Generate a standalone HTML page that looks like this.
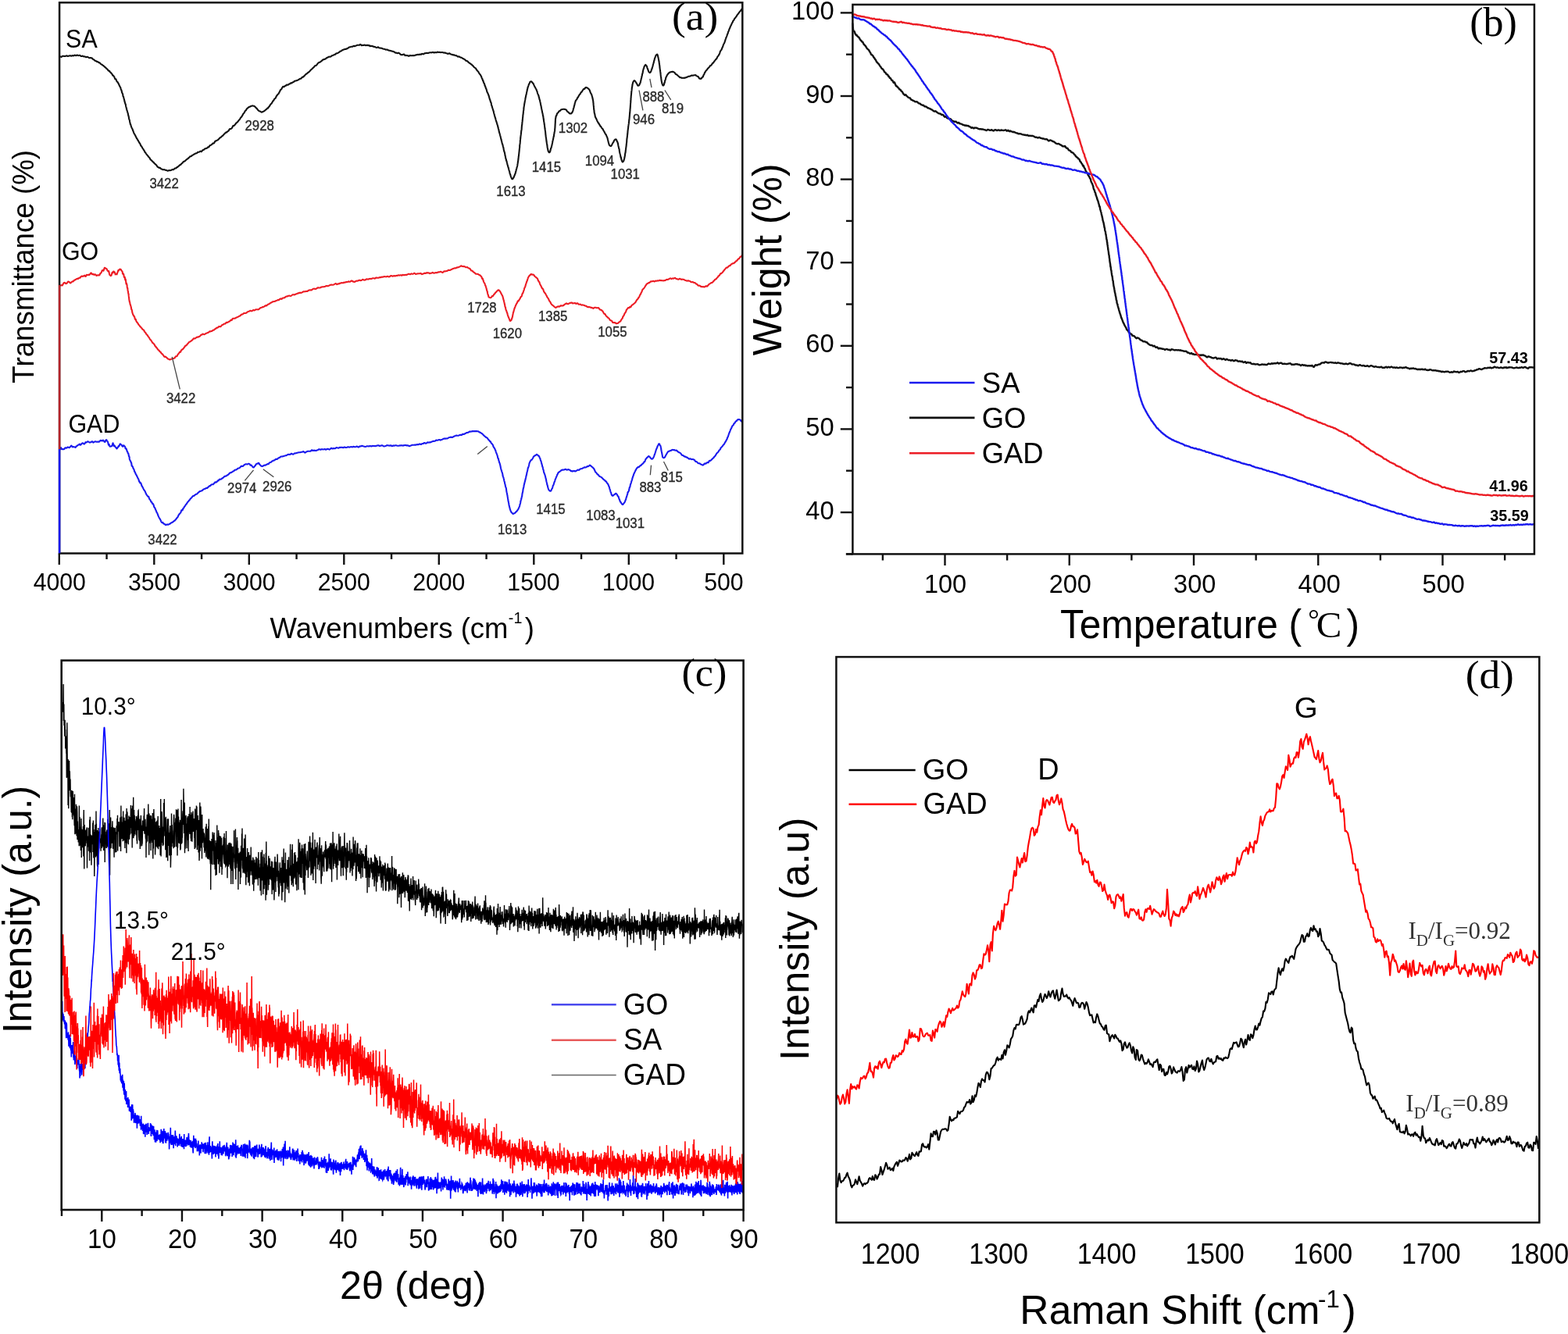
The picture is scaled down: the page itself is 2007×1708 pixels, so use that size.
<!DOCTYPE html>
<html><head><meta charset="utf-8"><title>Figure</title>
<style>html,body{margin:0;padding:0;background:#fff;}svg{display:block;}</style></head>
<body><svg width="2007" height="1708" viewBox="0 0 2007 1708">
<rect x="0" y="0" width="2007" height="1708" fill="#fff"/>
<polyline points="76.7,72.2 77.6,72.6 78.5,72.9 79.4,72.3 80.3,71.7 81.2,71.7 82.1,71.9 83.0,72.0 83.9,71.9 84.8,71.3 85.7,71.5 86.6,72.0 87.5,71.7 88.4,71.6 89.3,71.2 90.2,71.3 91.1,71.7 92.0,71.4 92.9,71.1 93.8,71.4 94.7,71.2 95.6,70.5 96.5,70.9 97.4,71.2 98.3,70.6 99.2,70.6 100.1,71.1 101.0,71.0 101.9,70.8 102.8,71.2 103.7,72.0 104.6,72.0 105.4,71.6 106.3,71.9 107.2,72.5 108.1,72.4 109.0,72.5 109.9,73.1 110.8,73.1 111.6,72.7 112.5,73.1 113.4,73.7 114.2,74.2 115.1,74.1 115.9,73.9 116.7,74.3 117.6,74.4 118.4,75.1 119.2,76.1 120.0,76.3 120.8,76.9 121.6,77.8 122.4,78.0 123.2,78.3 123.9,78.9 124.7,78.9 125.5,79.2 126.2,80.2 127.0,80.1 127.7,80.5 128.5,81.4 129.2,82.1 130.0,82.5 130.7,82.8 131.4,83.6 132.1,83.9 132.8,84.5 133.6,85.3 134.3,85.8 135.0,86.3 135.6,87.0 136.3,87.9 137.0,88.2 137.6,88.8 138.3,89.8 138.9,90.7 139.5,90.6 140.2,91.0 140.8,92.2 141.4,92.7 141.9,93.0 142.5,94.0 143.1,94.6 143.7,95.2 144.2,96.5 144.8,96.7 145.3,97.0 145.8,97.8 146.4,98.7 146.9,100.1 147.4,101.3 147.9,101.2 148.4,101.3 148.9,102.7 149.4,104.0 149.9,104.7 150.4,104.8 150.8,105.6 151.3,106.5 151.7,107.2 152.1,107.8 152.5,108.8 152.9,109.8 153.3,110.5 153.7,111.2 154.0,111.7 154.4,112.5 154.7,114.0 155.0,114.9 155.3,115.1 155.7,116.3 155.9,117.6 156.2,118.7 156.5,119.4 156.8,119.7 157.0,120.1 157.3,121.4 157.5,123.3 157.8,123.6 158.0,123.7 158.3,124.9 158.5,125.8 158.7,126.4 158.9,127.4 159.2,128.4 159.4,129.6 159.6,130.4 159.9,131.3 160.1,132.0 160.3,132.8 160.5,133.2 160.8,133.6 161.0,135.2 161.2,136.3 161.5,137.1 161.7,138.3 162.0,139.3 162.2,140.2 162.4,141.0 162.7,141.7 162.9,142.1 163.1,142.9 163.3,143.8 163.6,144.6 163.8,145.4 164.0,146.5 164.2,147.6 164.4,148.4 164.6,148.8 164.8,149.7 165.0,151.1 165.2,152.3 165.5,153.2 165.7,153.7 165.9,154.2 166.1,155.7 166.4,157.0 166.6,157.8 166.8,159.0 167.1,159.2 167.4,159.7 167.6,160.8 167.9,161.7 168.2,162.6 168.5,163.4 168.8,164.1 169.2,164.5 169.5,165.3 169.8,166.3 170.2,167.2 170.6,168.1 170.9,169.0 171.3,170.2 171.7,170.9 172.1,171.6 172.5,172.3 172.9,173.0 173.3,173.7 173.7,174.5 174.1,175.4 174.6,176.3 175.0,177.2 175.4,177.6 175.9,178.5 176.3,179.4 176.8,179.8 177.2,180.7 177.7,181.5 178.1,182.4 178.6,183.2 179.0,183.7 179.5,184.4 179.9,185.7 180.4,186.7 180.9,186.9 181.3,187.6 181.8,188.3 182.3,189.5 182.8,190.2 183.3,190.7 183.8,191.9 184.2,192.3 184.7,192.9 185.2,194.3 185.7,195.0 186.3,195.6 186.8,196.5 187.3,197.2 187.8,197.8 188.3,198.4 188.9,199.2 189.4,199.7 190.0,200.5 190.5,201.3 191.1,201.6 191.7,202.5 192.3,203.8 192.8,204.6 193.4,204.8 194.0,205.4 194.6,206.1 195.2,206.6 195.8,207.4 196.4,207.6 197.0,208.3 197.6,209.2 198.2,209.7 198.9,210.2 199.5,210.7 200.2,211.4 200.9,212.5 201.5,213.6 202.3,214.0 203.0,214.4 203.7,214.9 204.5,214.7 205.2,215.2 206.0,216.2 206.9,216.4 207.7,216.8 208.5,217.3 209.4,217.3 210.2,217.1 211.1,217.5 212.0,217.9 212.9,218.0 213.8,218.3 214.7,218.8 215.6,218.4 216.5,218.1 217.4,218.3 218.3,218.1 219.1,217.9 220.0,217.4 220.8,217.0 221.7,217.2 222.5,216.9 223.3,215.9 224.1,215.5 224.9,215.5 225.7,215.0 226.5,214.1 227.2,213.9 228.0,213.2 228.7,212.5 229.4,212.2 230.1,211.3 230.8,211.0 231.5,210.7 232.2,209.6 232.9,209.1 233.6,208.7 234.3,207.6 234.9,206.9 235.6,206.8 236.3,206.5 237.0,205.9 237.7,205.2 238.4,204.6 239.0,204.0 239.7,203.6 240.4,203.1 241.2,202.4 241.9,201.9 242.6,201.1 243.3,200.3 244.1,200.3 244.8,200.1 245.6,199.2 246.4,198.7 247.1,198.3 247.9,197.8 248.7,197.4 249.5,197.0 250.3,196.4 251.2,196.2 252.0,196.1 252.8,195.1 253.6,194.8 254.4,194.7 255.3,194.4 256.1,193.9 256.9,193.5 257.7,194.2 258.5,193.4 259.3,192.3 260.1,192.1 260.9,191.7 261.7,190.9 262.5,190.2 263.3,190.2 264.0,189.9 264.8,189.7 265.5,189.0 266.3,188.2 267.0,188.5 267.7,187.7 268.5,186.4 269.2,186.0 269.9,185.7 270.6,185.3 271.3,184.8 272.1,183.9 272.8,183.4 273.5,183.6 274.2,183.2 274.9,181.5 275.6,180.6 276.3,180.5 277.0,180.1 277.7,179.7 278.4,179.4 279.1,179.0 279.8,178.2 280.5,177.5 281.2,176.7 281.9,176.2 282.5,175.9 283.2,175.4 283.9,174.5 284.6,174.0 285.3,173.6 286.0,172.7 286.7,171.9 287.4,171.3 288.1,170.7 288.8,169.7 289.5,169.4 290.1,169.6 290.8,168.7 291.5,168.2 292.2,167.8 292.9,167.0 293.5,165.8 294.2,165.1 294.9,165.1 295.6,164.9 296.2,164.6 296.9,163.9 297.5,162.7 298.2,161.3 298.8,161.0 299.5,160.9 300.1,160.3 300.8,159.7 301.4,158.9 302.0,157.9 302.7,157.3 303.3,156.9 303.9,156.2 304.5,155.7 305.0,154.9 305.6,154.2 306.1,153.5 306.7,152.9 307.2,152.3 307.7,151.3 308.3,150.3 308.8,150.0 309.3,149.4 309.8,148.5 310.3,147.9 310.8,146.8 311.3,145.8 311.8,145.2 312.3,144.7 312.8,144.0 313.3,143.0 313.8,142.0 314.4,141.5 314.9,141.2 315.5,140.0 316.0,139.1 316.6,138.8 317.2,138.2 317.9,137.6 318.6,137.0 319.4,136.9 320.2,136.5 321.0,136.0 321.9,135.8 322.8,135.4 323.7,135.5 324.6,135.8 325.4,135.8 326.1,136.4 326.8,137.1 327.5,137.8 328.1,138.5 328.8,138.9 329.4,139.8 330.0,140.8 330.7,141.4 331.3,141.9 332.0,142.2 332.8,142.5 333.5,142.9 334.4,143.5 335.3,143.7 336.1,143.0 337.0,142.7 337.8,142.4 338.5,141.9 339.3,141.4 340.0,140.6 340.6,140.2 341.3,139.8 341.9,138.8 342.5,138.4 343.1,138.5 343.7,137.3 344.3,136.6 344.9,136.1 345.4,134.9 346.0,134.3 346.5,133.3 347.1,132.9 347.6,132.6 348.1,131.5 348.7,130.6 349.2,129.7 349.7,128.9 350.2,128.7 350.7,127.7 351.3,126.6 351.8,126.3 352.3,125.9 352.8,125.4 353.3,124.3 353.8,123.1 354.3,122.6 354.8,121.9 355.3,121.0 355.8,120.6 356.4,120.3 356.9,119.4 357.4,118.2 357.9,117.6 358.4,116.4 358.8,115.5 359.2,114.9 359.7,114.6 360.2,114.2 360.7,113.1 361.4,112.2 362.0,111.1 362.8,110.8 363.5,111.2 364.3,110.4 365.1,109.8 365.9,109.7 366.7,108.8 367.5,108.5 368.4,108.8 369.2,108.3 370.0,107.6 370.9,107.4 371.7,106.7 372.5,106.2 373.3,106.4 374.1,105.7 375.0,105.3 375.8,105.1 376.6,104.1 377.4,103.8 378.2,103.6 379.1,103.4 379.9,102.9 380.7,102.7 381.5,102.4 382.3,101.9 383.1,101.5 383.9,100.9 384.7,100.8 385.4,100.5 386.2,99.6 386.9,98.8 387.6,98.6 388.3,98.5 389.0,97.6 389.7,96.9 390.4,96.2 391.1,95.3 391.8,94.8 392.5,94.5 393.1,94.1 393.8,93.3 394.4,92.7 395.1,92.5 395.8,91.7 396.4,91.2 397.1,90.4 397.7,89.6 398.4,89.1 399.0,88.5 399.7,88.0 400.4,87.1 401.0,86.6 401.7,86.1 402.4,85.2 403.0,84.4 403.7,84.0 404.4,84.0 405.0,83.5 405.7,82.8 406.4,81.7 407.1,80.8 407.8,80.4 408.5,79.8 409.3,79.7 410.0,79.4 410.7,78.6 411.5,78.2 412.2,77.5 413.0,76.7 413.8,76.3 414.5,76.1 415.3,76.0 416.1,75.5 416.9,75.3 417.7,74.5 418.5,73.7 419.4,73.7 420.2,73.1 421.0,72.6 421.8,72.7 422.6,72.7 423.5,72.3 424.3,71.8 425.1,71.1 425.9,71.0 426.7,70.6 427.6,70.0 428.4,70.0 429.2,69.5 430.0,68.7 430.8,68.3 431.6,68.2 432.4,67.9 433.2,67.4 434.0,67.0 434.8,66.2 435.6,65.5 436.4,65.5 437.2,65.1 438.0,64.3 438.8,63.9 439.6,63.6 440.4,63.4 441.3,63.0 442.1,62.7 442.9,62.9 443.7,62.5 444.5,62.0 445.4,61.8 446.2,60.9 447.0,60.5 447.9,60.2 448.7,60.1 449.6,59.8 450.5,59.7 451.3,59.8 452.2,58.9 453.1,58.7 454.0,59.3 454.8,58.7 455.7,58.5 456.6,58.1 457.5,57.8 458.4,57.7 459.3,57.7 460.2,57.6 461.1,56.9 462.0,57.3 462.9,58.3 463.8,58.0 464.7,57.7 465.6,57.9 466.5,57.6 467.4,57.8 468.3,58.2 469.2,57.9 470.1,57.8 471.0,58.2 471.9,57.9 472.8,58.3 473.6,59.2 474.5,58.8 475.4,58.9 476.3,59.3 477.2,59.1 478.0,59.7 478.9,60.0 479.8,59.9 480.6,60.4 481.5,60.9 482.4,61.0 483.3,60.6 484.1,60.3 485.0,61.1 485.9,61.5 486.7,61.5 487.6,61.6 488.5,61.8 489.4,62.0 490.2,62.6 491.1,62.8 492.0,62.7 492.9,63.1 493.7,63.6 494.6,63.5 495.5,63.5 496.3,64.0 497.2,64.3 498.1,64.7 499.0,64.7 499.8,64.9 500.7,65.2 501.6,65.5 502.4,65.8 503.3,65.9 504.1,66.2 505.0,66.7 505.8,67.5 506.7,67.6 507.5,67.5 508.4,68.2 509.2,68.0 510.1,67.6 510.9,68.1 511.8,68.7 512.6,69.8 513.5,70.1 514.3,70.1 515.2,70.2 516.1,69.7 517.0,69.4 517.8,70.4 518.7,71.1 519.6,70.7 520.5,71.1 521.4,71.1 522.3,71.2 523.2,71.9 524.1,71.5 525.0,70.9 525.9,71.3 526.8,71.2 527.7,71.1 528.6,71.1 529.5,70.9 530.4,71.1 531.3,70.7 532.1,70.4 533.0,70.4 533.9,70.0 534.8,69.7 535.7,69.9 536.6,69.9 537.5,69.6 538.3,69.6 539.2,69.6 540.1,68.8 541.0,69.0 541.9,69.4 542.7,68.9 543.6,68.2 544.5,68.1 545.4,67.9 546.3,67.7 547.2,68.0 548.1,68.0 548.9,67.6 549.8,67.4 550.7,67.3 551.6,67.3 552.5,67.4 553.4,67.0 554.3,66.8 555.2,67.4 556.1,67.4 557.0,66.9 557.9,67.2 558.8,67.3 559.7,66.6 560.6,66.8 561.5,66.9 562.4,66.7 563.3,67.0 564.2,67.1 565.1,67.0 566.0,67.0 566.9,67.1 567.8,67.5 568.7,67.6 569.6,67.4 570.5,68.1 571.3,68.3 572.2,68.3 573.1,68.9 574.0,68.7 574.9,68.3 575.8,68.6 576.6,69.3 577.5,69.6 578.4,69.7 579.2,70.0 580.1,70.5 581.0,70.3 581.8,70.6 582.7,71.1 583.5,71.0 584.4,71.2 585.2,72.0 586.1,72.6 586.9,72.2 587.7,72.4 588.5,73.1 589.4,73.4 590.2,73.7 591.0,73.8 591.8,74.5 592.6,75.1 593.4,75.3 594.1,75.8 594.9,76.2 595.7,76.9 596.4,77.7 597.2,77.9 597.9,78.1 598.7,78.6 599.4,79.6 600.1,80.2 600.8,80.6 601.5,81.1 602.2,81.5 602.9,82.2 603.6,82.5 604.3,83.3 605.0,84.2 605.6,84.3 606.3,85.4 606.9,86.2 607.6,86.6 608.2,87.0 608.8,87.4 609.4,88.2 610.0,89.5 610.5,89.9 611.1,90.7 611.6,91.3 612.2,91.6 612.7,92.7 613.2,93.6 613.7,94.4 614.1,95.0 614.6,95.4 615.0,96.0 615.4,96.7 615.9,97.7 616.3,98.5 616.6,99.6 617.0,100.6 617.4,100.9 617.8,102.4 618.1,103.4 618.5,103.5 618.8,104.8 619.1,106.1 619.5,106.4 619.8,106.7 620.1,107.6 620.4,109.0 620.8,110.0 621.1,110.4 621.4,111.3 621.7,112.6 622.0,113.1 622.3,113.6 622.6,114.5 623.0,115.9 623.3,117.4 623.6,118.0 623.9,118.4 624.2,119.2 624.5,119.6 624.8,120.4 625.1,121.4 625.4,121.9 625.7,122.9 626.0,123.9 626.3,125.1 626.6,126.2 626.8,126.9 627.1,127.4 627.4,128.4 627.7,129.4 627.9,130.4 628.2,131.1 628.5,131.1 628.7,132.1 629.0,134.0 629.2,135.0 629.5,135.4 629.8,136.3 630.0,137.4 630.3,138.1 630.5,138.8 630.8,139.6 631.0,140.6 631.3,141.3 631.5,141.9 631.8,142.9 632.0,144.2 632.3,145.2 632.5,145.9 632.8,146.8 633.0,148.1 633.3,148.9 633.5,149.4 633.8,150.7 634.0,151.3 634.3,151.8 634.5,152.9 634.8,154.1 635.0,154.8 635.3,155.4 635.5,156.2 635.8,156.7 636.0,157.8 636.3,158.9 636.5,159.1 636.7,160.0 637.0,160.9 637.2,161.6 637.4,162.8 637.7,163.7 637.9,164.8 638.1,165.5 638.4,166.2 638.6,167.5 638.8,168.7 639.1,169.6 639.3,170.2 639.5,170.9 639.8,171.7 640.0,172.8 640.2,173.6 640.5,174.3 640.7,175.3 640.9,176.1 641.1,176.9 641.4,178.2 641.6,179.0 641.8,179.5 642.0,180.5 642.3,181.5 642.5,182.4 642.7,183.2 642.9,184.2 643.2,184.7 643.4,185.3 643.6,186.3 643.8,187.2 644.0,188.1 644.3,188.7 644.5,189.8 644.7,191.2 644.9,192.2 645.1,192.8 645.3,193.9 645.5,194.5 645.7,194.6 645.9,195.6 646.2,196.9 646.4,198.1 646.6,199.5 646.8,199.8 647.0,200.8 647.2,202.3 647.4,202.8 647.6,203.4 647.8,204.6 648.0,205.4 648.2,205.7 648.5,206.6 648.7,207.3 648.9,208.2 649.2,209.3 649.4,210.2 649.6,211.1 649.9,211.7 650.1,212.8 650.4,213.7 650.6,214.4 650.8,215.2 651.1,215.9 651.3,217.0 651.5,217.8 651.8,218.7 652.0,219.1 652.2,219.9 652.4,221.2 652.7,222.4 652.9,223.0 653.2,223.3 653.4,224.2 653.7,225.5 654.0,226.4 654.4,227.1 654.8,228.2 655.4,229.3 656.2,229.3 656.8,228.3 657.3,227.4 657.7,226.8 658.1,225.6 658.4,225.0 658.7,224.5 659.0,223.4 659.3,222.8 659.6,222.2 659.8,221.2 660.1,220.4 660.3,219.6 660.6,218.2 660.8,217.1 661.0,216.7 661.3,215.7 661.5,214.6 661.7,214.0 661.9,213.4 662.1,212.7 662.3,211.7 662.4,210.5 662.6,209.7 662.7,208.9 662.9,207.8 663.0,207.1 663.1,206.3 663.3,205.0 663.4,204.3 663.5,203.5 663.6,202.5 663.7,201.3 663.8,200.3 664.0,199.5 664.1,198.4 664.2,197.3 664.2,197.1 664.3,196.6 664.4,195.3 664.5,194.6 664.6,193.7 664.7,192.6 664.8,191.5 664.9,190.5 665.0,189.8 665.1,189.0 665.2,188.2 665.2,186.9 665.3,185.6 665.4,184.8 665.5,184.4 665.6,183.8 665.7,182.9 665.8,181.5 665.9,179.9 665.9,179.3 666.0,178.9 666.1,178.0 666.2,177.3 666.3,176.5 666.4,175.2 666.5,174.2 666.6,173.6 666.7,172.9 666.8,172.0 666.9,171.5 667.0,170.6 667.1,169.2 667.2,168.2 667.3,167.2 667.5,166.6 667.6,165.9 667.7,164.9 667.7,164.0 667.8,163.1 667.9,161.7 668.0,160.1 668.1,160.1 668.2,160.1 668.3,158.7 668.4,157.3 668.5,156.1 668.6,155.9 668.7,154.6 668.8,153.4 668.9,153.3 668.9,152.5 669.0,151.6 669.1,150.6 669.2,150.1 669.3,149.0 669.4,147.3 669.5,146.7 669.6,146.4 669.7,145.4 669.8,144.4 669.9,143.4 670.0,142.1 670.1,141.6 670.2,141.3 670.3,140.4 670.4,139.1 670.5,137.6 670.7,136.6 670.8,135.9 670.9,135.4 671.0,134.6 671.2,133.3 671.3,132.3 671.5,131.8 671.6,130.9 671.8,130.0 671.9,129.0 672.1,128.3 672.3,127.4 672.4,126.5 672.6,125.4 672.8,124.6 673.0,123.8 673.2,122.4 673.4,121.7 673.6,121.2 673.7,120.4 673.9,119.5 674.1,118.4 674.3,117.6 674.5,116.8 674.7,115.8 674.9,114.5 675.1,114.1 675.3,113.3 675.5,111.9 675.8,111.5 676.0,110.8 676.3,110.0 676.5,109.2 676.8,108.5 677.2,107.5 677.5,107.1 678.0,106.0 678.5,104.7 679.2,104.4 680.1,104.2 680.8,104.9 681.5,106.0 682.0,106.5 682.5,106.8 683.0,107.8 683.4,108.9 683.9,109.9 684.3,110.8 684.7,111.3 685.1,111.8 685.4,112.6 685.8,113.5 686.2,113.9 686.6,114.8 686.9,115.9 687.3,116.7 687.6,117.4 687.9,118.7 688.2,119.8 688.5,120.5 688.8,121.0 689.1,121.5 689.3,122.4 689.6,123.5 689.8,124.4 690.1,125.2 690.3,126.3 690.5,127.3 690.8,127.8 691.0,128.5 691.2,129.4 691.4,130.4 691.6,131.2 691.8,132.0 692.0,133.3 692.1,134.2 692.3,134.7 692.5,135.5 692.7,136.6 692.9,137.7 693.1,138.7 693.2,139.5 693.4,139.9 693.6,141.1 693.8,142.3 694.0,143.0 694.1,143.9 694.3,144.5 694.5,145.2 694.7,146.4 694.9,147.5 695.0,148.4 695.2,148.4 695.3,149.2 695.5,150.8 695.7,152.0 695.8,153.0 696.0,154.2 696.1,155.2 696.2,155.8 696.4,156.6 696.5,156.9 696.6,157.8 696.7,159.1 696.9,159.7 697.0,160.6 697.1,161.7 697.2,162.4 697.3,163.2 697.4,164.1 697.5,165.1 697.7,165.9 697.8,166.9 697.9,167.5 698.0,168.2 698.1,169.1 698.2,170.0 698.3,171.3 698.4,172.3 698.5,173.1 698.6,174.0 698.7,175.2 698.9,175.9 699.0,176.6 699.1,177.4 699.2,178.0 699.3,179.3 699.4,180.1 699.5,181.0 699.7,182.2 699.8,182.8 699.9,183.5 700.1,184.6 700.2,185.1 700.3,186.0 700.5,187.2 700.6,188.4 700.8,189.2 701.0,190.2 701.2,191.2 701.4,192.1 701.6,193.2 701.9,193.7 702.3,194.6 702.9,195.3 703.6,195.0 704.0,194.4 704.4,193.2 704.7,191.7 705.0,190.4 705.2,189.7 705.5,189.5 705.7,188.8 705.9,187.8 706.2,186.8 706.4,185.8 706.6,184.9 706.8,184.2 707.0,183.0 707.2,182.2 707.3,181.4 707.5,180.3 707.7,179.6 707.9,178.7 708.1,177.7 708.3,176.7 708.4,176.0 708.6,175.1 708.8,174.8 709.0,174.1 709.1,172.5 709.3,171.6 709.5,170.6 709.6,169.4 709.8,168.6 709.9,168.3 710.1,167.2 710.2,166.2 710.2,165.4 710.3,164.5 710.4,163.9 710.4,163.1 710.5,162.2 710.5,161.1 710.6,160.3 710.6,159.4 710.7,158.4 710.7,157.8 710.8,156.7 710.8,155.4 710.9,154.7 710.9,153.9 711.0,152.6 711.1,151.7 711.3,151.2 711.4,150.5 711.6,149.0 711.8,148.3 712.1,148.4 712.4,147.8 712.8,146.4 713.2,145.2 713.7,144.7 714.3,144.2 714.9,143.5 715.6,142.4 716.2,142.0 717.0,141.8 717.7,140.8 718.5,140.2 719.3,140.1 720.1,139.9 721.0,139.7 721.9,139.8 722.8,139.9 723.6,140.1 724.3,140.2 725.0,140.9 725.7,142.1 726.4,143.0 727.0,143.4 727.6,143.6 728.3,144.5 729.0,145.3 729.8,145.5 730.7,145.5 731.5,145.0 732.1,144.3 732.6,143.6 733.0,142.6 733.3,141.9 733.6,141.0 733.8,139.7 734.1,138.7 734.3,138.4 734.5,137.7 734.7,136.6 734.9,135.9 735.1,135.2 735.4,134.4 735.6,133.2 735.8,132.2 736.1,131.4 736.4,130.4 736.7,129.3 737.1,128.7 737.5,128.0 737.9,127.7 738.4,127.1 738.9,125.8 739.3,125.0 739.8,124.7 740.3,123.8 740.8,122.6 741.3,121.9 741.8,121.1 742.3,120.5 742.8,120.1 743.3,119.0 743.8,118.1 744.4,118.0 744.9,117.2 745.5,116.1 746.1,115.3 746.7,114.2 747.3,113.7 748.0,113.9 748.7,113.2 749.4,112.1 750.3,111.9 751.1,112.2 752.0,112.6 752.7,113.3 753.3,113.7 753.9,114.3 754.3,114.8 754.8,115.7 755.2,116.9 755.5,117.7 755.9,118.8 756.2,119.3 756.6,119.9 756.9,120.6 757.2,121.0 757.5,122.0 757.8,123.4 758.1,124.0 758.3,125.0 758.5,126.1 758.7,126.9 758.9,127.6 759.0,128.1 759.2,129.3 759.3,130.7 759.4,131.4 759.5,132.1 759.6,132.9 759.6,133.9 759.7,134.7 759.8,135.2 759.9,136.4 760.0,137.4 760.1,138.1 760.1,139.2 760.2,140.2 760.4,140.8 760.5,141.9 760.6,143.3 760.7,144.1 760.9,145.1 761.1,145.7 761.2,145.6 761.4,146.7 761.7,148.5 761.9,149.6 762.2,150.1 762.5,150.6 762.9,151.6 763.2,152.1 763.6,152.7 764.0,153.8 764.5,155.0 764.9,155.8 765.4,156.6 765.8,157.5 766.3,157.6 766.8,158.8 767.3,159.7 767.8,160.1 768.3,161.4 768.8,161.9 769.3,162.0 769.8,163.1 770.3,164.1 770.8,164.4 771.3,164.9 771.9,165.8 772.4,167.0 772.9,167.8 773.4,168.4 773.8,169.6 774.3,170.5 774.8,171.2 775.2,172.0 775.6,172.2 776.0,173.0 776.4,174.2 776.7,174.8 777.0,175.3 777.2,175.9 777.5,176.7 777.8,177.9 778.0,178.8 778.2,179.5 778.4,180.5 778.7,181.7 778.9,182.6 779.2,183.3 779.4,184.5 779.7,185.3 780.1,186.0 780.6,186.5 781.3,187.0 782.1,187.0 782.7,186.3 783.2,185.4 783.7,184.4 784.1,183.6 784.5,182.9 784.9,182.4 785.3,181.9 785.8,180.6 786.2,179.8 786.7,179.2 787.4,178.5 788.2,178.4 788.8,178.6 789.3,179.6 789.7,180.9 790.0,181.2 790.3,181.6 790.6,182.6 790.8,183.6 791.1,184.5 791.3,185.8 791.5,187.0 791.7,187.7 791.9,188.6 792.1,189.8 792.3,190.3 792.5,190.5 792.7,191.7 792.8,193.1 793.0,194.3 793.2,195.3 793.4,195.9 793.6,196.8 793.8,197.3 793.9,197.9 794.1,198.9 794.3,200.1 794.5,201.2 794.7,201.0 795.0,202.1 795.2,203.4 795.4,204.1 795.7,205.1 796.0,205.8 796.4,206.9 797.0,207.5 797.6,206.7 798.1,206.2 798.4,205.7 798.7,204.5 799.0,203.7 799.2,202.7 799.3,202.1 799.5,201.4 799.7,200.2 799.9,199.3 800.0,198.2 800.1,196.9 800.3,196.3 800.4,195.7 800.6,195.1 800.7,194.2 800.8,192.8 800.9,191.9 801.0,191.4 801.1,190.6 801.2,189.6 801.4,188.3 801.5,187.6 801.6,186.8 801.7,185.8 801.8,184.7 801.9,183.8 802.0,183.1 802.1,182.3 802.2,181.9 802.2,181.0 802.3,179.5 802.4,178.2 802.5,177.3 802.6,176.8 802.7,176.2 802.8,175.2 802.9,174.3 803.0,173.4 803.1,172.6 803.2,172.0 803.3,170.9 803.4,169.7 803.5,168.4 803.6,167.2 803.7,166.6 803.8,165.7 803.9,165.0 804.0,164.6 804.1,163.5 804.2,162.3 804.3,161.4 804.4,160.7 804.5,159.8 804.7,158.9 804.8,158.2 804.9,157.3 805.0,156.5 805.1,155.5 805.2,154.5 805.3,154.0 805.4,153.1 805.5,152.0 805.6,151.1 805.7,149.9 805.8,148.9 805.9,147.9 805.9,147.1 806.0,146.3 806.1,145.3 806.2,144.8 806.3,144.0 806.3,143.0 806.4,142.2 806.5,141.3 806.5,140.2 806.6,139.1 806.7,138.9 806.7,138.2 806.8,136.9 806.9,135.9 806.9,135.0 807.0,133.8 807.1,132.5 807.1,132.0 807.2,131.4 807.3,130.4 807.3,129.2 807.4,128.4 807.5,127.5 807.5,126.4 807.6,125.2 807.7,124.6 807.7,123.6 807.8,122.5 807.9,121.8 808.0,120.9 808.1,120.2 808.1,119.5 808.2,118.5 808.3,117.5 808.4,116.4 808.5,115.9 808.6,115.2 808.7,114.1 808.8,113.2 808.9,112.5 809.0,111.5 809.2,110.9 809.3,109.9 809.5,108.8 809.6,108.1 809.8,107.1 810.1,105.9 810.3,105.2 810.6,104.6 811.2,103.8 811.8,103.1 812.5,103.5 813.1,104.0 813.6,104.8 814.0,105.4 814.5,106.1 814.9,107.0 815.4,107.7 815.9,108.9 816.4,109.6 817.2,109.7 817.9,109.3 818.4,108.6 818.8,107.6 819.1,106.8 819.4,106.3 819.7,105.7 819.9,104.6 820.2,103.3 820.4,102.5 820.6,101.6 820.8,100.7 821.0,99.9 821.2,99.3 821.4,98.3 821.6,97.3 821.8,96.9 822.0,95.4 822.2,94.3 822.4,94.1 822.6,93.5 822.8,92.0 823.0,90.8 823.2,90.0 823.4,89.0 823.6,88.2 823.9,88.0 824.1,87.3 824.4,86.0 824.7,85.0 825.1,84.4 825.5,83.9 826.2,82.9 826.9,83.6 827.4,84.3 827.8,84.7 828.2,85.9 828.5,87.1 828.8,87.8 829.1,88.3 829.4,89.5 829.8,90.4 830.1,91.2 830.5,92.1 831.0,92.7 831.7,93.1 832.4,92.8 832.9,91.9 833.3,91.3 833.7,90.0 834.0,88.7 834.3,88.5 834.6,88.0 834.8,86.7 835.1,85.8 835.3,85.3 835.6,84.2 835.8,83.3 836.0,82.5 836.3,81.5 836.5,80.6 836.8,80.0 837.0,78.9 837.2,77.7 837.5,77.2 837.7,76.2 838.0,74.8 838.2,74.4 838.5,73.8 838.8,72.8 839.1,72.0 839.4,71.0 839.8,70.8 840.4,70.1 841.1,69.5 841.6,70.1 841.9,71.0 842.2,72.5 842.4,73.4 842.7,74.1 842.8,74.9 843.0,76.0 843.1,77.0 843.3,77.3 843.4,78.3 843.6,79.4 843.7,80.2 843.8,81.2 843.9,82.1 844.1,82.9 844.2,83.6 844.3,84.1 844.4,85.4 844.5,86.6 844.6,87.4 844.7,88.2 844.8,88.6 844.9,89.3 845.1,90.9 845.2,91.9 845.3,92.4 845.4,93.2 845.5,94.0 845.6,95.2 845.7,96.1 845.8,97.1 845.9,97.9 846.1,98.7 846.2,99.7 846.3,100.8 846.4,101.6 846.6,102.8 846.7,103.8 846.9,104.3 847.0,105.1 847.2,106.1 847.4,106.9 847.6,107.2 847.9,108.1 848.4,109.3 849.0,109.6 849.5,109.1 849.9,108.5 850.2,107.0 850.4,106.1 850.7,106.0 850.9,105.0 851.1,103.4 851.4,102.8 851.6,102.5 851.8,101.8 852.1,100.6 852.3,99.5 852.6,98.8 852.9,98.2 853.3,97.7 853.7,96.6 854.2,95.7 854.8,95.0 855.4,94.2 856.1,93.5 856.8,92.7 857.6,92.6 858.4,92.2 859.3,92.0 860.2,91.9 861.1,91.8 862.0,92.1 862.8,92.5 863.5,93.0 864.2,93.9 864.8,95.1 865.5,95.3 866.1,95.3 866.8,96.1 867.4,96.5 868.1,97.2 868.8,97.8 869.5,98.3 870.3,99.2 871.1,99.2 871.9,99.3 872.8,100.0 873.7,99.8 874.6,99.8 875.5,99.9 876.4,99.6 877.2,99.6 878.1,99.2 879.0,98.8 879.8,98.7 880.7,98.1 881.5,97.8 882.4,97.7 883.2,97.6 884.1,97.1 885.0,96.6 885.8,96.6 886.7,96.8 887.6,96.5 888.5,96.3 889.4,96.2 890.3,96.1 891.1,96.8 891.9,97.3 892.6,97.7 893.2,97.8 893.9,98.3 894.5,99.6 895.2,100.6 895.9,100.6 896.8,100.9 897.7,100.6 898.3,99.6 898.9,98.8 899.4,98.5 899.8,98.4 900.2,97.1 900.6,95.9 901.0,95.5 901.4,95.1 901.8,93.6 902.3,92.4 902.7,92.3 903.2,91.2 903.7,90.4 904.3,90.0 904.8,89.4 905.4,88.5 906.0,87.8 906.6,87.1 907.2,86.5 907.8,86.0 908.4,85.1 909.0,84.1 909.6,83.9 910.2,83.7 910.8,82.9 911.5,81.9 912.1,80.9 912.7,80.8 913.2,80.3 913.8,79.1 914.4,78.3 915.0,77.8 915.5,77.0 916.1,76.1 916.6,75.7 917.2,75.3 917.7,74.2 918.2,73.0 918.7,72.2 919.2,71.8 919.6,71.3 920.0,70.4 920.5,69.7 920.9,69.0 921.3,67.8 921.7,66.4 922.1,65.5 922.5,64.9 922.9,64.4 923.3,63.9 923.6,63.4 924.0,62.5 924.3,61.2 924.7,60.8 925.0,60.3 925.4,58.9 925.7,58.0 926.0,56.9 926.4,56.3 926.7,55.8 927.0,55.2 927.4,54.5 927.7,53.5 928.0,52.7 928.3,51.6 928.6,50.4 929.0,49.6 929.3,48.6 929.6,47.7 929.9,47.1 930.2,46.4 930.5,45.6 930.9,44.2 931.2,43.4 931.5,43.3 931.8,42.0 932.1,40.7 932.4,40.3 932.8,39.3 933.1,38.4 933.4,37.8 933.7,36.8 934.1,36.0 934.4,35.6 934.7,34.4 935.1,33.5 935.4,33.1 935.8,32.3 936.2,31.3 936.5,30.7 936.9,29.7 937.3,29.0 937.8,28.3 938.2,27.1 938.6,26.4 939.1,26.0 939.6,25.3 940.0,24.2 940.5,23.4 941.0,23.1 941.6,22.3 942.1,21.5 942.6,21.0 943.1,20.0 943.7,19.1 944.2,18.4 944.8,17.8 945.3,17.1 945.9,16.1 946.5,15.4 947.0,14.8 947.6,14.2 948.2,13.6 948.8,12.6 949.3,11.6 949.9,11.3" fill="none" stroke="#111" stroke-width="2.1" stroke-linejoin="round" stroke-linecap="round"/>
<polyline points="76.3,364.9 77.2,365.3 78.0,365.5 78.9,365.1 79.8,365.4 80.6,363.9 81.5,362.2 82.3,361.9 83.2,362.0 84.1,363.2 84.9,363.0 85.8,362.5 86.7,361.0 87.5,360.5 88.4,360.9 89.3,361.7 90.1,362.5 91.0,361.8 91.8,360.9 92.7,360.4 93.5,360.5 94.4,359.6 95.2,358.6 96.1,358.4 96.9,358.0 97.7,357.3 98.5,357.1 99.3,356.6 100.2,356.9 101.0,356.0 101.8,355.6 102.6,355.8 103.4,354.5 104.2,353.7 105.0,353.5 105.8,353.9 106.6,353.7 107.4,353.1 108.3,352.7 109.1,353.9 109.9,353.8 110.8,351.9 111.6,352.0 112.5,352.1 113.4,351.6 114.3,352.0 115.2,351.2 116.1,349.6 117.0,349.6 117.9,351.1 118.8,351.1 119.7,351.1 120.6,351.9 121.5,351.3 122.4,351.5 123.3,352.9 124.2,352.7 125.1,352.3 126.0,352.2 126.8,352.6 127.7,351.7 128.4,349.9 129.2,349.6 129.9,348.5 130.6,346.5 131.2,345.9 131.8,346.5 132.5,346.7 133.1,344.9 133.8,342.8 134.6,343.1 135.4,343.8 136.3,344.0 137.0,345.1 137.6,346.6 138.1,347.1 138.5,347.5 138.9,347.4 139.2,347.1 139.6,348.8 140.0,350.8 140.4,351.9 141.0,352.5 141.7,353.1 142.5,352.8 143.1,350.5 143.6,348.8 144.0,349.5 144.5,349.5 145.1,347.6 145.8,347.5 146.5,348.7 146.9,348.6 147.3,349.9 147.6,351.4 148.2,351.0 149.0,351.0 149.6,351.3 150.2,349.4 150.6,348.4 151.1,346.8 151.6,345.8 152.0,346.5 152.5,345.7 153.1,344.7 153.8,344.6 154.7,345.0 155.3,346.3 155.8,347.0 156.3,347.0 156.7,348.2 157.0,350.5 157.4,350.7 157.7,350.6 158.1,350.6 158.4,352.0 158.7,354.2 159.1,355.1 159.4,355.5 159.7,354.8 160.0,356.3 160.2,358.3 160.5,358.0 160.7,357.5 161.0,359.2 161.2,360.9 161.4,363.0 161.6,363.6 161.9,362.6 162.1,363.8 162.3,364.0 162.5,364.5 162.7,367.2 162.9,368.5 163.1,368.2 163.2,368.4 163.4,370.0 163.6,371.9 163.7,372.6 163.9,372.9 164.0,373.8 164.1,375.1 164.3,375.5 164.4,376.5 164.5,376.7 164.6,376.6 164.7,378.4 164.9,379.9 165.0,380.4 165.1,381.5 165.3,383.5 165.4,384.4 165.6,384.9 165.7,386.0 165.9,386.9 166.1,386.9 166.3,387.5 166.5,389.5 166.7,389.9 167.0,390.2 167.2,391.4 167.4,391.9 167.6,392.5 167.8,393.8 168.1,395.3 168.3,396.2 168.6,396.3 168.8,397.0 169.1,398.6 169.3,399.9 169.6,400.9 169.9,401.7 170.2,402.7 170.5,403.5 170.8,403.6 171.2,404.2 171.5,405.1 171.9,405.1 172.2,405.7 172.6,407.9 173.0,408.9 173.5,408.4 173.9,409.4 174.4,411.2 174.9,412.0 175.3,412.5 175.9,413.2 176.4,413.8 176.9,414.9 177.5,415.8 178.0,416.2 178.6,416.9 179.1,417.9 179.7,418.4 180.3,418.9 180.9,419.7 181.4,420.1 182.0,421.0 182.6,421.8 183.2,422.1 183.7,422.4 184.3,423.0 184.9,424.5 185.4,425.2 186.0,425.6 186.5,426.5 187.1,427.3 187.6,428.2 188.1,428.6 188.7,429.1 189.2,430.1 189.7,430.9 190.3,431.6 190.8,432.2 191.3,433.1 191.9,434.3 192.4,435.0 192.9,435.2 193.4,435.9 194.0,436.8 194.5,437.5 195.1,438.7 195.6,439.2 196.1,439.5 196.7,440.1 197.2,440.7 197.8,441.5 198.3,442.7 198.9,443.6 199.5,443.8 200.0,444.9 200.6,445.4 201.2,445.8 201.7,447.1 202.3,447.7 202.8,448.1 203.4,448.6 204.0,449.3 204.5,450.2 205.1,450.4 205.7,450.8 206.3,452.1 206.9,452.7 207.5,452.9 208.1,453.7 208.8,454.5 209.4,455.4 210.1,456.5 210.8,456.9 211.6,456.6 212.3,457.0 213.1,457.7 213.9,458.4 214.7,459.4 215.5,459.6 216.4,460.0 217.3,460.5 218.1,460.3 219.0,459.8 219.9,459.5 220.8,459.1 221.6,459.0 222.4,458.9 223.1,458.5 223.9,458.0 224.6,456.7 225.3,456.2 225.9,456.3 226.6,455.9 227.2,454.8 227.8,453.5 228.4,453.1 229.0,452.3 229.6,451.3 230.1,450.6 230.7,450.9 231.3,450.3 231.9,448.7 232.4,448.1 233.0,447.6 233.6,447.4 234.2,446.9 234.8,446.1 235.4,445.3 236.0,444.5 236.7,443.6 237.3,442.6 237.9,442.6 238.6,442.2 239.2,441.3 239.8,440.7 240.5,439.8 241.1,439.2 241.8,438.3 242.4,437.7 243.1,437.5 243.8,437.2 244.5,436.6 245.2,436.2 245.9,435.6 246.7,434.8 247.4,433.8 248.2,433.2 249.0,433.6 249.8,433.3 250.6,432.7 251.4,432.2 252.2,431.5 253.0,431.6 253.8,431.5 254.6,431.0 255.5,430.7 256.3,429.9 257.1,428.9 257.9,428.6 258.8,428.4 259.6,427.5 260.4,427.9 261.3,428.3 262.1,427.8 262.9,427.3 263.8,426.8 264.6,426.5 265.4,426.2 266.3,425.8 267.1,425.6 267.9,424.6 268.8,424.3 269.6,424.4 270.4,424.0 271.2,424.0 272.0,423.2 272.8,422.7 273.6,422.7 274.4,421.9 275.2,421.2 276.0,420.9 276.8,420.1 277.6,419.5 278.4,419.7 279.2,419.2 279.9,418.3 280.7,417.9 281.5,418.2 282.3,418.2 283.1,417.4 283.9,416.4 284.6,416.0 285.4,415.7 286.2,415.1 287.0,414.6 287.8,414.5 288.6,414.4 289.3,413.2 290.1,412.7 290.9,412.9 291.7,412.6 292.5,412.1 293.3,411.5 294.1,411.5 294.9,410.2 295.7,409.8 296.5,410.1 297.3,408.9 298.1,407.7 298.9,407.8 299.7,407.8 300.5,407.6 301.2,407.5 302.0,406.8 302.8,406.5 303.6,406.2 304.4,405.7 305.2,405.5 306.0,404.9 306.8,404.5 307.6,404.2 308.4,403.3 309.2,402.6 310.1,402.5 310.9,402.1 311.7,401.4 312.5,400.9 313.3,401.1 314.1,400.9 315.0,400.8 315.8,400.3 316.6,399.4 317.5,399.1 318.3,398.8 319.2,398.5 320.0,397.9 320.9,397.8 321.7,398.3 322.6,398.2 323.5,397.5 324.3,396.9 325.2,397.4 326.1,397.2 326.9,396.6 327.8,396.3 328.7,396.3 329.5,396.3 330.4,396.4 331.3,396.0 332.1,395.2 333.0,394.5 333.8,394.0 334.7,393.8 335.5,393.5 336.3,393.0 337.1,393.0 337.9,392.6 338.7,392.0 339.5,391.5 340.3,391.1 341.1,391.4 341.9,390.7 342.7,389.9 343.5,389.6 344.3,389.2 345.0,388.9 345.8,388.2 346.6,387.7 347.5,387.3 348.3,386.8 349.1,386.2 349.9,386.3 350.7,386.1 351.6,385.7 352.4,385.7 353.2,384.9 354.1,384.7 354.9,384.4 355.8,384.0 356.6,384.3 357.5,383.6 358.3,382.7 359.2,382.4 360.0,382.9 360.9,382.7 361.7,381.5 362.6,381.5 363.4,381.5 364.3,381.0 365.1,380.5 366.0,379.7 366.8,379.5 367.7,379.5 368.5,379.0 369.4,378.7 370.3,378.6 371.1,378.8 372.0,379.0 372.8,378.6 373.7,378.0 374.5,377.3 375.4,377.3 376.3,377.4 377.1,377.4 378.0,377.0 378.9,376.4 379.7,376.3 380.6,375.8 381.4,375.3 382.3,375.4 383.2,375.1 384.0,374.6 384.9,374.9 385.8,374.7 386.6,374.4 387.5,373.8 388.4,373.4 389.2,373.4 390.1,373.3 391.0,373.2 391.8,372.9 392.7,373.0 393.6,372.9 394.4,372.1 395.3,371.6 396.2,371.4 397.0,371.2 397.9,371.4 398.8,371.4 399.6,370.7 400.5,370.2 401.4,369.7 402.3,369.6 403.1,370.0 404.0,370.0 404.9,369.5 405.7,369.1 406.6,368.4 407.5,368.3 408.4,368.5 409.2,368.5 410.1,368.3 411.0,367.6 411.9,367.5 412.7,367.2 413.6,367.3 414.5,367.3 415.4,366.9 416.2,366.7 417.1,366.3 418.0,366.1 418.9,366.1 419.7,366.2 420.6,366.0 421.5,365.4 422.4,365.1 423.3,364.8 424.1,364.6 425.0,364.8 425.9,364.7 426.8,364.5 427.7,364.2 428.6,363.7 429.4,363.1 430.3,363.3 431.2,364.1 432.1,363.7 433.0,363.3 433.9,363.4 434.7,362.8 435.6,362.6 436.5,362.4 437.4,362.0 438.3,362.3 439.2,362.3 440.1,361.6 441.0,361.7 441.8,361.6 442.7,361.1 443.6,361.1 444.5,361.0 445.4,360.7 446.3,360.3 447.2,360.8 448.1,360.8 449.0,360.0 449.9,359.5 450.7,359.6 451.6,360.4 452.5,360.6 453.4,360.9 454.3,360.8 455.2,360.1 456.1,359.6 457.0,359.7 457.9,359.6 458.8,359.2 459.7,358.8 460.6,358.7 461.5,359.3 462.3,359.1 463.2,358.6 464.1,357.9 465.0,358.0 465.9,358.6 466.8,358.5 467.7,358.4 468.6,357.7 469.5,357.2 470.4,357.4 471.3,357.6 472.2,357.1 473.0,357.0 473.9,356.9 474.8,357.0 475.7,356.9 476.6,356.3 477.5,356.3 478.4,356.3 479.3,356.6 480.2,356.5 481.1,355.6 482.0,355.6 482.9,355.8 483.7,355.7 484.6,355.7 485.5,355.3 486.4,355.1 487.3,355.2 488.2,354.8 489.1,354.6 490.0,354.8 490.9,354.4 491.8,354.0 492.7,354.2 493.6,354.3 494.5,354.4 495.4,354.0 496.2,353.8 497.1,354.2 498.0,354.4 498.9,354.1 499.8,353.3 500.7,353.0 501.6,353.2 502.5,353.8 503.4,353.4 504.3,353.1 505.2,353.4 506.1,353.4 507.0,353.0 507.9,352.9 508.8,352.9 509.7,352.4 510.6,352.4 511.5,352.6 512.4,352.2 513.2,352.2 514.1,352.8 515.0,352.2 515.9,351.8 516.8,352.3 517.7,352.1 518.6,351.9 519.5,351.7 520.4,351.9 521.3,351.6 522.2,351.1 523.1,350.8 524.0,350.8 524.9,351.3 525.8,350.8 526.7,350.4 527.6,350.8 528.5,350.8 529.4,350.3 530.3,349.7 531.2,350.1 532.1,351.1 533.0,350.8 533.9,350.4 534.8,350.5 535.7,350.3 536.6,350.2 537.5,350.2 538.3,349.9 539.2,350.4 540.1,351.2 541.0,350.7 541.9,350.4 542.8,350.1 543.7,349.5 544.6,350.0 545.5,349.7 546.4,349.1 547.3,349.4 548.2,349.2 549.1,349.5 550.0,350.2 550.9,349.8 551.8,349.7 552.7,349.4 553.6,348.9 554.5,349.3 555.4,349.7 556.3,349.5 557.2,349.2 558.1,349.0 559.0,349.3 559.9,349.0 560.8,348.3 561.7,348.5 562.6,348.2 563.5,347.9 564.4,347.9 565.3,348.4 566.2,349.0 567.1,348.7 567.9,347.6 568.8,347.2 569.7,347.4 570.6,347.3 571.4,347.0 572.3,346.9 573.2,346.3 574.0,345.7 574.9,345.9 575.7,346.0 576.6,345.7 577.4,345.2 578.3,344.8 579.1,344.3 579.9,344.0 580.8,343.8 581.6,343.3 582.5,343.3 583.3,343.5 584.2,342.8 585.0,342.4 585.9,342.5 586.7,342.1 587.6,341.7 588.5,341.5 589.4,340.9 590.2,340.3 591.1,340.7 592.0,341.0 592.9,341.3 593.8,341.1 594.7,341.2 595.6,341.8 596.4,342.3 597.3,342.2 598.1,342.0 598.9,342.7 599.6,343.3 600.4,343.5 601.1,343.8 601.8,344.3 602.5,345.6 603.2,346.5 603.9,346.5 604.6,346.9 605.3,347.5 606.0,348.4 606.8,348.8 607.5,349.1 608.3,350.1 609.1,350.8 609.9,350.7 610.7,350.7 611.6,351.0 612.4,351.3 613.2,351.8 613.9,352.3 614.7,352.6 615.3,353.3 615.9,353.9 616.5,354.7 616.9,356.4 617.4,356.9 617.8,356.7 618.2,357.9 618.6,359.1 618.9,360.2 619.3,361.1 619.6,361.7 619.9,362.2 620.2,362.5 620.6,363.4 620.9,364.9 621.2,365.5 621.5,365.8 621.8,366.7 622.1,367.8 622.4,368.7 622.7,369.7 623.0,371.2 623.2,372.1 623.4,372.3 623.6,372.9 623.8,374.1 624.0,374.8 624.2,375.9 624.5,377.1 624.7,377.3 625.0,378.2 625.3,379.4 625.6,380.4 626.1,380.8 626.9,381.0 627.8,381.2 628.6,380.9 629.3,380.1 629.9,379.0 630.6,379.2 631.2,378.9 631.9,377.4 632.5,376.7 633.2,376.3 633.7,375.3 634.3,374.5 634.8,374.2 635.4,373.7 636.0,372.8 636.6,372.3 637.4,371.4 638.3,371.2 639.0,372.2 639.7,372.6 640.2,373.2 640.7,374.3 641.2,375.2 641.6,376.1 642.1,377.0 642.5,377.6 642.8,378.3 643.2,379.0 643.5,379.6 643.7,380.9 644.0,381.7 644.2,382.6 644.5,383.9 644.7,384.3 644.9,385.1 645.1,385.9 645.3,386.8 645.5,387.6 645.7,388.5 645.9,389.6 646.1,390.2 646.3,391.5 646.5,392.9 646.7,392.9 647.0,393.6 647.2,394.7 647.4,396.0 647.7,397.0 648.0,397.4 648.3,398.2 648.6,399.2 648.8,399.9 649.1,400.4 649.4,401.3 649.6,402.3 649.9,403.4 650.2,404.4 650.5,405.0 650.7,405.7 651.1,406.4 651.4,407.4 651.7,408.0 652.1,408.7 652.5,410.3 653.1,410.9 653.9,410.4 654.5,409.8 654.8,408.9 655.1,407.9 655.4,407.4 655.6,406.6 655.8,406.0 656.0,405.4 656.2,404.1 656.4,402.9 656.6,402.0 656.8,400.7 657.0,399.9 657.2,399.8 657.4,399.0 657.7,397.8 657.9,397.0 658.1,396.4 658.4,395.3 658.7,394.4 659.0,393.9 659.3,393.1 659.7,391.9 660.1,391.0 660.5,390.3 661.0,389.1 661.4,388.3 661.9,387.9 662.3,386.6 662.8,385.4 663.3,385.6 663.8,385.3 664.2,384.5 664.7,383.6 665.2,382.9 665.7,382.3 666.1,381.0 666.6,380.2 667.0,379.9 667.5,379.7 667.9,378.6 668.3,377.1 668.7,375.9 669.0,375.4 669.4,375.1 669.7,374.1 670.0,372.9 670.3,372.3 670.6,371.6 670.9,370.6 671.2,369.3 671.5,368.2 671.8,368.2 672.1,367.4 672.3,366.7 672.6,366.0 672.9,364.4 673.2,363.6 673.5,362.9 673.8,361.8 674.1,360.9 674.4,360.1 674.7,359.6 675.0,358.7 675.3,357.6 675.7,356.5 676.0,355.3 676.4,354.8 676.8,354.1 677.3,353.3 677.8,352.9 678.4,352.4 679.1,351.5 680.0,351.0 680.9,351.5 681.7,351.6 682.6,351.5 683.3,352.0 684.0,353.2 684.7,354.0 685.4,354.5 686.1,355.1 686.7,355.7 687.3,356.1 687.8,356.4 688.3,357.6 688.7,358.8 689.2,359.7 689.6,360.3 690.0,360.9 690.5,361.3 690.8,362.6 691.2,363.8 691.6,364.6 692.0,365.4 692.4,365.8 692.8,366.8 693.2,367.8 693.6,368.4 693.9,369.4 694.3,369.4 694.7,369.5 695.2,370.4 695.6,371.6 696.0,373.1 696.5,373.8 696.9,374.5 697.4,375.1 697.9,375.5 698.3,376.3 698.8,377.3 699.2,378.0 699.7,378.7 700.1,379.9 700.6,380.6 701.0,381.1 701.5,381.8 701.9,382.5 702.3,383.2 702.8,384.5 703.3,385.6 703.7,385.8 704.2,386.4 704.7,387.6 705.3,388.6 705.8,389.3 706.4,390.1 707.0,390.6 707.6,391.0 708.3,391.5 709.0,392.3 709.8,393.0 710.6,393.6 711.5,393.9 712.4,393.4 713.3,392.7 714.2,392.4 715.1,392.4 715.9,392.7 716.8,392.2 717.6,391.3 718.5,391.2 719.3,391.6 720.1,391.4 720.9,391.3 721.7,390.7 722.6,389.8 723.4,389.4 724.2,388.8 725.1,388.4 725.9,388.8 726.8,389.2 727.7,389.0 728.5,388.4 729.4,388.0 730.3,387.9 731.2,387.5 732.1,387.6 733.0,388.4 733.9,388.3 734.8,388.2 735.7,387.9 736.6,388.3 737.5,389.0 738.4,388.3 739.3,388.2 740.1,389.1 741.0,389.8 741.9,389.7 742.8,389.5 743.7,390.3 744.5,390.6 745.4,390.4 746.3,390.5 747.1,390.8 748.0,391.0 748.8,391.5 749.7,391.8 750.5,391.9 751.4,392.7 752.3,393.1 753.1,393.1 754.0,393.1 754.9,393.3 755.8,393.6 756.6,393.9 757.5,393.9 758.4,394.2 759.3,394.9 760.2,394.3 761.1,393.7 762.0,393.7 762.9,393.8 763.8,394.3 764.7,394.2 765.6,394.0 766.4,394.4 767.2,395.6 768.0,396.5 768.7,396.6 769.3,396.7 770.0,397.2 770.6,397.8 771.2,398.2 771.7,398.9 772.3,400.1 772.8,401.1 773.4,401.7 774.0,402.0 774.6,402.3 775.2,403.5 775.8,404.4 776.5,405.1 777.1,405.6 777.7,406.2 778.4,407.1 779.0,407.3 779.6,407.8 780.3,409.0 780.9,410.0 781.6,410.1 782.3,410.5 782.9,410.7 783.6,411.7 784.3,413.0 785.1,413.0 785.9,413.2 786.7,412.9 787.6,413.3 788.5,414.2 789.4,414.1 790.2,414.0 791.1,413.8 791.9,413.0 792.7,412.2 793.4,411.8 794.0,411.6 794.5,410.9 795.0,409.8 795.5,409.1 795.9,408.2 796.4,407.8 796.8,407.4 797.2,405.8 797.6,405.0 798.0,404.7 798.4,404.0 798.8,403.4 799.2,402.1 799.6,401.2 800.1,400.8 800.5,399.8 801.0,399.5 801.4,398.2 801.9,396.7 802.5,396.1 803.1,395.4 803.7,394.3 804.3,394.1 805.0,394.3 805.6,393.6 806.3,392.8 807.0,393.3 807.7,392.7 808.4,391.1 809.2,390.5 809.9,390.1 810.6,389.5 811.2,389.0 811.9,388.5 812.5,387.9 813.2,387.3 813.8,386.4 814.3,385.4 814.9,384.3 815.4,383.8 815.9,383.3 816.4,382.6 816.9,382.0 817.3,381.0 817.7,380.8 818.2,380.2 818.6,379.1 819.0,378.0 819.4,377.2 819.9,376.9 820.3,376.0 820.7,374.7 821.1,374.1 821.6,373.3 822.0,371.8 822.4,370.8 822.9,370.4 823.3,370.0 823.8,369.4 824.3,368.9 824.8,368.3 825.3,367.5 825.9,366.4 826.4,365.7 827.0,364.8 827.6,363.9 828.3,363.3 829.0,363.0 829.7,362.5 830.5,362.0 831.3,362.0 832.2,361.1 833.0,360.3 833.9,360.4 834.7,360.3 835.6,360.0 836.5,359.7 837.4,360.5 838.3,360.2 839.2,359.5 840.1,359.8 840.9,359.7 841.8,359.2 842.7,359.5 843.6,359.3 844.5,358.7 845.4,359.1 846.3,359.1 847.2,359.3 848.1,359.3 849.0,359.4 849.9,359.3 850.8,359.1 851.7,359.0 852.5,358.3 853.4,357.9 854.3,358.0 855.2,357.8 856.0,357.3 856.9,357.0 857.8,356.4 858.7,356.5 859.6,357.1 860.5,356.5 861.4,356.4 862.3,356.6 863.2,356.0 864.1,355.9 865.0,356.6 865.9,357.1 866.8,357.2 867.7,357.7 868.6,357.8 869.4,357.1 870.3,356.8 871.2,357.5 872.1,357.9 873.0,357.6 873.9,357.7 874.7,357.8 875.6,358.1 876.5,358.6 877.4,359.1 878.2,359.3 879.1,359.6 880.0,359.6 880.9,359.3 881.7,359.7 882.6,359.7 883.5,360.1 884.3,361.0 885.2,361.2 886.1,361.1 886.9,361.1 887.7,361.7 888.6,361.9 889.4,362.0 890.2,362.6 891.0,363.4 891.8,363.7 892.6,364.3 893.4,365.5 894.2,365.8 895.0,365.6 895.8,365.7 896.6,366.5 897.4,367.0 898.3,367.1 899.2,367.2 900.1,367.1 901.0,367.4 901.9,367.4 902.7,366.9 903.6,366.2 904.4,366.3 905.2,366.7 906.0,365.7 906.8,364.8 907.5,364.1 908.2,363.4 908.9,363.1 909.6,362.7 910.3,362.1 911.0,361.9 911.7,361.7 912.4,361.1 913.1,360.1 913.8,359.6 914.5,358.8 915.1,358.0 915.8,357.6 916.4,357.3 917.1,356.8 917.7,355.8 918.3,355.3 919.0,354.6 919.6,353.2 920.2,353.1 920.8,352.8 921.4,351.6 922.0,350.7 922.6,350.0 923.2,350.1 923.9,349.5 924.5,349.0 925.1,348.4 925.7,347.4 926.3,346.8 927.0,345.8 927.6,345.0 928.2,344.4 928.9,343.6 929.6,342.8 930.2,342.6 930.9,342.6 931.6,342.0 932.3,341.2 933.1,340.4 933.8,340.1 934.6,340.1 935.3,339.0 936.1,338.3 936.8,338.0 937.6,337.2 938.3,337.2 939.1,337.3 939.8,336.5 940.6,336.0 941.3,335.3 942.0,334.4 942.7,334.3 943.4,333.6 944.0,332.7 944.7,331.9 945.3,331.4 946.0,331.3 946.6,330.3 947.2,329.1 947.9,328.7 948.5,328.6 949.1,327.9 949.8,326.7" fill="none" stroke="#ec1c24" stroke-width="2.1" stroke-linejoin="round" stroke-linecap="round"/>
<polyline points="76.3,576.1 77.2,573.9 78.1,573.2 78.9,575.0 79.8,575.1 80.7,575.1 81.6,575.2 82.5,574.8 83.4,573.2 84.2,573.3 85.1,573.8 86.0,573.0 86.9,572.4 87.8,572.9 88.7,573.3 89.5,572.4 90.4,571.5 91.3,570.5 92.2,571.6 93.1,572.4 93.9,572.0 94.8,572.2 95.7,572.4 96.6,572.9 97.4,571.6 98.3,571.3 99.2,570.3 100.0,569.9 100.9,569.3 101.8,568.5 102.6,569.8 103.5,569.5 104.3,568.3 105.2,567.4 106.1,567.2 106.9,568.2 107.8,568.7 108.7,567.6 109.6,566.1 110.4,566.5 111.3,566.1 112.2,565.2 113.1,565.5 114.0,566.1 114.9,566.6 115.7,566.3 116.6,566.2 117.5,565.3 118.4,565.4 119.3,566.6 120.2,566.1 121.1,565.5 122.0,565.3 122.9,565.5 123.8,565.8 124.7,565.7 125.6,565.4 126.5,565.8 127.4,565.3 128.3,564.0 129.2,563.8 130.1,564.4 131.0,564.4 131.9,563.6 132.8,564.5 133.6,565.8 134.5,565.9 135.4,563.7 136.2,563.1 137.0,564.6 137.6,565.0 138.2,566.2 138.7,568.8 139.1,569.7 139.6,568.8 140.0,570.3 140.5,571.5 141.1,571.8 141.9,571.6 142.7,571.1 143.3,571.1 143.9,569.2 144.5,567.3 145.3,569.1 145.9,571.3 146.4,571.0 146.8,570.7 147.2,571.7 147.7,572.3 148.4,572.8 149.2,574.4 149.9,574.2 150.5,573.2 151.1,572.3 151.7,571.1 152.3,571.5 153.0,569.8 153.8,568.3 154.7,569.0 155.5,569.6 156.4,571.1 157.2,571.8 157.9,570.4 158.6,570.3 159.2,571.3 159.9,571.6 160.5,574.1 161.0,574.7 161.5,574.4 161.9,575.3 162.3,576.5 162.7,577.9 163.1,578.3 163.4,578.9 163.7,580.3 164.0,580.7 164.3,580.6 164.5,581.4 164.8,583.3 165.1,584.6 165.3,584.3 165.6,585.1 165.8,587.7 166.1,588.7 166.3,588.7 166.6,589.8 166.9,590.3 167.2,590.6 167.5,591.3 167.7,592.3 168.1,592.4 168.4,594.5 168.7,596.6 169.1,596.4 169.4,596.8 169.8,597.3 170.2,598.5 170.5,599.6 170.9,600.2 171.2,600.6 171.6,601.4 172.0,603.3 172.4,603.9 172.7,604.4 173.1,605.3 173.5,606.2 173.9,607.3 174.3,607.8 174.6,608.2 175.0,609.0 175.4,610.0 175.8,610.6 176.2,611.5 176.6,612.6 177.0,613.0 177.4,613.7 177.8,615.5 178.2,616.5 178.6,616.6 179.0,617.8 179.4,618.5 179.8,618.0 180.2,618.5 180.7,619.5 181.1,620.9 181.5,622.3 181.9,622.5 182.3,623.3 182.8,624.3 183.2,624.9 183.7,626.1 184.1,626.9 184.6,627.6 185.0,628.3 185.5,628.8 185.9,629.6 186.4,630.9 186.9,631.8 187.3,633.0 187.8,633.8 188.3,634.1 188.8,635.0 189.2,635.6 189.7,635.7 190.2,635.8 190.7,637.2 191.1,638.7 191.6,639.3 192.1,639.9 192.6,640.5 193.0,641.8 193.5,642.6 194.0,642.6 194.4,643.2 194.9,644.6 195.3,645.2 195.8,645.0 196.2,645.5 196.6,646.6 197.0,648.2 197.4,649.3 197.8,649.8 198.2,650.2 198.6,651.2 199.0,652.3 199.4,653.0 199.7,653.8 200.1,654.6 200.5,655.9 200.8,656.3 201.2,656.7 201.6,657.9 202.0,658.8 202.3,659.9 202.7,660.6 203.1,661.6 203.5,662.4 203.9,663.3 204.3,663.7 204.8,664.5 205.2,665.5 205.7,666.2 206.1,667.4 206.6,668.3 207.2,669.1 207.8,669.0 208.4,668.9 209.1,670.3 209.9,670.7 210.7,670.8 211.5,671.8 212.4,672.2 213.3,671.6 214.2,671.4 215.1,671.7 216.0,671.4 216.8,670.9 217.7,670.6 218.5,669.9 219.2,669.4 220.0,669.0 220.7,668.6 221.4,668.4 222.1,667.5 222.8,667.0 223.5,666.7 224.2,665.9 224.8,665.4 225.4,664.6 226.0,663.7 226.6,663.1 227.1,662.4 227.6,662.0 228.1,660.6 228.6,659.5 229.1,658.9 229.6,658.0 230.0,657.8 230.5,657.2 231.0,656.6 231.5,655.9 231.9,654.2 232.4,653.1 232.9,653.4 233.5,653.4 234.0,652.3 234.5,650.8 235.1,650.6 235.6,649.7 236.1,648.5 236.6,648.3 237.1,647.5 237.6,646.5 238.2,645.6 238.7,645.4 239.2,644.7 239.8,643.3 240.3,642.7 240.8,642.4 241.4,641.6 242.0,640.7 242.5,640.2 243.1,639.7 243.7,638.6 244.3,638.0 244.9,637.6 245.5,636.9 246.2,635.9 246.9,635.1 247.5,635.0 248.2,634.9 248.9,634.3 249.7,633.6 250.4,633.1 251.1,632.8 251.9,632.6 252.6,632.0 253.4,630.9 254.2,630.5 254.9,629.7 255.7,629.1 256.5,629.0 257.3,628.6 258.1,628.4 258.9,628.0 259.7,627.1 260.4,626.5 261.2,626.3 262.0,625.9 262.8,625.8 263.6,625.1 264.4,624.7 265.2,624.9 265.9,624.2 266.7,623.6 267.5,622.8 268.3,622.0 269.0,622.1 269.8,621.4 270.5,620.5 271.3,620.3 272.1,620.2 272.8,620.2 273.6,619.3 274.4,618.6 275.1,617.6 275.9,617.3 276.7,617.6 277.4,617.2 278.2,616.1 278.9,615.3 279.7,615.4 280.5,614.1 281.2,613.6 282.0,613.7 282.8,613.6 283.5,613.2 284.3,612.4 285.0,612.0 285.8,611.6 286.6,610.8 287.3,610.1 288.1,609.8 288.8,609.6 289.5,609.5 290.3,608.9 291.0,608.3 291.8,608.0 292.5,607.4 293.3,606.6 294.0,605.6 294.8,605.2 295.5,605.2 296.3,604.8 297.0,604.3 297.8,603.8 298.6,603.4 299.4,603.0 300.1,602.1 300.9,601.8 301.7,601.5 302.5,601.4 303.3,600.9 304.1,600.0 304.9,599.6 305.7,599.4 306.4,599.2 307.2,598.7 308.0,597.7 308.8,596.8 309.6,596.7 310.4,596.9 311.2,596.8 312.0,595.8 312.9,595.0 313.7,594.7 314.5,594.2 315.4,594.2 316.3,594.5 317.1,594.2 318.0,593.7 318.9,593.7 319.8,594.5 320.5,595.7 321.2,595.6 321.8,595.5 322.4,596.5 323.1,597.5 323.8,598.2 324.7,598.4 325.4,597.7 326.1,596.7 326.7,596.2 327.2,595.2 327.8,594.5 328.3,593.8 329.0,593.7 329.7,593.7 330.6,592.8 331.4,593.0 332.0,594.3 332.6,595.0 333.2,595.4 333.9,596.3 334.7,596.8 335.5,597.1 336.4,596.7 337.3,596.3 338.2,595.7 339.0,595.5 339.9,595.7 340.7,595.2 341.5,594.7 342.3,594.1 343.1,594.2 343.9,594.0 344.6,592.7 345.4,592.2 346.2,592.0 346.9,591.8 347.7,590.8 348.5,590.3 349.2,590.2 350.0,589.6 350.8,589.5 351.5,589.3 352.3,588.4 353.1,587.8 353.9,587.9 354.7,587.9 355.5,587.2 356.3,586.5 357.1,586.1 357.9,585.9 358.7,585.2 359.6,584.5 360.4,584.5 361.3,584.5 362.1,584.4 363.0,583.9 363.9,583.7 364.7,583.5 365.6,583.3 366.5,583.2 367.4,582.6 368.2,582.0 369.1,581.9 370.0,581.9 370.9,582.0 371.7,581.7 372.6,580.9 373.5,580.9 374.4,581.6 375.3,581.8 376.2,581.0 377.1,580.4 377.9,580.5 378.8,580.2 379.7,579.9 380.6,579.8 381.5,579.5 382.4,579.3 383.3,579.2 384.1,579.3 385.0,579.0 385.9,578.8 386.8,578.7 387.7,578.3 388.6,578.1 389.5,579.2 390.4,579.7 391.3,578.9 392.1,578.6 393.0,578.1 393.9,577.8 394.8,577.8 395.7,577.7 396.6,577.7 397.5,577.8 398.4,576.8 399.3,576.2 400.2,577.0 401.1,576.9 401.9,576.6 402.8,576.9 403.7,576.9 404.6,576.9 405.5,576.7 406.4,576.2 407.3,575.9 408.2,575.2 409.1,575.3 410.0,575.7 410.9,575.6 411.8,575.1 412.7,575.3 413.6,575.5 414.5,575.3 415.4,575.0 416.2,575.3 417.1,575.7 418.0,575.3 418.9,574.8 419.8,574.7 420.7,575.1 421.6,575.6 422.5,575.1 423.4,574.2 424.3,573.7 425.2,574.4 426.1,574.5 427.0,573.9 427.9,574.2 428.8,574.2 429.7,573.8 430.6,573.0 431.5,573.2 432.4,573.6 433.3,573.8 434.2,573.2 435.1,572.7 436.0,573.0 436.9,572.7 437.8,572.7 438.7,573.1 439.6,573.1 440.4,572.5 441.3,572.5 442.2,573.0 443.1,573.0 444.0,572.9 444.9,572.3 445.8,572.2 446.7,572.7 447.6,572.4 448.5,572.2 449.4,572.1 450.3,572.3 451.2,572.4 452.1,571.8 453.0,571.9 453.9,572.1 454.8,572.2 455.7,571.9 456.6,571.5 457.5,571.8 458.4,572.4 459.3,572.4 460.2,571.5 461.1,571.4 462.0,571.5 462.9,570.9 463.8,570.9 464.7,571.2 465.6,571.4 466.5,571.8 467.4,572.0 468.3,571.8 469.2,571.4 470.1,571.2 471.0,571.2 471.9,571.5 472.8,571.3 473.7,570.8 474.6,571.3 475.5,571.5 476.4,571.0 477.3,570.9 478.2,571.0 479.1,571.0 480.0,571.1 480.9,571.1 481.8,570.8 482.7,570.6 483.6,570.2 484.5,570.2 485.4,570.9 486.3,571.0 487.2,570.6 488.1,570.4 489.0,570.3 489.9,570.5 490.8,571.2 491.7,571.5 492.6,571.3 493.5,571.0 494.4,570.7 495.3,570.1 496.2,570.2 497.1,570.4 498.0,570.5 498.9,570.7 499.8,570.3 500.7,570.4 501.6,571.2 502.5,570.9 503.4,570.4 504.3,570.8 505.2,570.5 506.1,570.2 507.0,570.2 507.9,570.5 508.8,570.7 509.7,570.8 510.6,570.7 511.5,570.4 512.4,570.4 513.3,570.5 514.2,570.1 515.1,570.5 516.0,570.6 516.9,570.0 517.8,570.2 518.7,570.0 519.6,570.0 520.5,570.5 521.4,570.4 522.3,570.3 523.2,570.9 524.1,571.2 525.0,570.8 525.9,570.5 526.8,570.1 527.7,569.8 528.6,569.8 529.5,569.7 530.4,569.7 531.2,569.4 532.1,569.6 533.0,569.4 533.9,569.0 534.8,569.4 535.7,569.1 536.6,568.6 537.5,568.4 538.4,568.9 539.2,568.9 540.1,568.2 541.0,568.0 541.9,567.9 542.8,567.1 543.7,567.0 544.5,567.6 545.4,567.6 546.3,567.2 547.2,566.3 548.1,566.5 549.0,566.6 549.8,566.3 550.7,566.4 551.6,566.1 552.5,565.6 553.4,565.2 554.2,564.9 555.1,564.9 556.0,564.7 556.9,564.6 557.7,564.0 558.6,563.5 559.5,563.8 560.4,563.6 561.3,563.3 562.1,563.0 563.0,563.1 563.9,563.6 564.8,563.0 565.7,562.7 566.5,562.4 567.4,561.9 568.3,561.6 569.2,561.4 570.0,561.7 570.9,561.4 571.8,561.5 572.7,561.4 573.5,560.9 574.4,560.3 575.3,560.1 576.1,559.9 577.0,559.6 577.9,559.9 578.8,560.0 579.6,559.5 580.5,559.2 581.4,558.5 582.2,558.2 583.1,557.9 584.0,557.5 584.9,557.8 585.7,557.8 586.6,557.7 587.5,557.4 588.4,557.0 589.2,556.8 590.1,556.9 591.0,557.0 591.9,556.1 592.7,555.6 593.6,556.0 594.5,555.7 595.3,555.1 596.2,554.8 597.0,554.1 597.9,554.0 598.7,553.9 599.6,553.6 600.4,553.0 601.3,552.5 602.2,552.6 603.0,552.5 603.9,552.4 604.8,552.1 605.7,552.0 606.6,552.3 607.5,552.1 608.4,552.0 609.2,552.1 610.1,552.0 611.0,552.2 611.9,552.2 612.7,552.6 613.5,553.4 614.3,553.5 615.1,553.9 615.9,554.6 616.6,554.9 617.3,555.5 618.1,556.2 618.8,557.1 619.5,557.6 620.1,558.3 620.8,558.9 621.5,559.2 622.1,560.0 622.8,560.3 623.5,560.5 624.1,561.3 624.8,562.4 625.4,563.2 626.0,563.6 626.6,564.5 627.2,565.2 627.8,565.3 628.3,566.4 628.9,567.5 629.4,567.8 629.9,568.4 630.4,569.1 630.9,569.7 631.3,571.3 631.8,572.4 632.2,572.8 632.6,573.5 633.0,573.9 633.4,574.7 633.7,575.8 634.1,576.3 634.4,577.1 634.7,578.3 635.0,579.2 635.3,580.0 635.6,580.7 635.9,581.2 636.2,582.1 636.4,582.8 636.7,583.5 637.0,585.1 637.3,586.5 637.6,587.2 637.8,587.0 638.1,588.1 638.4,589.7 638.6,590.2 638.9,591.1 639.1,592.2 639.4,592.6 639.6,593.0 639.9,594.4 640.1,595.0 640.3,595.8 640.6,597.3 640.8,598.2 641.0,599.5 641.3,600.4 641.5,601.3 641.7,602.0 642.0,602.6 642.2,603.5 642.4,604.3 642.6,604.7 642.9,605.5 643.1,606.2 643.3,607.0 643.5,608.8 643.7,609.9 644.0,610.2 644.2,610.8 644.4,611.3 644.6,612.2 644.9,613.3 645.1,614.3 645.3,615.4 645.5,616.2 645.7,616.6 646.0,617.9 646.2,619.3 646.4,619.8 646.6,620.5 646.8,621.5 647.0,622.8 647.3,623.7 647.5,624.0 647.6,624.4 647.8,625.0 648.0,626.2 648.2,627.8 648.3,629.0 648.5,629.7 648.6,630.5 648.8,631.1 649.0,631.9 649.1,633.0 649.3,633.6 649.4,634.1 649.6,635.4 649.7,636.2 649.9,636.9 650.0,638.2 650.2,639.1 650.3,640.0 650.5,640.9 650.6,641.9 650.8,642.4 651.0,643.2 651.1,643.9 651.3,645.0 651.5,646.5 651.7,647.4 651.9,648.1 652.1,649.2 652.3,649.7 652.5,650.4 652.7,651.6 653.0,652.2 653.3,653.2 653.5,653.9 653.9,654.5 654.3,655.7 654.7,656.2 655.4,656.7 656.1,657.6 657.0,658.0 657.9,657.4 658.7,657.0 659.4,656.6 660.1,655.8 660.8,655.1 661.4,654.7 661.9,653.9 662.5,653.1 663.0,652.6 663.4,651.9 663.8,650.8 664.2,650.0 664.5,649.4 664.8,648.7 665.1,647.8 665.4,646.4 665.6,645.6 665.9,644.8 666.1,643.9 666.3,642.8 666.5,641.4 666.7,640.5 666.9,640.0 667.1,639.6 667.3,638.8 667.5,637.6 667.7,636.7 667.8,636.1 668.0,635.9 668.2,635.3 668.3,633.8 668.5,632.3 668.7,631.3 668.9,630.7 669.0,630.0 669.2,629.7 669.3,628.7 669.5,626.8 669.7,625.9 669.9,625.1 670.0,624.4 670.2,624.2 670.4,623.2 670.6,621.7 670.8,620.7 670.9,620.5 671.2,619.4 671.4,618.1 671.6,617.5 671.8,616.9 672.0,616.0 672.2,615.1 672.5,614.2 672.7,613.1 672.9,612.2 673.1,611.5 673.3,610.4 673.5,609.5 673.7,608.9 673.9,608.1 674.1,607.3 674.3,606.0 674.5,604.8 674.7,604.2 674.9,603.6 675.1,602.7 675.3,601.7 675.5,600.5 675.7,599.8 675.9,599.2 676.2,598.5 676.4,597.9 676.7,597.1 676.9,596.3 677.2,594.9 677.5,593.3 677.8,592.5 678.1,591.9 678.5,590.9 678.8,590.5 679.3,589.7 679.7,589.0 680.2,588.9 680.7,588.6 681.3,587.8 681.8,587.0 682.4,585.9 683.0,584.5 683.6,584.3 684.3,583.6 685.0,583.1 685.8,582.9 686.7,581.8 687.5,582.2 688.4,582.8 689.1,583.5 689.6,584.1 690.1,584.0 690.5,585.3 690.9,586.3 691.2,586.7 691.5,587.5 691.8,588.8 692.1,589.8 692.4,590.2 692.7,590.8 692.9,592.0 693.2,593.2 693.4,594.2 693.6,594.7 693.9,595.5 694.1,596.8 694.3,597.5 694.6,598.1 694.8,598.7 695.0,599.9 695.3,601.4 695.5,601.4 695.7,602.3 696.0,604.0 696.2,604.9 696.5,605.4 696.8,606.3 697.0,606.9 697.3,607.5 697.6,608.5 697.8,609.4 698.1,610.1 698.3,611.3 698.5,612.4 698.7,612.7 698.9,613.5 699.1,614.8 699.3,615.7 699.5,616.8 699.7,617.6 699.9,618.0 700.1,619.1 700.3,620.5 700.5,621.0 700.7,621.1 700.9,622.1 701.1,623.3 701.4,624.1 701.6,625.0 701.9,625.9 702.3,626.9 702.7,627.6 703.2,627.9 704.0,628.7 704.8,628.7 705.3,628.2 705.8,627.1 706.2,626.1 706.6,625.6 707.0,625.1 707.3,623.9 707.6,622.4 707.9,621.9 708.2,621.3 708.5,620.7 708.8,619.9 709.1,618.8 709.4,617.7 709.7,616.9 710.0,616.5 710.3,615.5 710.6,614.1 710.9,613.5 711.2,612.9 711.6,611.8 711.9,610.9 712.3,610.3 712.6,609.5 713.0,608.3 713.4,607.7 713.8,607.0 714.3,605.6 714.8,605.1 715.4,604.6 716.0,604.0 716.7,603.6 717.5,603.0 718.2,602.4 719.0,601.7 719.8,601.6 720.7,601.6 721.5,601.5 722.4,601.4 723.3,600.8 724.2,600.8 725.1,601.5 726.0,601.6 726.8,601.2 727.7,601.1 728.5,601.6 729.3,601.8 730.1,602.4 730.9,603.1 731.8,603.0 732.6,603.5 733.5,603.4 734.4,602.9 735.3,603.0 736.2,603.5 737.0,603.1 737.9,602.7 738.7,602.2 739.5,601.6 740.4,601.8 741.2,601.9 742.0,601.0 742.9,600.3 743.7,600.2 744.6,600.0 745.4,599.7 746.2,599.3 747.1,598.9 747.9,598.4 748.7,598.3 749.6,598.5 750.4,598.1 751.2,597.5 752.1,597.0 753.0,597.1 753.8,596.6 754.7,595.6 755.6,595.9 756.5,596.7 757.3,597.4 758.1,598.0 758.7,598.6 759.3,599.2 759.7,599.6 760.2,600.1 760.6,601.1 761.1,602.0 761.5,602.7 761.9,603.9 762.4,604.4 762.9,604.9 763.5,605.6 764.1,606.5 764.7,607.4 765.4,607.6 766.1,608.3 766.8,609.4 767.5,610.0 768.2,610.2 768.9,610.6 769.6,610.9 770.3,611.5 771.0,612.3 771.7,612.8 772.3,613.7 773.0,614.3 773.7,614.6 774.4,615.3 775.0,616.1 775.6,616.2 776.2,616.8 776.8,618.3 777.3,618.7 777.8,619.2 778.3,620.2 778.6,620.6 779.0,621.7 779.3,622.7 779.6,623.0 779.9,623.7 780.2,625.3 780.4,626.1 780.7,626.6 781.0,627.5 781.2,628.5 781.5,629.6 781.8,630.4 782.1,630.7 782.4,631.9 782.7,633.3 783.2,634.1 783.8,634.7 784.6,634.7 785.5,633.8 786.2,633.2 786.8,633.0 787.6,632.2 788.4,631.8 789.2,632.6 789.8,633.2 790.3,634.2 790.8,635.4 791.2,635.4 791.5,635.8 791.9,636.7 792.2,638.0 792.6,639.1 792.9,639.6 793.2,640.4 793.6,641.6 793.9,642.5 794.3,642.7 794.7,643.1 795.1,644.1 795.7,644.7 796.3,645.7 797.2,646.0 797.9,645.1 798.5,644.4 798.9,643.8 799.3,643.4 799.7,642.7 800.1,642.0 800.4,640.8 800.7,640.0 801.0,640.0 801.3,638.6 801.6,637.1 801.9,636.5 802.1,636.0 802.4,635.0 802.7,633.6 803.0,633.3 803.2,632.5 803.5,630.5 803.8,629.9 804.1,630.0 804.4,629.4 804.7,628.8 805.0,628.3 805.3,626.8 805.6,625.0 805.9,623.9 806.2,623.7 806.5,623.1 806.7,621.4 807.0,620.2 807.2,619.7 807.5,619.3 807.7,618.5 808.0,617.5 808.2,616.4 808.5,615.8 808.7,615.1 809.0,614.3 809.2,613.4 809.5,612.3 809.7,611.6 810.0,610.7 810.3,609.8 810.6,609.2 810.9,608.1 811.2,607.2 811.5,606.5 811.8,605.8 812.2,605.0 812.6,604.1 813.0,603.4 813.4,602.4 813.9,601.6 814.4,600.8 814.9,599.6 815.5,599.2 816.2,598.5 816.9,597.8 817.6,598.1 818.3,597.7 819.0,596.6 819.7,596.1 820.5,595.9 821.2,594.9 821.9,594.3 822.6,593.8 823.2,593.1 823.8,592.6 824.3,591.6 824.8,590.9 825.3,591.1 825.7,590.0 826.2,588.5 826.6,587.7 827.1,587.4 827.6,586.7 828.1,585.7 828.7,585.7 829.3,584.8 830.2,584.1 831.0,584.4 831.6,585.0 832.2,585.8 832.8,586.4 833.4,587.1 834.2,587.8 835.0,587.6 835.6,587.1 836.1,586.1 836.5,585.6 836.9,584.6 837.3,583.5 837.6,582.6 837.9,582.0 838.2,581.1 838.5,580.1 838.8,579.3 839.1,578.2 839.4,577.3 839.7,576.2 840.0,575.4 840.2,574.8 840.5,574.4 840.8,573.6 841.2,572.7 841.5,571.6 841.8,570.9 842.2,570.5 842.7,569.5 843.2,568.2 844.0,568.2 844.6,569.6 844.9,570.2 845.2,570.5 845.5,571.1 845.7,571.9 845.9,572.8 846.1,573.6 846.2,575.0 846.4,576.4 846.6,577.1 846.7,577.7 846.9,578.7 847.1,579.6 847.2,580.3 847.4,581.3 847.6,582.2 847.8,583.2 848.0,584.9 848.3,585.5 848.6,585.6 849.1,586.1 849.9,586.2 850.6,585.8 851.1,585.3 851.5,584.5 851.9,583.3 852.4,582.6 852.8,582.0 853.2,581.2 853.7,580.5 854.2,579.6 854.7,578.9 855.4,577.9 856.2,577.7 856.9,577.6 857.8,577.0 858.6,577.0 859.5,576.5 860.3,575.9 861.2,576.0 862.1,576.1 863.0,576.0 863.9,576.5 864.8,576.7 865.6,576.5 866.4,576.9 867.1,577.9 867.9,578.4 868.6,579.0 869.3,579.4 870.0,579.5 870.7,580.0 871.4,580.5 872.2,581.9 872.9,582.8 873.6,582.9 874.4,583.1 875.1,583.9 875.9,584.5 876.7,584.4 877.5,585.1 878.4,585.4 879.2,585.4 880.0,586.2 880.9,586.7 881.7,587.4 882.6,587.6 883.4,587.3 884.3,587.7 885.1,588.2 885.9,588.0 886.8,588.0 887.6,588.4 888.4,588.6 889.2,589.3 889.9,590.5 890.7,591.0 891.4,591.1 892.2,591.5 892.9,592.5 893.7,593.1 894.5,593.2 895.3,593.3 896.1,593.7 897.0,594.5 897.8,594.7 898.7,595.1 899.6,595.6 900.5,595.1 901.4,593.9 902.2,593.4 903.1,593.7 903.9,593.3 904.7,592.4 905.5,592.1 906.2,592.4 907.0,591.8 907.7,590.2 908.5,589.8 909.2,589.9 909.9,589.4 910.6,588.8 911.3,588.1 911.9,587.3 912.6,586.8 913.2,586.3 913.8,585.5 914.4,584.7 914.9,584.2 915.5,583.7 916.0,582.6 916.6,581.8 917.1,580.9 917.7,580.0 918.2,579.8 918.7,579.3 919.3,578.6 919.8,577.9 920.3,576.9 920.9,576.1 921.4,575.9 922.0,575.1 922.5,573.6 923.1,572.9 923.7,572.5 924.2,571.7 924.8,571.2 925.4,570.2 925.9,569.6 926.5,569.1 927.0,568.4 927.5,567.5 928.0,566.4 928.4,565.7 928.9,565.5 929.3,564.4 929.7,563.5 930.1,563.1 930.5,562.3 930.8,561.4 931.1,560.3 931.5,559.7 931.8,559.3 932.1,558.3 932.5,557.0 932.8,556.0 933.1,555.2 933.4,554.4 933.8,553.4 934.1,552.9 934.4,552.2 934.8,551.0 935.1,549.8 935.5,549.5 935.9,548.8 936.3,547.8 936.7,547.0 937.1,545.8 937.6,545.1 938.1,544.7 938.6,544.4 939.1,543.3 939.7,542.0 940.2,541.9 940.8,541.2 941.4,539.8 942.0,539.4 942.6,539.3 943.2,538.4 944.0,537.5 944.7,537.1 945.6,537.1 946.5,537.3 947.3,537.4 948.0,538.1 948.6,539.2 949.2,539.6 949.9,540.4" fill="none" stroke="#1a1aee" stroke-width="2.1" stroke-linejoin="round" stroke-linecap="round"/>
<rect x="76.1" y="3.3" width="874.20" height="705.20" fill="none" stroke="#111" stroke-width="2.5"/>
<line x1="76.1" y1="365" x2="76.1" y2="575" stroke="#b3242a" stroke-width="2.5"/>
<line x1="76.1" y1="575" x2="76.1" y2="708.5" stroke="#1a1aee" stroke-width="2.5"/>
<line x1="75.80" y1="708.50" x2="75.80" y2="723.00" stroke="#111" stroke-width="2.4"/>
<text transform="translate(42.65 755.60) scale(0.9557 1)" font-size="31.60" font-family='"Liberation Sans", Arial, Helvetica, sans-serif' fill="#000">4000</text>
<line x1="197.30" y1="708.50" x2="197.30" y2="723.00" stroke="#111" stroke-width="2.4"/>
<text transform="translate(163.92 755.60) scale(0.9557 1)" font-size="31.60" font-family='"Liberation Sans", Arial, Helvetica, sans-serif' fill="#000">3500</text>
<line x1="318.80" y1="708.50" x2="318.80" y2="723.00" stroke="#111" stroke-width="2.4"/>
<text transform="translate(285.42 755.60) scale(0.9557 1)" font-size="31.60" font-family='"Liberation Sans", Arial, Helvetica, sans-serif' fill="#000">3000</text>
<line x1="440.30" y1="708.50" x2="440.30" y2="723.00" stroke="#111" stroke-width="2.4"/>
<text transform="translate(406.74 755.60) scale(0.9557 1)" font-size="31.60" font-family='"Liberation Sans", Arial, Helvetica, sans-serif' fill="#000">2500</text>
<line x1="561.80" y1="708.50" x2="561.80" y2="723.00" stroke="#111" stroke-width="2.4"/>
<text transform="translate(528.24 755.60) scale(0.9557 1)" font-size="31.60" font-family='"Liberation Sans", Arial, Helvetica, sans-serif' fill="#000">2000</text>
<line x1="683.30" y1="708.50" x2="683.30" y2="723.00" stroke="#111" stroke-width="2.4"/>
<text transform="translate(649.35 755.60) scale(0.9557 1)" font-size="31.60" font-family='"Liberation Sans", Arial, Helvetica, sans-serif' fill="#000">1500</text>
<line x1="804.80" y1="708.50" x2="804.80" y2="723.00" stroke="#111" stroke-width="2.4"/>
<text transform="translate(770.85 755.60) scale(0.9557 1)" font-size="31.60" font-family='"Liberation Sans", Arial, Helvetica, sans-serif' fill="#000">1000</text>
<line x1="926.30" y1="708.50" x2="926.30" y2="723.00" stroke="#111" stroke-width="2.4"/>
<text transform="translate(901.29 755.60) scale(0.9557 1)" font-size="31.60" font-family='"Liberation Sans", Arial, Helvetica, sans-serif' fill="#000">500</text>
<line x1="136.55" y1="708.50" x2="136.55" y2="716.00" stroke="#111" stroke-width="2.4"/>
<line x1="258.05" y1="708.50" x2="258.05" y2="716.00" stroke="#111" stroke-width="2.4"/>
<line x1="379.55" y1="708.50" x2="379.55" y2="716.00" stroke="#111" stroke-width="2.4"/>
<line x1="501.05" y1="708.50" x2="501.05" y2="716.00" stroke="#111" stroke-width="2.4"/>
<line x1="622.55" y1="708.50" x2="622.55" y2="716.00" stroke="#111" stroke-width="2.4"/>
<line x1="744.05" y1="708.50" x2="744.05" y2="716.00" stroke="#111" stroke-width="2.4"/>
<line x1="865.55" y1="708.50" x2="865.55" y2="716.00" stroke="#111" stroke-width="2.4"/>
<text transform="translate(345.54 816.50)" font-size="36.50" font-family='"Liberation Sans", Arial, Helvetica, sans-serif' fill="#000">Wavenumbers (cm</text>
<text transform="translate(650.82 797.50)" font-size="19.70" font-family='"Liberation Sans", Arial, Helvetica, sans-serif' fill="#000">-1</text>
<text transform="translate(671.79 816.50)" font-size="36.50" font-family='"Liberation Sans", Arial, Helvetica, sans-serif' fill="#000">)</text>
<text transform="translate(42.90 490.63) rotate(-90) scale(0.9545 1)" font-size="38.50" font-family='"Liberation Sans", Arial, Helvetica, sans-serif'>Transmittance (%)</text>
<text transform="translate(84.12 60.60) scale(0.9412 1)" font-size="32.30" font-family='"Liberation Sans", Arial, Helvetica, sans-serif' fill="#000">SA</text>
<text transform="translate(78.97 333.10) scale(0.9412 1)" font-size="32.30" font-family='"Liberation Sans", Arial, Helvetica, sans-serif' fill="#000">GO</text>
<text transform="translate(87.47 553.60) scale(0.9412 1)" font-size="32.30" font-family='"Liberation Sans", Arial, Helvetica, sans-serif' fill="#000">GAD</text>
<text transform="translate(860.05 37.60) scale(1.0533 1)" font-size="50.70" font-family='"Liberation Serif", "Times New Roman", serif' fill="#000">(a)</text>
<text transform="translate(191.42 241.00) scale(0.9600 1)" font-size="17.50" font-family='"Liberation Sans", Arial, Helvetica, sans-serif' fill="#2a2a2a" stroke="#2a2a2a" stroke-width="0.35">3422</text>
<text transform="translate(313.46 167.00) scale(0.9600 1)" font-size="17.50" font-family='"Liberation Sans", Arial, Helvetica, sans-serif' fill="#2a2a2a" stroke="#2a2a2a" stroke-width="0.35">2928</text>
<text transform="translate(635.34 250.60) scale(0.9600 1)" font-size="17.50" font-family='"Liberation Sans", Arial, Helvetica, sans-serif' fill="#2a2a2a" stroke="#2a2a2a" stroke-width="0.35">1613</text>
<text transform="translate(680.73 220.40) scale(0.9600 1)" font-size="17.50" font-family='"Liberation Sans", Arial, Helvetica, sans-serif' fill="#2a2a2a" stroke="#2a2a2a" stroke-width="0.35">1415</text>
<text transform="translate(714.80 170.40) scale(0.9600 1)" font-size="17.50" font-family='"Liberation Sans", Arial, Helvetica, sans-serif' fill="#2a2a2a" stroke="#2a2a2a" stroke-width="0.35">1302</text>
<text transform="translate(748.82 212.00) scale(0.9600 1)" font-size="17.50" font-family='"Liberation Sans", Arial, Helvetica, sans-serif' fill="#2a2a2a" stroke="#2a2a2a" stroke-width="0.35">1094</text>
<text transform="translate(781.58 228.70) scale(0.9600 1)" font-size="17.50" font-family='"Liberation Sans", Arial, Helvetica, sans-serif' fill="#2a2a2a" stroke="#2a2a2a" stroke-width="0.35">1031</text>
<text transform="translate(809.96 159.20) scale(0.9600 1)" font-size="17.50" font-family='"Liberation Sans", Arial, Helvetica, sans-serif' fill="#2a2a2a" stroke="#2a2a2a" stroke-width="0.35">946</text>
<text transform="translate(822.38 130.00) scale(0.9600 1)" font-size="17.50" font-family='"Liberation Sans", Arial, Helvetica, sans-serif' fill="#2a2a2a" stroke="#2a2a2a" stroke-width="0.35">888</text>
<text transform="translate(847.02 144.60) scale(0.9600 1)" font-size="17.50" font-family='"Liberation Sans", Arial, Helvetica, sans-serif' fill="#2a2a2a" stroke="#2a2a2a" stroke-width="0.35">819</text>
<text transform="translate(212.92 516.30) scale(0.9600 1)" font-size="17.50" font-family='"Liberation Sans", Arial, Helvetica, sans-serif' fill="#2a2a2a" stroke="#2a2a2a" stroke-width="0.35">3422</text>
<text transform="translate(598.24 399.70) scale(0.9600 1)" font-size="17.50" font-family='"Liberation Sans", Arial, Helvetica, sans-serif' fill="#2a2a2a" stroke="#2a2a2a" stroke-width="0.35">1728</text>
<text transform="translate(630.70 433.30) scale(0.9600 1)" font-size="17.50" font-family='"Liberation Sans", Arial, Helvetica, sans-serif' fill="#2a2a2a" stroke="#2a2a2a" stroke-width="0.35">1620</text>
<text transform="translate(689.03 410.90) scale(0.9600 1)" font-size="17.50" font-family='"Liberation Sans", Arial, Helvetica, sans-serif' fill="#2a2a2a" stroke="#2a2a2a" stroke-width="0.35">1385</text>
<text transform="translate(765.23 431.00) scale(0.9600 1)" font-size="17.50" font-family='"Liberation Sans", Arial, Helvetica, sans-serif' fill="#2a2a2a" stroke="#2a2a2a" stroke-width="0.35">1055</text>
<text transform="translate(189.32 697.10) scale(0.9600 1)" font-size="17.50" font-family='"Liberation Sans", Arial, Helvetica, sans-serif' fill="#2a2a2a" stroke="#2a2a2a" stroke-width="0.35">3422</text>
<text transform="translate(291.04 631.00) scale(0.9600 1)" font-size="17.50" font-family='"Liberation Sans", Arial, Helvetica, sans-serif' fill="#2a2a2a" stroke="#2a2a2a" stroke-width="0.35">2974</text>
<text transform="translate(336.06 628.70) scale(0.9600 1)" font-size="17.50" font-family='"Liberation Sans", Arial, Helvetica, sans-serif' fill="#2a2a2a" stroke="#2a2a2a" stroke-width="0.35">2926</text>
<text transform="translate(636.94 683.90) scale(0.9600 1)" font-size="17.50" font-family='"Liberation Sans", Arial, Helvetica, sans-serif' fill="#2a2a2a" stroke="#2a2a2a" stroke-width="0.35">1613</text>
<text transform="translate(686.23 657.50) scale(0.9600 1)" font-size="17.50" font-family='"Liberation Sans", Arial, Helvetica, sans-serif' fill="#2a2a2a" stroke="#2a2a2a" stroke-width="0.35">1415</text>
<text transform="translate(750.34 665.50) scale(0.9600 1)" font-size="17.50" font-family='"Liberation Sans", Arial, Helvetica, sans-serif' fill="#2a2a2a" stroke="#2a2a2a" stroke-width="0.35">1083</text>
<text transform="translate(787.68 675.90) scale(0.9600 1)" font-size="17.50" font-family='"Liberation Sans", Arial, Helvetica, sans-serif' fill="#2a2a2a" stroke="#2a2a2a" stroke-width="0.35">1031</text>
<text transform="translate(818.39 630.00) scale(0.9600 1)" font-size="17.50" font-family='"Liberation Sans", Arial, Helvetica, sans-serif' fill="#2a2a2a" stroke="#2a2a2a" stroke-width="0.35">883</text>
<text transform="translate(845.87 617.40) scale(0.9600 1)" font-size="17.50" font-family='"Liberation Sans", Arial, Helvetica, sans-serif' fill="#2a2a2a" stroke="#2a2a2a" stroke-width="0.35">815</text>
<line x1="818.00" y1="115.50" x2="822.90" y2="141.30" stroke="#444" stroke-width="1.3"/>
<line x1="831.80" y1="100.90" x2="834.00" y2="112.10" stroke="#444" stroke-width="1.3"/>
<line x1="850.90" y1="115.50" x2="858.70" y2="127.80" stroke="#444" stroke-width="1.3"/>
<line x1="220.20" y1="456.90" x2="230.30" y2="498.30" stroke="#444" stroke-width="1.3"/>
<line x1="324.50" y1="601.80" x2="313.30" y2="615.30" stroke="#444" stroke-width="1.3"/>
<line x1="336.80" y1="600.70" x2="350.30" y2="610.80" stroke="#444" stroke-width="1.3"/>
<line x1="833.50" y1="595.60" x2="832.30" y2="608.20" stroke="#444" stroke-width="1.3"/>
<line x1="849.50" y1="591.00" x2="855.30" y2="602.50" stroke="#444" stroke-width="1.3"/>
<line x1="611.20" y1="581.40" x2="623.80" y2="571.60" stroke="#444" stroke-width="1.3"/>
<polyline points="1091.3,30.1 1091.4,31.5 1091.5,31.7 1091.5,32.7 1091.6,34.1 1091.6,34.2 1091.7,34.9 1091.8,35.7 1091.9,36.7 1092.2,38.2 1092.5,39.3 1092.8,40.1 1093.3,40.2 1093.7,40.2 1094.2,42.0 1094.8,43.5 1095.4,44.4 1095.9,45.2 1096.5,44.8 1097.1,45.6 1097.7,46.8 1098.3,47.1 1098.9,47.3 1099.4,48.0 1100.0,48.9 1100.5,49.9 1101.1,50.7 1101.6,51.6 1102.2,52.1 1102.7,52.4 1103.3,53.5 1103.8,53.8 1104.4,54.0 1104.9,55.3 1105.5,56.6 1106.0,56.9 1106.6,57.6 1107.1,58.1 1107.7,58.8 1108.2,59.5 1108.7,60.2 1109.3,61.4 1109.8,62.0 1110.4,62.7 1110.9,63.2 1111.5,63.5 1112.0,64.1 1112.5,64.9 1113.1,66.1 1113.6,66.8 1114.1,67.4 1114.6,68.7 1115.2,69.9 1115.7,69.8 1116.2,70.5 1116.7,71.1 1117.2,71.2 1117.8,72.4 1118.3,73.4 1118.8,73.9 1119.3,74.4 1119.8,75.5 1120.3,76.2 1120.9,76.7 1121.4,77.9 1121.9,79.1 1122.4,79.6 1123.0,80.0 1123.5,80.8 1124.1,81.3 1124.6,81.9 1125.2,82.4 1125.7,83.5 1126.3,84.5 1126.8,85.0 1127.4,85.8 1128.0,86.7 1128.5,87.7 1129.1,88.2 1129.7,88.3 1130.3,89.1 1130.8,89.7 1131.4,90.7 1132.0,92.0 1132.6,92.5 1133.2,92.8 1133.7,93.5 1134.3,94.6 1134.9,95.2 1135.5,95.5 1136.1,95.5 1136.6,96.5 1137.2,97.7 1137.8,97.8 1138.4,98.9 1138.9,99.9 1139.5,99.9 1140.1,100.5 1140.6,101.5 1141.2,102.6 1141.8,102.7 1142.4,103.0 1142.9,104.3 1143.5,105.5 1144.1,105.9 1144.6,105.2 1145.2,105.8 1145.8,107.5 1146.4,108.9 1147.0,110.1 1147.6,110.6 1148.2,110.5 1148.8,111.3 1149.4,112.2 1150.0,112.5 1150.6,113.2 1151.2,114.4 1151.8,114.7 1152.4,114.7 1153.0,115.6 1153.6,116.6 1154.2,117.0 1154.8,117.4 1155.4,118.5 1156.0,119.8 1156.7,120.6 1157.3,121.0 1157.9,121.8 1158.6,121.5 1159.3,121.3 1160.0,122.3 1160.6,122.9 1161.4,123.4 1162.1,124.4 1162.8,124.8 1163.5,125.1 1164.3,125.4 1165.1,125.7 1165.8,127.2 1166.6,127.8 1167.4,127.9 1168.2,128.7 1169.0,128.9 1169.8,129.2 1170.6,129.9 1171.4,130.3 1172.2,130.4 1173.0,130.1 1173.9,130.4 1174.7,131.1 1175.5,131.9 1176.3,132.4 1177.1,132.5 1177.9,132.9 1178.7,133.8 1179.5,134.1 1180.3,134.6 1181.1,134.8 1181.9,134.6 1182.7,135.6 1183.5,136.4 1184.3,136.3 1185.2,136.5 1186.0,136.9 1186.8,137.6 1187.6,138.4 1188.4,138.3 1189.2,138.7 1190.0,139.2 1190.8,139.4 1191.6,140.0 1192.4,140.2 1193.2,140.7 1194.0,141.5 1194.8,141.9 1195.6,142.5 1196.4,142.6 1197.2,142.2 1198.0,142.5 1198.9,143.5 1199.7,144.1 1200.5,144.6 1201.3,145.2 1202.1,145.4 1202.9,145.5 1203.7,145.7 1204.5,146.4 1205.3,147.1 1206.1,146.8 1206.9,147.0 1207.7,147.6 1208.4,148.9 1209.2,149.7 1210.0,149.1 1210.8,149.3 1211.6,150.4 1212.3,151.1 1213.1,151.5 1213.9,151.6 1214.7,152.1 1215.5,152.5 1216.2,152.1 1217.0,152.5 1217.8,153.5 1218.6,154.4 1219.4,155.4 1220.2,155.2 1221.0,155.3 1221.8,156.0 1222.7,155.9 1223.5,155.5 1224.3,156.3 1225.2,157.3 1226.0,157.5 1226.8,156.9 1227.7,157.4 1228.5,158.4 1229.4,158.4 1230.2,158.7 1231.1,158.9 1232.0,159.5 1232.8,160.1 1233.7,160.0 1234.5,160.4 1235.4,160.8 1236.3,160.5 1237.1,160.7 1238.0,161.2 1238.9,161.0 1239.7,161.1 1240.6,162.1 1241.5,162.3 1242.4,162.8 1243.2,163.8 1244.1,163.4 1245.0,163.3 1245.9,164.2 1246.7,164.2 1247.6,163.5 1248.5,163.6 1249.4,163.7 1250.2,163.6 1251.1,164.3 1252.0,164.8 1252.9,165.0 1253.8,165.4 1254.6,165.3 1255.5,165.2 1256.4,165.5 1257.3,165.5 1258.2,165.5 1259.1,165.9 1260.0,166.2 1260.9,166.3 1261.8,166.8 1262.7,167.0 1263.6,166.4 1264.5,165.9 1265.4,166.2 1266.3,166.5 1267.2,166.9 1268.1,166.6 1269.0,166.2 1269.9,166.6 1270.8,167.1 1271.7,167.5 1272.6,166.8 1273.5,166.3 1274.4,166.3 1275.3,166.7 1276.2,167.1 1277.1,166.7 1278.0,166.4 1278.9,166.6 1279.8,167.1 1280.7,166.8 1281.6,166.4 1282.5,166.8 1283.4,166.9 1284.3,167.0 1285.2,166.8 1286.1,166.6 1286.9,166.3 1287.8,166.6 1288.7,167.7 1289.6,167.2 1290.5,166.8 1291.4,167.9 1292.3,168.2 1293.2,167.5 1294.0,168.1 1294.9,168.4 1295.8,168.7 1296.7,169.2 1297.6,168.7 1298.4,169.2 1299.3,169.6 1300.2,170.0 1301.0,170.4 1301.9,170.4 1302.8,170.9 1303.7,171.4 1304.5,171.3 1305.4,171.3 1306.3,171.4 1307.1,171.5 1308.0,172.0 1308.9,172.4 1309.8,172.4 1310.7,172.7 1311.5,172.8 1312.4,172.8 1313.3,173.3 1314.2,173.0 1315.1,172.8 1316.0,173.8 1316.9,173.8 1317.7,173.8 1318.6,173.9 1319.5,173.8 1320.4,174.0 1321.3,173.8 1322.2,174.2 1323.1,174.4 1323.9,175.0 1324.8,175.6 1325.7,175.7 1326.6,175.7 1327.5,176.1 1328.4,176.5 1329.2,176.3 1330.1,175.8 1331.0,176.1 1331.9,176.9 1332.7,176.9 1333.6,177.2 1334.5,177.6 1335.4,177.5 1336.2,177.7 1337.1,178.1 1338.0,178.3 1338.8,178.3 1339.7,178.3 1340.6,178.7 1341.4,179.6 1342.3,180.5 1343.1,180.2 1344.0,179.4 1344.9,179.7 1345.7,180.0 1346.6,180.3 1347.4,181.0 1348.3,181.1 1349.1,181.5 1350.0,182.3 1350.8,182.9 1351.6,183.6 1352.5,183.8 1353.3,184.2 1354.1,184.1 1355.0,183.9 1355.8,184.4 1356.6,184.9 1357.4,185.5 1358.2,185.7 1359.0,186.3 1359.8,187.3 1360.6,187.2 1361.4,187.4 1362.2,187.5 1362.9,187.0 1363.7,187.7 1364.5,189.1 1365.2,189.7 1366.0,189.7 1366.7,190.0 1367.4,191.5 1368.2,192.4 1368.9,192.6 1369.6,192.8 1370.3,193.4 1371.0,194.5 1371.7,195.1 1372.3,195.1 1373.0,195.6 1373.7,196.1 1374.3,196.5 1374.9,197.6 1375.6,198.2 1376.2,198.6 1376.8,199.9 1377.4,200.5 1378.0,201.0 1378.6,201.6 1379.2,201.7 1379.8,202.5 1380.3,203.4 1380.9,203.5 1381.5,203.9 1382.0,205.2 1382.6,206.7 1383.1,207.4 1383.6,207.6 1384.2,208.8 1384.7,209.6 1385.2,210.0 1385.7,211.2 1386.2,212.5 1386.6,212.0 1387.1,212.6 1387.6,214.3 1388.1,215.1 1388.5,215.7 1389.0,216.5 1389.4,217.8 1389.8,218.9 1390.3,219.6 1390.7,220.2 1391.1,220.7 1391.5,221.5 1391.9,221.7 1392.3,222.9 1392.7,224.1 1393.1,224.3 1393.5,225.1 1393.9,226.0 1394.2,226.1 1394.6,226.8 1394.9,227.9 1395.3,228.4 1395.6,229.0 1396.0,229.6 1396.3,231.2 1396.6,232.5 1397.0,233.1 1397.3,234.0 1397.6,234.5 1398.0,235.2 1398.3,236.0 1398.6,237.0 1398.9,237.5 1399.2,238.3 1399.5,240.2 1399.8,241.5 1400.1,242.4 1400.4,243.1 1400.7,243.2 1401.0,244.2 1401.3,245.5 1401.6,246.2 1401.9,246.5 1402.2,247.4 1402.5,249.1 1402.7,250.0 1403.0,250.4 1403.3,251.2 1403.6,252.1 1403.9,252.8 1404.1,254.0 1404.4,254.9 1404.7,255.5 1404.9,256.4 1405.2,256.9 1405.5,257.4 1405.7,258.6 1406.0,259.6 1406.2,260.5 1406.5,261.0 1406.7,262.0 1407.0,263.5 1407.2,264.5 1407.5,264.6 1407.7,264.4 1408.0,266.5 1408.2,267.9 1408.4,268.5 1408.7,269.3 1408.9,270.1 1409.1,271.1 1409.3,271.6 1409.6,272.3 1409.8,273.9 1410.0,274.9 1410.2,275.2 1410.4,276.0 1410.6,277.4 1410.8,278.2 1411.0,278.7 1411.2,279.8 1411.4,281.0 1411.6,282.2 1411.8,282.7 1412.0,283.3 1412.2,284.5 1412.4,284.7 1412.6,285.3 1412.8,286.9 1413.0,287.7 1413.2,288.2 1413.3,289.3 1413.5,290.8 1413.7,291.5 1413.9,291.8 1414.1,292.7 1414.2,294.2 1414.4,295.5 1414.6,295.9 1414.7,296.1 1414.9,296.6 1415.1,297.7 1415.2,298.9 1415.4,299.9 1415.6,300.6 1415.7,301.3 1415.9,302.7 1416.0,303.1 1416.2,304.6 1416.3,306.2 1416.5,306.5 1416.6,306.8 1416.7,307.2 1416.9,308.8 1417.0,310.3 1417.2,310.1 1417.3,311.1 1417.4,313.0 1417.6,313.7 1417.7,314.0 1417.8,314.8 1417.9,315.9 1418.1,316.8 1418.2,318.5 1418.3,319.4 1418.5,320.1 1418.6,320.6 1418.7,320.9 1418.8,321.9 1419.0,323.4 1419.1,324.8 1419.2,325.3 1419.3,325.8 1419.4,326.6 1419.6,326.9 1419.7,327.9 1419.8,329.5 1419.9,330.2 1420.1,330.9 1420.2,331.4 1420.3,332.4 1420.4,334.3 1420.6,335.1 1420.7,335.8 1420.8,336.8 1421.0,337.3 1421.1,338.1 1421.2,338.9 1421.3,340.7 1421.5,341.9 1421.6,341.5 1421.7,341.9 1421.9,343.6 1422.0,345.2 1422.2,345.7 1422.3,346.0 1422.4,346.5 1422.6,347.5 1422.7,348.9 1422.9,350.0 1423.0,351.1 1423.2,352.4 1423.3,352.5 1423.5,353.7 1423.6,354.0 1423.8,354.2 1423.9,355.6 1424.1,357.1 1424.2,358.5 1424.4,359.1 1424.5,359.1 1424.7,359.7 1424.8,360.8 1424.9,362.3 1425.1,363.4 1425.2,364.1 1425.4,365.7 1425.5,366.4 1425.7,366.9 1425.8,367.7 1426.0,368.3 1426.2,369.4 1426.3,370.2 1426.5,371.1 1426.6,371.9 1426.8,373.4 1426.9,374.2 1427.1,374.5 1427.3,375.5 1427.4,375.6 1427.6,376.9 1427.8,378.6 1427.9,378.7 1428.1,379.3 1428.3,380.1 1428.5,381.3 1428.7,383.2 1428.9,384.4 1429.0,384.3 1429.2,384.3 1429.4,385.7 1429.6,387.7 1429.8,388.4 1430.1,389.1 1430.3,389.5 1430.5,390.0 1430.7,391.5 1430.9,392.2 1431.2,392.9 1431.4,394.1 1431.7,394.8 1431.9,395.2 1432.1,396.5 1432.4,397.7 1432.6,398.1 1432.9,399.0 1433.1,400.0 1433.4,400.9 1433.7,401.9 1434.0,402.5 1434.2,403.1 1434.5,404.1 1434.8,405.2 1435.1,406.6 1435.4,407.4 1435.7,407.3 1436.0,408.8 1436.4,409.4 1436.7,410.1 1437.0,411.3 1437.4,412.0 1437.7,413.1 1438.1,413.6 1438.5,414.5 1438.9,415.1 1439.2,416.1 1439.6,416.7 1440.0,417.5 1440.4,418.2 1440.8,418.6 1441.3,419.6 1441.7,420.6 1442.1,421.9 1442.6,422.4 1443.1,422.5 1443.6,423.2 1444.2,424.0 1444.7,425.3 1445.3,425.8 1446.0,426.2 1446.6,426.9 1447.3,427.6 1448.0,427.7 1448.7,428.4 1449.5,429.8 1450.2,429.9 1451.0,430.0 1451.8,430.4 1452.6,431.2 1453.4,432.1 1454.2,433.1 1455.0,433.2 1455.8,432.4 1456.6,432.7 1457.4,433.0 1458.2,433.6 1459.0,434.5 1459.8,435.2 1460.6,435.6 1461.4,435.6 1462.2,436.3 1463.0,437.1 1463.8,437.3 1464.6,437.2 1465.4,437.1 1466.2,437.7 1467.0,438.2 1467.8,438.1 1468.6,439.1 1469.4,440.1 1470.2,440.4 1471.0,441.1 1471.8,441.7 1472.6,442.0 1473.5,442.0 1474.3,442.0 1475.1,442.3 1475.9,443.4 1476.8,443.2 1477.6,442.7 1478.4,443.7 1479.3,444.8 1480.1,444.7 1481.0,444.3 1481.8,445.0 1482.7,446.4 1483.5,446.3 1484.4,445.6 1485.3,446.3 1486.1,446.3 1487.0,446.4 1487.9,446.9 1488.8,446.8 1489.7,446.9 1490.6,447.7 1491.5,447.7 1492.4,447.1 1493.3,446.9 1494.2,447.2 1495.1,447.8 1496.0,447.9 1496.9,447.7 1497.8,448.5 1498.7,448.2 1499.6,447.1 1500.5,447.4 1501.4,447.7 1502.3,447.9 1503.2,448.4 1504.1,448.4 1504.9,448.0 1505.8,448.1 1506.7,448.4 1507.6,448.3 1508.5,448.1 1509.4,448.4 1510.3,448.7 1511.2,448.3 1512.1,448.8 1513.0,449.1 1513.8,449.0 1514.7,449.5 1515.6,449.7 1516.4,449.7 1517.3,449.8 1518.2,449.7 1519.0,450.3 1519.9,451.5 1520.8,451.4 1521.6,451.6 1522.5,452.4 1523.4,452.8 1524.2,452.4 1525.1,452.0 1525.9,453.1 1526.8,453.5 1527.7,453.2 1528.6,453.7 1529.4,454.1 1530.3,453.8 1531.2,453.7 1532.1,454.2 1533.0,454.4 1533.9,454.1 1534.8,454.5 1535.7,455.1 1536.6,454.7 1537.5,454.4 1538.3,455.0 1539.2,454.5 1540.1,454.4 1541.0,455.2 1541.9,455.1 1542.8,455.8 1543.6,456.3 1544.5,457.2 1545.4,457.2 1546.3,456.5 1547.2,456.3 1548.0,456.7 1548.9,457.2 1549.8,457.1 1550.7,457.9 1551.6,458.3 1552.5,458.3 1553.3,458.5 1554.2,458.3 1555.1,457.8 1556.0,457.6 1556.9,458.2 1557.8,459.5 1558.7,459.3 1559.6,458.8 1560.4,459.0 1561.3,459.3 1562.2,458.9 1563.1,459.2 1564.0,460.2 1564.9,459.9 1565.8,459.3 1566.7,459.4 1567.6,460.0 1568.5,460.9 1569.3,460.5 1570.2,459.7 1571.1,460.2 1572.0,460.9 1572.9,461.2 1573.8,461.0 1574.7,461.2 1575.6,461.8 1576.5,461.2 1577.4,460.9 1578.3,461.7 1579.1,462.2 1580.0,462.0 1580.9,461.2 1581.8,461.3 1582.7,461.5 1583.6,461.7 1584.5,462.6 1585.4,462.7 1586.3,462.5 1587.2,462.4 1588.1,462.8 1589.0,463.1 1589.9,462.6 1590.8,463.5 1591.6,464.0 1592.5,463.8 1593.4,463.2 1594.3,463.5 1595.2,464.8 1596.1,464.4 1597.0,463.9 1597.9,463.9 1598.8,464.5 1599.7,464.4 1600.5,464.3 1601.4,465.6 1602.3,465.8 1603.2,466.0 1604.0,466.2 1604.9,465.7 1605.8,466.2 1606.7,466.5 1607.5,466.4 1608.4,466.4 1609.3,466.1 1610.2,466.3 1611.1,467.0 1612.0,467.4 1612.9,467.2 1613.8,467.0 1614.7,466.7 1615.6,466.5 1616.5,466.7 1617.4,466.7 1618.3,466.7 1619.2,466.7 1620.1,467.0 1621.0,467.1 1621.9,466.8 1622.8,466.0 1623.7,465.5 1624.6,465.8 1625.5,466.0 1626.4,466.1 1627.3,465.5 1628.2,465.2 1629.0,465.7 1629.9,465.5 1630.8,465.1 1631.7,465.2 1632.6,465.3 1633.5,465.3 1634.4,464.7 1635.3,464.2 1636.2,465.3 1637.1,465.6 1638.0,464.9 1638.9,464.7 1639.8,464.6 1640.7,465.1 1641.6,466.0 1642.5,465.9 1643.4,465.8 1644.3,465.8 1645.2,465.9 1646.1,466.0 1647.0,466.1 1647.9,466.0 1648.8,465.6 1649.7,465.5 1650.6,465.4 1651.5,465.2 1652.4,465.9 1653.3,466.9 1654.2,466.8 1655.1,466.8 1656.0,466.7 1656.9,466.7 1657.8,466.3 1658.7,466.2 1659.5,466.2 1660.4,466.1 1661.3,466.6 1662.2,466.9 1663.1,466.7 1664.0,467.3 1664.9,468.1 1665.8,467.6 1666.7,467.0 1667.6,467.1 1668.5,467.9 1669.4,467.5 1670.3,467.5 1671.2,468.2 1672.1,467.9 1673.0,468.3 1673.9,468.5 1674.8,468.1 1675.7,468.5 1676.6,468.2 1677.5,468.3 1678.4,468.6 1679.3,467.8 1680.2,468.6 1681.1,469.8 1682.0,469.7 1682.9,468.3 1683.8,467.1 1684.6,467.3 1685.5,467.8 1686.4,467.2 1687.2,466.9 1688.1,466.5 1688.9,466.5 1689.7,466.3 1690.5,465.6 1691.4,464.6 1692.2,464.5 1693.1,464.4 1694.0,464.4 1694.8,464.7 1695.7,463.7 1696.6,463.5 1697.5,463.7 1698.4,464.0 1699.3,464.5 1700.2,464.6 1701.1,464.2 1702.0,464.1 1702.9,463.9 1703.8,463.9 1704.7,464.3 1705.6,464.3 1706.5,464.4 1707.4,464.7 1708.3,464.6 1709.2,464.3 1710.1,464.9 1711.0,465.0 1711.9,464.5 1712.8,464.3 1713.7,464.6 1714.6,464.9 1715.5,465.2 1716.4,465.3 1717.3,465.4 1718.2,465.4 1719.1,465.8 1720.0,466.0 1720.9,465.8 1721.8,466.0 1722.7,465.5 1723.6,465.8 1724.5,466.2 1725.3,466.2 1726.2,465.8 1727.1,465.1 1728.0,465.2 1728.9,465.3 1729.8,465.9 1730.7,466.5 1731.6,466.4 1732.5,466.4 1733.4,466.6 1734.3,467.1 1735.2,467.6 1736.1,467.5 1737.0,467.6 1737.9,468.1 1738.8,468.2 1739.7,467.3 1740.6,467.1 1741.5,467.6 1742.4,468.0 1743.2,468.3 1744.1,468.4 1745.0,467.9 1745.9,468.1 1746.8,468.7 1747.7,468.6 1748.6,468.9 1749.5,468.5 1750.4,468.2 1751.3,468.7 1752.2,469.4 1753.1,469.1 1754.0,468.4 1754.9,468.2 1755.8,468.3 1756.7,468.8 1757.6,469.1 1758.5,469.6 1759.4,469.7 1760.3,469.2 1761.1,469.3 1762.0,469.7 1762.9,469.9 1763.8,470.1 1764.7,470.0 1765.6,470.2 1766.5,470.2 1767.4,469.7 1768.3,469.8 1769.2,470.7 1770.1,470.6 1771.0,470.8 1771.9,470.9 1772.8,470.3 1773.7,470.0 1774.6,469.7 1775.5,470.7 1776.4,470.4 1777.3,469.7 1778.2,470.2 1779.1,470.5 1780.0,470.0 1780.9,469.5 1781.8,470.0 1782.7,470.5 1783.6,470.7 1784.5,470.5 1785.4,470.5 1786.3,471.0 1787.2,470.4 1788.1,470.4 1789.0,471.0 1789.9,471.1 1790.8,470.8 1791.7,470.4 1792.6,470.6 1793.5,470.5 1794.4,470.9 1795.3,471.2 1796.2,470.6 1797.1,470.7 1798.0,470.7 1798.9,470.2 1799.8,470.3 1800.7,470.9 1801.6,471.3 1802.5,471.4 1803.4,471.6 1804.3,472.3 1805.2,471.9 1806.1,471.5 1807.0,472.0 1807.9,471.6 1808.8,471.4 1809.7,471.9 1810.6,472.2 1811.5,472.0 1812.4,472.3 1813.3,472.7 1814.1,472.8 1815.0,473.3 1815.9,472.8 1816.8,472.7 1817.7,473.3 1818.6,472.8 1819.5,472.7 1820.4,473.0 1821.3,472.7 1822.2,473.2 1823.1,473.4 1824.0,472.6 1824.9,473.2 1825.8,473.7 1826.7,473.7 1827.6,474.0 1828.5,473.8 1829.4,473.7 1830.3,473.1 1831.2,473.2 1832.1,473.7 1833.0,474.1 1833.9,474.3 1834.7,474.0 1835.6,474.4 1836.5,474.3 1837.4,474.2 1838.3,474.5 1839.2,474.9 1840.1,474.7 1841.0,474.9 1841.9,475.4 1842.8,475.1 1843.7,475.3 1844.6,475.9 1845.5,476.2 1846.4,475.6 1847.3,475.8 1848.2,476.2 1849.1,476.2 1850.0,476.0 1850.9,475.6 1851.8,475.9 1852.7,475.6 1853.6,475.6 1854.5,476.3 1855.4,476.8 1856.3,476.7 1857.2,476.5 1858.1,476.2 1859.0,476.7 1859.9,476.5 1860.8,475.5 1861.7,475.6 1862.6,476.1 1863.5,476.1 1864.4,476.3 1865.3,476.0 1866.2,476.0 1867.1,477.0 1868.0,476.9 1868.9,476.3 1869.8,475.8 1870.7,476.1 1871.6,475.8 1872.5,475.1 1873.4,475.1 1874.3,475.2 1875.2,476.2 1876.1,476.1 1877.0,475.8 1877.9,475.5 1878.7,474.9 1879.6,475.0 1880.5,475.3 1881.4,475.1 1882.3,474.5 1883.2,474.6 1884.1,475.2 1885.0,475.1 1885.9,475.0 1886.8,474.9 1887.6,474.1 1888.5,474.2 1889.4,473.9 1890.3,473.1 1891.2,473.2 1892.1,472.8 1892.9,472.2 1893.8,472.3 1894.7,472.5 1895.6,472.9 1896.5,473.1 1897.4,472.5 1898.3,472.1 1899.1,471.9 1900.0,471.2 1900.9,471.3 1901.8,471.4 1902.7,471.4 1903.6,471.4 1904.5,470.7 1905.4,470.9 1906.3,471.0 1907.2,470.4 1908.1,470.9 1909.0,471.3 1909.9,471.0 1910.8,470.9 1911.7,470.6 1912.6,469.7 1913.5,469.7 1914.4,470.4 1915.3,470.7 1916.2,470.4 1917.1,470.4 1918.0,470.8 1918.9,471.1 1919.8,470.8 1920.7,470.4 1921.6,470.7 1922.5,470.8 1923.4,471.2 1924.3,471.1 1925.2,470.3 1926.1,470.7 1927.0,470.5 1927.9,470.2 1928.8,471.2 1929.7,470.8 1930.6,470.4 1931.5,470.6 1932.4,470.2 1933.3,470.4 1934.2,470.4 1935.1,470.4 1936.0,470.9 1936.9,471.1 1937.8,471.3 1938.7,471.1 1939.6,470.9 1940.5,470.7 1941.4,470.5 1942.3,470.8 1943.2,471.1 1944.1,471.0 1945.0,470.7 1945.9,470.9 1946.8,470.5 1947.7,470.1 1948.6,470.5 1949.5,471.0 1950.4,470.5 1951.3,469.9 1952.2,469.9 1953.1,470.4 1954.0,471.1 1954.9,471.3 1955.8,471.8 1956.7,470.9 1957.6,470.2 1958.5,470.4 1959.4,470.1 1960.3,470.3 1961.2,470.4 1962.1,470.5 1963.0,470.5" fill="none" stroke="#111" stroke-width="2.4" stroke-linejoin="round" stroke-linecap="round"/>
<polyline points="1091.0,21.3 1091.9,21.3 1092.7,21.6 1093.6,21.9 1094.5,22.6 1095.3,22.7 1096.2,22.8 1097.1,23.6 1097.9,23.6 1098.8,23.4 1099.7,23.8 1100.5,24.4 1101.4,25.0 1102.3,25.2 1103.1,25.3 1104.0,25.4 1104.8,25.3 1105.7,25.4 1106.5,25.7 1107.3,26.3 1108.1,26.9 1108.9,27.2 1109.7,27.7 1110.5,28.4 1111.3,28.6 1112.0,28.9 1112.8,29.9 1113.5,30.6 1114.3,30.5 1115.0,30.9 1115.8,31.9 1116.5,32.5 1117.2,32.9 1117.9,33.8 1118.6,33.7 1119.4,34.2 1120.1,35.2 1120.8,35.3 1121.5,35.8 1122.2,36.6 1122.9,37.4 1123.6,37.9 1124.3,38.3 1125.0,39.0 1125.7,40.0 1126.4,40.6 1127.1,41.1 1127.8,41.7 1128.5,42.5 1129.1,42.8 1129.8,43.2 1130.5,43.8 1131.2,44.3 1131.9,44.9 1132.6,45.1 1133.2,45.5 1133.9,46.5 1134.6,46.8 1135.2,47.0 1135.9,48.3 1136.6,49.0 1137.2,49.2 1137.9,50.1 1138.5,50.7 1139.2,51.1 1139.8,51.7 1140.5,52.4 1141.1,53.1 1141.8,53.8 1142.4,54.8 1143.0,55.5 1143.7,56.1 1144.3,56.9 1144.9,57.4 1145.5,58.0 1146.1,58.4 1146.8,59.1 1147.4,59.8 1148.0,60.2 1148.6,61.0 1149.2,62.0 1149.8,62.6 1150.4,63.0 1151.0,63.2 1151.5,64.2 1152.1,65.4 1152.7,65.4 1153.3,66.2 1153.9,67.2 1154.4,67.9 1155.0,68.7 1155.6,69.5 1156.1,70.2 1156.7,70.8 1157.3,71.5 1157.8,72.3 1158.4,72.8 1158.9,73.5 1159.5,74.5 1160.0,74.9 1160.6,75.5 1161.2,76.3 1161.7,77.0 1162.3,77.9 1162.8,78.5 1163.3,79.2 1163.9,80.2 1164.4,80.9 1165.0,81.7 1165.5,82.3 1166.1,82.9 1166.6,84.1 1167.1,84.7 1167.7,84.9 1168.2,85.7 1168.7,86.5 1169.2,87.1 1169.7,87.7 1170.3,88.3 1170.8,88.9 1171.3,89.7 1171.8,90.5 1172.3,91.3 1172.8,92.4 1173.3,93.1 1173.9,93.5 1174.4,94.4 1174.9,95.4 1175.4,95.8 1175.9,96.6 1176.4,97.4 1176.9,98.0 1177.4,98.8 1177.9,99.8 1178.4,100.5 1178.9,101.0 1179.4,102.0 1179.9,102.9 1180.4,103.9 1181.0,104.2 1181.5,105.0 1182.0,106.0 1182.5,106.7 1183.0,107.6 1183.5,108.0 1184.0,108.6 1184.5,109.3 1185.1,110.1 1185.6,111.2 1186.1,111.9 1186.6,112.2 1187.1,113.4 1187.6,114.1 1188.1,114.4 1188.6,115.3 1189.2,115.8 1189.7,116.7 1190.2,117.9 1190.7,118.4 1191.2,119.0 1191.7,119.7 1192.2,120.1 1192.7,121.0 1193.3,121.8 1193.8,122.3 1194.3,123.3 1194.8,124.4 1195.3,124.9 1195.8,125.7 1196.3,126.9 1196.9,127.5 1197.4,127.9 1197.9,128.6 1198.4,129.3 1198.9,129.9 1199.5,130.8 1200.0,131.8 1200.5,132.3 1201.0,132.8 1201.6,133.6 1202.1,134.2 1202.6,134.9 1203.1,135.5 1203.7,136.6 1204.2,137.5 1204.7,138.1 1205.2,139.2 1205.7,139.8 1206.3,140.3 1206.8,140.9 1207.3,141.4 1207.8,142.5 1208.3,143.3 1208.9,143.7 1209.4,144.2 1209.9,145.2 1210.5,146.1 1211.0,146.9 1211.5,147.8 1212.1,148.3 1212.6,149.0 1213.1,149.9 1213.7,150.6 1214.3,151.0 1214.8,151.8 1215.4,152.6 1216.0,153.2 1216.5,154.0 1217.1,154.8 1217.7,155.6 1218.3,156.2 1218.9,156.6 1219.5,157.2 1220.2,158.0 1220.8,158.6 1221.4,159.1 1222.0,159.7 1222.7,160.3 1223.3,161.0 1224.0,162.2 1224.6,162.8 1225.3,163.0 1225.9,163.7 1226.6,164.2 1227.3,164.8 1228.0,165.8 1228.6,166.3 1229.3,166.9 1230.0,167.6 1230.7,167.7 1231.4,168.1 1232.1,168.7 1232.8,169.2 1233.5,170.1 1234.2,170.9 1234.9,171.4 1235.6,171.7 1236.3,172.2 1237.0,172.9 1237.7,173.7 1238.4,174.4 1239.1,174.6 1239.9,175.2 1240.6,175.6 1241.3,176.0 1242.0,176.6 1242.7,177.3 1243.5,177.8 1244.2,178.1 1244.9,178.8 1245.7,179.3 1246.4,179.5 1247.2,179.9 1247.9,180.5 1248.7,181.1 1249.4,181.8 1250.2,182.5 1250.9,182.8 1251.7,183.1 1252.5,183.6 1253.3,184.2 1254.0,184.4 1254.8,184.7 1255.6,185.7 1256.4,186.2 1257.2,186.0 1258.0,186.7 1258.8,187.4 1259.7,187.5 1260.5,188.0 1261.3,188.1 1262.1,188.2 1263.0,188.5 1263.8,189.2 1264.6,189.8 1265.5,190.3 1266.3,190.7 1267.2,190.6 1268.0,190.7 1268.9,190.7 1269.7,191.1 1270.5,191.8 1271.4,192.0 1272.2,191.7 1273.1,192.3 1274.0,193.2 1274.8,193.2 1275.7,193.4 1276.5,194.0 1277.4,194.4 1278.2,194.2 1279.1,194.3 1279.9,194.8 1280.8,195.2 1281.6,195.6 1282.5,195.6 1283.3,195.9 1284.2,196.5 1285.0,196.5 1285.9,196.4 1286.7,196.9 1287.6,197.4 1288.4,197.7 1289.3,197.7 1290.1,197.8 1291.0,198.4 1291.8,199.0 1292.7,199.2 1293.5,199.4 1294.4,200.2 1295.2,200.4 1296.1,200.3 1297.0,200.5 1297.8,200.9 1298.7,201.4 1299.5,201.6 1300.4,201.8 1301.2,202.1 1302.1,202.5 1303.0,202.6 1303.8,203.0 1304.7,203.0 1305.6,203.2 1306.4,203.7 1307.3,203.9 1308.2,204.5 1309.0,204.6 1309.9,204.5 1310.8,204.7 1311.7,205.2 1312.5,205.7 1313.4,205.7 1314.3,205.7 1315.2,206.2 1316.0,206.3 1316.9,206.0 1317.8,205.9 1318.7,206.3 1319.6,206.6 1320.5,206.8 1321.3,207.1 1322.2,207.3 1323.1,207.5 1324.0,207.6 1324.9,207.8 1325.8,208.1 1326.7,208.2 1327.5,208.7 1328.4,208.9 1329.3,208.9 1330.2,208.7 1331.1,208.5 1332.0,208.2 1332.9,208.8 1333.7,209.7 1334.6,209.8 1335.5,209.6 1336.4,210.1 1337.3,210.3 1338.2,210.2 1339.0,210.2 1339.9,210.1 1340.8,210.8 1341.7,211.2 1342.6,211.0 1343.5,211.0 1344.3,211.5 1345.2,211.4 1346.1,211.5 1347.0,211.7 1347.9,211.9 1348.7,212.3 1349.6,212.5 1350.5,212.6 1351.4,212.6 1352.3,212.8 1353.2,212.9 1354.0,213.0 1354.9,213.2 1355.8,213.3 1356.7,213.8 1357.6,214.0 1358.5,214.3 1359.3,214.6 1360.2,214.8 1361.1,214.6 1362.0,214.8 1362.9,215.4 1363.7,215.7 1364.6,215.8 1365.5,216.1 1366.4,215.8 1367.3,215.8 1368.1,216.4 1369.0,216.5 1369.9,216.3 1370.8,216.6 1371.7,217.0 1372.5,217.5 1373.4,217.9 1374.3,217.7 1375.2,217.5 1376.1,217.6 1376.9,218.0 1377.8,218.2 1378.7,218.8 1379.6,218.9 1380.4,218.7 1381.3,219.2 1382.2,219.5 1383.1,219.5 1383.9,219.6 1384.8,220.0 1385.7,220.3 1386.6,220.4 1387.4,220.5 1388.3,220.8 1389.2,221.4 1390.1,221.4 1390.9,221.3 1391.8,222.0 1392.7,221.9 1393.6,222.0 1394.5,222.8 1395.3,222.7 1396.2,222.9 1397.1,223.4 1397.9,223.5 1398.8,223.6 1399.6,223.7 1400.4,223.9 1401.2,224.5 1402.0,225.1 1402.8,225.8 1403.6,226.2 1404.3,226.2 1405.1,227.0 1405.8,227.9 1406.4,228.4 1407.1,228.8 1407.7,229.3 1408.3,229.9 1408.9,231.0 1409.4,232.0 1409.9,232.5 1410.3,233.2 1410.8,233.9 1411.2,234.5 1411.5,235.2 1411.9,236.2 1412.3,236.8 1412.6,237.4 1412.9,238.3 1413.2,239.3 1413.5,240.5 1413.8,241.2 1414.1,241.8 1414.4,242.6 1414.6,243.6 1414.9,244.5 1415.2,245.3 1415.4,246.1 1415.7,247.6 1415.9,248.6 1416.2,248.9 1416.5,249.7 1416.7,250.9 1417.0,252.0 1417.3,252.7 1417.5,253.1 1417.8,254.1 1418.1,255.4 1418.4,256.3 1418.6,257.0 1418.9,257.8 1419.2,258.7 1419.4,259.5 1419.7,260.4 1420.0,261.2 1420.2,261.8 1420.5,262.7 1420.7,263.5 1421.0,264.4 1421.2,265.5 1421.5,266.7 1421.7,267.3 1421.9,267.7 1422.2,268.9 1422.4,269.9 1422.6,270.6 1422.8,271.6 1423.1,272.6 1423.3,273.3 1423.5,274.2 1423.7,275.3 1423.9,275.6 1424.1,276.3 1424.3,277.5 1424.5,278.5 1424.7,279.4 1424.9,280.1 1425.1,281.0 1425.3,282.0 1425.5,283.0 1425.7,283.8 1425.8,285.0 1426.0,286.0 1426.2,286.3 1426.4,287.1 1426.5,288.3 1426.7,289.0 1426.8,289.8 1427.0,290.7 1427.1,291.2 1427.3,292.3 1427.4,293.7 1427.6,294.6 1427.7,295.4 1427.9,296.1 1428.0,297.0 1428.2,298.1 1428.3,299.1 1428.4,300.1 1428.6,301.0 1428.7,301.6 1428.8,302.3 1429.0,303.1 1429.1,304.1 1429.2,305.3 1429.3,306.3 1429.5,307.2 1429.6,308.1 1429.7,308.8 1429.8,309.5 1430.0,310.5 1430.1,311.3 1430.2,311.9 1430.3,312.7 1430.5,313.5 1430.6,314.5 1430.7,315.6 1430.8,316.6 1430.9,317.3 1431.1,318.1 1431.2,319.2 1431.3,319.8 1431.4,321.0 1431.5,322.4 1431.7,322.9 1431.8,324.0 1431.9,325.3 1432.0,325.4 1432.1,326.0 1432.3,327.2 1432.4,328.2 1432.5,329.0 1432.6,329.8 1432.8,330.9 1432.9,331.4 1433.0,332.3 1433.1,333.9 1433.3,334.8 1433.4,335.6 1433.5,336.8 1433.6,337.5 1433.8,338.2 1433.9,339.1 1434.0,339.9 1434.1,341.1 1434.3,342.1 1434.4,342.7 1434.5,343.7 1434.6,344.7 1434.8,345.2 1434.9,345.7 1435.0,346.8 1435.1,348.0 1435.2,348.7 1435.4,349.2 1435.5,350.5 1435.6,351.7 1435.7,352.4 1435.8,353.1 1436.0,354.0 1436.1,354.7 1436.2,355.5 1436.3,356.7 1436.4,357.7 1436.6,358.7 1436.7,359.4 1436.8,359.8 1436.9,361.1 1437.0,362.1 1437.2,362.8 1437.3,363.9 1437.4,364.6 1437.5,365.2 1437.6,366.4 1437.7,367.1 1437.9,368.0 1438.0,369.1 1438.1,370.0 1438.2,371.2 1438.3,372.0 1438.5,373.0 1438.6,373.8 1438.7,374.4 1438.8,375.4 1438.9,376.6 1439.0,377.4 1439.2,378.2 1439.3,379.0 1439.4,380.1 1439.5,381.2 1439.6,382.0 1439.8,382.5 1439.9,383.2 1440.0,384.1 1440.1,385.3 1440.2,386.5 1440.3,387.2 1440.5,388.0 1440.6,388.8 1440.7,389.8 1440.8,390.7 1440.9,391.3 1441.0,392.5 1441.2,393.6 1441.3,394.4 1441.4,394.9 1441.5,395.6 1441.6,396.9 1441.7,398.1 1441.9,399.1 1442.0,399.8 1442.1,400.4 1442.2,401.2 1442.3,402.4 1442.4,403.2 1442.6,403.9 1442.7,405.4 1442.8,406.0 1442.9,406.4 1443.0,407.2 1443.1,408.1 1443.3,409.3 1443.4,410.4 1443.5,411.1 1443.6,411.9 1443.7,413.2 1443.8,414.1 1444.0,414.7 1444.1,416.0 1444.2,416.8 1444.3,417.2 1444.4,418.6 1444.6,419.5 1444.7,419.8 1444.8,420.6 1444.9,421.4 1445.0,422.3 1445.2,423.7 1445.3,424.4 1445.4,425.5 1445.5,426.9 1445.7,427.6 1445.8,428.2 1445.9,428.9 1446.0,430.1 1446.1,431.1 1446.3,432.1 1446.4,432.5 1446.5,433.0 1446.6,434.1 1446.7,435.0 1446.9,436.2 1447.0,437.5 1447.1,438.4 1447.2,439.0 1447.3,440.0 1447.4,440.7 1447.6,441.9 1447.7,442.6 1447.8,443.3 1447.9,444.7 1448.0,446.1 1448.2,446.5 1448.3,446.7 1448.4,447.4 1448.5,448.4 1448.6,449.5 1448.8,450.5 1448.9,451.6 1449.0,452.4 1449.1,453.1 1449.3,453.8 1449.4,454.5 1449.5,455.7 1449.7,456.3 1449.8,457.2 1449.9,458.7 1450.1,459.5 1450.2,460.3 1450.3,461.2 1450.5,461.8 1450.6,462.7 1450.8,463.7 1450.9,464.6 1451.0,465.6 1451.2,466.5 1451.3,467.2 1451.5,468.0 1451.7,469.4 1451.8,470.5 1452.0,471.0 1452.1,471.6 1452.3,472.7 1452.4,473.8 1452.6,474.2 1452.7,475.0 1452.9,476.5 1453.0,477.1 1453.2,477.7 1453.3,478.8 1453.5,479.6 1453.6,480.6 1453.8,481.3 1453.9,481.8 1454.0,482.8 1454.2,484.2 1454.3,485.1 1454.5,485.8 1454.6,486.6 1454.8,488.1 1454.9,488.8 1455.1,489.3 1455.3,490.1 1455.4,491.1 1455.6,492.2 1455.7,493.3 1455.9,494.2 1456.1,494.9 1456.3,495.8 1456.4,496.8 1456.6,497.6 1456.8,498.4 1457.0,499.5 1457.2,500.2 1457.4,500.9 1457.6,501.7 1457.8,502.5 1458.0,503.8 1458.2,504.7 1458.4,505.4 1458.7,506.7 1458.9,507.6 1459.2,508.1 1459.4,508.7 1459.7,509.1 1459.9,510.0 1460.2,511.1 1460.5,512.3 1460.8,513.4 1461.1,513.9 1461.4,514.7 1461.7,515.7 1462.1,516.7 1462.4,517.9 1462.8,518.5 1463.1,519.0 1463.5,520.1 1463.8,521.1 1464.2,521.8 1464.6,522.6 1465.0,523.2 1465.4,524.0 1465.8,524.7 1466.2,525.5 1466.6,526.5 1467.0,526.9 1467.4,527.7 1467.9,528.8 1468.3,529.4 1468.8,530.2 1469.2,531.2 1469.7,531.8 1470.1,532.2 1470.6,533.3 1471.1,534.3 1471.5,534.6 1472.0,535.4 1472.5,536.1 1473.0,537.0 1473.5,538.1 1474.0,538.8 1474.5,539.2 1475.1,539.7 1475.6,540.8 1476.1,541.5 1476.7,542.1 1477.2,543.1 1477.8,543.7 1478.3,544.3 1478.9,545.1 1479.4,546.0 1480.0,546.7 1480.6,547.8 1481.2,548.3 1481.8,548.5 1482.4,549.0 1483.0,550.0 1483.7,550.7 1484.3,551.2 1484.9,551.7 1485.6,552.2 1486.2,553.1 1486.9,553.8 1487.6,554.2 1488.3,554.9 1489.0,555.6 1489.7,556.1 1490.4,556.6 1491.1,557.1 1491.8,557.6 1492.5,558.3 1493.3,558.9 1494.0,559.2 1494.8,559.6 1495.5,560.2 1496.3,560.8 1497.1,561.0 1497.9,561.7 1498.6,562.0 1499.4,562.4 1500.2,563.2 1501.0,563.2 1501.8,563.4 1502.6,564.2 1503.5,564.5 1504.3,564.8 1505.1,565.0 1505.9,565.4 1506.7,566.0 1507.6,566.0 1508.4,566.3 1509.2,566.7 1510.0,567.1 1510.9,567.5 1511.7,567.8 1512.5,568.0 1513.4,568.3 1514.2,568.8 1515.1,569.2 1515.9,569.8 1516.7,570.5 1517.6,570.4 1518.4,570.4 1519.3,571.0 1520.1,571.1 1521.0,571.3 1521.8,571.7 1522.7,572.0 1523.5,572.4 1524.4,573.0 1525.2,573.1 1526.1,573.2 1527.0,573.5 1527.8,573.8 1528.7,574.3 1529.5,574.3 1530.4,574.0 1531.3,574.4 1532.1,575.0 1533.0,575.2 1533.9,575.5 1534.7,575.3 1535.6,575.4 1536.4,576.0 1537.3,576.1 1538.2,576.4 1539.0,576.8 1539.9,577.2 1540.8,577.4 1541.6,577.3 1542.5,577.7 1543.4,578.6 1544.2,578.8 1545.1,578.8 1545.9,578.9 1546.8,579.1 1547.7,579.8 1548.5,579.7 1549.4,579.9 1550.2,580.2 1551.1,580.5 1551.9,581.3 1552.8,581.3 1553.7,581.4 1554.5,582.0 1555.4,582.1 1556.2,582.3 1557.1,582.8 1558.0,582.9 1558.8,583.3 1559.7,583.3 1560.5,583.3 1561.4,583.7 1562.2,583.9 1563.1,584.5 1564.0,584.5 1564.8,584.7 1565.7,585.3 1566.5,585.5 1567.4,585.7 1568.3,586.2 1569.1,586.6 1570.0,586.9 1570.8,587.0 1571.7,586.7 1572.5,587.4 1573.4,587.7 1574.3,587.9 1575.1,588.4 1576.0,588.6 1576.8,588.8 1577.7,589.2 1578.6,589.7 1579.4,590.0 1580.3,590.2 1581.1,590.0 1582.0,590.3 1582.8,590.9 1583.7,591.2 1584.6,591.2 1585.4,591.3 1586.3,591.7 1587.1,591.9 1588.0,592.4 1588.9,592.8 1589.7,593.2 1590.6,593.4 1591.4,593.5 1592.3,593.8 1593.2,593.7 1594.0,594.1 1594.9,594.5 1595.7,594.5 1596.6,594.9 1597.5,595.2 1598.3,595.3 1599.2,595.2 1600.0,595.4 1600.9,595.9 1601.8,596.2 1602.6,596.8 1603.5,597.1 1604.3,597.2 1605.2,597.6 1606.1,598.0 1606.9,598.4 1607.8,598.6 1608.7,598.6 1609.5,599.0 1610.4,599.2 1611.2,599.3 1612.1,599.6 1613.0,599.8 1613.8,599.9 1614.7,600.0 1615.6,600.4 1616.4,600.9 1617.3,601.3 1618.2,601.4 1619.0,601.6 1619.9,601.9 1620.7,602.1 1621.6,602.8 1622.5,603.0 1623.3,602.7 1624.2,603.1 1625.1,603.7 1625.9,603.9 1626.8,604.1 1627.7,604.3 1628.5,604.2 1629.4,604.6 1630.2,604.9 1631.1,605.2 1632.0,605.5 1632.8,605.7 1633.7,605.8 1634.6,606.2 1635.4,606.6 1636.3,606.8 1637.1,607.3 1638.0,607.6 1638.9,607.7 1639.7,608.1 1640.6,608.3 1641.4,608.0 1642.3,608.3 1643.2,608.6 1644.0,608.9 1644.9,609.4 1645.7,609.7 1646.6,610.0 1647.5,610.4 1648.3,610.7 1649.2,610.9 1650.0,611.1 1650.9,611.2 1651.7,611.6 1652.6,611.9 1653.5,612.0 1654.3,612.2 1655.2,612.8 1656.0,613.2 1656.9,613.2 1657.7,613.5 1658.6,614.0 1659.4,614.1 1660.3,614.5 1661.1,615.2 1662.0,615.2 1662.9,615.5 1663.7,615.8 1664.6,616.0 1665.4,616.1 1666.3,616.2 1667.1,616.6 1668.0,617.0 1668.8,617.2 1669.7,617.2 1670.5,617.4 1671.4,618.1 1672.2,618.5 1673.1,618.9 1673.9,619.5 1674.8,619.5 1675.6,619.6 1676.5,619.6 1677.4,620.0 1678.2,620.8 1679.1,620.8 1679.9,620.8 1680.8,621.1 1681.6,621.6 1682.5,622.2 1683.3,622.2 1684.2,622.2 1685.0,622.8 1685.9,623.2 1686.7,623.3 1687.6,623.7 1688.4,623.8 1689.3,623.8 1690.1,624.3 1691.0,625.0 1691.9,625.4 1692.7,625.5 1693.6,625.4 1694.4,625.8 1695.3,626.2 1696.1,626.5 1697.0,626.8 1697.8,627.3 1698.7,627.6 1699.5,627.9 1700.4,628.0 1701.2,627.9 1702.1,628.5 1702.9,628.7 1703.8,628.7 1704.7,629.0 1705.5,629.1 1706.4,629.7 1707.2,630.5 1708.1,630.8 1708.9,631.0 1709.8,631.1 1710.6,631.1 1711.5,631.5 1712.3,631.8 1713.2,631.7 1714.0,632.1 1714.9,632.8 1715.8,633.3 1716.6,633.3 1717.5,633.4 1718.3,633.6 1719.2,634.1 1720.0,634.5 1720.9,634.6 1721.7,635.1 1722.6,635.4 1723.4,635.2 1724.3,635.6 1725.1,636.3 1726.0,636.8 1726.8,637.0 1727.7,637.0 1728.6,637.3 1729.4,637.7 1730.3,637.9 1731.1,637.9 1732.0,638.5 1732.8,639.0 1733.7,638.9 1734.5,639.3 1735.4,640.1 1736.2,640.0 1737.1,640.0 1737.9,640.8 1738.8,641.3 1739.6,641.1 1740.5,641.0 1741.4,641.2 1742.2,641.5 1743.1,641.9 1743.9,642.0 1744.8,642.8 1745.6,643.0 1746.5,642.8 1747.3,643.3 1748.2,643.9 1749.0,644.3 1749.9,644.7 1750.7,644.9 1751.6,644.9 1752.4,645.4 1753.3,645.7 1754.1,646.1 1755.0,646.6 1755.8,646.7 1756.7,646.8 1757.5,647.1 1758.4,647.5 1759.2,647.4 1760.1,647.5 1760.9,647.9 1761.8,648.3 1762.6,648.6 1763.5,649.0 1764.3,649.4 1765.2,649.7 1766.1,650.0 1766.9,650.4 1767.8,650.6 1768.6,650.8 1769.5,651.0 1770.3,651.4 1771.2,651.8 1772.0,652.0 1772.9,652.5 1773.7,652.7 1774.6,652.6 1775.4,652.7 1776.3,653.6 1777.2,653.7 1778.0,653.9 1778.9,654.2 1779.7,654.3 1780.6,654.9 1781.4,655.0 1782.3,655.3 1783.2,655.3 1784.0,655.4 1784.9,655.9 1785.7,656.3 1786.6,656.8 1787.5,657.2 1788.3,657.5 1789.2,657.5 1790.1,657.4 1790.9,657.8 1791.8,658.1 1792.6,657.9 1793.5,657.9 1794.4,658.4 1795.2,659.0 1796.1,659.3 1797.0,659.7 1797.8,659.7 1798.7,659.9 1799.6,660.2 1800.4,660.5 1801.3,661.0 1802.1,661.4 1803.0,661.7 1803.9,661.6 1804.7,661.7 1805.6,662.1 1806.5,662.5 1807.4,662.8 1808.2,662.8 1809.1,662.7 1810.0,663.3 1810.8,663.7 1811.7,663.9 1812.6,664.3 1813.4,664.6 1814.3,664.8 1815.2,664.6 1816.1,664.6 1816.9,665.1 1817.8,665.2 1818.7,665.4 1819.6,665.9 1820.4,666.3 1821.3,666.5 1822.2,666.3 1823.1,666.5 1823.9,666.8 1824.8,666.8 1825.7,667.0 1826.6,667.3 1827.5,667.7 1828.3,667.7 1829.2,668.0 1830.1,668.1 1831.0,668.1 1831.9,668.5 1832.8,668.9 1833.6,669.0 1834.5,668.8 1835.4,668.5 1836.3,669.2 1837.2,669.8 1838.1,669.4 1839.0,669.5 1839.8,670.0 1840.7,669.9 1841.6,670.0 1842.5,670.6 1843.4,670.7 1844.3,670.6 1845.2,670.7 1846.1,670.5 1846.9,671.2 1847.8,671.7 1848.7,671.3 1849.6,671.3 1850.5,671.4 1851.4,671.4 1852.3,671.7 1853.2,672.1 1854.1,672.0 1855.0,672.0 1855.9,672.0 1856.8,672.1 1857.7,672.1 1858.6,672.1 1859.5,672.8 1860.3,672.8 1861.2,673.1 1862.1,673.1 1863.0,672.6 1863.9,672.9 1864.8,673.1 1865.7,673.4 1866.6,673.3 1867.5,672.9 1868.4,673.2 1869.3,673.6 1870.2,673.5 1871.1,673.2 1872.0,673.2 1872.9,673.4 1873.8,673.5 1874.7,673.9 1875.6,673.6 1876.5,673.3 1877.4,673.5 1878.3,673.4 1879.2,673.4 1880.1,673.7 1881.0,673.4 1881.9,673.2 1882.8,673.4 1883.7,673.2 1884.6,673.2 1885.5,673.7 1886.4,673.8 1887.3,673.4 1888.2,673.6 1889.1,674.1 1890.0,673.6 1890.9,673.5 1891.8,673.9 1892.7,673.7 1893.6,673.4 1894.5,673.4 1895.4,673.3 1896.3,673.1 1897.2,673.4 1898.1,673.5 1899.0,673.3 1899.9,673.3 1900.8,673.3 1901.7,673.2 1902.6,673.1 1903.5,672.8 1904.4,672.9 1905.3,672.8 1906.2,673.1 1907.1,673.7 1908.0,673.6 1908.9,673.4 1909.8,673.1 1910.7,672.8 1911.6,672.8 1912.5,672.9 1913.4,673.1 1914.3,672.8 1915.2,673.0 1916.1,673.1 1917.0,673.0 1917.9,673.1 1918.8,673.2 1919.7,673.3 1920.6,673.0 1921.5,672.7 1922.4,672.6 1923.3,672.4 1924.2,672.8 1925.1,672.8 1926.0,672.7 1926.9,672.7 1927.8,672.3 1928.7,672.5 1929.6,672.6 1930.5,672.3 1931.4,672.5 1932.3,672.4 1933.2,672.0 1934.1,672.3 1935.0,672.6 1935.9,672.4 1936.8,672.0 1937.7,672.4 1938.6,672.5 1939.5,671.9 1940.4,671.9 1941.3,672.2 1942.2,671.7 1943.1,671.3 1944.0,671.8 1944.9,672.0 1945.8,671.9 1946.7,671.7 1947.6,671.8 1948.5,672.0 1949.4,671.7 1950.3,671.5 1951.2,671.6 1952.1,671.6 1953.0,671.2 1953.9,671.2 1954.8,671.2 1955.7,671.3 1956.6,671.6 1957.5,671.4 1958.4,671.2 1959.3,671.3 1960.2,671.5 1961.1,671.6 1962.0,671.4 1962.9,671.3" fill="none" stroke="#1a1aee" stroke-width="2.4" stroke-linejoin="round" stroke-linecap="round"/>
<polyline points="1091.0,18.4 1091.9,18.6 1092.8,18.7 1093.6,18.5 1094.5,18.7 1095.4,19.0 1096.3,19.3 1097.1,20.0 1098.0,20.1 1098.9,20.4 1099.8,20.5 1100.7,20.5 1101.5,20.6 1102.4,21.1 1103.3,21.3 1104.2,21.2 1105.0,21.3 1105.9,21.5 1106.8,21.7 1107.7,22.1 1108.6,22.3 1109.4,22.3 1110.3,22.5 1111.2,22.7 1112.1,22.8 1113.0,22.9 1113.9,23.6 1114.7,23.6 1115.6,23.5 1116.5,24.3 1117.4,24.3 1118.3,23.6 1119.2,23.9 1120.1,24.6 1121.0,25.2 1121.8,24.8 1122.7,24.7 1123.6,25.0 1124.5,24.9 1125.4,24.7 1126.3,25.1 1127.2,25.5 1128.1,25.5 1129.0,25.7 1129.9,26.1 1130.8,26.5 1131.6,26.0 1132.5,25.9 1133.4,26.4 1134.3,26.3 1135.2,26.2 1136.1,26.6 1137.0,26.5 1137.9,26.4 1138.8,26.4 1139.7,26.8 1140.6,27.1 1141.5,27.4 1142.4,27.6 1143.2,27.7 1144.1,27.7 1145.0,27.9 1145.9,28.0 1146.8,27.8 1147.7,28.1 1148.6,28.6 1149.5,28.9 1150.4,28.8 1151.3,28.4 1152.2,28.3 1153.1,27.8 1154.0,28.0 1154.9,28.8 1155.8,29.0 1156.6,28.6 1157.5,29.0 1158.4,29.4 1159.3,29.4 1160.2,29.5 1161.1,29.7 1162.0,29.9 1162.9,29.8 1163.8,29.8 1164.7,30.1 1165.6,30.5 1166.5,30.5 1167.4,30.7 1168.2,31.1 1169.1,31.2 1170.0,31.1 1170.9,31.1 1171.8,31.4 1172.7,31.1 1173.6,31.2 1174.5,31.5 1175.4,31.5 1176.3,31.6 1177.2,31.6 1178.0,31.8 1178.9,32.2 1179.8,32.3 1180.7,32.1 1181.6,32.6 1182.5,32.9 1183.4,32.9 1184.3,33.1 1185.2,33.1 1186.0,33.4 1186.9,33.5 1187.8,33.6 1188.7,33.6 1189.6,33.4 1190.5,33.7 1191.4,34.5 1192.3,34.7 1193.2,34.9 1194.0,35.1 1194.9,35.0 1195.8,34.9 1196.7,35.0 1197.6,35.6 1198.5,35.9 1199.4,35.6 1200.3,35.5 1201.1,36.0 1202.0,36.1 1202.9,36.2 1203.8,36.3 1204.7,36.4 1205.6,37.0 1206.5,37.1 1207.4,37.1 1208.3,37.1 1209.1,37.2 1210.0,37.3 1210.9,37.7 1211.8,38.0 1212.7,38.0 1213.6,37.8 1214.5,37.7 1215.4,38.2 1216.2,38.4 1217.1,38.3 1218.0,38.5 1218.9,39.4 1219.8,39.2 1220.7,38.9 1221.6,39.5 1222.5,39.6 1223.3,39.4 1224.2,39.6 1225.1,39.9 1226.0,40.0 1226.9,40.2 1227.8,40.0 1228.7,40.1 1229.6,40.7 1230.5,40.7 1231.4,40.8 1232.2,41.0 1233.1,41.3 1234.0,41.3 1234.9,41.2 1235.8,41.2 1236.7,41.1 1237.6,41.4 1238.5,41.5 1239.4,41.5 1240.3,41.7 1241.1,41.9 1242.0,42.2 1242.9,42.6 1243.8,42.4 1244.7,42.3 1245.6,42.9 1246.5,43.3 1247.4,43.5 1248.3,43.1 1249.2,42.9 1250.1,43.4 1251.0,43.8 1251.8,43.9 1252.7,43.9 1253.6,44.0 1254.5,43.9 1255.4,44.0 1256.3,44.4 1257.2,44.5 1258.1,44.6 1259.0,44.3 1259.9,44.2 1260.8,45.1 1261.7,45.4 1262.5,45.5 1263.4,45.5 1264.3,45.2 1265.2,45.2 1266.1,45.8 1267.0,45.7 1267.9,45.4 1268.8,45.6 1269.7,45.8 1270.6,46.1 1271.4,46.5 1272.3,46.5 1273.2,46.9 1274.1,47.3 1275.0,47.1 1275.9,46.9 1276.8,46.9 1277.7,47.2 1278.6,48.0 1279.4,48.1 1280.3,47.7 1281.2,47.9 1282.1,48.2 1283.0,48.2 1283.9,48.1 1284.7,48.4 1285.6,49.2 1286.5,49.6 1287.4,49.7 1288.3,49.7 1289.2,49.8 1290.0,50.1 1290.9,50.2 1291.8,50.3 1292.7,50.4 1293.6,50.8 1294.4,50.9 1295.3,51.0 1296.2,51.5 1297.1,51.7 1297.9,51.9 1298.8,51.9 1299.7,51.9 1300.6,52.1 1301.4,52.3 1302.3,52.4 1303.2,52.6 1304.1,52.9 1304.9,53.0 1305.8,53.4 1306.7,53.7 1307.6,53.9 1308.4,54.5 1309.3,54.9 1310.2,54.9 1311.1,55.0 1311.9,55.3 1312.8,55.7 1313.7,56.2 1314.6,56.2 1315.4,56.1 1316.3,56.0 1317.2,56.4 1318.0,56.6 1318.9,56.7 1319.8,57.1 1320.7,57.1 1321.5,56.8 1322.4,57.1 1323.3,57.4 1324.2,57.8 1325.1,58.1 1325.9,58.2 1326.8,58.2 1327.7,58.7 1328.6,59.3 1329.5,59.0 1330.3,59.2 1331.2,59.8 1332.1,60.0 1333.0,60.0 1333.9,60.1 1334.8,60.5 1335.6,60.3 1336.5,60.1 1337.4,60.4 1338.3,61.1 1339.1,61.7 1340.0,61.9 1340.8,62.2 1341.6,62.7 1342.4,62.8 1343.2,62.9 1344.0,63.3 1344.7,64.0 1345.4,64.9 1346.0,65.7 1346.6,65.9 1347.1,66.3 1347.6,67.4 1348.0,68.5 1348.4,69.0 1348.8,69.9 1349.1,71.1 1349.4,72.0 1349.7,72.6 1349.9,73.6 1350.2,74.4 1350.5,74.9 1350.7,75.6 1351.0,76.9 1351.2,78.3 1351.5,78.9 1351.8,79.4 1352.1,80.4 1352.3,81.3 1352.6,82.3 1352.9,83.1 1353.2,83.7 1353.5,84.4 1353.7,85.1 1354.0,85.6 1354.3,86.6 1354.5,87.8 1354.8,88.6 1355.0,89.6 1355.3,90.3 1355.6,91.1 1355.8,92.2 1356.1,93.2 1356.3,93.8 1356.6,94.5 1356.9,95.6 1357.1,96.7 1357.4,97.5 1357.6,98.3 1357.9,99.2 1358.1,100.1 1358.4,101.3 1358.6,102.1 1358.9,102.4 1359.2,103.6 1359.4,104.6 1359.7,105.0 1359.9,106.0 1360.2,106.6 1360.4,107.4 1360.7,108.7 1360.9,109.5 1361.2,110.3 1361.5,111.3 1361.7,112.4 1362.0,113.0 1362.2,113.9 1362.5,114.6 1362.8,115.3 1363.0,116.1 1363.3,116.8 1363.5,118.0 1363.8,119.0 1364.1,120.0 1364.3,120.7 1364.6,121.4 1364.9,122.3 1365.1,123.2 1365.4,124.3 1365.6,125.3 1365.9,126.1 1366.2,126.7 1366.4,127.5 1366.7,128.3 1367.0,128.8 1367.2,129.8 1367.5,131.1 1367.7,132.0 1368.0,133.0 1368.3,133.5 1368.5,134.1 1368.8,135.2 1369.0,136.2 1369.3,137.1 1369.6,137.7 1369.8,138.5 1370.1,139.7 1370.3,140.9 1370.6,141.5 1370.9,142.3 1371.1,143.3 1371.4,143.6 1371.6,144.8 1371.9,145.7 1372.2,146.1 1372.4,147.3 1372.7,148.6 1372.9,149.3 1373.2,149.9 1373.4,150.4 1373.7,151.4 1373.9,152.2 1374.2,152.8 1374.4,154.2 1374.7,155.4 1374.9,156.3 1375.2,157.2 1375.4,157.6 1375.7,158.5 1375.9,159.2 1376.2,160.1 1376.4,161.6 1376.7,162.1 1376.9,162.9 1377.2,164.0 1377.4,164.6 1377.7,165.1 1377.9,166.0 1378.2,167.4 1378.4,168.0 1378.7,168.6 1378.9,169.6 1379.2,170.3 1379.4,171.5 1379.7,172.6 1380.0,173.3 1380.2,174.3 1380.5,175.1 1380.7,176.3 1381.0,177.2 1381.3,177.3 1381.5,178.4 1381.8,179.5 1382.1,180.1 1382.3,180.7 1382.6,181.9 1382.9,183.0 1383.1,183.7 1383.4,184.7 1383.7,185.4 1384.0,186.3 1384.2,187.3 1384.5,188.0 1384.8,188.7 1385.1,189.6 1385.3,190.7 1385.6,191.8 1385.9,192.6 1386.2,193.3 1386.4,194.3 1386.7,195.2 1387.0,195.9 1387.3,196.6 1387.6,197.0 1387.9,197.6 1388.2,199.0 1388.4,200.2 1388.7,201.0 1389.0,201.7 1389.3,202.5 1389.6,203.4 1389.9,204.1 1390.2,205.2 1390.5,206.3 1390.8,206.8 1391.1,207.5 1391.4,208.4 1391.7,209.3 1392.0,210.0 1392.3,210.7 1392.6,211.7 1393.0,212.5 1393.3,213.1 1393.6,214.4 1393.9,215.7 1394.2,216.6 1394.5,217.2 1394.8,217.7 1395.1,218.6 1395.5,219.8 1395.8,220.5 1396.1,221.0 1396.4,221.5 1396.7,222.1 1397.1,223.6 1397.4,224.5 1397.7,224.9 1398.1,225.9 1398.4,226.9 1398.7,227.6 1399.1,228.4 1399.4,229.6 1399.8,230.3 1400.2,231.0 1400.5,231.7 1400.9,232.3 1401.3,233.3 1401.7,234.3 1402.1,234.8 1402.5,235.7 1402.9,236.8 1403.3,237.7 1403.7,238.5 1404.2,239.4 1404.6,240.0 1405.1,240.6 1405.5,241.5 1406.0,242.0 1406.4,242.9 1406.9,243.9 1407.4,244.5 1407.9,245.4 1408.3,245.9 1408.8,246.8 1409.3,247.9 1409.8,248.5 1410.2,248.6 1410.7,249.6 1411.2,250.8 1411.6,251.3 1412.1,252.0 1412.6,252.7 1413.0,253.5 1413.5,254.5 1413.9,255.2 1414.4,255.9 1414.8,256.8 1415.3,257.5 1415.7,258.3 1416.2,259.2 1416.6,260.2 1417.1,260.9 1417.5,261.7 1418.0,262.7 1418.4,263.1 1418.9,263.7 1419.4,264.7 1419.8,265.3 1420.3,266.3 1420.8,267.0 1421.3,267.5 1421.8,268.5 1422.3,269.6 1422.8,270.2 1423.3,271.2 1423.8,271.7 1424.3,271.7 1424.8,272.6 1425.3,273.4 1425.8,274.2 1426.4,275.1 1426.9,275.6 1427.4,276.4 1427.9,277.1 1428.5,277.5 1429.0,278.3 1429.5,279.4 1430.1,280.3 1430.6,281.1 1431.2,282.1 1431.7,282.8 1432.3,283.2 1432.8,283.6 1433.4,284.4 1433.9,285.5 1434.5,286.4 1435.0,287.0 1435.6,287.3 1436.1,288.0 1436.7,289.0 1437.2,289.8 1437.8,290.1 1438.3,290.5 1438.9,291.5 1439.4,292.3 1440.0,292.9 1440.6,293.7 1441.1,294.4 1441.7,295.2 1442.2,295.9 1442.8,296.4 1443.4,296.9 1444.0,297.6 1444.5,298.5 1445.1,299.3 1445.7,300.1 1446.3,300.8 1446.8,301.5 1447.4,301.7 1448.0,302.5 1448.6,303.5 1449.2,304.1 1449.7,304.4 1450.3,305.4 1450.9,306.5 1451.5,307.2 1452.1,307.7 1452.6,308.2 1453.2,309.2 1453.8,310.0 1454.4,310.3 1454.9,310.6 1455.5,311.6 1456.1,312.6 1456.6,313.1 1457.2,313.6 1457.7,314.5 1458.3,315.3 1458.8,316.0 1459.4,316.6 1459.9,317.0 1460.5,317.6 1461.0,318.5 1461.5,319.5 1462.1,319.9 1462.6,320.7 1463.1,321.7 1463.6,322.3 1464.2,323.4 1464.7,324.3 1465.2,324.9 1465.7,325.4 1466.2,325.9 1466.7,326.6 1467.2,327.5 1467.7,328.6 1468.2,329.2 1468.7,329.7 1469.2,330.6 1469.6,331.5 1470.1,332.5 1470.6,333.4 1471.0,334.0 1471.5,334.8 1471.9,335.8 1472.4,336.1 1472.8,336.6 1473.2,337.4 1473.7,338.3 1474.1,339.4 1474.5,340.0 1474.9,340.6 1475.3,341.4 1475.8,342.3 1476.2,343.0 1476.6,343.9 1477.0,344.8 1477.5,345.4 1477.9,346.5 1478.3,347.3 1478.8,348.5 1479.2,349.1 1479.6,349.0 1480.1,349.7 1480.6,351.0 1481.0,351.8 1481.5,352.6 1482.0,353.6 1482.4,354.3 1482.9,354.8 1483.4,355.6 1483.9,356.9 1484.4,357.3 1484.8,358.1 1485.3,359.4 1485.8,360.0 1486.3,360.1 1486.8,360.8 1487.2,361.6 1487.7,362.7 1488.2,363.8 1488.7,364.3 1489.1,364.7 1489.6,365.3 1490.1,366.0 1490.6,367.1 1491.0,367.6 1491.5,368.5 1491.9,369.7 1492.4,370.6 1492.8,371.1 1493.3,371.4 1493.7,372.3 1494.1,373.2 1494.6,373.7 1495.0,374.5 1495.4,375.4 1495.8,376.7 1496.2,377.9 1496.6,378.5 1497.0,379.0 1497.4,379.9 1497.8,380.8 1498.2,381.5 1498.6,382.2 1498.9,383.0 1499.3,383.7 1499.7,384.4 1500.1,385.4 1500.4,386.1 1500.8,386.9 1501.2,387.9 1501.5,388.6 1501.9,389.7 1502.3,390.8 1502.6,391.5 1503.0,392.3 1503.3,393.3 1503.7,394.1 1504.0,395.0 1504.4,395.4 1504.8,396.2 1505.1,397.4 1505.5,397.9 1505.8,398.6 1506.2,399.7 1506.5,400.8 1506.9,401.5 1507.2,402.0 1507.6,402.4 1507.9,403.4 1508.3,404.6 1508.6,405.3 1509.0,406.2 1509.4,407.3 1509.7,408.0 1510.1,408.6 1510.4,409.6 1510.8,410.7 1511.2,411.5 1511.5,412.2 1511.9,412.6 1512.2,413.4 1512.6,414.6 1513.0,415.4 1513.3,415.9 1513.7,416.8 1514.0,417.9 1514.3,418.5 1514.7,419.0 1515.0,419.8 1515.4,420.9 1515.7,422.0 1516.1,423.1 1516.4,423.7 1516.8,424.5 1517.1,425.4 1517.5,426.1 1517.8,426.7 1518.2,427.5 1518.5,428.4 1518.9,429.2 1519.2,430.2 1519.6,431.1 1520.0,432.1 1520.3,432.8 1520.7,433.3 1521.1,434.3 1521.5,435.3 1521.9,435.8 1522.3,436.8 1522.7,437.8 1523.1,438.5 1523.5,438.9 1524.0,439.5 1524.4,440.9 1524.8,441.9 1525.3,442.4 1525.7,443.0 1526.2,443.6 1526.7,444.6 1527.1,445.4 1527.6,446.1 1528.1,446.5 1528.6,447.2 1529.0,448.2 1529.5,449.1 1530.0,450.1 1530.6,450.7 1531.1,451.2 1531.6,451.8 1532.1,452.7 1532.6,453.3 1533.2,454.0 1533.7,454.9 1534.3,455.6 1534.8,456.6 1535.4,457.4 1536.0,457.9 1536.5,458.9 1537.1,459.6 1537.7,460.0 1538.3,460.3 1538.9,461.3 1539.5,462.0 1540.1,462.0 1540.7,463.1 1541.3,463.9 1541.9,464.1 1542.5,464.9 1543.1,465.6 1543.7,465.9 1544.3,466.8 1545.0,467.9 1545.6,468.7 1546.3,469.2 1546.9,469.6 1547.6,470.2 1548.2,471.1 1548.9,471.9 1549.5,472.2 1550.2,472.7 1550.9,473.2 1551.6,473.8 1552.3,474.4 1552.9,474.9 1553.6,475.6 1554.3,475.7 1555.0,476.5 1555.8,477.5 1556.5,477.8 1557.2,478.2 1557.9,478.8 1558.7,479.4 1559.4,480.0 1560.1,480.6 1560.9,481.1 1561.6,481.7 1562.4,481.8 1563.1,482.0 1563.9,482.8 1564.7,483.6 1565.4,484.0 1566.2,484.2 1567.0,484.5 1567.7,485.1 1568.5,485.8 1569.3,486.2 1570.1,486.3 1570.8,486.8 1571.6,487.5 1572.4,488.4 1573.2,488.7 1574.0,489.0 1574.8,489.5 1575.5,489.6 1576.3,490.0 1577.1,490.7 1577.9,491.2 1578.7,491.6 1579.5,492.1 1580.3,492.7 1581.1,493.2 1581.8,493.3 1582.6,493.5 1583.4,494.2 1584.2,494.9 1585.0,495.1 1585.8,495.5 1586.6,495.8 1587.4,496.1 1588.2,496.7 1589.0,497.1 1589.8,497.4 1590.6,498.4 1591.3,498.8 1592.1,498.8 1592.9,499.4 1593.7,499.7 1594.5,500.2 1595.3,500.8 1596.1,500.7 1597.0,501.1 1597.8,501.6 1598.6,502.1 1599.4,502.6 1600.2,503.0 1601.0,503.1 1601.8,503.3 1602.6,504.1 1603.4,504.7 1604.2,505.0 1605.0,505.4 1605.8,505.9 1606.7,506.2 1607.5,506.5 1608.3,507.0 1609.1,507.4 1609.9,507.2 1610.7,507.2 1611.5,508.0 1612.4,508.7 1613.2,509.2 1614.0,509.6 1614.8,510.1 1615.7,510.5 1616.5,510.5 1617.3,510.9 1618.1,511.2 1619.0,511.1 1619.8,511.6 1620.6,511.8 1621.5,512.5 1622.3,513.7 1623.1,513.7 1624.0,513.5 1624.8,513.5 1625.6,514.0 1626.5,514.6 1627.3,514.6 1628.2,514.8 1629.0,515.3 1629.8,515.8 1630.7,516.2 1631.5,516.4 1632.4,516.4 1633.2,517.1 1634.0,517.9 1634.9,517.9 1635.7,517.8 1636.6,518.1 1637.4,518.7 1638.2,519.3 1639.1,519.6 1639.9,520.0 1640.7,520.2 1641.6,520.6 1642.4,521.1 1643.2,521.0 1644.1,521.4 1644.9,522.0 1645.7,522.1 1646.6,522.7 1647.4,522.9 1648.2,523.0 1649.0,523.7 1649.9,523.9 1650.7,524.2 1651.5,525.0 1652.3,525.1 1653.1,525.1 1654.0,525.6 1654.8,526.2 1655.6,526.9 1656.4,527.3 1657.2,527.2 1658.1,527.7 1658.9,528.4 1659.7,528.8 1660.5,528.7 1661.3,528.6 1662.1,529.2 1663.0,529.8 1663.8,530.3 1664.6,530.5 1665.4,530.7 1666.2,531.4 1667.0,531.6 1667.9,531.6 1668.7,532.4 1669.5,533.1 1670.3,533.5 1671.1,534.0 1672.0,534.4 1672.8,534.6 1673.6,535.1 1674.4,535.3 1675.3,535.3 1676.1,535.6 1676.9,536.1 1677.8,536.4 1678.6,536.8 1679.4,537.2 1680.3,537.2 1681.1,537.6 1681.9,538.0 1682.8,538.4 1683.6,538.5 1684.5,538.4 1685.3,539.2 1686.1,539.8 1687.0,540.2 1687.8,540.7 1688.7,541.0 1689.5,540.9 1690.4,541.4 1691.2,541.7 1692.1,542.0 1692.9,542.6 1693.7,542.8 1694.6,542.9 1695.4,543.1 1696.3,543.5 1697.1,544.0 1698.0,544.5 1698.8,544.8 1699.6,545.3 1700.5,545.6 1701.3,545.6 1702.1,545.8 1703.0,546.4 1703.8,546.8 1704.6,546.9 1705.4,547.0 1706.3,547.4 1707.1,548.2 1707.9,548.1 1708.7,548.1 1709.5,548.8 1710.4,549.2 1711.2,549.8 1712.0,550.2 1712.8,550.6 1713.6,551.1 1714.4,551.7 1715.2,552.0 1716.1,552.2 1716.9,552.6 1717.7,553.0 1718.5,553.4 1719.3,553.6 1720.1,554.1 1720.9,554.9 1721.7,555.1 1722.5,555.3 1723.3,555.9 1724.1,555.9 1724.9,556.7 1725.7,557.8 1726.4,558.1 1727.2,558.4 1728.0,558.5 1728.8,558.4 1729.6,559.0 1730.3,559.9 1731.1,560.3 1731.9,560.7 1732.6,561.4 1733.4,562.1 1734.1,562.4 1734.9,562.7 1735.6,563.6 1736.4,564.3 1737.1,564.4 1737.9,564.6 1738.6,564.8 1739.3,565.1 1740.1,565.8 1740.8,566.9 1741.5,567.4 1742.3,567.9 1743.0,568.5 1743.7,569.2 1744.5,569.3 1745.2,569.5 1745.9,570.5 1746.6,571.3 1747.4,571.7 1748.1,572.0 1748.8,572.7 1749.6,573.5 1750.3,573.7 1751.1,574.0 1751.8,574.6 1752.5,575.3 1753.3,575.7 1754.0,576.5 1754.8,577.2 1755.5,577.4 1756.3,577.6 1757.1,578.0 1757.8,578.6 1758.6,578.7 1759.4,579.2 1760.1,580.1 1760.9,580.9 1761.7,581.5 1762.4,581.5 1763.2,581.9 1764.0,582.3 1764.7,582.7 1765.5,583.2 1766.3,583.4 1767.1,583.9 1767.8,584.4 1768.6,584.8 1769.4,585.4 1770.2,586.1 1770.9,586.9 1771.7,587.5 1772.5,587.6 1773.3,587.8 1774.1,588.3 1774.8,588.8 1775.6,589.5 1776.4,590.0 1777.2,590.2 1778.0,590.9 1778.8,591.5 1779.5,591.9 1780.3,592.2 1781.1,592.4 1781.9,592.9 1782.7,593.3 1783.5,593.5 1784.3,593.9 1785.0,594.3 1785.8,594.8 1786.6,595.8 1787.4,596.3 1788.2,596.5 1789.0,596.7 1789.8,597.2 1790.6,597.5 1791.4,597.6 1792.2,597.9 1793.0,598.6 1793.8,599.1 1794.5,599.5 1795.3,600.4 1796.1,600.8 1796.9,601.0 1797.7,601.4 1798.5,601.6 1799.3,602.0 1800.1,602.9 1800.9,603.5 1801.7,603.4 1802.5,603.5 1803.3,604.2 1804.1,604.8 1804.9,605.3 1805.7,605.5 1806.5,605.8 1807.3,606.3 1808.1,606.8 1808.9,607.2 1809.7,607.6 1810.5,607.8 1811.3,608.3 1812.1,609.0 1812.9,609.4 1813.7,609.8 1814.5,610.4 1815.3,610.9 1816.1,611.4 1816.9,611.7 1817.7,612.0 1818.5,612.3 1819.3,612.4 1820.1,612.5 1820.9,613.2 1821.7,613.8 1822.5,614.2 1823.4,614.1 1824.2,614.4 1825.0,615.1 1825.8,615.5 1826.7,615.8 1827.5,615.9 1828.3,616.2 1829.2,617.1 1830.0,617.3 1830.8,617.5 1831.7,617.9 1832.5,618.2 1833.3,618.9 1834.2,619.2 1835.0,619.3 1835.8,619.7 1836.7,620.0 1837.5,620.4 1838.4,620.4 1839.2,620.4 1840.1,620.7 1840.9,620.8 1841.8,621.5 1842.6,621.8 1843.5,622.0 1844.3,622.8 1845.2,623.3 1846.0,624.0 1846.9,624.1 1847.7,623.8 1848.6,623.6 1849.4,623.9 1850.3,624.5 1851.2,624.8 1852.0,625.2 1852.9,625.2 1853.7,625.2 1854.6,625.7 1855.5,626.1 1856.3,625.9 1857.2,626.3 1858.1,626.5 1859.0,626.6 1859.8,626.8 1860.7,627.0 1861.6,627.3 1862.4,628.1 1863.3,628.8 1864.2,628.6 1865.1,628.6 1866.0,628.9 1866.8,629.1 1867.7,629.3 1868.6,629.1 1869.5,629.3 1870.4,629.4 1871.2,629.4 1872.1,630.0 1873.0,630.0 1873.9,630.2 1874.8,630.4 1875.7,630.9 1876.6,631.1 1877.4,630.9 1878.3,631.3 1879.2,631.3 1880.1,631.4 1881.0,631.5 1881.9,631.6 1882.8,631.8 1883.7,632.1 1884.6,632.4 1885.5,632.4 1886.3,632.5 1887.2,632.6 1888.1,632.3 1889.0,632.4 1889.9,632.5 1890.8,632.7 1891.7,632.9 1892.6,633.1 1893.5,633.4 1894.4,633.5 1895.3,633.4 1896.2,633.4 1897.1,633.5 1898.0,633.6 1898.9,633.9 1899.8,633.9 1900.7,633.8 1901.6,634.1 1902.5,634.1 1903.4,633.7 1904.3,633.7 1905.2,633.8 1906.1,634.0 1907.0,634.2 1907.9,634.2 1908.8,634.5 1909.7,634.6 1910.6,634.3 1911.5,633.9 1912.4,633.8 1913.3,634.0 1914.2,634.1 1915.1,634.0 1916.0,634.2 1916.9,634.6 1917.8,634.5 1918.7,634.0 1919.6,634.1 1920.5,634.4 1921.4,634.5 1922.3,634.6 1923.2,634.3 1924.1,634.1 1925.0,634.2 1925.9,634.1 1926.8,633.9 1927.7,634.5 1928.6,634.7 1929.5,634.6 1930.4,634.6 1931.3,634.4 1932.2,634.3 1933.1,634.7 1934.0,634.9 1934.9,634.6 1935.8,634.6 1936.6,635.0 1937.5,635.0 1938.4,635.1 1939.3,635.1 1940.2,634.6 1941.1,634.6 1942.0,634.9 1942.9,635.0 1943.8,635.1 1944.7,635.3 1945.6,635.3 1946.5,635.1 1947.4,634.9 1948.3,634.8 1949.2,635.2 1950.1,635.6 1951.0,635.4 1951.9,635.1 1952.8,635.0 1953.7,635.1 1954.6,635.1 1955.5,635.0 1956.4,635.2 1957.3,635.1 1958.2,635.0 1959.1,635.2 1960.0,635.3 1960.9,635.3 1961.8,635.0 1962.7,635.0" fill="none" stroke="#ec1c24" stroke-width="2.4" stroke-linejoin="round" stroke-linecap="round"/>
<rect x="1091.4" y="5.9" width="872.50" height="703.50" fill="none" stroke="#111" stroke-width="2.5"/>
<line x1="1082.80" y1="709.40" x2="1091.40" y2="709.40" stroke="#111" stroke-width="2.5"/>
<line x1="1075.80" y1="16.40" x2="1091.40" y2="16.40" stroke="#111" stroke-width="2.4"/>
<text transform="translate(1013.12 25.00) scale(0.9909 1)" font-size="33.00" font-family='"Liberation Sans", Arial, Helvetica, sans-serif' fill="#000">100</text>
<line x1="1075.80" y1="123.00" x2="1091.40" y2="123.00" stroke="#111" stroke-width="2.4"/>
<text transform="translate(1031.30 131.60) scale(0.9909 1)" font-size="33.00" font-family='"Liberation Sans", Arial, Helvetica, sans-serif' fill="#000">90</text>
<line x1="1075.80" y1="229.60" x2="1091.40" y2="229.60" stroke="#111" stroke-width="2.4"/>
<text transform="translate(1031.30 238.20) scale(0.9909 1)" font-size="33.00" font-family='"Liberation Sans", Arial, Helvetica, sans-serif' fill="#000">80</text>
<line x1="1075.80" y1="336.20" x2="1091.40" y2="336.20" stroke="#111" stroke-width="2.4"/>
<text transform="translate(1031.30 344.80) scale(0.9909 1)" font-size="33.00" font-family='"Liberation Sans", Arial, Helvetica, sans-serif' fill="#000">70</text>
<line x1="1075.80" y1="442.80" x2="1091.40" y2="442.80" stroke="#111" stroke-width="2.4"/>
<text transform="translate(1031.30 451.40) scale(0.9909 1)" font-size="33.00" font-family='"Liberation Sans", Arial, Helvetica, sans-serif' fill="#000">60</text>
<line x1="1075.80" y1="549.40" x2="1091.40" y2="549.40" stroke="#111" stroke-width="2.4"/>
<text transform="translate(1031.30 558.00) scale(0.9909 1)" font-size="33.00" font-family='"Liberation Sans", Arial, Helvetica, sans-serif' fill="#000">50</text>
<line x1="1075.80" y1="656.00" x2="1091.40" y2="656.00" stroke="#111" stroke-width="2.4"/>
<text transform="translate(1031.30 664.60) scale(0.9909 1)" font-size="33.00" font-family='"Liberation Sans", Arial, Helvetica, sans-serif' fill="#000">40</text>
<line x1="1083.00" y1="69.70" x2="1091.40" y2="69.70" stroke="#111" stroke-width="2.4"/>
<line x1="1083.00" y1="176.30" x2="1091.40" y2="176.30" stroke="#111" stroke-width="2.4"/>
<line x1="1083.00" y1="282.90" x2="1091.40" y2="282.90" stroke="#111" stroke-width="2.4"/>
<line x1="1083.00" y1="389.50" x2="1091.40" y2="389.50" stroke="#111" stroke-width="2.4"/>
<line x1="1083.00" y1="496.10" x2="1091.40" y2="496.10" stroke="#111" stroke-width="2.4"/>
<line x1="1083.00" y1="602.70" x2="1091.40" y2="602.70" stroke="#111" stroke-width="2.4"/>
<line x1="1083.00" y1="709.30" x2="1091.40" y2="709.30" stroke="#111" stroke-width="2.4"/>
<line x1="1209.50" y1="709.40" x2="1209.50" y2="724.00" stroke="#111" stroke-width="2.4"/>
<text transform="translate(1182.98 759.30) scale(0.9587 1)" font-size="33.90" font-family='"Liberation Sans", Arial, Helvetica, sans-serif' fill="#000">100</text>
<line x1="1368.75" y1="709.40" x2="1368.75" y2="724.00" stroke="#111" stroke-width="2.4"/>
<text transform="translate(1342.66 759.30) scale(0.9587 1)" font-size="33.90" font-family='"Liberation Sans", Arial, Helvetica, sans-serif' fill="#000">200</text>
<line x1="1528.00" y1="709.40" x2="1528.00" y2="724.00" stroke="#111" stroke-width="2.4"/>
<text transform="translate(1502.10 759.30) scale(0.9587 1)" font-size="33.90" font-family='"Liberation Sans", Arial, Helvetica, sans-serif' fill="#000">300</text>
<line x1="1687.25" y1="709.40" x2="1687.25" y2="724.00" stroke="#111" stroke-width="2.4"/>
<text transform="translate(1661.60 759.30) scale(0.9587 1)" font-size="33.90" font-family='"Liberation Sans", Arial, Helvetica, sans-serif' fill="#000">400</text>
<line x1="1846.50" y1="709.40" x2="1846.50" y2="724.00" stroke="#111" stroke-width="2.4"/>
<text transform="translate(1820.57 759.30) scale(0.9587 1)" font-size="33.90" font-family='"Liberation Sans", Arial, Helvetica, sans-serif' fill="#000">500</text>
<line x1="1129.88" y1="709.40" x2="1129.88" y2="717.50" stroke="#111" stroke-width="2.4"/>
<line x1="1289.12" y1="709.40" x2="1289.12" y2="717.50" stroke="#111" stroke-width="2.4"/>
<line x1="1448.38" y1="709.40" x2="1448.38" y2="717.50" stroke="#111" stroke-width="2.4"/>
<line x1="1607.62" y1="709.40" x2="1607.62" y2="717.50" stroke="#111" stroke-width="2.4"/>
<line x1="1766.88" y1="709.40" x2="1766.88" y2="717.50" stroke="#111" stroke-width="2.4"/>
<line x1="1926.12" y1="709.40" x2="1926.12" y2="717.50" stroke="#111" stroke-width="2.4"/>
<text transform="translate(1356.88 817.20) scale(0.9707 1)" font-size="51.20" font-family='"Liberation Sans", Arial, Helvetica, sans-serif' fill="#000">Temperature (</text>
<text transform="translate(1674.18 804.90)" font-size="36.00" font-family='"Liberation Serif", "Times New Roman", serif' fill="#000">°</text>
<text transform="translate(1684.79 816.30) scale(1.0677 1)" font-size="45.80" font-family='"Liberation Serif", "Times New Roman", serif' fill="#000">C</text>
<text transform="translate(1723.41 817.20) scale(0.9707 1)" font-size="51.20" font-family='"Liberation Sans", Arial, Helvetica, sans-serif' fill="#000">)</text>
<text transform="translate(1000.30 455.32) rotate(-90) scale(0.9523 1)" font-size="52.40" font-family='"Liberation Sans", Arial, Helvetica, sans-serif'>Weight (%)</text>
<line x1="1164.00" y1="490.00" x2="1247.50" y2="490.00" stroke="#1a1aee" stroke-width="2.6"/>
<line x1="1164.00" y1="534.90" x2="1247.50" y2="534.90" stroke="#111" stroke-width="2.6"/>
<line x1="1164.00" y1="580.20" x2="1247.50" y2="580.20" stroke="#ec1c24" stroke-width="2.6"/>
<text transform="translate(1256.85 502.80) scale(0.9681 1)" font-size="37.60" font-family='"Liberation Sans", Arial, Helvetica, sans-serif' fill="#000">SA</text>
<text transform="translate(1256.67 547.80) scale(0.9681 1)" font-size="37.60" font-family='"Liberation Sans", Arial, Helvetica, sans-serif' fill="#000">GO</text>
<text transform="translate(1256.67 592.50) scale(0.9681 1)" font-size="37.60" font-family='"Liberation Sans", Arial, Helvetica, sans-serif' fill="#000">GAD</text>
<text transform="translate(1906.29 464.70) scale(0.9729 1)" font-size="20.30" font-family='"Liberation Sans", Arial, Helvetica, sans-serif' fill="#000" font-weight="bold">57.43</text>
<text transform="translate(1906.29 628.60) scale(0.9729 1)" font-size="20.30" font-family='"Liberation Sans", Arial, Helvetica, sans-serif' fill="#000" font-weight="bold">41.96</text>
<text transform="translate(1907.31 666.80) scale(0.9729 1)" font-size="20.30" font-family='"Liberation Sans", Arial, Helvetica, sans-serif' fill="#000" font-weight="bold">35.59</text>
<text transform="translate(1881.22 45.70)" font-size="51.90" font-family='"Liberation Serif", "Times New Roman", serif' fill="#000">(b)</text>
<polyline points="80.5,898.9 80.7,911.7 80.9,905.2 81.2,876.1 81.4,923.1 81.6,917.4 81.8,901.5 82.0,927.1 82.3,926.7 82.5,929.5 82.7,928.5 82.9,942.8 83.1,921.8 83.4,936.6 83.6,933.9 83.8,958.4 84.0,951.2 84.2,948.4 84.5,942.6 84.7,956.3 84.9,964.8 85.1,962.6 85.3,995.8 85.6,993.2 85.8,925.3 86.0,943.7 86.2,978.8 86.4,976.5 86.7,990.9 86.9,993.1 87.1,1030.9 87.3,972.2 87.5,987.9 87.8,1035.2 88.0,1010.9 88.2,1013.1 88.4,993.1 88.6,973.9 88.9,1009.4 89.1,1010.1 89.3,987.2 89.5,998.9 89.7,1011.9 90.0,997.5 90.2,1014.6 90.4,1019.8 90.6,1020.2 90.8,1011.8 91.1,1033.3 91.3,1040.1 91.5,1031.1 91.7,1011.9 91.9,1041.1 92.2,1020.2 92.4,1046.3 92.6,1012.6 92.8,1049.2 93.0,1033.7 93.3,1013.0 93.5,1027.4 93.7,1038.3 93.9,1043.1 94.1,1022.2 94.4,1021.0 94.6,1044.8 94.8,1034.1 95.0,1047.3 95.2,1057.3 95.5,1016.8 95.7,1050.5 95.9,1068.2 96.1,1043.2 96.3,1035.6 96.6,1063.2 96.8,1055.7 97.0,1067.6 97.2,1047.7 97.4,1029.7 97.7,1053.7 97.9,1049.0 98.1,1070.2 98.3,1061.4 98.5,1032.2 98.8,1040.2 99.0,1075.1 99.2,1072.4 99.4,1051.6 99.6,1062.7 99.9,1070.5 100.1,1071.5 100.3,1078.6 100.5,1069.2 100.7,1064.1 101.0,1062.0 101.2,1083.3 101.4,1031.4 101.6,1065.3 101.8,1068.4 102.1,1045.9 102.3,1073.8 102.5,1058.8 102.7,1082.7 102.9,1067.7 103.2,1080.3 103.4,1089.0 103.6,1076.4 103.8,1057.4 104.0,1048.0 104.3,1097.9 104.5,1069.9 104.7,1061.4 104.9,1074.2 105.1,1069.3 105.4,1085.2 105.6,1073.1 105.8,1073.0 106.0,1062.3 106.2,1080.2 106.5,1057.9 106.7,1083.5 106.9,1096.6 107.1,1051.0 107.3,1037.0 107.6,1083.4 107.8,1112.6 108.0,1059.5 108.2,1055.9 108.4,1083.6 108.7,1062.3 108.9,1067.5 109.1,1069.9 109.3,1083.3 109.5,1069.3 109.8,1079.7 110.0,1073.0 110.2,1063.1 110.4,1071.1 110.6,1061.7 110.9,1076.2 111.1,1059.4 111.3,1059.9 111.5,1111.4 111.7,1075.7 112.0,1075.8 112.2,1084.4 112.4,1070.5 112.6,1073.5 112.8,1083.3 113.1,1081.3 113.3,1059.7 113.5,1089.7 113.7,1068.4 113.9,1061.5 114.2,1063.9 114.4,1071.7 114.6,1102.0 114.8,1049.4 115.0,1080.1 115.3,1045.7 115.5,1077.8 115.7,1091.4 115.9,1074.4 116.1,1068.6 116.4,1081.6 116.6,1088.7 116.8,1088.2 117.0,1107.8 117.2,1081.4 117.5,1069.5 117.7,1076.5 117.9,1077.4 118.1,1080.1 118.3,1078.1 118.6,1081.2 118.8,1053.5 119.0,1091.1 119.2,1070.1 119.4,1050.6 119.7,1088.3 119.9,1098.5 120.1,1086.2 120.3,1081.3 120.5,1064.9 120.8,1122.0 121.0,1092.1 121.2,1061.9 121.4,1067.3 121.6,1080.3 121.9,1055.7 122.1,1081.6 122.3,1072.1 122.5,1097.4 122.7,1093.5 123.0,1038.4 123.2,1079.7 123.4,1054.8 123.6,1095.7 123.8,1081.6 124.1,1087.3 124.3,1063.1 124.5,1106.5 124.7,1109.4 124.9,1063.1 125.2,1084.7 125.4,1069.0 125.6,1078.7 125.8,1060.0 126.0,1107.0 126.3,1064.5 126.5,1074.5 126.7,1086.5 126.9,1069.2 127.1,1075.3 127.4,1070.4 127.6,1076.8 127.8,1061.2 128.0,1072.2 128.2,1075.6 128.5,1073.6 128.7,1079.4 128.9,1074.1 129.1,1089.8 129.3,1073.6 129.6,1076.3 129.8,1068.3 130.0,1070.4 130.2,1059.2 130.4,1085.9 130.7,1060.9 130.9,1066.8 131.1,1083.3 131.3,1083.9 131.5,1071.8 131.8,1047.4 132.0,1084.0 132.2,1081.5 132.4,1056.3 132.6,1089.0 132.9,1066.8 133.1,1060.4 133.3,1078.6 133.5,1074.4 133.7,1080.0 134.0,1052.8 134.2,1104.0 134.4,1067.7 134.6,1053.6 134.8,1085.8 135.1,1071.1 135.3,1081.2 135.5,1071.2 135.7,1075.3 135.9,1079.8 136.2,1064.8 136.4,1086.1 136.6,1068.7 136.8,1062.6 137.0,1076.7 137.3,1082.2 137.5,1071.9 137.7,1062.3 137.9,1084.5 138.1,1048.7 138.4,1059.5 138.6,1075.4 138.8,1054.3 139.0,1075.0 139.2,1073.7 139.5,1087.9 139.7,1060.6 139.9,1064.8 140.1,1079.1 140.3,1037.1 140.6,1120.4 140.8,1063.3 141.0,1062.7 141.2,1086.4 141.4,1072.8 141.7,1046.6 141.9,1082.6 142.1,1085.9 142.3,1066.2 142.5,1068.6 142.8,1080.0 143.0,1059.0 143.2,1079.1 143.4,1075.4 143.6,1062.1 143.9,1051.2 144.1,1068.6 144.3,1058.8 144.5,1086.8 144.7,1073.8 145.0,1083.3 145.2,1073.5 145.4,1075.3 145.6,1059.5 145.8,1081.1 146.1,1097.7 146.3,1066.2 146.5,1061.8 146.7,1068.3 146.9,1063.3 147.2,1059.9 147.4,1072.4 147.6,1065.8 147.8,1091.6 148.0,1069.9 148.3,1074.7 148.5,1084.0 148.7,1065.1 148.9,1091.0 149.1,1059.9 149.4,1057.1 149.6,1063.7 149.8,1066.3 150.0,1047.9 150.2,1068.3 150.5,1043.7 150.7,1089.4 150.9,1067.2 151.1,1058.7 151.3,1054.6 151.6,1062.3 151.8,1064.6 152.0,1052.1 152.2,1053.8 152.4,1064.7 152.7,1059.5 152.9,1081.3 153.1,1084.1 153.3,1067.1 153.5,1073.9 153.8,1046.6 154.0,1076.0 154.2,1065.8 154.4,1073.4 154.6,1090.0 154.9,1031.6 155.1,1069.6 155.3,1049.0 155.5,1074.2 155.7,1045.5 156.0,1057.6 156.2,1067.9 156.4,1073.9 156.6,1065.6 156.8,1052.4 157.1,1055.8 157.3,1077.2 157.5,1063.7 157.7,1038.4 157.9,1076.1 158.2,1069.5 158.4,1076.2 158.6,1057.9 158.8,1075.2 159.0,1046.7 159.3,1070.9 159.5,1054.9 159.7,1072.2 159.9,1086.0 160.1,1050.7 160.4,1060.8 160.6,1061.9 160.8,1079.0 161.0,1078.1 161.2,1042.5 161.5,1067.5 161.7,1071.7 161.9,1092.2 162.1,1035.0 162.3,1051.9 162.6,1079.8 162.8,1039.3 163.0,1041.5 163.2,1067.1 163.4,1074.4 163.7,1049.0 163.9,1066.9 164.1,1060.4 164.3,1081.3 164.5,1058.3 164.8,1073.1 165.0,1044.5 165.2,1055.1 165.4,1056.3 165.6,1074.7 165.9,1066.2 166.1,1046.0 166.3,1067.4 166.5,1068.6 166.7,1055.2 167.0,1052.9 167.2,1053.7 167.4,1031.1 167.6,1059.2 167.8,1059.8 168.1,1043.2 168.3,1067.2 168.5,1035.3 168.7,1042.6 168.9,1048.6 169.2,1085.4 169.4,1031.5 169.6,1063.8 169.8,1069.4 170.0,1060.9 170.3,1072.9 170.5,1040.0 170.7,1020.8 170.9,1073.3 171.1,1036.9 171.4,1049.8 171.6,1037.0 171.8,1070.4 172.0,1067.6 172.2,1043.7 172.5,1068.0 172.7,1056.2 172.9,1052.3 173.1,1055.2 173.3,1051.3 173.6,1063.5 173.8,1058.9 174.0,1049.0 174.2,1069.3 174.4,1045.0 174.7,1058.5 174.9,1060.6 175.1,1076.4 175.3,1046.7 175.5,1080.4 175.8,1056.9 176.0,1051.4 176.2,1044.2 176.4,1063.1 176.6,1055.1 176.9,1037.9 177.1,1037.6 177.3,1046.2 177.5,1044.4 177.7,1071.0 178.0,1075.3 178.2,1075.6 178.4,1060.2 178.6,1048.5 178.8,1055.8 179.1,1068.3 179.3,1087.1 179.5,1068.9 179.7,1051.1 179.9,1056.0 180.2,1048.3 180.4,1043.9 180.6,1052.9 180.8,1058.7 181.0,1083.5 181.3,1056.8 181.5,1076.5 181.7,1082.8 181.9,1057.6 182.1,1080.6 182.4,1067.3 182.6,1050.5 182.8,1060.8 183.0,1057.3 183.2,1053.6 183.5,1054.3 183.7,1059.6 183.9,1064.0 184.1,1044.4 184.3,1057.7 184.6,1035.1 184.8,1062.0 185.0,1067.6 185.2,1060.8 185.4,1062.8 185.7,1067.5 185.9,1048.8 186.1,1055.4 186.3,1071.4 186.5,1074.3 186.8,1065.3 187.0,1097.9 187.2,1058.4 187.4,1074.9 187.6,1079.0 187.9,1058.2 188.1,1048.0 188.3,1042.8 188.5,1063.1 188.7,1077.5 189.0,1065.0 189.2,1063.7 189.4,1055.6 189.6,1069.8 189.8,1029.5 190.1,1065.2 190.3,1062.3 190.5,1041.5 190.7,1094.8 190.9,1041.5 191.2,1046.3 191.4,1044.6 191.6,1079.4 191.8,1049.6 192.0,1073.1 192.3,1072.0 192.5,1067.2 192.7,1043.9 192.9,1054.4 193.1,1088.9 193.4,1044.5 193.6,1051.6 193.8,1060.3 194.0,1076.4 194.2,1068.2 194.5,1075.7 194.7,1048.7 194.9,1079.0 195.1,1073.4 195.3,1041.1 195.6,1088.2 195.8,1099.6 196.0,1053.8 196.2,1066.3 196.4,1086.5 196.7,1043.5 196.9,1035.9 197.1,1046.4 197.3,1057.5 197.5,1057.4 197.8,1075.3 198.0,1070.3 198.2,1047.6 198.4,1074.9 198.6,1094.6 198.9,1084.5 199.1,1081.5 199.3,1067.0 199.5,1081.5 199.7,1052.3 200.0,1078.2 200.2,1065.6 200.4,1084.0 200.6,1074.1 200.8,1050.8 201.1,1069.1 201.3,1085.5 201.5,1050.4 201.7,1059.0 201.9,1055.9 202.2,1045.0 202.4,1082.0 202.6,1087.3 202.8,1079.6 203.0,1071.3 203.3,1067.0 203.5,1071.4 203.7,1056.9 203.9,1081.3 204.1,1083.7 204.4,1082.0 204.6,1060.1 204.8,1069.3 205.0,1065.7 205.2,1095.0 205.5,1071.0 205.7,1023.1 205.9,1074.3 206.1,1096.6 206.3,1078.7 206.6,1081.7 206.8,1069.1 207.0,1039.0 207.2,1041.5 207.4,1050.0 207.7,1066.8 207.9,1073.4 208.1,1079.1 208.3,1063.7 208.5,1083.2 208.8,1064.7 209.0,1058.4 209.2,1081.7 209.4,1055.3 209.6,1028.1 209.9,1053.2 210.1,1070.5 210.3,1022.9 210.5,1063.8 210.7,1064.2 211.0,1047.8 211.2,1047.0 211.4,1062.4 211.6,1061.1 211.8,1088.2 212.1,1075.0 212.3,1045.7 212.5,1056.6 212.7,1080.0 212.9,1097.9 213.2,1075.3 213.4,1074.2 213.6,1097.4 213.8,1069.2 214.0,1064.9 214.3,1048.4 214.5,1061.9 214.7,1102.3 214.9,1048.3 215.1,1069.8 215.4,1048.5 215.6,1071.6 215.8,1083.0 216.0,1066.0 216.2,1080.7 216.5,1080.5 216.7,1076.4 216.9,1095.5 217.1,1081.4 217.3,1065.2 217.6,1059.5 217.8,1057.1 218.0,1076.9 218.2,1064.9 218.4,1110.7 218.7,1097.4 218.9,1066.5 219.1,1064.8 219.3,1095.1 219.5,1041.5 219.8,1062.9 220.0,1083.9 220.2,1056.0 220.4,1062.5 220.6,1064.4 220.9,1079.5 221.1,1071.7 221.3,1075.6 221.5,1078.5 221.7,1070.0 222.0,1086.2 222.2,1058.6 222.4,1047.9 222.6,1042.8 222.8,1045.1 223.1,1061.1 223.3,1084.8 223.5,1071.9 223.7,1060.3 223.9,1053.2 224.2,1061.3 224.4,1063.1 224.6,1060.6 224.8,1047.6 225.0,1061.8 225.3,1084.2 225.5,1036.3 225.7,1065.2 225.9,1036.9 226.1,1071.4 226.4,1057.3 226.6,1037.2 226.8,1069.9 227.0,1095.5 227.2,1069.8 227.5,1085.5 227.7,1066.9 227.9,1035.5 228.1,1075.1 228.3,1061.3 228.6,1045.6 228.8,1079.1 229.0,1071.5 229.2,1059.2 229.4,1080.0 229.7,1053.7 229.9,1076.3 230.1,1052.4 230.3,1074.4 230.5,1049.7 230.8,1088.4 231.0,1069.8 231.2,1087.3 231.4,1053.3 231.6,1058.3 231.9,1077.9 232.1,1024.0 232.3,1049.0 232.5,1080.4 232.7,1071.7 233.0,1079.2 233.2,1059.7 233.4,1072.7 233.6,1053.1 233.8,1043.3 234.1,1038.3 234.3,1055.3 234.5,1055.2 234.7,1053.8 234.9,1009.8 235.2,1032.9 235.4,1054.8 235.6,1066.9 235.8,1053.7 236.0,1049.1 236.3,1027.5 236.5,1092.3 236.7,1045.3 236.9,1086.9 237.1,1084.9 237.4,1065.5 237.6,1052.6 237.8,1063.1 238.0,1043.7 238.2,1064.7 238.5,1060.7 238.7,1068.6 238.9,1074.7 239.1,1086.3 239.3,1054.4 239.6,1075.8 239.8,1048.1 240.0,1046.5 240.2,1050.5 240.4,1045.0 240.7,1074.3 240.9,1073.4 241.1,1090.0 241.3,1059.1 241.5,1063.5 241.8,1050.6 242.0,1042.0 242.2,1065.9 242.4,1063.2 242.6,1042.6 242.9,1067.9 243.1,1033.0 243.3,1056.5 243.5,1049.7 243.7,1051.2 244.0,1042.9 244.2,1073.5 244.4,1067.8 244.6,1077.1 244.8,1061.3 245.1,1040.0 245.3,1053.8 245.5,1041.7 245.7,1066.4 245.9,1077.8 246.2,1064.6 246.4,1050.8 246.6,1054.4 246.8,1064.8 247.0,1038.5 247.3,1062.6 247.5,1063.4 247.7,1052.4 247.9,1054.5 248.1,1064.9 248.4,1048.8 248.6,1048.9 248.8,1073.1 249.0,1065.0 249.2,1087.0 249.5,1047.3 249.7,1035.6 249.9,1076.6 250.1,1085.5 250.3,1051.9 250.6,1041.1 250.8,1062.7 251.0,1037.4 251.2,1058.8 251.4,1031.4 251.7,1060.8 251.9,1032.8 252.1,1061.3 252.3,1087.9 252.5,1061.4 252.8,1077.2 253.0,1056.3 253.2,1052.8 253.4,1044.0 253.6,1082.4 253.9,1066.2 254.1,1091.6 254.3,1049.9 254.5,1064.5 254.7,1069.3 255.0,1101.9 255.2,1096.0 255.4,1059.2 255.6,1052.2 255.8,1027.4 256.1,1089.8 256.3,1068.8 256.5,1060.6 256.7,1069.8 256.9,1032.5 257.2,1045.3 257.4,1085.4 257.6,1077.6 257.8,1074.2 258.0,1057.2 258.3,1081.3 258.5,1099.4 258.7,1043.1 258.9,1073.1 259.1,1066.9 259.4,1079.1 259.6,1074.1 259.8,1071.9 260.0,1061.1 260.2,1074.3 260.5,1065.5 260.7,1072.8 260.9,1074.2 261.1,1085.2 261.3,1066.8 261.6,1070.9 261.8,1092.0 262.0,1072.8 262.2,1072.4 262.4,1089.5 262.7,1080.8 262.9,1078.2 263.1,1080.3 263.3,1058.6 263.5,1084.3 263.8,1097.5 264.0,1086.5 264.2,1054.7 264.4,1082.5 264.6,1064.8 264.9,1075.2 265.1,1080.7 265.3,1061.1 265.5,1099.2 265.7,1078.3 266.0,1091.4 266.2,1089.2 266.4,1100.1 266.6,1098.0 266.8,1058.2 267.1,1081.1 267.3,1048.6 267.5,1074.1 267.7,1091.7 267.9,1094.9 268.2,1100.7 268.4,1075.9 268.6,1086.5 268.8,1083.3 269.0,1101.1 269.3,1106.1 269.5,1077.0 269.7,1139.3 269.9,1082.7 270.1,1077.4 270.4,1092.1 270.6,1094.6 270.8,1091.6 271.0,1073.9 271.2,1105.9 271.5,1084.8 271.7,1107.2 271.9,1105.2 272.1,1065.4 272.3,1070.0 272.6,1069.8 272.8,1088.7 273.0,1086.0 273.2,1089.4 273.4,1073.3 273.7,1092.1 273.9,1106.9 274.1,1066.0 274.3,1083.2 274.5,1090.1 274.8,1084.5 275.0,1083.7 275.2,1113.3 275.4,1106.2 275.6,1099.9 275.9,1075.9 276.1,1121.0 276.3,1093.0 276.5,1079.1 276.7,1082.8 277.0,1080.7 277.2,1120.0 277.4,1091.4 277.6,1089.4 277.8,1056.4 278.1,1099.9 278.3,1073.1 278.5,1072.1 278.7,1098.4 278.9,1076.4 279.2,1102.1 279.4,1106.5 279.6,1063.0 279.8,1087.9 280.0,1066.5 280.3,1089.3 280.5,1104.0 280.7,1070.0 280.9,1117.7 281.1,1086.1 281.4,1073.1 281.6,1089.2 281.8,1103.0 282.0,1070.6 282.2,1091.4 282.5,1070.9 282.7,1109.7 282.9,1094.1 283.1,1085.5 283.3,1107.6 283.6,1072.8 283.8,1086.4 284.0,1120.1 284.2,1090.7 284.4,1113.0 284.7,1095.7 284.9,1082.4 285.1,1089.3 285.3,1094.3 285.5,1087.1 285.8,1081.0 286.0,1081.8 286.2,1071.4 286.4,1095.4 286.6,1099.8 286.9,1105.2 287.1,1067.0 287.3,1106.3 287.5,1094.0 287.7,1073.0 288.0,1096.0 288.2,1106.9 288.4,1102.6 288.6,1105.7 288.8,1109.1 289.1,1108.5 289.3,1094.6 289.5,1064.0 289.7,1084.0 289.9,1100.8 290.2,1088.5 290.4,1106.0 290.6,1107.7 290.8,1096.6 291.0,1124.2 291.3,1081.5 291.5,1110.1 291.7,1089.2 291.9,1084.7 292.1,1105.3 292.4,1087.3 292.6,1109.5 292.8,1079.2 293.0,1097.4 293.2,1084.3 293.5,1093.5 293.7,1091.5 293.9,1080.2 294.1,1107.1 294.3,1078.7 294.6,1082.7 294.8,1110.9 295.0,1112.2 295.2,1107.7 295.4,1102.9 295.7,1132.0 295.9,1079.8 296.1,1086.9 296.3,1083.2 296.5,1111.7 296.8,1102.6 297.0,1115.0 297.2,1113.0 297.4,1095.2 297.6,1086.3 297.9,1083.8 298.1,1131.9 298.3,1113.4 298.5,1107.8 298.7,1093.9 299.0,1096.1 299.2,1094.0 299.4,1094.4 299.6,1063.3 299.8,1098.5 300.1,1093.8 300.3,1103.9 300.5,1102.8 300.7,1112.5 300.9,1099.6 301.2,1111.8 301.4,1061.6 301.6,1083.6 301.8,1125.9 302.0,1082.0 302.3,1096.1 302.5,1110.9 302.7,1087.2 302.9,1111.3 303.1,1079.3 303.4,1072.1 303.6,1080.9 303.8,1076.2 304.0,1100.6 304.2,1096.2 304.5,1105.9 304.7,1085.7 304.9,1139.0 305.1,1099.9 305.3,1100.7 305.6,1108.2 305.8,1097.9 306.0,1092.2 306.2,1103.0 306.4,1115.4 306.7,1111.7 306.9,1115.9 307.1,1093.7 307.3,1090.6 307.5,1131.9 307.8,1098.8 308.0,1109.5 308.2,1113.4 308.4,1123.6 308.6,1082.7 308.9,1095.6 309.1,1096.4 309.3,1098.5 309.5,1067.4 309.7,1101.7 310.0,1060.5 310.2,1107.7 310.4,1111.3 310.6,1112.3 310.8,1085.8 311.1,1117.8 311.3,1091.1 311.5,1085.8 311.7,1089.6 311.9,1091.6 312.2,1106.8 312.4,1116.5 312.6,1073.5 312.8,1096.6 313.0,1117.9 313.3,1107.8 313.5,1112.4 313.7,1083.0 313.9,1119.1 314.1,1068.5 314.4,1108.2 314.6,1125.5 314.8,1133.2 315.0,1113.3 315.2,1118.8 315.5,1097.1 315.7,1099.1 315.9,1123.3 316.1,1106.4 316.3,1104.6 316.6,1086.0 316.8,1108.9 317.0,1116.3 317.2,1095.4 317.4,1099.7 317.7,1130.2 317.9,1109.9 318.1,1103.3 318.3,1091.0 318.5,1098.7 318.8,1104.2 319.0,1127.9 319.2,1099.2 319.4,1134.3 319.6,1094.8 319.9,1103.3 320.1,1120.8 320.3,1105.2 320.5,1096.8 320.7,1107.1 321.0,1115.6 321.2,1084.4 321.4,1105.8 321.6,1107.9 321.8,1103.8 322.1,1120.4 322.3,1101.6 322.5,1104.7 322.7,1110.7 322.9,1120.8 323.2,1107.2 323.4,1132.4 323.6,1097.5 323.8,1129.3 324.0,1098.5 324.3,1108.6 324.5,1116.4 324.7,1140.8 324.9,1124.3 325.1,1102.1 325.4,1130.3 325.6,1106.8 325.8,1100.5 326.0,1118.4 326.2,1113.5 326.5,1125.9 326.7,1104.4 326.9,1117.9 327.1,1121.7 327.3,1116.7 327.6,1112.4 327.8,1096.9 328.0,1126.0 328.2,1115.1 328.4,1124.6 328.7,1108.4 328.9,1113.7 329.1,1098.8 329.3,1114.9 329.5,1124.7 329.8,1115.2 330.0,1126.3 330.2,1118.6 330.4,1133.7 330.6,1111.6 330.9,1091.1 331.1,1120.7 331.3,1112.3 331.5,1100.9 331.7,1124.1 332.0,1118.7 332.2,1121.3 332.4,1110.4 332.6,1118.0 332.8,1118.9 333.1,1140.6 333.3,1105.8 333.5,1115.4 333.7,1120.8 333.9,1091.2 334.2,1093.1 334.4,1146.6 334.6,1090.9 334.8,1124.2 335.0,1104.1 335.3,1105.4 335.5,1088.2 335.7,1103.6 335.9,1127.5 336.1,1096.8 336.4,1124.9 336.6,1121.0 336.8,1145.1 337.0,1110.0 337.2,1134.6 337.5,1129.4 337.7,1112.9 337.9,1093.5 338.1,1138.3 338.3,1097.9 338.6,1110.5 338.8,1129.6 339.0,1132.9 339.2,1105.4 339.4,1116.9 339.7,1113.8 339.9,1134.1 340.1,1152.7 340.3,1091.9 340.5,1138.2 340.8,1077.6 341.0,1117.9 341.2,1102.3 341.4,1145.7 341.6,1120.2 341.9,1107.6 342.1,1111.0 342.3,1110.0 342.5,1120.7 342.7,1115.9 343.0,1127.4 343.2,1139.8 343.4,1128.1 343.6,1101.2 343.8,1095.7 344.1,1107.9 344.3,1133.1 344.5,1113.8 344.7,1109.3 344.9,1120.5 345.2,1098.9 345.4,1102.8 345.6,1125.8 345.8,1112.0 346.0,1112.5 346.3,1123.2 346.5,1110.7 346.7,1109.4 346.9,1112.6 347.1,1127.3 347.4,1119.8 347.6,1102.5 347.8,1114.9 348.0,1133.5 348.2,1145.0 348.5,1103.3 348.7,1123.9 348.9,1115.6 349.1,1130.6 349.3,1125.5 349.6,1139.6 349.8,1126.5 350.0,1111.8 350.2,1111.9 350.4,1125.0 350.7,1124.8 350.9,1152.4 351.1,1142.5 351.3,1103.3 351.5,1124.3 351.8,1101.2 352.0,1096.7 352.2,1129.7 352.4,1127.1 352.6,1105.3 352.9,1142.1 353.1,1106.1 353.3,1103.5 353.5,1128.5 353.7,1122.6 354.0,1117.4 354.2,1118.6 354.4,1122.6 354.6,1117.7 354.8,1117.2 355.1,1093.6 355.3,1101.2 355.5,1127.9 355.7,1104.2 355.9,1127.0 356.2,1136.4 356.4,1114.7 356.6,1123.4 356.8,1147.8 357.0,1129.0 357.3,1144.6 357.5,1140.3 357.7,1129.7 357.9,1117.9 358.1,1108.0 358.4,1104.3 358.6,1126.0 358.8,1125.7 359.0,1116.9 359.2,1130.8 359.5,1111.1 359.7,1134.3 359.9,1119.8 360.1,1118.7 360.3,1119.1 360.6,1117.8 360.8,1152.8 361.0,1097.2 361.2,1121.4 361.4,1135.8 361.7,1128.6 361.9,1114.8 362.1,1142.3 362.3,1104.3 362.5,1101.1 362.8,1126.3 363.0,1099.0 363.2,1086.5 363.4,1130.4 363.6,1128.6 363.9,1128.2 364.1,1111.7 364.3,1122.1 364.5,1105.1 364.7,1155.3 365.0,1128.6 365.2,1127.8 365.4,1091.6 365.6,1128.5 365.8,1137.7 366.1,1133.9 366.3,1128.0 366.5,1117.3 366.7,1112.7 366.9,1125.2 367.2,1122.2 367.4,1120.1 367.6,1112.7 367.8,1139.2 368.0,1101.0 368.3,1116.2 368.5,1108.7 368.7,1130.1 368.9,1135.3 369.1,1132.7 369.4,1126.1 369.6,1097.2 369.8,1143.5 370.0,1122.5 370.2,1114.1 370.5,1115.9 370.7,1110.8 370.9,1120.8 371.1,1119.2 371.3,1110.2 371.6,1080.7 371.8,1114.2 372.0,1120.9 372.2,1121.4 372.4,1112.3 372.7,1120.2 372.9,1127.7 373.1,1107.7 373.3,1133.2 373.5,1087.8 373.8,1096.9 374.0,1101.4 374.2,1081.0 374.4,1099.9 374.6,1129.5 374.9,1129.3 375.1,1114.0 375.3,1135.3 375.5,1115.6 375.7,1105.8 376.0,1115.4 376.2,1110.3 376.4,1121.6 376.6,1092.0 376.8,1124.8 377.1,1105.5 377.3,1122.6 377.5,1091.0 377.7,1105.6 377.9,1112.0 378.2,1122.7 378.4,1094.7 378.6,1132.5 378.8,1116.8 379.0,1103.4 379.3,1126.1 379.5,1111.4 379.7,1125.1 379.9,1140.2 380.1,1119.7 380.4,1102.7 380.6,1103.8 380.8,1116.9 381.0,1112.9 381.2,1098.1 381.5,1100.2 381.7,1117.5 381.9,1139.2 382.1,1074.3 382.3,1117.8 382.6,1105.5 382.8,1118.3 383.0,1119.3 383.2,1108.6 383.4,1094.6 383.7,1078.7 383.9,1083.2 384.1,1123.3 384.3,1104.6 384.5,1100.2 384.8,1103.5 385.0,1089.7 385.2,1110.9 385.4,1123.9 385.6,1121.5 385.9,1086.4 386.1,1124.1 386.3,1096.5 386.5,1081.6 386.7,1090.3 387.0,1093.6 387.2,1105.9 387.4,1092.6 387.6,1086.3 387.8,1102.3 388.1,1130.4 388.3,1096.5 388.5,1111.4 388.7,1106.3 388.9,1139.4 389.2,1080.7 389.4,1119.1 389.6,1088.4 389.8,1097.2 390.0,1103.4 390.3,1145.5 390.5,1094.7 390.7,1080.1 390.9,1120.9 391.1,1093.4 391.4,1100.9 391.6,1103.6 391.8,1105.1 392.0,1101.6 392.2,1107.1 392.5,1108.5 392.7,1114.3 392.9,1097.9 393.1,1093.7 393.3,1089.5 393.6,1110.6 393.8,1102.3 394.0,1109.9 394.2,1109.6 394.4,1124.1 394.7,1105.1 394.9,1112.0 395.1,1077.8 395.3,1088.5 395.5,1098.1 395.8,1086.5 396.0,1110.6 396.2,1084.9 396.4,1102.6 396.6,1070.4 396.9,1087.5 397.1,1097.1 397.3,1098.0 397.5,1078.5 397.7,1102.5 398.0,1120.7 398.2,1109.1 398.4,1092.5 398.6,1093.3 398.8,1085.6 399.1,1108.5 399.3,1118.6 399.5,1093.7 399.7,1078.8 399.9,1102.7 400.2,1109.0 400.4,1065.7 400.6,1101.6 400.8,1127.0 401.0,1110.0 401.3,1106.5 401.5,1104.6 401.7,1112.8 401.9,1087.5 402.1,1088.6 402.4,1104.3 402.6,1090.5 402.8,1102.2 403.0,1075.0 403.2,1108.3 403.5,1109.4 403.7,1099.2 403.9,1100.7 404.1,1130.9 404.3,1084.9 404.6,1087.0 404.8,1084.6 405.0,1092.9 405.2,1085.5 405.4,1098.5 405.7,1089.9 405.9,1079.9 406.1,1078.5 406.3,1112.9 406.5,1096.9 406.8,1094.8 407.0,1097.9 407.2,1096.5 407.4,1106.9 407.6,1104.4 407.9,1090.0 408.1,1087.1 408.3,1083.7 408.5,1081.7 408.7,1114.5 409.0,1085.7 409.2,1072.0 409.4,1086.5 409.6,1087.1 409.8,1100.9 410.1,1085.9 410.3,1103.4 410.5,1101.5 410.7,1112.3 410.9,1123.3 411.2,1131.7 411.4,1113.2 411.6,1082.2 411.8,1091.5 412.0,1101.3 412.3,1121.8 412.5,1104.7 412.7,1111.1 412.9,1094.1 413.1,1103.5 413.4,1105.0 413.6,1090.6 413.8,1105.7 414.0,1109.3 414.2,1094.2 414.5,1108.6 414.7,1116.2 414.9,1096.8 415.1,1096.0 415.3,1089.9 415.6,1088.4 415.8,1097.8 416.0,1090.9 416.2,1092.1 416.4,1086.4 416.7,1077.1 416.9,1084.4 417.1,1099.8 417.3,1081.4 417.5,1087.9 417.8,1115.8 418.0,1109.5 418.2,1087.3 418.4,1103.1 418.6,1087.8 418.9,1115.5 419.1,1088.6 419.3,1096.7 419.5,1112.5 419.7,1085.7 420.0,1111.5 420.2,1085.8 420.4,1098.6 420.6,1090.0 420.8,1094.6 421.1,1097.6 421.3,1094.8 421.5,1083.4 421.7,1106.2 421.9,1104.4 422.2,1111.3 422.4,1112.4 422.6,1079.5 422.8,1111.2 423.0,1111.3 423.3,1089.3 423.5,1108.2 423.7,1113.4 423.9,1089.2 424.1,1079.2 424.4,1091.4 424.6,1129.3 424.8,1098.6 425.0,1081.2 425.2,1092.7 425.5,1083.9 425.7,1091.0 425.9,1096.9 426.1,1065.1 426.3,1100.1 426.6,1112.8 426.8,1093.5 427.0,1091.3 427.2,1108.9 427.4,1080.8 427.7,1081.0 427.9,1079.3 428.1,1094.0 428.3,1100.6 428.5,1094.9 428.8,1102.5 429.0,1105.9 429.2,1101.9 429.4,1086.4 429.6,1092.8 429.9,1110.9 430.1,1083.6 430.3,1093.1 430.5,1091.1 430.7,1094.0 431.0,1083.4 431.2,1080.2 431.4,1126.5 431.6,1107.4 431.8,1087.8 432.1,1095.5 432.3,1104.3 432.5,1092.2 432.7,1107.9 432.9,1089.0 433.2,1092.1 433.4,1095.4 433.6,1091.0 433.8,1067.5 434.0,1096.7 434.3,1099.5 434.5,1102.1 434.7,1084.8 434.9,1100.5 435.1,1099.1 435.4,1075.8 435.6,1070.7 435.8,1102.2 436.0,1085.4 436.2,1108.4 436.5,1121.7 436.7,1089.8 436.9,1088.6 437.1,1096.6 437.3,1104.6 437.6,1083.5 437.8,1111.3 438.0,1108.4 438.2,1104.6 438.4,1090.5 438.7,1107.6 438.9,1106.9 439.1,1082.9 439.3,1121.3 439.5,1093.5 439.8,1101.3 440.0,1090.9 440.2,1101.5 440.4,1110.6 440.6,1087.7 440.9,1066.3 441.1,1091.9 441.3,1082.0 441.5,1088.4 441.7,1095.8 442.0,1096.5 442.2,1112.2 442.4,1085.6 442.6,1101.4 442.8,1091.5 443.1,1113.2 443.3,1126.7 443.5,1101.0 443.7,1116.8 443.9,1091.4 444.2,1079.1 444.4,1082.9 444.6,1079.4 444.8,1086.6 445.0,1094.9 445.3,1110.9 445.5,1105.8 445.7,1103.1 445.9,1092.9 446.1,1089.5 446.4,1098.3 446.6,1099.5 446.8,1100.9 447.0,1102.2 447.2,1096.7 447.5,1076.0 447.7,1085.3 447.9,1088.7 448.1,1117.6 448.3,1093.3 448.6,1110.6 448.8,1115.0 449.0,1102.1 449.2,1093.9 449.4,1095.1 449.7,1086.8 449.9,1102.0 450.1,1111.4 450.3,1105.1 450.5,1107.4 450.8,1106.8 451.0,1121.5 451.2,1091.5 451.4,1100.6 451.6,1106.9 451.9,1113.1 452.1,1071.4 452.3,1093.1 452.5,1096.7 452.7,1087.4 453.0,1108.7 453.2,1101.7 453.4,1094.8 453.6,1080.8 453.8,1084.4 454.1,1088.3 454.3,1104.6 454.5,1077.5 454.7,1076.2 454.9,1083.2 455.2,1093.0 455.4,1118.6 455.6,1128.0 455.8,1094.4 456.0,1110.5 456.3,1125.2 456.5,1114.5 456.7,1098.8 456.9,1085.5 457.1,1094.8 457.4,1079.4 457.6,1103.0 457.8,1109.2 458.0,1079.3 458.2,1100.0 458.5,1103.9 458.7,1114.7 458.9,1116.2 459.1,1109.8 459.3,1093.3 459.6,1096.9 459.8,1114.5 460.0,1094.4 460.2,1100.8 460.4,1118.7 460.7,1102.8 460.9,1086.2 461.1,1098.3 461.3,1108.8 461.5,1099.6 461.8,1114.8 462.0,1124.7 462.2,1094.8 462.4,1096.5 462.6,1101.1 462.9,1089.0 463.1,1106.6 463.3,1100.5 463.5,1111.3 463.7,1096.1 464.0,1093.1 464.2,1123.3 464.4,1093.4 464.6,1096.7 464.8,1095.2 465.1,1100.1 465.3,1093.4 465.5,1103.2 465.7,1096.0 465.9,1099.3 466.2,1108.0 466.4,1111.9 466.6,1109.4 466.8,1096.3 467.0,1108.9 467.3,1103.4 467.5,1103.6 467.7,1086.0 467.9,1112.4 468.1,1103.7 468.4,1124.1 468.6,1112.5 468.8,1093.4 469.0,1081.8 469.2,1118.5 469.5,1096.5 469.7,1113.7 469.9,1103.1 470.1,1143.2 470.3,1107.5 470.6,1123.3 470.8,1121.5 471.0,1102.1 471.2,1103.7 471.4,1123.6 471.7,1107.6 471.9,1098.3 472.1,1121.0 472.3,1136.1 472.5,1107.9 472.8,1123.7 473.0,1106.9 473.2,1123.5 473.4,1106.4 473.6,1123.6 473.9,1115.3 474.1,1107.6 474.3,1112.3 474.5,1104.0 474.7,1097.9 475.0,1098.8 475.2,1109.8 475.4,1099.2 475.6,1115.5 475.8,1116.6 476.1,1116.2 476.3,1105.9 476.5,1112.0 476.7,1111.3 476.9,1125.9 477.2,1103.2 477.4,1107.9 477.6,1109.6 477.8,1110.7 478.0,1104.4 478.3,1105.8 478.5,1123.6 478.7,1106.0 478.9,1122.8 479.1,1134.9 479.4,1126.9 479.6,1094.0 479.8,1121.7 480.0,1118.7 480.2,1119.5 480.5,1096.4 480.7,1122.0 480.9,1102.4 481.1,1127.9 481.3,1125.7 481.6,1141.5 481.8,1110.3 482.0,1098.3 482.2,1125.8 482.4,1124.1 482.7,1110.8 482.9,1129.4 483.1,1122.4 483.3,1101.5 483.5,1111.6 483.8,1110.7 484.0,1114.4 484.2,1117.7 484.4,1108.4 484.6,1113.8 484.9,1122.2 485.1,1115.3 485.3,1113.3 485.5,1113.1 485.7,1115.3 486.0,1096.3 486.2,1118.3 486.4,1105.9 486.6,1117.9 486.8,1101.4 487.1,1126.7 487.3,1119.6 487.5,1103.0 487.7,1119.8 487.9,1109.5 488.2,1136.4 488.4,1122.8 488.6,1109.4 488.8,1120.2 489.0,1117.6 489.3,1130.6 489.5,1121.9 489.7,1123.7 489.9,1106.7 490.1,1126.8 490.4,1140.5 490.6,1125.4 490.8,1118.4 491.0,1120.7 491.2,1109.1 491.5,1121.1 491.7,1107.9 491.9,1119.8 492.1,1115.5 492.3,1111.0 492.6,1125.7 492.8,1104.4 493.0,1119.5 493.2,1106.3 493.4,1139.1 493.7,1140.7 493.9,1129.1 494.1,1140.1 494.3,1126.7 494.5,1126.3 494.8,1116.4 495.0,1111.6 495.2,1122.3 495.4,1115.5 495.6,1116.6 495.9,1128.8 496.1,1120.1 496.3,1105.4 496.5,1119.3 496.7,1113.8 497.0,1118.7 497.2,1110.6 497.4,1134.3 497.6,1141.6 497.8,1110.8 498.1,1128.9 498.3,1128.5 498.5,1111.5 498.7,1124.7 498.9,1137.2 499.2,1131.5 499.4,1139.5 499.6,1111.1 499.8,1115.5 500.0,1126.2 500.3,1126.9 500.5,1123.7 500.7,1119.6 500.9,1119.5 501.1,1117.6 501.4,1128.4 501.6,1095.9 501.8,1140.3 502.0,1118.8 502.2,1109.8 502.5,1129.9 502.7,1110.2 502.9,1128.5 503.1,1120.6 503.3,1130.8 503.6,1138.0 503.8,1138.1 504.0,1120.1 504.2,1122.3 504.4,1125.2 504.7,1111.2 504.9,1131.5 505.1,1127.0 505.3,1112.3 505.5,1138.1 505.8,1139.8 506.0,1112.9 506.2,1132.0 506.4,1138.9 506.6,1134.9 506.9,1116.8 507.1,1112.7 507.3,1125.7 507.5,1122.0 507.7,1127.0 508.0,1126.2 508.2,1132.6 508.4,1121.9 508.6,1126.0 508.8,1157.3 509.1,1126.5 509.3,1135.3 509.5,1130.9 509.7,1130.4 509.9,1119.2 510.2,1133.7 510.4,1128.0 510.6,1136.8 510.8,1149.2 511.0,1130.8 511.3,1136.6 511.5,1119.0 511.7,1130.5 511.9,1144.8 512.1,1129.0 512.4,1123.4 512.6,1131.9 512.8,1128.1 513.0,1127.7 513.2,1126.5 513.5,1161.9 513.7,1121.9 513.9,1126.5 514.1,1125.1 514.3,1143.1 514.6,1128.3 514.8,1144.0 515.0,1132.9 515.2,1131.2 515.4,1117.2 515.7,1143.6 515.9,1140.4 516.1,1135.9 516.3,1130.9 516.5,1128.1 516.8,1119.9 517.0,1141.7 517.2,1135.3 517.4,1129.2 517.6,1126.7 517.9,1134.2 518.1,1132.3 518.3,1149.3 518.5,1141.0 518.7,1127.8 519.0,1122.9 519.2,1131.6 519.4,1125.1 519.6,1134.9 519.8,1138.2 520.1,1140.6 520.3,1138.6 520.5,1132.8 520.7,1140.7 520.9,1126.3 521.2,1134.4 521.4,1143.1 521.6,1138.2 521.8,1123.2 522.0,1124.5 522.3,1120.2 522.5,1153.4 522.7,1121.1 522.9,1134.9 523.1,1154.1 523.4,1146.9 523.6,1149.4 523.8,1132.0 524.0,1144.1 524.2,1166.4 524.5,1136.9 524.7,1141.3 524.9,1134.5 525.1,1137.5 525.3,1141.4 525.6,1151.2 525.8,1129.4 526.0,1124.5 526.2,1138.6 526.4,1140.4 526.7,1152.1 526.9,1145.6 527.1,1132.9 527.3,1144.4 527.5,1149.8 527.8,1142.0 528.0,1136.2 528.2,1150.1 528.4,1136.3 528.6,1122.0 528.9,1152.6 529.1,1127.8 529.3,1137.0 529.5,1137.3 529.7,1137.3 530.0,1137.9 530.2,1127.1 530.4,1145.8 530.6,1141.2 530.8,1141.5 531.1,1151.4 531.3,1151.7 531.5,1154.1 531.7,1159.1 531.9,1146.0 532.2,1127.4 532.4,1144.0 532.6,1142.3 532.8,1143.0 533.0,1133.6 533.3,1134.2 533.5,1150.2 533.7,1152.0 533.9,1132.5 534.1,1148.2 534.4,1141.7 534.6,1139.8 534.8,1150.0 535.0,1143.3 535.2,1138.7 535.5,1144.5 535.7,1125.5 535.9,1138.8 536.1,1140.3 536.3,1131.5 536.6,1146.3 536.8,1147.3 537.0,1139.3 537.2,1143.5 537.4,1151.5 537.7,1155.2 537.9,1138.4 538.1,1148.8 538.3,1155.4 538.5,1145.6 538.8,1138.9 539.0,1139.1 539.2,1143.3 539.4,1136.9 539.6,1165.2 539.9,1141.4 540.1,1150.3 540.3,1148.7 540.5,1153.0 540.7,1143.7 541.0,1135.4 541.2,1162.6 541.4,1146.9 541.6,1148.9 541.8,1149.8 542.1,1159.7 542.3,1155.3 542.5,1159.1 542.7,1156.0 542.9,1150.0 543.2,1151.1 543.4,1142.1 543.6,1131.3 543.8,1147.0 544.0,1139.5 544.3,1173.1 544.5,1163.8 544.7,1160.4 544.9,1144.8 545.1,1168.8 545.4,1134.6 545.6,1139.3 545.8,1143.3 546.0,1141.8 546.2,1151.9 546.5,1152.5 546.7,1168.3 546.9,1160.1 547.1,1162.2 547.3,1155.1 547.6,1150.1 547.8,1141.6 548.0,1138.0 548.2,1143.9 548.4,1148.5 548.7,1158.9 548.9,1136.9 549.1,1140.0 549.3,1154.4 549.5,1143.1 549.8,1155.7 550.0,1149.0 550.2,1146.1 550.4,1141.0 550.6,1152.3 550.9,1146.7 551.1,1147.8 551.3,1147.7 551.5,1155.2 551.7,1155.0 552.0,1138.4 552.2,1152.4 552.4,1157.5 552.6,1163.3 552.8,1161.2 553.1,1156.1 553.3,1144.2 553.5,1147.6 553.7,1162.7 553.9,1148.4 554.2,1163.9 554.4,1166.2 554.6,1145.5 554.8,1159.0 555.0,1154.1 555.3,1173.2 555.5,1162.7 555.7,1150.9 555.9,1159.1 556.1,1147.5 556.4,1154.3 556.6,1157.6 556.8,1157.2 557.0,1158.6 557.2,1148.0 557.5,1139.7 557.7,1153.0 557.9,1148.4 558.1,1150.2 558.3,1175.2 558.6,1166.7 558.8,1155.0 559.0,1144.1 559.2,1145.3 559.4,1160.0 559.7,1166.3 559.9,1154.4 560.1,1158.2 560.3,1159.3 560.5,1166.5 560.8,1140.8 561.0,1158.7 561.2,1160.9 561.4,1165.8 561.6,1161.0 561.9,1148.0 562.1,1152.6 562.3,1144.5 562.5,1159.5 562.7,1159.6 563.0,1162.4 563.2,1149.6 563.4,1148.2 563.6,1171.4 563.8,1159.8 564.1,1182.5 564.3,1162.2 564.5,1145.8 564.7,1165.5 564.9,1169.2 565.2,1154.7 565.4,1142.1 565.6,1167.9 565.8,1157.6 566.0,1161.3 566.3,1135.8 566.5,1162.9 566.7,1135.4 566.9,1151.7 567.1,1166.8 567.4,1143.6 567.6,1143.3 567.8,1155.5 568.0,1173.5 568.2,1173.3 568.5,1154.3 568.7,1168.1 568.9,1164.6 569.1,1161.9 569.3,1162.8 569.6,1153.6 569.8,1170.8 570.0,1168.9 570.2,1183.0 570.4,1167.8 570.7,1139.2 570.9,1149.9 571.1,1163.0 571.3,1160.8 571.5,1144.5 571.8,1159.1 572.0,1157.3 572.2,1160.0 572.4,1159.4 572.6,1168.3 572.9,1173.0 573.1,1166.4 573.3,1151.3 573.5,1153.5 573.7,1155.2 574.0,1160.4 574.2,1157.3 574.4,1158.0 574.6,1153.3 574.8,1169.1 575.1,1168.3 575.3,1169.2 575.5,1160.6 575.7,1165.1 575.9,1153.7 576.2,1152.9 576.4,1154.2 576.6,1166.4 576.8,1160.3 577.0,1152.1 577.3,1162.5 577.5,1165.3 577.7,1163.2 577.9,1156.3 578.1,1162.5 578.4,1158.5 578.6,1159.3 578.8,1161.3 579.0,1168.4 579.2,1177.3 579.5,1175.2 579.7,1167.5 579.9,1159.0 580.1,1159.9 580.3,1160.3 580.6,1172.0 580.8,1139.7 581.0,1164.8 581.2,1146.2 581.4,1162.7 581.7,1173.7 581.9,1155.3 582.1,1144.1 582.3,1173.6 582.5,1175.3 582.8,1167.1 583.0,1173.4 583.2,1156.5 583.4,1172.8 583.6,1177.1 583.9,1168.5 584.1,1165.6 584.3,1173.8 584.5,1172.6 584.7,1157.3 585.0,1174.6 585.2,1169.6 585.4,1164.9 585.6,1174.2 585.8,1171.2 586.1,1169.8 586.3,1159.6 586.5,1170.6 586.7,1154.8 586.9,1162.9 587.2,1150.2 587.4,1150.2 587.6,1167.6 587.8,1163.4 588.0,1164.8 588.3,1168.9 588.5,1167.0 588.7,1157.1 588.9,1164.9 589.1,1163.8 589.4,1160.2 589.6,1163.4 589.8,1161.5 590.0,1159.3 590.2,1161.8 590.5,1166.5 590.7,1181.2 590.9,1158.1 591.1,1168.9 591.3,1153.0 591.6,1177.5 591.8,1162.1 592.0,1166.0 592.2,1175.1 592.4,1172.8 592.7,1153.1 592.9,1169.4 593.1,1163.2 593.3,1170.0 593.5,1166.4 593.8,1171.0 594.0,1167.5 594.2,1164.1 594.4,1174.6 594.6,1153.1 594.9,1161.9 595.1,1157.9 595.3,1164.3 595.5,1162.1 595.7,1164.4 596.0,1161.7 596.2,1161.9 596.4,1152.7 596.6,1165.4 596.8,1168.2 597.1,1161.1 597.3,1160.7 597.5,1160.8 597.7,1179.1 597.9,1167.4 598.2,1169.0 598.4,1163.7 598.6,1162.2 598.8,1159.2 599.0,1178.2 599.3,1152.9 599.5,1168.6 599.7,1166.1 599.9,1164.3 600.1,1154.1 600.4,1156.8 600.6,1174.1 600.8,1161.1 601.0,1173.4 601.2,1171.8 601.5,1171.1 601.7,1172.6 601.9,1157.3 602.1,1163.1 602.3,1172.1 602.6,1157.0 602.8,1179.9 603.0,1162.6 603.2,1166.5 603.4,1159.0 603.7,1169.9 603.9,1161.4 604.1,1165.3 604.3,1158.3 604.5,1176.5 604.8,1154.6 605.0,1170.8 605.2,1169.2 605.4,1170.8 605.6,1159.5 605.9,1175.6 606.1,1175.1 606.3,1168.8 606.5,1170.1 606.7,1166.5 607.0,1172.7 607.2,1161.4 607.4,1172.2 607.6,1171.0 607.8,1156.9 608.1,1147.5 608.3,1167.1 608.5,1166.8 608.7,1177.6 608.9,1168.6 609.2,1164.3 609.4,1157.7 609.6,1167.6 609.8,1163.8 610.0,1159.8 610.3,1167.5 610.5,1176.7 610.7,1169.3 610.9,1160.4 611.1,1171.2 611.4,1160.1 611.6,1156.5 611.8,1172.6 612.0,1164.5 612.2,1177.5 612.5,1171.3 612.7,1162.7 612.9,1170.7 613.1,1179.1 613.3,1167.6 613.6,1160.9 613.8,1164.1 614.0,1162.9 614.2,1160.1 614.4,1159.3 614.7,1172.7 614.9,1178.1 615.1,1166.7 615.3,1175.6 615.5,1176.6 615.8,1182.7 616.0,1168.2 616.2,1167.0 616.4,1173.0 616.6,1170.6 616.9,1172.2 617.1,1180.0 617.3,1166.6 617.5,1171.7 617.7,1162.4 618.0,1168.8 618.2,1164.9 618.4,1164.3 618.6,1168.5 618.8,1166.8 619.1,1173.2 619.3,1176.6 619.5,1158.8 619.7,1178.2 619.9,1153.2 620.2,1172.4 620.4,1176.1 620.6,1165.6 620.8,1168.9 621.0,1164.6 621.3,1177.7 621.5,1146.2 621.7,1163.3 621.9,1155.8 622.1,1172.4 622.4,1181.0 622.6,1180.2 622.8,1176.2 623.0,1173.0 623.2,1165.2 623.5,1180.6 623.7,1176.0 623.9,1164.7 624.1,1161.3 624.3,1166.4 624.6,1179.7 624.8,1181.1 625.0,1183.9 625.2,1165.4 625.4,1168.7 625.7,1182.2 625.9,1173.3 626.1,1177.5 626.3,1161.4 626.5,1168.8 626.8,1171.6 627.0,1169.0 627.2,1166.6 627.4,1159.1 627.6,1184.5 627.9,1173.0 628.1,1160.6 628.3,1180.3 628.5,1172.5 628.7,1177.6 629.0,1170.6 629.2,1166.0 629.4,1166.3 629.6,1174.9 629.8,1178.2 630.1,1176.1 630.3,1177.3 630.5,1181.7 630.7,1174.6 630.9,1180.2 631.2,1181.0 631.4,1174.8 631.6,1172.0 631.8,1169.2 632.0,1163.3 632.3,1160.6 632.5,1182.9 632.7,1172.6 632.9,1168.5 633.1,1185.0 633.4,1180.4 633.6,1173.3 633.8,1180.7 634.0,1171.5 634.2,1175.8 634.5,1187.1 634.7,1181.2 634.9,1171.0 635.1,1178.5 635.3,1182.3 635.6,1172.3 635.8,1170.0 636.0,1196.8 636.2,1171.0 636.4,1163.1 636.7,1174.5 636.9,1191.2 637.1,1178.4 637.3,1181.0 637.5,1156.9 637.8,1169.5 638.0,1183.1 638.2,1170.7 638.4,1184.1 638.6,1177.7 638.9,1177.1 639.1,1187.0 639.3,1170.2 639.5,1170.5 639.7,1175.0 640.0,1175.9 640.2,1161.1 640.4,1183.7 640.6,1176.0 640.8,1173.0 641.1,1179.1 641.3,1171.3 641.5,1183.7 641.7,1174.9 641.9,1180.0 642.2,1167.6 642.4,1172.3 642.6,1177.3 642.8,1167.1 643.0,1169.3 643.3,1174.1 643.5,1183.1 643.7,1180.4 643.9,1181.5 644.1,1176.8 644.4,1181.5 644.6,1186.4 644.8,1175.8 645.0,1177.9 645.2,1179.1 645.5,1159.1 645.7,1173.8 645.9,1177.8 646.1,1180.4 646.3,1172.1 646.6,1182.2 646.8,1169.7 647.0,1173.3 647.2,1187.7 647.4,1164.3 647.7,1174.1 647.9,1173.5 648.1,1174.0 648.3,1170.6 648.5,1179.7 648.8,1166.4 649.0,1164.5 649.2,1181.1 649.4,1165.5 649.6,1177.6 649.9,1174.9 650.1,1169.4 650.3,1172.1 650.5,1174.0 650.7,1178.2 651.0,1169.9 651.2,1173.1 651.4,1163.7 651.6,1171.7 651.8,1160.0 652.1,1174.4 652.3,1171.2 652.5,1190.9 652.7,1184.6 652.9,1173.6 653.2,1182.1 653.4,1176.9 653.6,1165.9 653.8,1156.1 654.0,1183.3 654.3,1177.8 654.5,1159.7 654.7,1179.7 654.9,1181.8 655.1,1169.6 655.4,1180.9 655.6,1161.6 655.8,1173.2 656.0,1175.1 656.2,1180.9 656.5,1178.0 656.7,1176.6 656.9,1179.2 657.1,1169.9 657.3,1186.4 657.6,1172.4 657.8,1181.1 658.0,1175.0 658.2,1173.2 658.4,1179.6 658.7,1178.5 658.9,1185.5 659.1,1183.4 659.3,1170.8 659.5,1179.0 659.8,1176.0 660.0,1169.1 660.2,1161.8 660.4,1177.2 660.6,1171.2 660.9,1164.6 661.1,1174.6 661.3,1177.1 661.5,1176.1 661.7,1166.1 662.0,1171.0 662.2,1186.0 662.4,1169.5 662.6,1173.0 662.8,1193.2 663.1,1178.2 663.3,1171.7 663.5,1160.6 663.7,1177.9 663.9,1164.9 664.2,1175.4 664.4,1169.0 664.6,1162.8 664.8,1188.3 665.0,1174.8 665.3,1182.7 665.5,1181.4 665.7,1170.1 665.9,1176.4 666.1,1173.0 666.4,1183.2 666.6,1179.1 666.8,1173.1 667.0,1188.6 667.2,1179.8 667.5,1179.4 667.7,1169.9 667.9,1179.0 668.1,1164.7 668.3,1179.5 668.6,1168.8 668.8,1177.4 669.0,1172.6 669.2,1177.8 669.4,1178.8 669.7,1175.6 669.9,1175.6 670.1,1164.7 670.3,1161.5 670.5,1185.8 670.8,1180.6 671.0,1164.8 671.2,1190.8 671.4,1170.7 671.6,1180.2 671.9,1179.5 672.1,1177.1 672.3,1181.0 672.5,1165.8 672.7,1176.1 673.0,1174.4 673.2,1177.1 673.4,1174.3 673.6,1171.5 673.8,1170.8 674.1,1183.2 674.3,1170.0 674.5,1179.3 674.7,1179.2 674.9,1175.8 675.2,1179.8 675.4,1180.7 675.6,1172.5 675.8,1179.2 676.0,1191.3 676.3,1168.4 676.5,1174.4 676.7,1170.8 676.9,1191.9 677.1,1159.5 677.4,1176.8 677.6,1183.9 677.8,1170.1 678.0,1175.8 678.2,1171.4 678.5,1166.6 678.7,1176.3 678.9,1180.7 679.1,1173.9 679.3,1178.2 679.6,1182.2 679.8,1186.1 680.0,1167.5 680.2,1181.7 680.4,1172.3 680.7,1162.6 680.9,1171.1 681.1,1182.0 681.3,1179.4 681.5,1168.7 681.8,1189.4 682.0,1180.2 682.2,1176.6 682.4,1173.0 682.6,1180.4 682.9,1174.2 683.1,1185.9 683.3,1179.6 683.5,1182.0 683.7,1174.9 684.0,1166.0 684.2,1181.4 684.4,1169.6 684.6,1176.5 684.8,1177.3 685.1,1171.4 685.3,1184.2 685.5,1166.5 685.7,1188.8 685.9,1173.0 686.2,1184.8 686.4,1187.4 686.6,1170.9 686.8,1171.9 687.0,1184.7 687.3,1179.0 687.5,1178.2 687.7,1163.7 687.9,1165.1 688.1,1181.7 688.4,1188.6 688.6,1172.3 688.8,1171.1 689.0,1179.3 689.2,1181.3 689.5,1182.0 689.7,1172.4 689.9,1163.0 690.1,1195.5 690.3,1174.0 690.6,1187.4 690.8,1162.7 691.0,1180.7 691.2,1174.1 691.4,1169.6 691.7,1185.3 691.9,1187.7 692.1,1173.5 692.3,1182.9 692.5,1169.8 692.8,1173.3 693.0,1176.1 693.2,1175.4 693.4,1182.9 693.6,1168.9 693.9,1185.4 694.1,1185.4 694.3,1176.5 694.5,1169.1 694.7,1149.3 695.0,1177.7 695.2,1172.7 695.4,1179.0 695.6,1170.2 695.8,1178.2 696.1,1177.8 696.3,1178.3 696.5,1180.4 696.7,1180.5 696.9,1185.6 697.2,1172.4 697.4,1183.8 697.6,1179.6 697.8,1175.2 698.0,1170.9 698.3,1189.4 698.5,1180.2 698.7,1174.5 698.9,1179.0 699.1,1178.5 699.4,1174.5 699.6,1168.1 699.8,1179.7 700.0,1177.3 700.2,1176.4 700.5,1186.0 700.7,1168.7 700.9,1171.4 701.1,1179.8 701.3,1184.9 701.6,1183.3 701.8,1184.2 702.0,1162.1 702.2,1182.5 702.4,1181.9 702.7,1183.9 702.9,1173.6 703.1,1182.6 703.3,1186.4 703.5,1190.9 703.8,1180.7 704.0,1168.8 704.2,1179.3 704.4,1183.7 704.6,1182.8 704.9,1193.3 705.1,1177.4 705.3,1171.3 705.5,1174.2 705.7,1183.9 706.0,1173.0 706.2,1171.2 706.4,1172.8 706.6,1188.2 706.8,1180.9 707.1,1176.6 707.3,1185.5 707.5,1184.3 707.7,1171.8 707.9,1189.2 708.2,1181.0 708.4,1163.7 708.6,1170.3 708.8,1181.2 709.0,1182.9 709.3,1177.1 709.5,1171.8 709.7,1181.2 709.9,1165.6 710.1,1183.5 710.4,1178.2 710.6,1179.2 710.8,1174.5 711.0,1185.7 711.2,1161.9 711.5,1169.1 711.7,1183.8 711.9,1171.1 712.1,1190.5 712.3,1182.7 712.6,1173.8 712.8,1187.9 713.0,1178.9 713.2,1184.0 713.4,1175.1 713.7,1175.2 713.9,1185.1 714.1,1180.5 714.3,1174.1 714.5,1173.2 714.8,1184.7 715.0,1193.1 715.2,1173.6 715.4,1185.0 715.6,1158.1 715.9,1169.6 716.1,1185.1 716.3,1192.0 716.5,1180.5 716.7,1184.2 717.0,1182.0 717.2,1187.7 717.4,1172.0 717.6,1184.9 717.8,1175.2 718.1,1177.6 718.3,1180.2 718.5,1178.7 718.7,1174.5 718.9,1178.3 719.2,1173.2 719.4,1191.4 719.6,1185.6 719.8,1177.2 720.0,1192.3 720.3,1190.0 720.5,1184.0 720.7,1176.4 720.9,1182.4 721.1,1184.7 721.4,1190.9 721.6,1179.1 721.8,1176.2 722.0,1197.7 722.2,1190.9 722.5,1182.9 722.7,1173.7 722.9,1184.2 723.1,1189.0 723.3,1186.3 723.6,1186.8 723.8,1181.0 724.0,1189.2 724.2,1176.1 724.4,1177.4 724.7,1177.0 724.9,1175.9 725.1,1195.3 725.3,1168.0 725.5,1182.5 725.8,1173.4 726.0,1171.4 726.2,1181.5 726.4,1169.0 726.6,1180.1 726.9,1198.0 727.1,1180.0 727.3,1184.3 727.5,1174.5 727.7,1184.5 728.0,1169.7 728.2,1182.3 728.4,1179.9 728.6,1197.2 728.8,1180.2 729.1,1178.1 729.3,1176.7 729.5,1171.9 729.7,1186.7 729.9,1191.8 730.2,1178.1 730.4,1186.2 730.6,1178.2 730.8,1184.0 731.0,1184.4 731.3,1170.2 731.5,1175.2 731.7,1188.0 731.9,1166.6 732.1,1181.1 732.4,1178.4 732.6,1174.0 732.8,1181.4 733.0,1183.4 733.2,1185.1 733.5,1161.3 733.7,1193.8 733.9,1177.5 734.1,1189.0 734.3,1180.2 734.6,1176.8 734.8,1180.7 735.0,1205.1 735.2,1193.0 735.4,1178.6 735.7,1182.9 735.9,1189.7 736.1,1185.7 736.3,1181.9 736.5,1179.9 736.8,1173.2 737.0,1187.0 737.2,1189.7 737.4,1198.2 737.6,1177.3 737.9,1186.3 738.1,1181.2 738.3,1190.9 738.5,1180.7 738.7,1176.6 739.0,1168.7 739.2,1186.9 739.4,1182.7 739.6,1190.0 739.8,1177.4 740.1,1201.2 740.3,1176.2 740.5,1185.5 740.7,1184.8 740.9,1190.0 741.2,1180.4 741.4,1174.7 741.6,1174.2 741.8,1187.9 742.0,1182.5 742.3,1184.3 742.5,1175.6 742.7,1182.8 742.9,1183.4 743.1,1186.5 743.4,1170.8 743.6,1176.0 743.8,1194.9 744.0,1178.9 744.2,1181.3 744.5,1178.9 744.7,1170.6 744.9,1173.8 745.1,1184.8 745.3,1176.9 745.6,1197.3 745.8,1170.7 746.0,1167.4 746.2,1179.1 746.4,1167.5 746.7,1192.5 746.9,1178.9 747.1,1186.0 747.3,1171.4 747.5,1190.1 747.8,1187.0 748.0,1191.5 748.2,1183.8 748.4,1186.1 748.6,1183.5 748.9,1189.2 749.1,1179.1 749.3,1186.4 749.5,1178.0 749.7,1187.6 750.0,1180.2 750.2,1177.4 750.4,1177.2 750.6,1193.4 750.8,1170.6 751.1,1171.2 751.3,1187.2 751.5,1174.9 751.7,1178.9 751.9,1178.7 752.2,1199.6 752.4,1177.4 752.6,1177.1 752.8,1179.6 753.0,1184.3 753.3,1186.3 753.5,1171.5 753.7,1186.0 753.9,1197.3 754.1,1169.2 754.4,1187.0 754.6,1188.5 754.8,1183.9 755.0,1181.2 755.2,1165.0 755.5,1191.8 755.7,1180.3 755.9,1181.2 756.1,1192.1 756.3,1165.2 756.6,1182.3 756.8,1187.4 757.0,1188.3 757.2,1187.5 757.4,1198.3 757.7,1185.1 757.9,1190.6 758.1,1188.8 758.3,1171.8 758.5,1177.2 758.8,1198.7 759.0,1181.0 759.2,1182.6 759.4,1173.2 759.6,1180.5 759.9,1173.2 760.1,1178.6 760.3,1187.3 760.5,1176.9 760.7,1178.6 761.0,1193.3 761.2,1186.8 761.4,1187.1 761.6,1190.7 761.8,1179.1 762.1,1180.4 762.3,1167.8 762.5,1188.8 762.7,1181.8 762.9,1183.3 763.2,1175.2 763.4,1188.0 763.6,1188.1 763.8,1184.8 764.0,1171.5 764.3,1177.1 764.5,1183.2 764.7,1177.2 764.9,1186.4 765.1,1191.1 765.4,1177.8 765.6,1182.2 765.8,1175.3 766.0,1191.3 766.2,1190.3 766.5,1203.6 766.7,1183.7 766.9,1176.6 767.1,1186.7 767.3,1181.9 767.6,1185.1 767.8,1193.0 768.0,1181.6 768.2,1189.1 768.4,1167.8 768.7,1191.7 768.9,1184.8 769.1,1182.0 769.3,1180.0 769.5,1194.5 769.8,1180.0 770.0,1193.4 770.2,1180.1 770.4,1184.2 770.6,1186.6 770.9,1199.1 771.1,1187.0 771.3,1185.7 771.5,1183.5 771.7,1181.7 772.0,1179.5 772.2,1197.6 772.4,1195.1 772.6,1178.9 772.8,1186.1 773.1,1175.3 773.3,1191.2 773.5,1189.3 773.7,1185.0 773.9,1178.1 774.2,1189.9 774.4,1188.8 774.6,1182.8 774.8,1189.7 775.0,1174.1 775.3,1177.1 775.5,1177.1 775.7,1185.1 775.9,1196.8 776.1,1184.6 776.4,1192.8 776.6,1184.0 776.8,1181.2 777.0,1191.9 777.2,1188.4 777.5,1194.9 777.7,1191.6 777.9,1178.2 778.1,1165.2 778.3,1185.4 778.6,1175.5 778.8,1173.8 779.0,1173.3 779.2,1179.6 779.4,1182.9 779.7,1184.4 779.9,1199.7 780.1,1175.3 780.3,1184.3 780.5,1175.1 780.8,1177.0 781.0,1184.9 781.2,1187.6 781.4,1174.8 781.6,1193.0 781.9,1177.5 782.1,1191.6 782.3,1184.1 782.5,1191.2 782.7,1188.7 783.0,1182.3 783.2,1188.1 783.4,1168.4 783.6,1174.8 783.8,1181.8 784.1,1194.8 784.3,1178.9 784.5,1180.0 784.7,1197.0 784.9,1184.9 785.2,1184.6 785.4,1172.0 785.6,1185.0 785.8,1189.0 786.0,1184.2 786.3,1190.3 786.5,1187.1 786.7,1192.5 786.9,1190.8 787.1,1183.6 787.4,1191.1 787.6,1198.1 787.8,1186.9 788.0,1175.5 788.2,1186.1 788.5,1182.3 788.7,1204.0 788.9,1190.3 789.1,1171.4 789.3,1183.3 789.6,1195.6 789.8,1176.0 790.0,1181.0 790.2,1184.7 790.4,1183.6 790.7,1180.2 790.9,1185.6 791.1,1174.1 791.3,1180.3 791.5,1180.2 791.8,1182.4 792.0,1182.4 792.2,1184.6 792.4,1182.1 792.6,1181.5 792.9,1187.3 793.1,1191.4 793.3,1191.8 793.5,1176.0 793.7,1186.5 794.0,1190.2 794.2,1182.7 794.4,1188.1 794.6,1183.0 794.8,1187.5 795.1,1173.3 795.3,1188.1 795.5,1181.1 795.7,1179.2 795.9,1182.4 796.2,1192.0 796.4,1191.7 796.6,1186.5 796.8,1191.1 797.0,1181.7 797.3,1175.4 797.5,1170.8 797.7,1184.5 797.9,1183.6 798.1,1185.0 798.4,1185.2 798.6,1193.8 798.8,1177.9 799.0,1178.9 799.2,1199.0 799.5,1190.5 799.7,1182.5 799.9,1169.5 800.1,1178.4 800.3,1182.0 800.6,1184.1 800.8,1186.1 801.0,1183.0 801.2,1193.3 801.4,1175.9 801.7,1182.6 801.9,1179.7 802.1,1193.8 802.3,1186.1 802.5,1194.0 802.8,1185.3 803.0,1212.7 803.2,1190.1 803.4,1179.1 803.6,1184.7 803.9,1181.8 804.1,1190.4 804.3,1192.0 804.5,1187.6 804.7,1183.5 805.0,1179.8 805.2,1196.8 805.4,1193.2 805.6,1163.0 805.8,1185.4 806.1,1178.6 806.3,1182.1 806.5,1197.5 806.7,1176.5 806.9,1177.2 807.2,1203.2 807.4,1181.4 807.6,1183.2 807.8,1193.5 808.0,1181.2 808.3,1185.3 808.5,1186.9 808.7,1195.5 808.9,1173.0 809.1,1178.9 809.4,1184.1 809.6,1191.9 809.8,1180.3 810.0,1188.5 810.2,1181.3 810.5,1182.2 810.7,1194.6 810.9,1183.4 811.1,1207.2 811.3,1187.8 811.6,1193.5 811.8,1190.7 812.0,1173.6 812.2,1173.7 812.4,1188.8 812.7,1176.9 812.9,1181.1 813.1,1182.7 813.3,1178.3 813.5,1194.0 813.8,1191.0 814.0,1186.5 814.2,1189.3 814.4,1178.4 814.6,1191.7 814.9,1178.9 815.1,1196.8 815.3,1180.2 815.5,1181.1 815.7,1193.8 816.0,1190.0 816.2,1178.1 816.4,1189.7 816.6,1185.2 816.8,1185.3 817.1,1192.6 817.3,1189.8 817.5,1192.8 817.7,1188.8 817.9,1187.7 818.2,1184.5 818.4,1196.4 818.6,1179.5 818.8,1199.5 819.0,1201.5 819.3,1201.4 819.5,1184.3 819.7,1200.9 819.9,1193.8 820.1,1193.3 820.4,1209.8 820.6,1186.8 820.8,1189.6 821.0,1176.0 821.2,1168.8 821.5,1187.5 821.7,1188.5 821.9,1190.6 822.1,1187.6 822.3,1170.6 822.6,1188.1 822.8,1193.7 823.0,1197.0 823.2,1178.3 823.4,1178.7 823.7,1180.2 823.9,1180.6 824.1,1173.3 824.3,1180.3 824.5,1197.1 824.8,1177.5 825.0,1171.5 825.2,1183.3 825.4,1181.6 825.6,1190.4 825.9,1179.8 826.1,1184.0 826.3,1179.1 826.5,1178.1 826.7,1188.1 827.0,1186.2 827.2,1184.9 827.4,1189.2 827.6,1179.2 827.8,1185.5 828.1,1186.8 828.3,1199.3 828.5,1171.3 828.7,1182.7 828.9,1188.6 829.2,1178.4 829.4,1186.0 829.6,1190.4 829.8,1188.9 830.0,1172.5 830.3,1176.4 830.5,1164.4 830.7,1190.2 830.9,1186.9 831.1,1201.3 831.4,1185.7 831.6,1176.8 831.8,1193.3 832.0,1175.5 832.2,1185.3 832.5,1183.8 832.7,1191.1 832.9,1192.1 833.1,1182.2 833.3,1179.9 833.6,1184.9 833.8,1181.0 834.0,1192.4 834.2,1188.1 834.4,1195.7 834.7,1204.7 834.9,1178.9 835.1,1180.9 835.3,1188.9 835.5,1188.3 835.8,1182.8 836.0,1172.6 836.2,1204.2 836.4,1186.0 836.6,1176.6 836.9,1167.5 837.1,1195.7 837.3,1187.8 837.5,1185.4 837.7,1177.6 838.0,1184.6 838.2,1182.4 838.4,1166.7 838.6,1217.1 838.8,1188.6 839.1,1182.8 839.3,1178.1 839.5,1180.8 839.7,1203.3 839.9,1188.2 840.2,1175.4 840.4,1191.9 840.6,1189.0 840.8,1189.2 841.0,1184.3 841.3,1184.0 841.5,1186.9 841.7,1183.7 841.9,1174.8 842.1,1177.8 842.4,1185.3 842.6,1173.4 842.8,1184.3 843.0,1182.9 843.2,1190.7 843.5,1186.5 843.7,1183.0 843.9,1183.1 844.1,1188.5 844.3,1192.2 844.6,1177.3 844.8,1173.8 845.0,1176.3 845.2,1168.1 845.4,1179.4 845.7,1191.5 845.9,1192.6 846.1,1196.7 846.3,1185.7 846.5,1186.4 846.8,1180.8 847.0,1181.4 847.2,1187.4 847.4,1192.0 847.6,1188.4 847.9,1170.1 848.1,1188.9 848.3,1185.3 848.5,1180.8 848.7,1186.3 849.0,1191.9 849.2,1186.3 849.4,1179.8 849.6,1210.1 849.8,1180.5 850.1,1188.6 850.3,1194.6 850.5,1178.8 850.7,1189.3 850.9,1175.0 851.2,1183.2 851.4,1179.5 851.6,1198.3 851.8,1174.9 852.0,1189.0 852.3,1185.4 852.5,1170.4 852.7,1198.0 852.9,1180.9 853.1,1183.2 853.4,1186.8 853.6,1178.4 853.8,1179.4 854.0,1184.9 854.2,1178.6 854.5,1185.9 854.7,1194.5 854.9,1177.6 855.1,1173.4 855.3,1184.1 855.6,1188.1 855.8,1190.1 856.0,1177.0 856.2,1167.6 856.4,1191.6 856.7,1190.4 856.9,1196.3 857.1,1178.0 857.3,1189.3 857.5,1192.6 857.8,1171.5 858.0,1192.9 858.2,1195.7 858.4,1189.4 858.6,1189.1 858.9,1193.8 859.1,1183.2 859.3,1174.5 859.5,1178.3 859.7,1183.8 860.0,1178.8 860.2,1192.7 860.4,1182.1 860.6,1184.3 860.8,1172.0 861.1,1188.0 861.3,1179.9 861.5,1196.2 861.7,1172.4 861.9,1187.5 862.2,1182.1 862.4,1182.4 862.6,1197.7 862.8,1192.2 863.0,1178.8 863.3,1201.5 863.5,1180.3 863.7,1191.0 863.9,1172.3 864.1,1182.7 864.4,1181.6 864.6,1182.7 864.8,1173.4 865.0,1171.1 865.2,1185.0 865.5,1189.6 865.7,1185.4 865.9,1182.6 866.1,1174.0 866.3,1183.1 866.6,1181.0 866.8,1179.8 867.0,1186.4 867.2,1186.4 867.4,1188.1 867.7,1183.2 867.9,1179.0 868.1,1183.7 868.3,1182.8 868.5,1173.0 868.8,1182.5 869.0,1172.9 869.2,1170.6 869.4,1179.1 869.6,1180.4 869.9,1190.2 870.1,1182.8 870.3,1189.0 870.5,1195.7 870.7,1186.0 871.0,1187.9 871.2,1180.0 871.4,1191.1 871.6,1185.7 871.8,1185.6 872.1,1176.8 872.3,1178.2 872.5,1180.2 872.7,1185.9 872.9,1193.1 873.2,1174.0 873.4,1182.4 873.6,1182.8 873.8,1201.8 874.0,1183.6 874.3,1181.2 874.5,1190.6 874.7,1177.0 874.9,1189.1 875.1,1172.8 875.4,1199.9 875.6,1184.8 875.8,1182.0 876.0,1175.5 876.2,1184.0 876.5,1185.7 876.7,1179.8 876.9,1193.9 877.1,1182.7 877.3,1185.8 877.6,1187.2 877.8,1195.1 878.0,1182.3 878.2,1185.7 878.4,1188.5 878.7,1189.7 878.9,1171.7 879.1,1193.6 879.3,1184.3 879.5,1179.9 879.8,1185.0 880.0,1171.1 880.2,1179.6 880.4,1186.6 880.6,1195.2 880.9,1184.6 881.1,1188.1 881.3,1183.1 881.5,1191.6 881.7,1182.3 882.0,1188.6 882.2,1182.8 882.4,1173.9 882.6,1178.0 882.8,1180.6 883.1,1193.8 883.3,1208.6 883.5,1183.8 883.7,1179.9 883.9,1189.2 884.2,1188.9 884.4,1181.4 884.6,1199.4 884.8,1191.8 885.0,1196.4 885.3,1185.8 885.5,1186.3 885.7,1192.5 885.9,1175.2 886.1,1179.5 886.4,1186.1 886.6,1174.7 886.8,1197.4 887.0,1180.9 887.2,1182.3 887.5,1187.8 887.7,1196.5 887.9,1185.1 888.1,1179.8 888.3,1178.6 888.6,1188.2 888.8,1181.2 889.0,1202.8 889.2,1194.7 889.4,1162.3 889.7,1174.6 889.9,1188.1 890.1,1202.4 890.3,1170.7 890.5,1182.3 890.8,1194.3 891.0,1180.4 891.2,1186.0 891.4,1181.9 891.6,1190.4 891.9,1177.5 892.1,1185.8 892.3,1174.9 892.5,1192.7 892.7,1189.9 893.0,1185.3 893.2,1185.8 893.4,1185.7 893.6,1182.8 893.8,1186.7 894.1,1188.2 894.3,1185.0 894.5,1181.2 894.7,1182.6 894.9,1182.2 895.2,1188.9 895.4,1186.7 895.6,1200.0 895.8,1184.3 896.0,1186.1 896.3,1181.0 896.5,1186.3 896.7,1182.3 896.9,1179.3 897.1,1186.8 897.4,1197.2 897.6,1179.3 897.8,1180.9 898.0,1185.3 898.2,1187.5 898.5,1195.1 898.7,1180.9 898.9,1184.0 899.1,1179.8 899.3,1179.2 899.6,1182.1 899.8,1177.4 900.0,1188.8 900.2,1193.2 900.4,1181.8 900.7,1180.4 900.9,1195.2 901.1,1184.0 901.3,1196.3 901.5,1164.4 901.8,1184.3 902.0,1178.1 902.2,1181.6 902.4,1191.4 902.6,1193.4 902.9,1184.2 903.1,1192.3 903.3,1177.3 903.5,1187.5 903.7,1184.4 904.0,1173.1 904.2,1192.1 904.4,1180.6 904.6,1188.7 904.8,1180.0 905.1,1186.8 905.3,1190.0 905.5,1185.5 905.7,1182.1 905.9,1190.0 906.2,1187.1 906.4,1182.5 906.6,1185.9 906.8,1185.0 907.0,1181.6 907.3,1192.2 907.5,1198.3 907.7,1181.9 907.9,1184.8 908.1,1178.8 908.4,1176.0 908.6,1193.9 908.8,1180.8 909.0,1188.1 909.2,1175.8 909.5,1181.0 909.7,1189.1 909.9,1189.1 910.1,1187.4 910.3,1188.7 910.6,1187.3 910.8,1193.0 911.0,1198.0 911.2,1189.8 911.4,1184.9 911.7,1178.3 911.9,1182.2 912.1,1183.4 912.3,1196.2 912.5,1174.5 912.8,1179.9 913.0,1178.2 913.2,1192.0 913.4,1180.7 913.6,1172.4 913.9,1170.8 914.1,1188.0 914.3,1173.9 914.5,1193.7 914.7,1193.4 915.0,1177.5 915.2,1183.2 915.4,1185.8 915.6,1174.8 915.8,1176.7 916.1,1181.0 916.3,1185.4 916.5,1187.6 916.7,1172.0 916.9,1187.4 917.2,1184.8 917.4,1183.7 917.6,1182.3 917.8,1193.1 918.0,1196.9 918.3,1182.3 918.5,1184.4 918.7,1174.1 918.9,1182.7 919.1,1190.6 919.4,1184.9 919.6,1188.2 919.8,1184.9 920.0,1186.4 920.2,1190.5 920.5,1191.3 920.7,1171.6 920.9,1184.2 921.1,1164.7 921.3,1185.9 921.6,1181.9 921.8,1181.6 922.0,1197.2 922.2,1188.5 922.4,1194.1 922.7,1190.5 922.9,1198.2 923.1,1184.2 923.3,1184.1 923.5,1185.3 923.8,1203.7 924.0,1182.9 924.2,1186.2 924.4,1196.0 924.6,1192.7 924.9,1182.5 925.1,1198.7 925.3,1189.5 925.5,1196.6 925.7,1190.5 926.0,1191.7 926.2,1180.7 926.4,1196.4 926.6,1181.0 926.8,1186.7 927.1,1194.0 927.3,1183.7 927.5,1187.0 927.7,1186.2 927.9,1187.3 928.2,1190.4 928.4,1175.3 928.6,1182.3 928.8,1201.1 929.0,1172.0 929.3,1181.5 929.5,1191.9 929.7,1172.8 929.9,1179.9 930.1,1180.4 930.4,1197.5 930.6,1179.9 930.8,1190.7 931.0,1181.6 931.2,1186.3 931.5,1178.0 931.7,1175.6 931.9,1182.8 932.1,1176.2 932.3,1184.9 932.6,1187.6 932.8,1189.2 933.0,1197.3 933.2,1196.5 933.4,1178.2 933.7,1180.8 933.9,1198.4 934.1,1185.8 934.3,1183.4 934.5,1194.0 934.8,1181.7 935.0,1193.0 935.2,1184.1 935.4,1195.6 935.6,1185.2 935.9,1192.2 936.1,1193.9 936.3,1197.9 936.5,1180.5 936.7,1183.5 937.0,1176.0 937.2,1173.8 937.4,1182.7 937.6,1187.4 937.8,1195.3 938.1,1183.3 938.3,1200.1 938.5,1187.6 938.7,1192.7 938.9,1184.5 939.2,1177.2 939.4,1197.7 939.6,1184.2 939.8,1194.3 940.0,1183.7 940.3,1190.6 940.5,1185.2 940.7,1183.8 940.9,1185.2 941.1,1191.2 941.4,1177.6 941.6,1179.3 941.8,1193.4 942.0,1181.0 942.2,1187.7 942.5,1176.6 942.7,1183.8 942.9,1194.2 943.1,1186.9 943.3,1187.8 943.6,1181.7 943.8,1187.0 944.0,1173.5 944.2,1174.5 944.4,1189.3 944.7,1173.6 944.9,1195.7 945.1,1192.4 945.3,1177.6 945.5,1170.6 945.8,1168.8 946.0,1188.5 946.2,1185.6 946.4,1201.7 946.6,1189.7 946.9,1197.5 947.1,1192.6 947.3,1179.5 947.5,1185.0 947.7,1180.2 948.0,1184.0 948.2,1182.6 948.4,1184.6 948.6,1196.1 948.8,1182.3 949.1,1177.7 949.3,1181.7 949.5,1182.8 949.7,1182.1 949.9,1185.1 950.2,1183.2 950.4,1194.3" fill="none" stroke="#000" stroke-width="1.4"/>
<polyline points="79.0,1293.3 79.2,1290.4 79.4,1292.0 79.7,1281.8 79.9,1306.1 80.1,1303.5 80.3,1296.4 80.5,1303.5 80.8,1301.8 81.0,1298.2 81.2,1307.7 81.4,1301.6 81.6,1302.5 81.9,1301.0 82.1,1308.9 82.3,1306.9 82.5,1311.4 82.7,1306.1 83.0,1311.1 83.2,1306.5 83.4,1317.0 83.6,1314.4 83.8,1316.1 84.1,1317.5 84.3,1310.6 84.5,1321.3 84.7,1329.2 84.9,1309.8 85.2,1310.2 85.4,1312.2 85.6,1326.0 85.8,1322.9 86.0,1328.9 86.3,1327.7 86.5,1325.7 86.7,1326.9 86.9,1325.1 87.1,1331.6 87.4,1321.4 87.6,1326.0 87.8,1330.4 88.0,1339.7 88.2,1326.3 88.5,1325.3 88.7,1328.9 88.9,1338.0 89.1,1332.1 89.3,1341.4 89.6,1324.5 89.8,1341.7 90.0,1341.9 90.2,1329.1 90.4,1338.5 90.7,1345.0 90.9,1339.5 91.1,1345.1 91.3,1353.4 91.5,1342.5 91.8,1340.1 92.0,1338.1 92.2,1346.5 92.4,1342.5 92.6,1343.2 92.9,1344.3 93.1,1349.1 93.3,1340.3 93.5,1338.3 93.7,1334.0 94.0,1354.6 94.2,1349.0 94.4,1357.5 94.6,1349.7 94.8,1346.3 95.1,1353.6 95.3,1351.1 95.5,1345.2 95.7,1347.8 95.9,1362.9 96.2,1355.7 96.4,1356.5 96.6,1353.3 96.8,1351.5 97.0,1360.7 97.3,1355.8 97.5,1352.7 97.7,1356.7 97.9,1353.0 98.1,1359.6 98.4,1365.3 98.6,1355.0 98.8,1368.0 99.0,1357.0 99.2,1362.1 99.5,1357.2 99.7,1361.1 99.9,1363.1 100.1,1360.9 100.3,1360.0 100.6,1360.6 100.8,1360.2 101.0,1356.5 101.2,1364.1 101.4,1368.2 101.7,1371.3 101.9,1370.2 102.1,1380.5 102.3,1369.0 102.5,1365.0 102.8,1378.0 103.0,1362.1 103.2,1373.3 103.4,1362.7 103.6,1369.9 103.9,1357.1 104.1,1372.8 104.3,1366.8 104.5,1362.1 104.7,1376.4 105.0,1371.1 105.2,1366.9 105.4,1362.2 105.6,1365.6 105.8,1364.5 106.1,1369.0 106.3,1368.9 106.5,1360.3 106.7,1360.5 106.9,1360.0 107.2,1354.9 107.4,1358.5 107.6,1360.6 107.8,1364.3 108.0,1367.1 108.3,1354.7 108.5,1361.4 108.7,1355.1 108.9,1368.0 109.1,1355.2 109.4,1357.0 109.6,1347.6 109.8,1346.7 110.0,1350.3 110.2,1345.1 110.5,1347.0 110.7,1334.3 110.9,1344.5 111.1,1334.0 111.3,1346.4 111.6,1333.2 111.8,1338.5 112.0,1322.4 112.2,1328.4 112.4,1323.3 112.7,1321.4 112.9,1319.6 113.1,1316.0 113.3,1314.2 113.5,1312.2 113.8,1309.0 114.0,1304.5 114.2,1298.9 114.4,1296.9 114.6,1295.1 114.9,1288.2 115.1,1290.6 115.3,1285.3 115.5,1281.9 115.7,1280.7 116.0,1276.6 116.2,1272.2 116.4,1266.2 116.6,1265.0 116.8,1261.4 117.1,1255.4 117.3,1255.5 117.5,1250.0 118.0,1242.4 118.6,1234.9 119.1,1227.5 119.7,1219.9 120.2,1212.1 120.7,1204.0 121.2,1193.9 121.7,1183.3 122.1,1172.4 122.6,1161.4 123.0,1150.6 123.5,1140.0 124.0,1130.3 124.6,1120.9 125.2,1111.5 125.7,1102.1 126.3,1092.6 126.8,1083.0 127.3,1072.6 127.8,1062.1 128.2,1051.4 128.6,1040.8 129.1,1030.3 129.5,1020.0 129.9,1010.5 130.3,1000.9 130.7,991.4 131.1,982.2 131.4,973.4 131.8,965.0 132.1,958.1 132.4,950.5 132.6,943.2 132.9,937.0 133.2,932.6 133.5,931.0 133.8,932.6 134.1,937.0 134.5,943.2 134.8,950.5 135.1,958.1 135.4,965.0 135.8,973.4 136.1,982.2 136.5,991.4 136.8,1000.9 137.1,1010.5 137.4,1020.0 137.7,1030.3 138.0,1040.8 138.2,1051.4 138.5,1062.1 138.7,1072.6 139.0,1083.0 139.3,1092.6 139.5,1102.1 139.8,1111.5 140.0,1120.9 140.3,1130.3 140.5,1140.0 140.7,1150.6 141.0,1161.4 141.2,1172.4 141.4,1183.3 141.7,1193.9 142.0,1204.0 142.3,1212.1 142.6,1219.9 143.0,1227.5 143.3,1234.9 143.7,1242.4 144.0,1250.0 144.2,1257.1 144.4,1253.2 144.6,1262.4 144.9,1264.8 145.1,1269.1 145.3,1273.5 145.5,1274.4 145.7,1281.4 146.0,1284.1 146.2,1294.9 146.4,1293.2 146.6,1295.7 146.8,1299.4 147.1,1302.7 147.3,1306.1 147.5,1311.5 147.7,1317.2 147.9,1320.2 148.2,1326.2 148.4,1327.9 148.6,1331.8 148.8,1337.6 149.0,1338.9 149.3,1339.9 149.5,1343.0 149.7,1346.7 149.9,1351.2 150.1,1348.8 150.4,1350.8 150.6,1358.6 150.8,1351.2 151.0,1355.7 151.2,1362.9 151.5,1363.0 151.7,1362.1 151.9,1366.3 152.1,1350.8 152.3,1370.7 152.6,1362.5 152.8,1360.4 153.0,1371.0 153.2,1374.2 153.4,1370.0 153.7,1368.1 153.9,1374.6 154.1,1375.3 154.3,1383.4 154.5,1381.4 154.8,1379.8 155.0,1385.3 155.2,1380.0 155.4,1377.6 155.6,1385.8 155.9,1386.8 156.1,1383.9 156.3,1382.2 156.5,1388.0 156.7,1375.8 157.0,1392.0 157.2,1392.0 157.4,1382.6 157.6,1391.6 157.8,1387.6 158.1,1396.7 158.3,1384.1 158.5,1390.3 158.7,1398.9 158.9,1401.8 159.2,1386.7 159.4,1395.5 159.6,1400.2 159.8,1396.4 160.0,1407.7 160.3,1395.1 160.5,1403.3 160.7,1397.3 160.9,1409.8 161.1,1403.7 161.4,1402.7 161.6,1397.0 161.8,1414.0 162.0,1410.3 162.2,1411.0 162.5,1413.5 162.7,1410.4 162.9,1406.4 163.1,1406.3 163.3,1407.0 163.6,1418.0 163.8,1405.1 164.0,1409.9 164.2,1411.8 164.4,1415.0 164.7,1417.3 164.9,1409.2 165.1,1407.4 165.3,1416.2 165.5,1422.6 165.8,1421.0 166.0,1418.9 166.2,1416.9 166.4,1420.3 166.6,1418.2 166.9,1423.8 167.1,1416.5 167.3,1421.4 167.5,1420.7 167.7,1424.3 168.0,1423.2 168.2,1434.7 168.4,1430.1 168.6,1430.5 168.8,1414.0 169.1,1422.5 169.3,1421.6 169.5,1427.4 169.7,1414.3 169.9,1431.2 170.2,1431.0 170.4,1420.0 170.6,1421.9 170.8,1423.1 171.0,1427.5 171.3,1430.6 171.5,1437.7 171.7,1427.3 171.9,1432.2 172.1,1430.0 172.4,1437.5 172.6,1433.0 172.8,1436.3 173.0,1424.9 173.2,1429.4 173.5,1426.7 173.7,1438.1 173.9,1434.3 174.1,1429.1 174.3,1429.6 174.6,1434.3 174.8,1428.9 175.0,1428.1 175.2,1435.1 175.4,1444.8 175.7,1432.1 175.9,1430.9 176.1,1428.2 176.3,1427.7 176.5,1436.9 176.8,1438.7 177.0,1434.9 177.2,1436.7 177.4,1435.9 177.6,1436.2 177.9,1428.5 178.1,1433.9 178.3,1436.8 178.5,1432.8 178.7,1434.5 179.0,1433.1 179.2,1435.6 179.4,1441.5 179.6,1435.7 179.8,1437.2 180.1,1442.0 180.3,1441.4 180.5,1446.6 180.7,1428.8 180.9,1443.1 181.2,1436.9 181.4,1440.1 181.6,1443.6 181.8,1445.0 182.0,1445.0 182.3,1441.0 182.5,1448.1 182.7,1439.3 182.9,1440.2 183.1,1444.9 183.4,1438.6 183.6,1451.7 183.8,1446.5 184.0,1452.2 184.2,1441.9 184.5,1440.4 184.7,1443.2 184.9,1446.1 185.1,1440.0 185.3,1444.8 185.6,1443.1 185.8,1455.7 186.0,1440.3 186.2,1448.7 186.4,1440.8 186.7,1439.4 186.9,1440.8 187.1,1438.7 187.3,1445.3 187.5,1449.6 187.8,1446.1 188.0,1448.0 188.2,1453.0 188.4,1446.7 188.6,1446.5 188.9,1444.4 189.1,1438.2 189.3,1449.7 189.5,1437.8 189.7,1449.5 190.0,1446.4 190.2,1452.0 190.4,1446.5 190.6,1443.0 190.8,1448.8 191.1,1444.6 191.3,1446.6 191.5,1447.8 191.7,1447.1 191.9,1447.0 192.2,1444.0 192.4,1447.2 192.6,1438.1 192.8,1447.7 193.0,1439.4 193.3,1454.0 193.5,1454.9 193.7,1439.6 193.9,1449.8 194.1,1448.6 194.4,1444.3 194.6,1452.0 194.8,1447.4 195.0,1441.3 195.2,1448.5 195.5,1448.8 195.7,1450.5 195.9,1444.3 196.1,1453.2 196.3,1453.9 196.6,1441.8 196.8,1447.5 197.0,1450.3 197.2,1448.1 197.4,1459.2 197.7,1452.0 197.9,1446.3 198.1,1447.5 198.3,1451.1 198.5,1462.4 198.8,1450.7 199.0,1452.3 199.2,1455.7 199.4,1451.7 199.6,1462.8 199.9,1449.5 200.1,1455.7 200.3,1453.0 200.5,1455.3 200.7,1446.8 201.0,1460.9 201.2,1452.0 201.4,1452.9 201.6,1448.3 201.8,1447.3 202.1,1455.6 202.3,1457.7 202.5,1456.7 202.7,1459.0 202.9,1456.7 203.2,1453.5 203.4,1457.5 203.6,1456.4 203.8,1452.9 204.0,1457.2 204.3,1459.9 204.5,1455.0 204.7,1452.3 204.9,1457.5 205.1,1463.2 205.4,1453.2 205.6,1453.8 205.8,1453.7 206.0,1460.3 206.2,1445.8 206.5,1456.3 206.7,1460.3 206.9,1450.9 207.1,1461.9 207.3,1457.4 207.6,1452.3 207.8,1456.0 208.0,1447.8 208.2,1452.5 208.4,1463.9 208.7,1451.1 208.9,1464.2 209.1,1455.1 209.3,1460.3 209.5,1455.8 209.8,1445.0 210.0,1453.0 210.2,1456.7 210.4,1450.4 210.6,1449.5 210.9,1457.8 211.1,1453.0 211.3,1448.1 211.5,1451.0 211.7,1462.8 212.0,1454.1 212.2,1460.9 212.4,1463.8 212.6,1456.7 212.8,1451.3 213.1,1450.5 213.3,1456.6 213.5,1461.0 213.7,1458.2 213.9,1459.6 214.2,1454.9 214.4,1458.5 214.6,1454.9 214.8,1455.7 215.0,1451.2 215.3,1449.9 215.5,1455.1 215.7,1452.2 215.9,1453.0 216.1,1460.8 216.4,1457.2 216.6,1471.6 216.8,1462.2 217.0,1454.9 217.2,1461.6 217.5,1459.7 217.7,1454.8 217.9,1463.4 218.1,1454.5 218.3,1443.7 218.6,1462.1 218.8,1455.5 219.0,1465.5 219.2,1455.4 219.4,1453.0 219.7,1466.0 219.9,1453.6 220.1,1459.7 220.3,1465.7 220.5,1459.4 220.8,1458.5 221.0,1459.5 221.2,1463.0 221.4,1453.0 221.6,1462.0 221.9,1461.9 222.1,1470.3 222.3,1456.7 222.5,1455.0 222.7,1462.9 223.0,1457.6 223.2,1460.9 223.4,1460.2 223.6,1465.1 223.8,1456.5 224.1,1459.2 224.3,1447.6 224.5,1453.0 224.7,1467.1 224.9,1456.6 225.2,1456.6 225.4,1454.2 225.6,1462.7 225.8,1460.9 226.0,1454.5 226.3,1463.3 226.5,1461.4 226.7,1463.8 226.9,1457.2 227.1,1468.5 227.4,1462.3 227.6,1459.8 227.8,1457.9 228.0,1459.3 228.2,1464.6 228.5,1459.2 228.7,1465.7 228.9,1463.4 229.1,1467.0 229.3,1464.5 229.6,1460.4 229.8,1451.7 230.0,1462.2 230.2,1464.6 230.4,1461.6 230.7,1463.5 230.9,1458.7 231.1,1458.1 231.3,1456.5 231.5,1467.5 231.8,1461.8 232.0,1458.8 232.2,1454.8 232.4,1460.5 232.6,1468.1 232.9,1463.5 233.1,1457.9 233.3,1468.1 233.5,1468.1 233.7,1466.1 234.0,1465.2 234.2,1467.0 234.4,1464.1 234.6,1465.2 234.8,1457.9 235.1,1468.7 235.3,1462.8 235.5,1471.3 235.7,1452.1 235.9,1465.1 236.2,1466.5 236.4,1460.2 236.6,1464.0 236.8,1467.6 237.0,1464.7 237.3,1459.5 237.5,1461.4 237.7,1466.9 237.9,1468.2 238.1,1462.6 238.4,1462.6 238.6,1463.2 238.8,1467.2 239.0,1457.3 239.2,1456.1 239.5,1463.4 239.7,1457.2 239.9,1459.7 240.1,1463.0 240.3,1464.9 240.6,1457.6 240.8,1466.5 241.0,1454.3 241.2,1465.4 241.4,1450.9 241.7,1456.8 241.9,1466.0 242.1,1461.0 242.3,1459.2 242.5,1461.0 242.8,1465.3 243.0,1462.9 243.2,1463.1 243.4,1468.3 243.6,1459.9 243.9,1461.1 244.1,1461.0 244.3,1469.0 244.5,1468.2 244.7,1469.7 245.0,1463.5 245.2,1463.0 245.4,1467.8 245.6,1462.0 245.8,1467.8 246.1,1469.4 246.3,1460.7 246.5,1463.7 246.7,1463.6 246.9,1472.4 247.2,1476.5 247.4,1463.8 247.6,1464.4 247.8,1453.7 248.0,1465.5 248.3,1464.6 248.5,1459.6 248.7,1468.4 248.9,1457.4 249.1,1463.8 249.4,1465.6 249.6,1459.1 249.8,1469.1 250.0,1470.1 250.2,1458.7 250.5,1458.6 250.7,1468.2 250.9,1465.3 251.1,1459.8 251.3,1464.2 251.6,1465.1 251.8,1465.0 252.0,1469.7 252.2,1467.7 252.4,1474.3 252.7,1472.5 252.9,1469.3 253.1,1471.3 253.3,1472.5 253.5,1469.7 253.8,1460.6 254.0,1470.5 254.2,1466.9 254.4,1474.3 254.6,1467.1 254.9,1469.3 255.1,1468.4 255.3,1479.6 255.5,1467.8 255.7,1465.8 256.0,1468.6 256.2,1465.2 256.4,1468.1 256.6,1467.4 256.8,1468.7 257.1,1476.6 257.3,1465.7 257.5,1467.9 257.7,1466.8 257.9,1471.0 258.2,1462.3 258.4,1464.7 258.6,1467.9 258.8,1470.7 259.0,1468.0 259.3,1465.9 259.5,1464.3 259.7,1470.9 259.9,1475.3 260.1,1470.1 260.4,1469.6 260.6,1470.8 260.8,1464.4 261.0,1467.4 261.2,1467.7 261.5,1470.4 261.7,1468.9 261.9,1463.4 262.1,1474.5 262.3,1477.3 262.6,1468.1 262.8,1471.3 263.0,1470.8 263.2,1473.3 263.4,1462.7 263.7,1477.3 263.9,1467.6 264.1,1475.8 264.3,1470.3 264.5,1468.1 264.8,1469.4 265.0,1474.3 265.2,1466.1 265.4,1468.4 265.6,1468.0 265.9,1462.2 266.1,1476.5 266.3,1473.2 266.5,1470.4 266.7,1476.0 267.0,1466.1 267.2,1470.3 267.4,1478.8 267.6,1475.4 267.8,1460.3 268.1,1455.2 268.3,1466.0 268.5,1476.0 268.7,1468.8 268.9,1470.0 269.2,1474.0 269.4,1467.0 269.6,1472.2 269.8,1475.0 270.0,1473.5 270.3,1473.2 270.5,1468.5 270.7,1473.8 270.9,1469.4 271.1,1477.6 271.4,1483.6 271.6,1468.1 271.8,1461.3 272.0,1469.6 272.2,1473.4 272.5,1476.6 272.7,1476.8 272.9,1468.0 273.1,1468.0 273.3,1477.8 273.6,1466.7 273.8,1477.0 274.0,1470.8 274.2,1475.5 274.4,1475.2 274.7,1475.6 274.9,1475.8 275.1,1467.3 275.3,1473.4 275.5,1472.1 275.8,1473.5 276.0,1481.4 276.2,1470.8 276.4,1468.8 276.6,1468.7 276.9,1469.8 277.1,1475.7 277.3,1468.3 277.5,1477.6 277.7,1473.6 278.0,1471.2 278.2,1466.0 278.4,1473.4 278.6,1475.5 278.8,1464.0 279.1,1477.9 279.3,1480.0 279.5,1473.9 279.7,1474.6 279.9,1483.7 280.2,1478.1 280.4,1468.1 280.6,1472.3 280.8,1471.6 281.0,1471.7 281.3,1461.3 281.5,1475.9 281.7,1469.4 281.9,1473.2 282.1,1471.8 282.4,1476.5 282.6,1471.0 282.8,1468.7 283.0,1474.9 283.2,1479.0 283.5,1470.9 283.7,1478.9 283.9,1473.7 284.1,1469.9 284.3,1479.6 284.6,1468.6 284.8,1477.2 285.0,1470.1 285.2,1474.6 285.4,1466.7 285.7,1468.5 285.9,1477.5 286.1,1473.4 286.3,1472.7 286.5,1470.4 286.8,1474.6 287.0,1465.9 287.2,1467.2 287.4,1471.8 287.6,1468.6 287.9,1469.2 288.1,1472.2 288.3,1471.9 288.5,1471.5 288.7,1480.3 289.0,1477.3 289.2,1478.3 289.4,1472.4 289.6,1470.1 289.8,1465.7 290.1,1470.9 290.3,1462.7 290.5,1469.8 290.7,1476.1 290.9,1480.1 291.2,1477.1 291.4,1468.5 291.6,1474.9 291.8,1468.8 292.0,1476.4 292.3,1472.0 292.5,1476.6 292.7,1484.6 292.9,1476.9 293.1,1483.5 293.4,1473.4 293.6,1471.0 293.8,1478.8 294.0,1480.7 294.2,1470.0 294.5,1473.0 294.7,1465.9 294.9,1471.7 295.1,1476.8 295.3,1472.2 295.6,1470.0 295.8,1466.0 296.0,1474.4 296.2,1476.4 296.4,1475.5 296.7,1473.9 296.9,1466.7 297.1,1481.0 297.3,1472.4 297.5,1472.0 297.8,1476.2 298.0,1462.6 298.2,1472.5 298.4,1472.1 298.6,1474.5 298.9,1479.1 299.1,1475.0 299.3,1464.2 299.5,1471.2 299.7,1474.4 300.0,1473.5 300.2,1466.8 300.4,1465.1 300.6,1475.4 300.8,1474.5 301.1,1472.8 301.3,1464.8 301.5,1481.2 301.7,1459.3 301.9,1471.2 302.2,1482.7 302.4,1472.2 302.6,1474.0 302.8,1467.4 303.0,1479.3 303.3,1466.9 303.5,1474.2 303.7,1473.6 303.9,1468.1 304.1,1477.2 304.4,1466.4 304.6,1469.8 304.8,1472.9 305.0,1471.1 305.2,1475.2 305.5,1477.4 305.7,1471.7 305.9,1470.5 306.1,1470.7 306.3,1471.4 306.6,1476.9 306.8,1472.1 307.0,1475.0 307.2,1472.7 307.4,1469.2 307.7,1477.2 307.9,1468.3 308.1,1473.2 308.3,1480.1 308.5,1468.1 308.8,1472.9 309.0,1465.8 309.2,1470.8 309.4,1466.2 309.6,1471.5 309.9,1470.7 310.1,1473.9 310.3,1480.7 310.5,1474.6 310.7,1476.4 311.0,1473.1 311.2,1472.2 311.4,1469.4 311.6,1464.9 311.8,1473.7 312.1,1481.0 312.3,1475.6 312.5,1470.9 312.7,1481.1 312.9,1471.4 313.2,1470.5 313.4,1464.3 313.6,1468.9 313.8,1472.3 314.0,1482.8 314.3,1472.5 314.5,1468.6 314.7,1470.6 314.9,1472.4 315.1,1465.5 315.4,1474.1 315.6,1476.8 315.8,1475.9 316.0,1476.3 316.2,1467.5 316.5,1465.6 316.7,1483.2 316.9,1478.7 317.1,1466.4 317.3,1474.6 317.6,1473.7 317.8,1476.2 318.0,1474.6 318.2,1471.3 318.4,1474.6 318.7,1474.4 318.9,1473.5 319.1,1465.1 319.3,1459.7 319.5,1470.0 319.8,1461.5 320.0,1474.9 320.2,1477.1 320.4,1475.0 320.6,1472.1 320.9,1474.3 321.1,1479.3 321.3,1470.4 321.5,1478.2 321.7,1477.2 322.0,1475.1 322.2,1480.7 322.4,1470.6 322.6,1478.3 322.8,1469.6 323.1,1470.4 323.3,1469.0 323.5,1476.1 323.7,1469.6 323.9,1474.3 324.2,1468.8 324.4,1482.0 324.6,1482.7 324.8,1475.2 325.0,1481.8 325.3,1476.8 325.5,1484.3 325.7,1474.7 325.9,1466.9 326.1,1481.2 326.4,1473.7 326.6,1469.4 326.8,1471.2 327.0,1466.7 327.2,1473.5 327.5,1469.3 327.7,1481.3 327.9,1477.5 328.1,1466.7 328.3,1467.4 328.6,1471.8 328.8,1465.5 329.0,1474.0 329.2,1474.3 329.4,1470.9 329.7,1472.0 329.9,1476.9 330.1,1481.2 330.3,1481.6 330.5,1474.8 330.8,1478.6 331.0,1471.2 331.2,1476.6 331.4,1470.2 331.6,1478.1 331.9,1465.5 332.1,1470.3 332.3,1474.8 332.5,1477.4 332.7,1468.2 333.0,1472.4 333.2,1475.5 333.4,1476.0 333.6,1471.0 333.8,1475.4 334.1,1473.7 334.3,1481.6 334.5,1477.6 334.7,1468.9 334.9,1464.8 335.2,1475.9 335.4,1480.6 335.6,1476.0 335.8,1479.3 336.0,1472.9 336.3,1468.9 336.5,1478.7 336.7,1475.7 336.9,1478.5 337.1,1468.9 337.4,1476.2 337.6,1472.5 337.8,1479.2 338.0,1472.7 338.2,1472.6 338.5,1472.7 338.7,1481.4 338.9,1475.7 339.1,1472.0 339.3,1470.8 339.6,1470.7 339.8,1482.4 340.0,1467.2 340.2,1469.3 340.4,1478.7 340.7,1481.2 340.9,1475.1 341.1,1479.4 341.3,1479.3 341.5,1480.4 341.8,1476.1 342.0,1483.6 342.2,1476.9 342.4,1483.1 342.6,1470.9 342.9,1480.4 343.1,1470.2 343.3,1469.1 343.5,1478.5 343.7,1472.3 344.0,1478.3 344.2,1471.3 344.4,1483.8 344.6,1476.5 344.8,1471.1 345.1,1477.2 345.3,1480.5 345.5,1470.8 345.7,1478.9 345.9,1486.0 346.2,1480.6 346.4,1476.5 346.6,1474.0 346.8,1479.3 347.0,1469.6 347.3,1462.5 347.5,1473.6 347.7,1471.7 347.9,1484.9 348.1,1477.4 348.4,1472.2 348.6,1471.4 348.8,1479.2 349.0,1473.0 349.2,1474.2 349.5,1476.5 349.7,1477.4 349.9,1477.5 350.1,1477.6 350.3,1483.1 350.6,1485.0 350.8,1469.4 351.0,1489.1 351.2,1477.8 351.4,1483.0 351.7,1473.8 351.9,1478.7 352.1,1478.2 352.3,1477.8 352.5,1481.3 352.8,1480.2 353.0,1472.7 353.2,1476.8 353.4,1480.8 353.6,1480.6 353.9,1475.8 354.1,1476.1 354.3,1476.7 354.5,1472.3 354.7,1471.5 355.0,1484.8 355.2,1475.7 355.4,1478.0 355.6,1474.1 355.8,1483.6 356.1,1485.7 356.3,1476.6 356.5,1480.0 356.7,1474.1 356.9,1485.8 357.2,1481.9 357.4,1473.8 357.6,1483.5 357.8,1479.4 358.0,1479.6 358.3,1479.4 358.5,1474.6 358.7,1475.2 358.9,1480.6 359.1,1477.5 359.4,1473.4 359.6,1487.2 359.8,1476.4 360.0,1475.2 360.2,1474.6 360.5,1481.0 360.7,1482.4 360.9,1479.0 361.1,1481.9 361.3,1470.9 361.6,1476.2 361.8,1475.7 362.0,1478.0 362.2,1480.2 362.4,1468.5 362.7,1492.5 362.9,1474.0 363.1,1479.6 363.3,1481.8 363.5,1482.0 363.8,1479.1 364.0,1464.5 364.2,1473.0 364.4,1481.6 364.6,1473.8 364.9,1473.2 365.1,1460.7 365.3,1483.7 365.5,1480.5 365.7,1474.0 366.0,1477.5 366.2,1477.7 366.4,1473.0 366.6,1476.9 366.8,1479.3 367.1,1480.7 367.3,1484.1 367.5,1478.3 367.7,1476.1 367.9,1480.1 368.2,1475.3 368.4,1472.5 368.6,1483.6 368.8,1476.5 369.0,1478.9 369.3,1481.4 369.5,1473.2 369.7,1481.4 369.9,1480.5 370.1,1478.0 370.4,1480.3 370.6,1475.0 370.8,1468.3 371.0,1476.5 371.2,1474.4 371.5,1482.6 371.7,1479.9 371.9,1476.2 372.1,1478.9 372.3,1485.0 372.6,1484.0 372.8,1480.5 373.0,1480.8 373.2,1477.6 373.4,1478.3 373.7,1481.7 373.9,1478.4 374.1,1480.4 374.3,1473.9 374.5,1471.4 374.8,1471.3 375.0,1477.1 375.2,1485.4 375.4,1484.7 375.6,1474.7 375.9,1472.1 376.1,1485.3 376.3,1481.6 376.5,1473.1 376.7,1484.4 377.0,1480.4 377.2,1485.7 377.4,1481.2 377.6,1483.8 377.8,1481.2 378.1,1475.4 378.3,1478.8 378.5,1476.8 378.7,1483.8 378.9,1475.4 379.2,1473.0 379.4,1483.3 379.6,1485.5 379.8,1486.9 380.0,1485.3 380.3,1473.4 380.5,1477.2 380.7,1477.9 380.9,1480.4 381.1,1470.6 381.4,1480.6 381.6,1482.0 381.8,1476.4 382.0,1481.4 382.2,1486.4 382.5,1481.2 382.7,1485.9 382.9,1485.8 383.1,1483.0 383.3,1483.0 383.6,1479.5 383.8,1490.5 384.0,1479.2 384.2,1478.2 384.4,1484.8 384.7,1478.2 384.9,1483.6 385.1,1486.6 385.3,1482.2 385.5,1482.4 385.8,1486.2 386.0,1485.5 386.2,1475.0 386.4,1476.1 386.6,1488.4 386.9,1484.1 387.1,1472.8 387.3,1476.2 387.5,1482.7 387.7,1475.4 388.0,1484.9 388.2,1483.1 388.4,1485.1 388.6,1477.5 388.8,1485.9 389.1,1492.1 389.3,1479.5 389.5,1489.3 389.7,1487.8 389.9,1486.4 390.2,1483.2 390.4,1478.2 390.6,1479.6 390.8,1487.2 391.0,1488.3 391.3,1489.5 391.5,1488.4 391.7,1488.2 391.9,1482.1 392.1,1478.6 392.4,1485.2 392.6,1486.6 392.8,1484.8 393.0,1477.4 393.2,1482.1 393.5,1477.8 393.7,1485.3 393.9,1479.9 394.1,1484.0 394.3,1486.4 394.6,1485.6 394.8,1491.3 395.0,1480.0 395.2,1475.1 395.4,1489.6 395.7,1491.8 395.9,1492.0 396.1,1486.8 396.3,1488.0 396.5,1486.2 396.8,1479.7 397.0,1483.1 397.2,1488.1 397.4,1483.2 397.6,1494.8 397.9,1478.9 398.1,1484.1 398.3,1491.3 398.5,1481.8 398.7,1481.1 399.0,1480.1 399.2,1481.2 399.4,1493.5 399.6,1488.4 399.8,1489.0 400.1,1484.3 400.3,1490.6 400.5,1487.3 400.7,1482.6 400.9,1484.9 401.2,1487.9 401.4,1492.5 401.6,1486.8 401.8,1489.5 402.0,1496.5 402.3,1483.6 402.5,1481.6 402.7,1491.9 402.9,1489.5 403.1,1487.1 403.4,1488.8 403.6,1486.1 403.8,1490.1 404.0,1486.2 404.2,1491.5 404.5,1482.5 404.7,1484.1 404.9,1488.5 405.1,1485.8 405.3,1491.3 405.6,1487.9 405.8,1485.7 406.0,1489.2 406.2,1485.9 406.4,1481.2 406.7,1483.2 406.9,1484.8 407.1,1486.3 407.3,1489.0 407.5,1492.8 407.8,1491.2 408.0,1496.9 408.2,1494.7 408.4,1488.0 408.6,1496.5 408.9,1494.4 409.1,1486.9 409.3,1490.5 409.5,1494.2 409.7,1490.3 410.0,1493.9 410.2,1491.1 410.4,1492.6 410.6,1487.9 410.8,1491.2 411.1,1487.8 411.3,1492.7 411.5,1481.8 411.7,1491.2 411.9,1495.5 412.2,1492.4 412.4,1489.7 412.6,1492.3 412.8,1486.0 413.0,1486.1 413.3,1488.4 413.5,1489.4 413.7,1494.6 413.9,1486.0 414.1,1494.8 414.4,1483.0 414.6,1486.7 414.8,1490.2 415.0,1495.7 415.2,1487.6 415.5,1480.6 415.7,1492.5 415.9,1490.5 416.1,1485.7 416.3,1485.9 416.6,1487.5 416.8,1491.2 417.0,1493.9 417.2,1484.1 417.4,1501.4 417.7,1490.8 417.9,1489.3 418.1,1494.1 418.3,1491.6 418.5,1501.9 418.8,1496.2 419.0,1489.5 419.2,1489.5 419.4,1489.0 419.6,1489.8 419.9,1494.5 420.1,1488.4 420.3,1498.9 420.5,1491.0 420.7,1490.9 421.0,1495.9 421.2,1477.2 421.4,1487.4 421.6,1494.4 421.8,1491.8 422.1,1491.7 422.3,1493.6 422.5,1489.1 422.7,1491.1 422.9,1485.7 423.2,1483.3 423.4,1497.8 423.6,1487.7 423.8,1488.8 424.0,1498.5 424.3,1497.0 424.5,1489.7 424.7,1488.4 424.9,1491.8 425.1,1487.8 425.4,1494.8 425.6,1493.0 425.8,1492.9 426.0,1495.8 426.2,1495.7 426.5,1500.9 426.7,1503.7 426.9,1484.6 427.1,1496.6 427.3,1487.4 427.6,1486.0 427.8,1495.8 428.0,1489.4 428.2,1491.2 428.4,1497.5 428.7,1489.6 428.9,1488.6 429.1,1494.2 429.3,1498.3 429.5,1495.2 429.8,1485.6 430.0,1489.8 430.2,1492.1 430.4,1501.7 430.6,1497.0 430.9,1496.8 431.1,1498.4 431.3,1491.5 431.5,1495.1 431.7,1495.2 432.0,1488.5 432.2,1492.9 432.4,1495.6 432.6,1488.1 432.8,1496.8 433.1,1496.6 433.3,1497.9 433.5,1489.6 433.7,1493.6 433.9,1499.8 434.2,1499.1 434.4,1489.6 434.6,1494.3 434.8,1499.8 435.0,1492.9 435.3,1495.0 435.5,1505.1 435.7,1493.1 435.9,1492.8 436.1,1488.7 436.4,1490.3 436.6,1500.2 436.8,1492.7 437.0,1487.9 437.2,1489.1 437.5,1493.4 437.7,1496.9 437.9,1490.0 438.1,1496.7 438.3,1491.2 438.6,1495.1 438.8,1495.8 439.0,1496.3 439.2,1491.5 439.4,1492.7 439.7,1495.8 439.9,1487.6 440.1,1494.3 440.3,1495.8 440.5,1498.3 440.8,1493.3 441.0,1492.6 441.2,1494.1 441.4,1490.1 441.6,1492.5 441.9,1495.3 442.1,1494.8 442.3,1485.8 442.5,1492.0 442.7,1483.8 443.0,1497.1 443.2,1491.0 443.4,1495.2 443.6,1488.4 443.8,1493.0 444.1,1495.4 444.3,1497.9 444.5,1487.1 444.7,1497.2 444.9,1492.6 445.2,1489.7 445.4,1495.5 445.6,1491.9 445.8,1491.9 446.0,1490.0 446.3,1494.2 446.5,1493.3 446.7,1492.3 446.9,1488.7 447.1,1490.7 447.4,1494.9 447.6,1498.8 447.8,1492.7 448.0,1499.4 448.2,1492.8 448.5,1487.8 448.7,1495.7 448.9,1488.3 449.1,1494.5 449.3,1497.5 449.6,1491.1 449.8,1492.0 450.0,1503.7 450.2,1493.4 450.4,1493.4 450.7,1495.7 450.9,1491.5 451.1,1491.5 451.3,1493.5 451.5,1480.7 451.8,1497.9 452.0,1486.4 452.2,1486.2 452.4,1493.4 452.6,1490.8 452.9,1484.8 453.1,1491.3 453.3,1481.7 453.5,1486.6 453.7,1482.7 454.0,1485.5 454.2,1490.8 454.4,1489.3 454.6,1489.8 454.8,1492.3 455.1,1487.6 455.3,1484.5 455.5,1485.9 455.7,1494.3 455.9,1486.5 456.2,1487.4 456.4,1484.7 456.6,1486.1 456.8,1486.4 457.0,1483.8 457.3,1482.6 457.5,1479.2 457.7,1478.3 457.9,1483.5 458.1,1484.5 458.4,1487.2 458.6,1480.2 458.8,1475.6 459.0,1481.7 459.2,1481.2 459.5,1471.0 459.7,1481.1 459.9,1479.7 460.1,1484.2 460.3,1471.2 460.6,1470.2 460.8,1479.3 461.0,1467.4 461.2,1472.1 461.4,1470.3 461.7,1470.6 461.9,1466.6 462.1,1474.2 462.3,1479.8 462.5,1477.5 462.8,1477.7 463.0,1474.2 463.2,1482.7 463.4,1478.8 463.6,1481.4 463.9,1469.9 464.1,1478.9 464.3,1472.5 464.5,1479.7 464.7,1479.4 465.0,1473.7 465.2,1480.1 465.4,1485.0 465.6,1482.4 465.8,1483.2 466.1,1477.0 466.3,1478.3 466.5,1476.7 466.7,1482.7 466.9,1487.9 467.2,1484.9 467.4,1483.3 467.6,1478.5 467.8,1486.0 468.0,1483.2 468.3,1475.9 468.5,1472.3 468.7,1483.6 468.9,1481.4 469.1,1493.2 469.4,1486.2 469.6,1478.8 469.8,1484.5 470.0,1498.6 470.2,1483.0 470.5,1491.1 470.7,1490.0 470.9,1495.0 471.1,1491.0 471.3,1487.1 471.6,1491.7 471.8,1489.9 472.0,1494.3 472.2,1490.0 472.4,1499.5 472.7,1490.4 472.9,1493.2 473.1,1488.6 473.3,1492.4 473.5,1492.3 473.8,1493.2 474.0,1496.9 474.2,1490.6 474.4,1489.5 474.6,1501.7 474.9,1492.7 475.1,1491.2 475.3,1499.8 475.5,1498.3 475.7,1483.1 476.0,1493.6 476.2,1499.2 476.4,1499.7 476.6,1493.8 476.8,1503.5 477.1,1493.0 477.3,1495.8 477.5,1497.7 477.7,1497.3 477.9,1501.2 478.2,1502.4 478.4,1497.8 478.6,1504.6 478.8,1493.5 479.0,1497.7 479.3,1506.6 479.5,1499.5 479.7,1504.0 479.9,1497.4 480.1,1498.4 480.4,1499.3 480.6,1500.7 480.8,1498.5 481.0,1500.3 481.2,1503.4 481.5,1506.0 481.7,1501.1 481.9,1503.7 482.1,1505.0 482.3,1496.2 482.6,1494.0 482.8,1508.6 483.0,1507.4 483.2,1501.8 483.4,1503.2 483.7,1497.4 483.9,1495.6 484.1,1503.3 484.3,1495.3 484.5,1506.2 484.8,1499.1 485.0,1503.6 485.2,1511.1 485.4,1511.0 485.6,1501.3 485.9,1507.4 486.1,1498.0 486.3,1500.1 486.5,1504.5 486.7,1509.1 487.0,1498.9 487.2,1505.4 487.4,1503.5 487.6,1497.4 487.8,1502.6 488.1,1510.0 488.3,1502.9 488.5,1505.6 488.7,1507.2 488.9,1500.1 489.2,1509.1 489.4,1510.4 489.6,1510.9 489.8,1509.6 490.0,1501.6 490.3,1501.1 490.5,1500.3 490.7,1499.7 490.9,1500.3 491.1,1508.4 491.4,1510.6 491.6,1501.1 491.8,1507.7 492.0,1498.4 492.2,1502.7 492.5,1499.7 492.7,1496.9 492.9,1504.5 493.1,1504.9 493.3,1502.5 493.6,1502.0 493.8,1499.9 494.0,1503.8 494.2,1501.8 494.4,1505.6 494.7,1499.1 494.9,1505.6 495.1,1506.9 495.3,1510.3 495.5,1509.4 495.8,1505.6 496.0,1499.8 496.2,1496.5 496.4,1504.8 496.6,1511.3 496.9,1512.4 497.1,1493.4 497.3,1501.5 497.5,1503.4 497.7,1500.3 498.0,1505.9 498.2,1505.3 498.4,1502.8 498.6,1505.0 498.8,1498.0 499.1,1500.8 499.3,1501.2 499.5,1509.4 499.7,1498.0 499.9,1504.4 500.2,1509.0 500.4,1505.2 500.6,1511.4 500.8,1502.6 501.0,1507.6 501.3,1509.7 501.5,1515.8 501.7,1509.0 501.9,1512.2 502.1,1505.9 502.4,1506.3 502.6,1513.0 502.8,1510.2 503.0,1512.4 503.2,1509.3 503.5,1515.7 503.7,1517.0 503.9,1502.4 504.1,1514.7 504.3,1508.3 504.6,1508.6 504.8,1505.9 505.0,1509.8 505.2,1501.5 505.4,1503.3 505.7,1503.2 505.9,1508.1 506.1,1511.0 506.3,1512.3 506.5,1508.6 506.8,1504.3 507.0,1499.1 507.2,1509.0 507.4,1507.9 507.6,1508.9 507.9,1513.8 508.1,1506.5 508.3,1506.5 508.5,1497.0 508.7,1510.1 509.0,1507.4 509.2,1504.3 509.4,1509.5 509.6,1503.1 509.8,1505.4 510.1,1516.8 510.3,1511.4 510.5,1512.2 510.7,1511.5 510.9,1511.1 511.2,1509.1 511.4,1518.6 511.6,1508.0 511.8,1511.7 512.0,1507.5 512.3,1506.9 512.5,1497.6 512.7,1494.8 512.9,1515.7 513.1,1515.5 513.4,1506.9 513.6,1508.7 513.8,1511.7 514.0,1504.5 514.2,1517.1 514.5,1504.4 514.7,1505.9 514.9,1496.7 515.1,1516.2 515.3,1509.6 515.6,1516.8 515.8,1505.0 516.0,1511.1 516.2,1510.0 516.4,1510.6 516.7,1519.1 516.9,1520.0 517.1,1516.1 517.3,1508.1 517.5,1514.0 517.8,1516.1 518.0,1512.6 518.2,1512.7 518.4,1512.4 518.6,1506.2 518.9,1511.4 519.1,1517.6 519.3,1505.9 519.5,1510.9 519.7,1514.3 520.0,1504.4 520.2,1510.0 520.4,1503.0 520.6,1508.0 520.8,1504.5 521.1,1506.8 521.3,1508.7 521.5,1509.7 521.7,1510.1 521.9,1500.2 522.2,1518.3 522.4,1509.9 522.6,1506.3 522.8,1508.4 523.0,1512.7 523.3,1506.8 523.5,1509.5 523.7,1509.3 523.9,1515.4 524.1,1508.2 524.4,1513.7 524.6,1513.2 524.8,1511.0 525.0,1517.4 525.2,1511.9 525.5,1506.5 525.7,1513.2 525.9,1512.5 526.1,1511.8 526.3,1513.1 526.6,1522.7 526.8,1513.2 527.0,1514.2 527.2,1511.1 527.4,1518.2 527.7,1512.0 527.9,1508.7 528.1,1506.9 528.3,1516.2 528.5,1515.8 528.8,1505.3 529.0,1509.3 529.2,1515.5 529.4,1517.3 529.6,1506.7 529.9,1510.9 530.1,1518.8 530.3,1510.4 530.5,1510.8 530.7,1510.4 531.0,1507.0 531.2,1513.1 531.4,1514.3 531.6,1506.7 531.8,1513.5 532.1,1518.1 532.3,1514.0 532.5,1517.4 532.7,1510.7 532.9,1519.4 533.2,1509.7 533.4,1521.8 533.6,1511.3 533.8,1510.1 534.0,1509.3 534.3,1511.5 534.5,1511.2 534.7,1510.4 534.9,1512.0 535.1,1516.5 535.4,1517.5 535.6,1512.1 535.8,1522.5 536.0,1509.1 536.2,1509.0 536.5,1508.6 536.7,1516.4 536.9,1506.8 537.1,1507.5 537.3,1519.6 537.6,1521.6 537.8,1519.9 538.0,1507.2 538.2,1514.0 538.4,1517.7 538.7,1514.4 538.9,1506.7 539.1,1512.5 539.3,1506.4 539.5,1508.5 539.8,1523.8 540.0,1517.2 540.2,1507.5 540.4,1507.4 540.6,1516.3 540.9,1511.5 541.1,1516.9 541.3,1511.4 541.5,1513.4 541.7,1515.4 542.0,1509.7 542.2,1505.7 542.4,1509.0 542.6,1511.3 542.8,1513.5 543.1,1514.2 543.3,1514.2 543.5,1516.8 543.7,1510.5 543.9,1520.9 544.2,1523.6 544.4,1516.3 544.6,1515.5 544.8,1520.3 545.0,1517.6 545.3,1515.5 545.5,1514.0 545.7,1511.4 545.9,1509.5 546.1,1517.8 546.4,1520.2 546.6,1510.1 546.8,1514.5 547.0,1515.9 547.2,1513.0 547.5,1511.5 547.7,1513.2 547.9,1506.1 548.1,1514.7 548.3,1513.7 548.6,1524.6 548.8,1519.3 549.0,1513.5 549.2,1515.1 549.4,1522.8 549.7,1522.4 549.9,1516.0 550.1,1514.6 550.3,1508.7 550.5,1513.7 550.8,1514.5 551.0,1512.0 551.2,1523.1 551.4,1506.9 551.6,1514.7 551.9,1517.2 552.1,1517.3 552.3,1523.0 552.5,1509.1 552.7,1510.0 553.0,1515.9 553.2,1516.1 553.4,1513.7 553.6,1512.1 553.8,1520.3 554.1,1510.8 554.3,1513.0 554.5,1522.0 554.7,1523.4 554.9,1519.5 555.2,1511.8 555.4,1511.8 555.6,1511.6 555.8,1510.6 556.0,1513.8 556.3,1521.4 556.5,1516.7 556.7,1512.4 556.9,1512.3 557.1,1507.3 557.4,1521.2 557.6,1506.8 557.8,1517.1 558.0,1509.4 558.2,1511.1 558.5,1509.2 558.7,1520.2 558.9,1515.3 559.1,1528.3 559.3,1511.3 559.6,1511.0 559.8,1518.6 560.0,1518.5 560.2,1514.7 560.4,1501.4 560.7,1522.5 560.9,1518.6 561.1,1517.8 561.3,1513.4 561.5,1519.0 561.8,1513.6 562.0,1516.3 562.2,1515.3 562.4,1521.8 562.6,1514.0 562.9,1514.6 563.1,1521.1 563.3,1517.2 563.5,1516.1 563.7,1515.1 564.0,1520.5 564.2,1513.3 564.4,1518.4 564.6,1525.4 564.8,1518.1 565.1,1512.7 565.3,1507.5 565.5,1517.0 565.7,1510.8 565.9,1509.2 566.2,1512.9 566.4,1511.4 566.6,1520.3 566.8,1509.9 567.0,1523.5 567.3,1513.0 567.5,1516.9 567.7,1519.4 567.9,1517.4 568.1,1519.7 568.4,1512.0 568.6,1506.3 568.8,1515.6 569.0,1509.0 569.2,1513.9 569.5,1520.8 569.7,1515.6 569.9,1513.9 570.1,1511.5 570.3,1515.3 570.6,1515.8 570.8,1509.5 571.0,1517.9 571.2,1511.8 571.4,1517.6 571.7,1514.6 571.9,1523.6 572.1,1520.5 572.3,1516.7 572.5,1516.2 572.8,1518.7 573.0,1523.0 573.2,1521.6 573.4,1517.5 573.6,1518.3 573.9,1524.0 574.1,1509.6 574.3,1519.4 574.5,1512.9 574.7,1523.1 575.0,1514.8 575.2,1516.6 575.4,1512.2 575.6,1517.2 575.8,1520.7 576.1,1524.7 576.3,1511.5 576.5,1515.3 576.7,1534.8 576.9,1521.5 577.2,1517.2 577.4,1519.7 577.6,1505.4 577.8,1524.6 578.0,1518.5 578.3,1511.0 578.5,1522.7 578.7,1514.7 578.9,1512.9 579.1,1519.9 579.4,1519.4 579.6,1515.5 579.8,1517.3 580.0,1511.6 580.2,1511.2 580.5,1521.7 580.7,1523.6 580.9,1519.6 581.1,1519.4 581.3,1515.9 581.6,1517.1 581.8,1513.6 582.0,1525.6 582.2,1515.2 582.4,1519.6 582.7,1517.8 582.9,1511.6 583.1,1526.5 583.3,1516.2 583.5,1514.4 583.8,1518.4 584.0,1513.9 584.2,1518.0 584.4,1513.6 584.6,1520.5 584.9,1518.2 585.1,1511.8 585.3,1522.6 585.5,1518.9 585.7,1513.1 586.0,1519.6 586.2,1520.0 586.4,1526.4 586.6,1514.2 586.8,1521.9 587.1,1517.7 587.3,1520.9 587.5,1517.0 587.7,1517.9 587.9,1520.4 588.2,1512.9 588.4,1508.8 588.6,1518.2 588.8,1516.3 589.0,1518.7 589.3,1521.2 589.5,1517.3 589.7,1523.7 589.9,1518.2 590.1,1518.9 590.4,1522.1 590.6,1521.0 590.8,1518.0 591.0,1519.0 591.2,1515.1 591.5,1515.7 591.7,1519.0 591.9,1522.2 592.1,1516.6 592.3,1522.3 592.6,1527.3 592.8,1528.2 593.0,1518.7 593.2,1526.3 593.4,1521.4 593.7,1522.2 593.9,1522.4 594.1,1521.0 594.3,1524.8 594.5,1519.6 594.8,1517.6 595.0,1519.9 595.2,1521.0 595.4,1524.3 595.6,1520.5 595.9,1522.2 596.1,1525.2 596.3,1514.7 596.5,1517.7 596.7,1521.3 597.0,1519.0 597.2,1514.4 597.4,1523.3 597.6,1518.6 597.8,1514.5 598.1,1527.4 598.3,1513.2 598.5,1518.9 598.7,1516.0 598.9,1519.5 599.2,1521.5 599.4,1515.3 599.6,1518.5 599.8,1518.4 600.0,1514.5 600.3,1524.2 600.5,1519.8 600.7,1517.7 600.9,1516.1 601.1,1517.6 601.4,1519.7 601.6,1517.0 601.8,1524.7 602.0,1507.7 602.2,1509.5 602.5,1518.0 602.7,1510.9 602.9,1518.8 603.1,1516.2 603.3,1521.7 603.6,1521.0 603.8,1525.0 604.0,1523.3 604.2,1524.8 604.4,1521.6 604.7,1524.0 604.9,1521.5 605.1,1515.1 605.3,1513.6 605.5,1513.8 605.8,1521.4 606.0,1508.6 606.2,1520.1 606.4,1515.9 606.6,1522.6 606.9,1520.2 607.1,1514.1 607.3,1519.4 607.5,1509.2 607.7,1520.5 608.0,1521.4 608.2,1511.1 608.4,1523.2 608.6,1518.8 608.8,1520.7 609.1,1513.1 609.3,1522.1 609.5,1522.0 609.7,1519.4 609.9,1515.1 610.2,1522.9 610.4,1525.0 610.6,1521.3 610.8,1524.0 611.0,1516.9 611.3,1520.2 611.5,1521.2 611.7,1520.2 611.9,1532.2 612.1,1521.5 612.4,1517.1 612.6,1523.4 612.8,1514.8 613.0,1521.3 613.2,1523.1 613.5,1517.5 613.7,1518.3 613.9,1513.3 614.1,1520.4 614.3,1516.8 614.6,1527.6 614.8,1522.7 615.0,1518.5 615.2,1513.6 615.4,1529.0 615.7,1525.7 615.9,1522.0 616.1,1520.8 616.3,1520.7 616.5,1517.9 616.8,1528.4 617.0,1520.9 617.2,1513.6 617.4,1517.1 617.6,1508.5 617.9,1523.0 618.1,1523.4 618.3,1527.9 618.5,1529.4 618.7,1516.6 619.0,1522.1 619.2,1524.5 619.4,1523.6 619.6,1517.8 619.8,1523.7 620.1,1522.3 620.3,1526.2 620.5,1520.0 620.7,1519.1 620.9,1517.9 621.2,1518.4 621.4,1516.7 621.6,1518.6 621.8,1522.4 622.0,1522.2 622.3,1526.0 622.5,1528.2 622.7,1522.9 622.9,1515.0 623.1,1522.7 623.4,1525.3 623.6,1514.4 623.8,1515.2 624.0,1515.9 624.2,1515.6 624.5,1518.9 624.7,1516.0 624.9,1521.9 625.1,1511.7 625.3,1519.6 625.6,1518.0 625.8,1515.9 626.0,1524.8 626.2,1520.3 626.4,1522.6 626.7,1518.7 626.9,1523.4 627.1,1523.0 627.3,1519.6 627.5,1512.4 627.8,1523.9 628.0,1523.4 628.2,1521.1 628.4,1521.4 628.6,1520.9 628.9,1521.2 629.1,1515.9 629.3,1520.1 629.5,1521.8 629.7,1517.6 630.0,1516.1 630.2,1528.6 630.4,1523.1 630.6,1519.1 630.8,1518.2 631.1,1508.7 631.3,1514.1 631.5,1519.4 631.7,1526.2 631.9,1511.3 632.2,1517.4 632.4,1529.0 632.6,1523.5 632.8,1522.4 633.0,1525.8 633.3,1520.0 633.5,1519.8 633.7,1523.8 633.9,1524.4 634.1,1515.9 634.4,1527.4 634.6,1512.9 634.8,1517.6 635.0,1534.3 635.2,1518.4 635.5,1523.6 635.7,1516.3 635.9,1519.3 636.1,1517.5 636.3,1519.0 636.6,1523.7 636.8,1528.5 637.0,1524.7 637.2,1527.7 637.4,1518.6 637.7,1527.3 637.9,1523.3 638.1,1526.9 638.3,1519.0 638.5,1519.8 638.8,1526.9 639.0,1523.6 639.2,1521.4 639.4,1517.9 639.6,1520.5 639.9,1523.1 640.1,1526.2 640.3,1518.5 640.5,1519.4 640.7,1522.8 641.0,1516.0 641.2,1525.1 641.4,1520.9 641.6,1520.3 641.8,1510.2 642.1,1513.8 642.3,1516.3 642.5,1518.3 642.7,1516.0 642.9,1522.5 643.2,1521.5 643.4,1519.7 643.6,1511.9 643.8,1527.1 644.0,1519.7 644.3,1523.5 644.5,1516.2 644.7,1520.9 644.9,1524.0 645.1,1522.0 645.4,1525.2 645.6,1520.2 645.8,1529.8 646.0,1512.6 646.2,1518.6 646.5,1525.4 646.7,1519.9 646.9,1519.1 647.1,1513.2 647.3,1526.4 647.6,1512.7 647.8,1523.3 648.0,1522.0 648.2,1525.0 648.4,1527.6 648.7,1518.0 648.9,1517.5 649.1,1519.7 649.3,1513.5 649.5,1524.8 649.8,1519.4 650.0,1521.9 650.2,1516.2 650.4,1521.2 650.6,1518.4 650.9,1520.8 651.1,1516.4 651.3,1525.7 651.5,1518.3 651.7,1509.9 652.0,1524.1 652.2,1519.9 652.4,1517.3 652.6,1532.3 652.8,1521.0 653.1,1515.3 653.3,1516.8 653.5,1523.0 653.7,1520.3 653.9,1530.0 654.2,1526.0 654.4,1517.8 654.6,1521.5 654.8,1524.2 655.0,1519.5 655.3,1519.3 655.5,1525.3 655.7,1523.4 655.9,1515.2 656.1,1519.0 656.4,1519.6 656.6,1520.9 656.8,1518.3 657.0,1527.4 657.2,1517.2 657.5,1516.7 657.7,1522.4 657.9,1511.6 658.1,1517.0 658.3,1524.3 658.6,1515.7 658.8,1517.8 659.0,1526.4 659.2,1523.6 659.4,1521.9 659.7,1523.3 659.9,1518.7 660.1,1523.0 660.3,1520.8 660.5,1532.7 660.8,1524.1 661.0,1520.2 661.2,1521.5 661.4,1522.0 661.6,1515.7 661.9,1518.1 662.1,1528.5 662.3,1515.6 662.5,1519.3 662.7,1526.4 663.0,1528.5 663.2,1517.4 663.4,1528.3 663.6,1520.3 663.8,1529.2 664.1,1524.1 664.3,1520.7 664.5,1525.2 664.7,1524.4 664.9,1518.6 665.2,1531.5 665.4,1520.5 665.6,1530.1 665.8,1518.6 666.0,1514.0 666.3,1517.1 666.5,1521.6 666.7,1525.1 666.9,1529.9 667.1,1522.6 667.4,1520.9 667.6,1516.7 667.8,1521.9 668.0,1523.5 668.2,1512.4 668.5,1527.9 668.7,1527.2 668.9,1532.2 669.1,1518.2 669.3,1522.4 669.6,1522.3 669.8,1516.4 670.0,1518.5 670.2,1517.9 670.4,1524.5 670.7,1524.1 670.9,1528.2 671.1,1520.5 671.3,1516.1 671.5,1524.2 671.8,1523.9 672.0,1525.2 672.2,1527.8 672.4,1519.7 672.6,1525.8 672.9,1517.9 673.1,1523.0 673.3,1525.4 673.5,1521.8 673.7,1523.3 674.0,1516.2 674.2,1519.5 674.4,1523.0 674.6,1517.1 674.8,1518.6 675.1,1533.1 675.3,1523.5 675.5,1518.7 675.7,1517.8 675.9,1528.5 676.2,1510.0 676.4,1520.7 676.6,1524.9 676.8,1519.6 677.0,1524.4 677.3,1517.5 677.5,1522.0 677.7,1522.2 677.9,1522.1 678.1,1522.7 678.4,1522.2 678.6,1527.0 678.8,1520.9 679.0,1519.5 679.2,1520.8 679.5,1520.7 679.7,1515.3 679.9,1508.2 680.1,1516.1 680.3,1523.3 680.6,1519.1 680.8,1520.2 681.0,1534.7 681.2,1527.0 681.4,1521.1 681.7,1519.3 681.9,1528.1 682.1,1518.6 682.3,1527.5 682.5,1524.7 682.8,1528.2 683.0,1518.9 683.2,1526.1 683.4,1514.1 683.6,1521.3 683.9,1526.9 684.1,1525.2 684.3,1514.0 684.5,1525.1 684.7,1524.1 685.0,1521.8 685.2,1518.9 685.4,1520.9 685.6,1519.6 685.8,1526.3 686.1,1524.2 686.3,1526.8 686.5,1525.2 686.7,1516.5 686.9,1522.7 687.2,1531.6 687.4,1517.2 687.6,1523.4 687.8,1518.7 688.0,1518.2 688.3,1523.1 688.5,1526.2 688.7,1525.5 688.9,1524.2 689.1,1526.3 689.4,1515.0 689.6,1525.7 689.8,1523.9 690.0,1521.3 690.2,1522.1 690.5,1518.4 690.7,1527.3 690.9,1518.8 691.1,1515.7 691.3,1522.1 691.6,1519.6 691.8,1521.8 692.0,1528.8 692.2,1521.5 692.4,1522.7 692.7,1532.1 692.9,1516.0 693.1,1523.8 693.3,1527.3 693.5,1528.8 693.8,1532.1 694.0,1519.3 694.2,1524.9 694.4,1521.8 694.6,1520.2 694.9,1519.0 695.1,1515.8 695.3,1523.7 695.5,1525.5 695.7,1517.5 696.0,1527.2 696.2,1519.8 696.4,1517.7 696.6,1510.6 696.8,1527.1 697.1,1525.4 697.3,1520.8 697.5,1520.5 697.7,1516.5 697.9,1524.5 698.2,1521.9 698.4,1524.6 698.6,1523.0 698.8,1516.0 699.0,1515.4 699.3,1524.1 699.5,1514.8 699.7,1523.5 699.9,1526.3 700.1,1516.6 700.4,1525.3 700.6,1522.5 700.8,1524.7 701.0,1519.5 701.2,1522.3 701.5,1524.3 701.7,1530.5 701.9,1525.7 702.1,1524.6 702.3,1516.7 702.6,1523.9 702.8,1519.4 703.0,1522.2 703.2,1523.7 703.4,1526.8 703.7,1525.1 703.9,1523.3 704.1,1522.3 704.3,1528.5 704.5,1518.6 704.8,1522.7 705.0,1528.6 705.2,1521.7 705.4,1526.2 705.6,1526.5 705.9,1531.3 706.1,1530.4 706.3,1515.3 706.5,1522.5 706.7,1523.8 707.0,1526.2 707.2,1524.2 707.4,1530.8 707.6,1527.3 707.8,1517.3 708.1,1519.6 708.3,1513.3 708.5,1530.0 708.7,1521.8 708.9,1521.7 709.2,1515.3 709.4,1520.3 709.6,1524.1 709.8,1520.4 710.0,1520.4 710.3,1519.4 710.5,1530.9 710.7,1519.7 710.9,1515.6 711.1,1519.7 711.4,1520.4 711.6,1521.5 711.8,1520.9 712.0,1517.0 712.2,1521.0 712.5,1523.6 712.7,1515.6 712.9,1530.6 713.1,1529.4 713.3,1513.8 713.6,1520.2 713.8,1526.3 714.0,1527.8 714.2,1534.0 714.4,1513.6 714.7,1516.9 714.9,1519.5 715.1,1524.3 715.3,1517.1 715.5,1523.8 715.8,1523.9 716.0,1525.1 716.2,1516.1 716.4,1522.8 716.6,1522.2 716.9,1520.1 717.1,1527.7 717.3,1520.6 717.5,1528.4 717.7,1519.3 718.0,1529.6 718.2,1529.3 718.4,1518.4 718.6,1523.5 718.8,1523.5 719.1,1517.7 719.3,1525.6 719.5,1524.8 719.7,1518.3 719.9,1522.6 720.2,1526.1 720.4,1521.5 720.6,1519.0 720.8,1529.5 721.0,1517.8 721.3,1523.7 721.5,1527.2 721.7,1525.8 721.9,1514.1 722.1,1520.8 722.4,1521.7 722.6,1521.4 722.8,1525.1 723.0,1524.8 723.2,1523.0 723.5,1523.6 723.7,1526.9 723.9,1528.0 724.1,1514.0 724.3,1532.1 724.6,1520.0 724.8,1525.9 725.0,1515.3 725.2,1520.2 725.4,1516.9 725.7,1527.3 725.9,1526.4 726.1,1522.5 726.3,1521.8 726.5,1524.2 726.8,1518.4 727.0,1519.8 727.2,1519.1 727.4,1526.2 727.6,1522.6 727.9,1516.9 728.1,1524.1 728.3,1526.2 728.5,1528.7 728.7,1520.1 729.0,1524.3 729.2,1537.3 729.4,1521.1 729.6,1520.9 729.8,1526.1 730.1,1520.3 730.3,1522.5 730.5,1520.3 730.7,1519.1 730.9,1526.4 731.2,1520.9 731.4,1518.1 731.6,1521.2 731.8,1521.9 732.0,1523.8 732.3,1526.6 732.5,1530.3 732.7,1517.1 732.9,1521.4 733.1,1514.4 733.4,1523.4 733.6,1524.8 733.8,1519.6 734.0,1518.4 734.2,1518.0 734.5,1515.8 734.7,1525.2 734.9,1530.8 735.1,1517.4 735.3,1529.6 735.6,1521.9 735.8,1516.2 736.0,1524.8 736.2,1525.7 736.4,1524.1 736.7,1521.2 736.9,1529.7 737.1,1521.0 737.3,1525.1 737.5,1525.2 737.8,1518.3 738.0,1514.1 738.2,1514.6 738.4,1520.5 738.6,1523.8 738.9,1514.4 739.1,1519.1 739.3,1529.0 739.5,1514.3 739.7,1524.3 740.0,1523.8 740.2,1525.7 740.4,1515.7 740.6,1523.7 740.8,1516.1 741.1,1528.1 741.3,1518.4 741.5,1523.9 741.7,1518.6 741.9,1522.8 742.2,1515.4 742.4,1523.4 742.6,1524.8 742.8,1522.1 743.0,1529.3 743.3,1523.8 743.5,1525.6 743.7,1524.4 743.9,1530.5 744.1,1519.3 744.4,1521.0 744.6,1521.2 744.8,1524.9 745.0,1523.3 745.2,1525.9 745.5,1523.5 745.7,1519.9 745.9,1521.9 746.1,1524.1 746.3,1512.1 746.6,1528.4 746.8,1519.7 747.0,1520.7 747.2,1523.4 747.4,1521.2 747.7,1515.8 747.9,1521.3 748.1,1528.4 748.3,1526.9 748.5,1527.8 748.8,1519.9 749.0,1521.4 749.2,1527.0 749.4,1528.9 749.6,1522.5 749.9,1518.1 750.1,1513.8 750.3,1528.7 750.5,1515.7 750.7,1524.3 751.0,1526.4 751.2,1536.9 751.4,1523.3 751.6,1522.0 751.8,1524.5 752.1,1524.8 752.3,1528.5 752.5,1525.6 752.7,1519.1 752.9,1513.1 753.2,1523.9 753.4,1519.5 753.6,1528.9 753.8,1516.7 754.0,1523.5 754.3,1519.3 754.5,1518.7 754.7,1530.0 754.9,1523.3 755.1,1521.8 755.4,1525.9 755.6,1519.1 755.8,1520.0 756.0,1519.7 756.2,1531.5 756.5,1524.1 756.7,1525.4 756.9,1527.6 757.1,1521.8 757.3,1521.9 757.6,1515.3 757.8,1524.7 758.0,1523.8 758.2,1520.7 758.4,1528.0 758.7,1514.6 758.9,1524.5 759.1,1516.4 759.3,1517.4 759.5,1521.6 759.8,1528.6 760.0,1517.2 760.2,1518.1 760.4,1517.1 760.6,1531.6 760.9,1524.9 761.1,1524.4 761.3,1531.9 761.5,1523.7 761.7,1513.1 762.0,1520.3 762.2,1517.2 762.4,1531.7 762.6,1516.2 762.8,1523.9 763.1,1520.3 763.3,1520.6 763.5,1522.7 763.7,1522.0 763.9,1519.5 764.2,1517.0 764.4,1519.6 764.6,1517.9 764.8,1518.5 765.0,1523.1 765.3,1521.9 765.5,1524.7 765.7,1521.5 765.9,1531.2 766.1,1519.3 766.4,1518.0 766.6,1527.2 766.8,1519.4 767.0,1523.1 767.2,1527.0 767.5,1522.1 767.7,1520.9 767.9,1526.9 768.1,1524.0 768.3,1520.1 768.6,1517.1 768.8,1520.8 769.0,1515.1 769.2,1518.6 769.4,1517.6 769.7,1523.9 769.9,1526.0 770.1,1519.6 770.3,1520.5 770.5,1517.6 770.8,1516.3 771.0,1520.6 771.2,1525.0 771.4,1524.6 771.6,1525.2 771.9,1521.3 772.1,1510.2 772.3,1526.7 772.5,1528.5 772.7,1526.6 773.0,1526.6 773.2,1527.5 773.4,1534.6 773.6,1524.0 773.8,1529.6 774.1,1526.2 774.3,1525.6 774.5,1522.0 774.7,1521.0 774.9,1517.5 775.2,1525.2 775.4,1521.2 775.6,1517.2 775.8,1519.2 776.0,1517.2 776.3,1529.8 776.5,1521.5 776.7,1523.1 776.9,1517.1 777.1,1517.9 777.4,1527.3 777.6,1521.5 777.8,1523.6 778.0,1530.8 778.2,1537.6 778.5,1525.7 778.7,1524.8 778.9,1523.7 779.1,1521.3 779.3,1531.7 779.6,1517.1 779.8,1522.2 780.0,1513.9 780.2,1516.9 780.4,1524.4 780.7,1524.7 780.9,1524.1 781.1,1521.1 781.3,1519.4 781.5,1520.2 781.8,1520.9 782.0,1527.5 782.2,1529.2 782.4,1524.6 782.6,1520.2 782.9,1518.4 783.1,1524.0 783.3,1521.6 783.5,1514.4 783.7,1528.8 784.0,1522.6 784.2,1521.2 784.4,1518.7 784.6,1518.7 784.8,1526.6 785.1,1518.4 785.3,1523.0 785.5,1525.5 785.7,1530.9 785.9,1525.3 786.2,1522.4 786.4,1520.6 786.6,1526.4 786.8,1527.1 787.0,1520.7 787.3,1525.2 787.5,1522.0 787.7,1515.3 787.9,1518.1 788.1,1526.2 788.4,1529.1 788.6,1525.6 788.8,1521.7 789.0,1519.4 789.2,1525.0 789.5,1524.1 789.7,1515.3 789.9,1525.5 790.1,1519.4 790.3,1525.6 790.6,1525.0 790.8,1525.9 791.0,1527.4 791.2,1525.8 791.4,1517.9 791.7,1518.0 791.9,1527.3 792.1,1524.7 792.3,1515.6 792.5,1508.2 792.8,1529.0 793.0,1532.6 793.2,1526.3 793.4,1521.5 793.6,1523.8 793.9,1510.4 794.1,1518.1 794.3,1527.2 794.5,1526.5 794.7,1513.1 795.0,1527.9 795.2,1525.0 795.4,1526.8 795.6,1521.7 795.8,1522.6 796.1,1517.8 796.3,1524.1 796.5,1526.6 796.7,1518.4 796.9,1524.3 797.2,1520.2 797.4,1527.3 797.6,1527.0 797.8,1512.0 798.0,1524.6 798.3,1527.2 798.5,1520.1 798.7,1521.6 798.9,1521.9 799.1,1517.5 799.4,1522.1 799.6,1529.6 799.8,1524.8 800.0,1529.4 800.2,1527.1 800.5,1528.0 800.7,1523.2 800.9,1526.1 801.1,1531.7 801.3,1529.2 801.6,1524.1 801.8,1519.5 802.0,1518.5 802.2,1523.7 802.4,1524.6 802.7,1514.4 802.9,1523.6 803.1,1524.2 803.3,1524.0 803.5,1520.2 803.8,1532.9 804.0,1526.5 804.2,1516.5 804.4,1519.4 804.6,1526.2 804.9,1524.9 805.1,1523.2 805.3,1522.5 805.5,1521.6 805.7,1520.6 806.0,1518.0 806.2,1525.1 806.4,1510.1 806.6,1519.3 806.8,1528.1 807.1,1519.0 807.3,1517.2 807.5,1531.0 807.7,1527.1 807.9,1521.8 808.2,1519.8 808.4,1521.4 808.6,1520.9 808.8,1521.4 809.0,1519.1 809.3,1524.8 809.5,1519.9 809.7,1514.3 809.9,1516.6 810.1,1522.4 810.4,1517.8 810.6,1504.6 810.8,1529.1 811.0,1524.6 811.2,1520.2 811.5,1520.0 811.7,1525.8 811.9,1528.4 812.1,1519.5 812.3,1524.1 812.6,1519.5 812.8,1523.8 813.0,1517.2 813.2,1509.1 813.4,1522.7 813.7,1522.0 813.9,1525.5 814.1,1519.3 814.3,1528.4 814.5,1522.7 814.8,1533.1 815.0,1520.8 815.2,1529.0 815.4,1522.0 815.6,1522.9 815.9,1526.6 816.1,1514.4 816.3,1517.5 816.5,1535.2 816.7,1515.6 817.0,1520.1 817.2,1524.7 817.4,1528.8 817.6,1520.0 817.8,1522.9 818.1,1517.3 818.3,1520.6 818.5,1526.9 818.7,1523.8 818.9,1522.2 819.2,1524.2 819.4,1522.9 819.6,1523.1 819.8,1520.8 820.0,1518.0 820.3,1527.0 820.5,1517.2 820.7,1526.9 820.9,1531.8 821.1,1529.1 821.4,1532.7 821.6,1517.7 821.8,1523.5 822.0,1518.7 822.2,1519.1 822.5,1514.8 822.7,1517.0 822.9,1526.2 823.1,1525.5 823.3,1527.8 823.6,1527.4 823.8,1525.9 824.0,1518.9 824.2,1522.0 824.4,1525.7 824.7,1528.0 824.9,1520.8 825.1,1520.3 825.3,1520.6 825.5,1529.6 825.8,1525.0 826.0,1521.1 826.2,1519.1 826.4,1524.5 826.6,1515.1 826.9,1521.5 827.1,1520.0 827.3,1520.0 827.5,1523.5 827.7,1524.4 828.0,1536.0 828.2,1523.0 828.4,1525.7 828.6,1519.0 828.8,1515.3 829.1,1527.7 829.3,1531.3 829.5,1518.2 829.7,1522.1 829.9,1527.6 830.2,1523.1 830.4,1512.1 830.6,1527.1 830.8,1522.0 831.0,1525.9 831.3,1518.4 831.5,1526.6 831.7,1527.3 831.9,1517.6 832.1,1524.8 832.4,1519.9 832.6,1520.4 832.8,1516.3 833.0,1520.8 833.2,1519.7 833.5,1527.8 833.7,1521.7 833.9,1517.7 834.1,1528.7 834.3,1525.1 834.6,1527.0 834.8,1522.4 835.0,1525.8 835.2,1522.3 835.4,1518.5 835.7,1523.2 835.9,1523.3 836.1,1523.3 836.3,1526.4 836.5,1515.1 836.8,1524.0 837.0,1519.2 837.2,1521.5 837.4,1524.7 837.6,1523.0 837.9,1519.8 838.1,1526.1 838.3,1522.5 838.5,1526.9 838.7,1528.2 839.0,1521.2 839.2,1518.0 839.4,1523.2 839.6,1526.4 839.8,1524.2 840.1,1517.7 840.3,1515.4 840.5,1518.7 840.7,1518.7 840.9,1525.6 841.2,1523.1 841.4,1526.7 841.6,1522.5 841.8,1530.2 842.0,1522.9 842.3,1525.3 842.5,1520.1 842.7,1524.8 842.9,1527.6 843.1,1526.3 843.4,1528.5 843.6,1520.2 843.8,1524.9 844.0,1530.4 844.2,1524.0 844.5,1522.2 844.7,1521.9 844.9,1520.6 845.1,1523.5 845.3,1529.0 845.6,1524.9 845.8,1522.8 846.0,1519.4 846.2,1517.9 846.4,1533.3 846.7,1519.8 846.9,1523.3 847.1,1520.8 847.3,1523.6 847.5,1521.0 847.8,1523.3 848.0,1529.2 848.2,1519.6 848.4,1525.2 848.6,1522.5 848.9,1526.0 849.1,1519.9 849.3,1524.6 849.5,1518.5 849.7,1514.9 850.0,1517.1 850.2,1518.6 850.4,1517.9 850.6,1521.3 850.8,1527.5 851.1,1517.8 851.3,1524.6 851.5,1523.3 851.7,1519.6 851.9,1518.6 852.2,1524.5 852.4,1524.7 852.6,1521.1 852.8,1522.0 853.0,1522.6 853.3,1516.9 853.5,1523.1 853.7,1523.9 853.9,1530.2 854.1,1517.1 854.4,1518.9 854.6,1523.0 854.8,1520.1 855.0,1520.9 855.2,1522.6 855.5,1521.3 855.7,1522.5 855.9,1524.5 856.1,1515.6 856.3,1525.0 856.6,1512.9 856.8,1529.9 857.0,1529.0 857.2,1520.0 857.4,1529.6 857.7,1522.0 857.9,1524.5 858.1,1525.9 858.3,1524.1 858.5,1522.6 858.8,1525.3 859.0,1521.8 859.2,1521.0 859.4,1518.6 859.6,1514.9 859.9,1529.5 860.1,1526.0 860.3,1516.7 860.5,1524.4 860.7,1523.6 861.0,1513.2 861.2,1519.1 861.4,1522.2 861.6,1534.5 861.8,1527.4 862.1,1528.1 862.3,1524.0 862.5,1527.0 862.7,1517.7 862.9,1525.3 863.2,1525.8 863.4,1517.3 863.6,1523.8 863.8,1529.2 864.0,1531.0 864.3,1528.8 864.5,1519.7 864.7,1522.4 864.9,1520.5 865.1,1528.0 865.4,1519.1 865.6,1518.3 865.8,1515.8 866.0,1523.6 866.2,1524.6 866.5,1520.2 866.7,1519.5 866.9,1522.0 867.1,1528.5 867.3,1517.0 867.6,1522.6 867.8,1523.7 868.0,1524.4 868.2,1528.2 868.4,1526.3 868.7,1524.0 868.9,1529.1 869.1,1527.7 869.3,1524.0 869.5,1523.8 869.8,1517.8 870.0,1523.4 870.2,1519.5 870.4,1517.9 870.6,1521.6 870.9,1515.4 871.1,1519.0 871.3,1520.6 871.5,1524.2 871.7,1521.4 872.0,1524.4 872.2,1529.5 872.4,1526.2 872.6,1517.8 872.8,1515.1 873.1,1518.8 873.3,1518.9 873.5,1514.2 873.7,1515.3 873.9,1515.3 874.2,1520.0 874.4,1528.7 874.6,1529.8 874.8,1518.2 875.0,1520.5 875.3,1516.6 875.5,1515.5 875.7,1522.1 875.9,1522.6 876.1,1519.7 876.4,1525.0 876.6,1520.9 876.8,1526.9 877.0,1520.1 877.2,1525.9 877.5,1521.4 877.7,1522.8 877.9,1526.3 878.1,1516.5 878.3,1519.1 878.6,1521.9 878.8,1521.0 879.0,1523.3 879.2,1518.8 879.4,1516.6 879.7,1521.8 879.9,1523.4 880.1,1518.8 880.3,1527.4 880.5,1525.2 880.8,1525.8 881.0,1525.6 881.2,1518.6 881.4,1531.3 881.6,1519.3 881.9,1524.0 882.1,1525.5 882.3,1523.8 882.5,1523.3 882.7,1519.0 883.0,1520.8 883.2,1522.7 883.4,1528.1 883.6,1519.8 883.8,1525.6 884.1,1524.5 884.3,1523.1 884.5,1520.4 884.7,1522.2 884.9,1515.4 885.2,1523.3 885.4,1524.2 885.6,1520.7 885.8,1525.1 886.0,1524.2 886.3,1519.8 886.5,1526.5 886.7,1520.7 886.9,1533.2 887.1,1518.6 887.4,1519.5 887.6,1520.3 887.8,1524.0 888.0,1527.9 888.2,1523.4 888.5,1521.3 888.7,1531.0 888.9,1527.3 889.1,1521.8 889.3,1522.5 889.6,1516.5 889.8,1523.1 890.0,1530.2 890.2,1518.0 890.4,1516.9 890.7,1523.5 890.9,1512.7 891.1,1528.8 891.3,1516.5 891.5,1519.8 891.8,1522.2 892.0,1527.9 892.2,1525.6 892.4,1514.7 892.6,1515.6 892.9,1523.6 893.1,1513.8 893.3,1521.4 893.5,1519.2 893.7,1526.0 894.0,1527.7 894.2,1511.9 894.4,1524.4 894.6,1525.3 894.8,1519.3 895.1,1520.0 895.3,1517.4 895.5,1521.0 895.7,1524.2 895.9,1528.2 896.2,1528.6 896.4,1521.3 896.6,1518.9 896.8,1526.7 897.0,1510.7 897.3,1516.5 897.5,1525.2 897.7,1531.9 897.9,1519.1 898.1,1522.9 898.4,1517.7 898.6,1522.1 898.8,1522.1 899.0,1519.2 899.2,1524.1 899.5,1521.7 899.7,1524.6 899.9,1521.6 900.1,1517.4 900.3,1523.1 900.6,1528.2 900.8,1519.2 901.0,1528.2 901.2,1524.4 901.4,1521.0 901.7,1522.7 901.9,1520.8 902.1,1518.7 902.3,1526.4 902.5,1526.4 902.8,1520.6 903.0,1521.8 903.2,1521.7 903.4,1525.5 903.6,1528.8 903.9,1519.8 904.1,1523.9 904.3,1522.5 904.5,1526.4 904.7,1528.7 905.0,1518.9 905.2,1513.9 905.4,1521.9 905.6,1515.8 905.8,1529.7 906.1,1519.7 906.3,1521.4 906.5,1523.7 906.7,1523.5 906.9,1520.9 907.2,1522.6 907.4,1526.7 907.6,1521.3 907.8,1530.5 908.0,1524.2 908.3,1512.7 908.5,1526.4 908.7,1515.2 908.9,1524.1 909.1,1532.2 909.4,1527.3 909.6,1517.9 909.8,1519.2 910.0,1522.8 910.2,1528.9 910.5,1519.6 910.7,1530.3 910.9,1524.0 911.1,1522.3 911.3,1522.0 911.6,1529.8 911.8,1516.3 912.0,1517.9 912.2,1526.5 912.4,1526.9 912.7,1517.2 912.9,1518.8 913.1,1517.8 913.3,1525.0 913.5,1519.9 913.8,1528.7 914.0,1528.0 914.2,1523.8 914.4,1523.6 914.6,1525.0 914.9,1526.3 915.1,1522.8 915.3,1523.8 915.5,1526.0 915.7,1522.4 916.0,1526.9 916.2,1522.1 916.4,1519.4 916.6,1523.5 916.8,1529.7 917.1,1529.0 917.3,1515.9 917.5,1524.0 917.7,1520.6 917.9,1521.3 918.2,1521.2 918.4,1521.7 918.6,1520.4 918.8,1521.5 919.0,1523.6 919.3,1517.5 919.5,1517.4 919.7,1517.9 919.9,1517.8 920.1,1525.1 920.4,1517.9 920.6,1522.3 920.8,1522.9 921.0,1525.6 921.2,1522.7 921.5,1527.1 921.7,1522.4 921.9,1523.7 922.1,1525.8 922.3,1516.4 922.6,1524.2 922.8,1529.0 923.0,1523.1 923.2,1521.6 923.4,1530.6 923.7,1523.0 923.9,1527.8 924.1,1512.6 924.3,1523.0 924.5,1520.5 924.8,1524.2 925.0,1527.6 925.2,1522.0 925.4,1521.7 925.6,1510.7 925.9,1525.9 926.1,1528.2 926.3,1523.2 926.5,1520.6 926.7,1524.1 927.0,1527.0 927.2,1527.0 927.4,1531.4 927.6,1520.3 927.8,1516.9 928.1,1524.7 928.3,1528.0 928.5,1520.7 928.7,1522.6 928.9,1519.9 929.2,1517.3 929.4,1519.5 929.6,1513.9 929.8,1523.7 930.0,1524.5 930.3,1526.3 930.5,1519.1 930.7,1519.9 930.9,1515.5 931.1,1512.7 931.4,1526.3 931.6,1534.5 931.8,1518.1 932.0,1520.9 932.2,1526.5 932.5,1517.9 932.7,1525.0 932.9,1521.3 933.1,1521.3 933.3,1526.4 933.6,1521.5 933.8,1517.2 934.0,1526.0 934.2,1522.7 934.4,1520.2 934.7,1519.2 934.9,1525.0 935.1,1519.5 935.3,1523.1 935.5,1526.8 935.8,1522.1 936.0,1527.2 936.2,1516.8 936.4,1525.1 936.6,1524.8 936.9,1530.5 937.1,1522.7 937.3,1526.4 937.5,1521.9 937.7,1518.1 938.0,1518.9 938.2,1519.6 938.4,1525.9 938.6,1519.3 938.8,1522.8 939.1,1526.4 939.3,1527.8 939.5,1526.5 939.7,1528.9 939.9,1517.8 940.2,1520.5 940.4,1523.9 940.6,1527.3 940.8,1524.7 941.0,1519.4 941.3,1521.8 941.5,1515.7 941.7,1526.0 941.9,1515.1 942.1,1523.5 942.4,1527.1 942.6,1526.4 942.8,1515.8 943.0,1523.5 943.2,1521.1 943.5,1521.4 943.7,1529.5 943.9,1523.8 944.1,1513.0 944.3,1518.1 944.6,1525.6 944.8,1523.5 945.0,1517.8 945.2,1515.5 945.4,1520.3 945.7,1520.7 945.9,1526.0 946.1,1520.0 946.3,1525.4 946.5,1527.7 946.8,1515.8 947.0,1520.1 947.2,1529.1 947.4,1520.7 947.6,1522.5 947.9,1526.6 948.1,1519.3 948.3,1520.8 948.5,1515.6 948.7,1524.8 949.0,1520.4 949.2,1520.9 949.4,1511.7 949.6,1526.5 949.8,1525.4 950.1,1519.1 950.3,1527.6 950.5,1512.1" fill="none" stroke="#0000ff" stroke-width="1.6"/>
<polyline points="79.8,1201.5 80.0,1211.0 80.2,1248.9 80.5,1234.1 80.7,1196.2 80.9,1229.1 81.1,1221.5 81.3,1238.7 81.6,1210.6 81.8,1246.6 82.0,1249.3 82.2,1275.7 82.4,1255.7 82.7,1261.3 82.9,1227.8 83.1,1296.0 83.3,1224.0 83.5,1278.9 83.8,1255.2 84.0,1246.9 84.2,1252.2 84.4,1253.3 84.6,1273.0 84.9,1265.7 85.1,1294.7 85.3,1238.0 85.5,1271.0 85.7,1256.6 86.0,1294.8 86.2,1237.4 86.4,1269.3 86.6,1279.9 86.8,1251.6 87.1,1295.3 87.3,1282.3 87.5,1297.6 87.7,1297.7 87.9,1265.3 88.2,1269.3 88.4,1280.5 88.6,1297.7 88.8,1300.4 89.0,1274.6 89.3,1277.3 89.5,1275.0 89.7,1279.6 89.9,1286.4 90.1,1289.1 90.4,1327.2 90.6,1284.6 90.8,1289.2 91.0,1302.8 91.2,1279.9 91.5,1287.0 91.7,1298.2 91.9,1311.9 92.1,1277.8 92.3,1323.9 92.6,1296.1 92.8,1306.0 93.0,1318.5 93.2,1316.5 93.4,1324.4 93.7,1310.8 93.9,1308.9 94.1,1315.7 94.3,1295.2 94.5,1333.0 94.8,1301.4 95.0,1294.6 95.2,1350.5 95.4,1315.6 95.6,1299.7 95.9,1350.6 96.1,1316.0 96.3,1339.8 96.5,1310.0 96.7,1320.5 97.0,1298.1 97.2,1295.5 97.4,1311.7 97.6,1327.1 97.8,1342.2 98.1,1369.4 98.3,1314.2 98.5,1348.0 98.7,1322.7 98.9,1330.6 99.2,1309.9 99.4,1310.6 99.6,1322.5 99.8,1316.4 100.0,1336.0 100.3,1325.3 100.5,1357.0 100.7,1339.9 100.9,1340.5 101.1,1356.4 101.4,1346.9 101.6,1338.3 101.8,1336.9 102.0,1337.5 102.2,1356.9 102.5,1352.5 102.7,1346.0 102.9,1353.1 103.1,1331.9 103.3,1348.9 103.6,1318.4 103.8,1362.5 104.0,1342.7 104.2,1344.3 104.4,1351.0 104.7,1341.5 104.9,1337.7 105.1,1360.8 105.3,1343.8 105.5,1327.5 105.8,1349.1 106.0,1315.1 106.2,1368.5 106.4,1339.6 106.6,1343.1 106.9,1378.2 107.1,1376.6 107.3,1344.3 107.5,1352.4 107.7,1359.8 108.0,1369.2 108.2,1340.5 108.4,1344.7 108.6,1361.9 108.8,1346.8 109.1,1354.4 109.3,1352.1 109.5,1324.5 109.7,1328.8 109.9,1300.6 110.2,1338.1 110.4,1363.3 110.6,1324.5 110.8,1361.4 111.0,1357.6 111.3,1340.8 111.5,1341.4 111.7,1342.6 111.9,1327.5 112.1,1336.5 112.4,1340.0 112.6,1350.1 112.8,1352.7 113.0,1328.3 113.2,1352.7 113.5,1327.2 113.7,1336.5 113.9,1344.7 114.1,1338.2 114.3,1336.2 114.6,1342.2 114.8,1328.9 115.0,1327.0 115.2,1333.7 115.4,1360.7 115.7,1334.7 115.9,1365.8 116.1,1338.9 116.3,1288.6 116.5,1328.0 116.8,1360.6 117.0,1334.3 117.2,1327.0 117.4,1319.8 117.6,1353.9 117.9,1348.5 118.1,1343.0 118.3,1338.9 118.5,1367.9 118.7,1344.3 119.0,1312.0 119.2,1342.9 119.4,1333.2 119.6,1328.6 119.8,1341.9 120.1,1330.2 120.3,1283.7 120.5,1353.5 120.7,1345.1 120.9,1326.8 121.2,1322.7 121.4,1333.9 121.6,1308.1 121.8,1332.6 122.0,1324.0 122.3,1321.9 122.5,1312.9 122.7,1316.5 122.9,1344.0 123.1,1347.4 123.4,1334.2 123.6,1325.5 123.8,1312.4 124.0,1337.0 124.2,1350.7 124.5,1300.4 124.7,1354.4 124.9,1291.5 125.1,1319.6 125.3,1330.7 125.6,1303.4 125.8,1300.9 126.0,1327.0 126.2,1337.5 126.4,1316.4 126.7,1344.4 126.9,1311.3 127.1,1350.3 127.3,1324.8 127.5,1326.4 127.8,1337.8 128.0,1327.3 128.2,1350.6 128.4,1356.0 128.6,1330.1 128.9,1318.9 129.1,1303.1 129.3,1309.3 129.5,1320.8 129.7,1318.9 130.0,1319.5 130.2,1320.0 130.4,1327.2 130.6,1298.5 130.8,1303.2 131.1,1335.9 131.3,1331.2 131.5,1309.7 131.7,1337.5 131.9,1306.9 132.2,1313.0 132.4,1288.4 132.6,1329.1 132.8,1315.5 133.0,1341.5 133.3,1325.7 133.5,1315.9 133.7,1316.5 133.9,1331.9 134.1,1310.6 134.4,1310.3 134.6,1313.2 134.8,1324.0 135.0,1325.3 135.2,1340.0 135.5,1309.0 135.7,1329.0 135.9,1299.2 136.1,1317.9 136.3,1310.1 136.6,1334.1 136.8,1316.4 137.0,1299.7 137.2,1314.7 137.4,1310.6 137.7,1299.9 137.9,1299.6 138.1,1289.1 138.3,1344.8 138.5,1304.2 138.8,1316.4 139.0,1273.0 139.2,1283.7 139.4,1297.3 139.6,1296.7 139.9,1310.5 140.1,1282.4 140.3,1305.2 140.5,1319.3 140.7,1281.7 141.0,1308.8 141.2,1279.7 141.4,1298.9 141.6,1298.5 141.8,1318.7 142.1,1281.2 142.3,1293.6 142.5,1306.1 142.7,1271.9 142.9,1288.8 143.2,1275.0 143.4,1276.8 143.6,1297.0 143.8,1296.5 144.0,1348.0 144.3,1305.2 144.5,1303.1 144.7,1280.3 144.9,1277.5 145.1,1283.2 145.4,1246.0 145.6,1304.5 145.8,1268.5 146.0,1261.8 146.2,1266.3 146.5,1289.3 146.7,1293.9 146.9,1268.7 147.1,1280.0 147.3,1271.7 147.6,1248.1 147.8,1273.4 148.0,1270.4 148.2,1246.0 148.4,1284.9 148.7,1243.9 148.9,1270.2 149.1,1250.1 149.3,1252.8 149.5,1253.7 149.8,1274.0 150.0,1243.8 150.2,1259.0 150.4,1284.2 150.6,1250.0 150.9,1259.1 151.1,1268.6 151.3,1249.5 151.5,1264.3 151.7,1247.0 152.0,1266.2 152.2,1256.2 152.4,1241.1 152.6,1274.2 152.8,1251.9 153.1,1248.5 153.3,1238.6 153.5,1244.4 153.7,1248.9 153.9,1252.0 154.2,1264.2 154.4,1229.6 154.6,1242.3 154.8,1263.1 155.0,1248.2 155.3,1250.5 155.5,1266.0 155.7,1248.0 155.9,1248.9 156.1,1241.3 156.4,1265.0 156.6,1254.5 156.8,1229.9 157.0,1246.2 157.2,1222.9 157.5,1251.9 157.7,1245.7 157.9,1234.0 158.1,1230.2 158.3,1211.4 158.6,1244.2 158.8,1232.2 159.0,1229.1 159.2,1241.9 159.4,1223.6 159.7,1224.2 159.9,1222.3 160.1,1213.6 160.3,1260.8 160.5,1227.5 160.8,1225.3 161.0,1240.6 161.2,1189.9 161.4,1228.4 161.6,1228.7 161.9,1216.5 162.1,1233.8 162.3,1203.4 162.5,1228.0 162.7,1238.4 163.0,1200.9 163.2,1210.0 163.4,1225.4 163.6,1227.0 163.8,1219.3 164.1,1231.5 164.3,1230.0 164.5,1210.5 164.7,1225.8 164.9,1211.4 165.2,1201.5 165.4,1197.3 165.6,1240.2 165.8,1226.0 166.0,1252.3 166.3,1209.5 166.5,1223.6 166.7,1232.6 166.9,1226.8 167.1,1235.3 167.4,1231.0 167.6,1221.6 167.8,1199.9 168.0,1217.9 168.2,1252.7 168.5,1240.8 168.7,1249.1 168.9,1223.9 169.1,1229.4 169.3,1220.8 169.6,1237.8 169.8,1233.8 170.0,1239.4 170.2,1257.1 170.4,1222.9 170.7,1244.3 170.9,1216.0 171.1,1249.9 171.3,1229.5 171.5,1234.9 171.8,1238.1 172.0,1259.0 172.2,1235.3 172.4,1230.6 172.6,1221.6 172.9,1242.1 173.1,1226.9 173.3,1232.2 173.5,1239.3 173.7,1249.4 174.0,1230.6 174.2,1250.4 174.4,1266.4 174.6,1221.1 174.8,1261.8 175.1,1273.5 175.3,1229.2 175.5,1252.9 175.7,1225.1 175.9,1250.1 176.2,1241.1 176.4,1250.7 176.6,1233.6 176.8,1235.4 177.0,1241.3 177.3,1238.0 177.5,1239.8 177.7,1246.4 177.9,1233.5 178.1,1248.1 178.4,1257.8 178.6,1217.1 178.8,1254.6 179.0,1241.1 179.2,1236.0 179.5,1233.0 179.7,1240.8 179.9,1242.8 180.1,1259.5 180.3,1235.9 180.6,1270.9 180.8,1243.4 181.0,1266.4 181.2,1273.0 181.4,1238.8 181.7,1282.0 181.9,1291.0 182.1,1252.2 182.3,1268.2 182.5,1258.1 182.8,1261.9 183.0,1258.4 183.2,1254.3 183.4,1273.2 183.6,1276.2 183.9,1263.5 184.1,1286.7 184.3,1280.9 184.5,1275.6 184.7,1254.7 185.0,1294.6 185.2,1286.4 185.4,1234.7 185.6,1250.8 185.8,1260.7 186.1,1282.5 186.3,1287.5 186.5,1265.0 186.7,1273.5 186.9,1280.7 187.2,1251.5 187.4,1280.0 187.6,1266.9 187.8,1274.7 188.0,1271.6 188.3,1255.0 188.5,1258.2 188.7,1274.2 188.9,1275.9 189.1,1270.4 189.4,1290.7 189.6,1269.7 189.8,1257.2 190.0,1270.7 190.2,1273.6 190.5,1274.6 190.7,1294.4 190.9,1284.9 191.1,1293.5 191.3,1287.3 191.6,1275.8 191.8,1294.2 192.0,1275.0 192.2,1283.0 192.4,1264.5 192.7,1282.3 192.9,1275.3 193.1,1286.1 193.3,1308.1 193.5,1316.8 193.8,1296.7 194.0,1281.2 194.2,1294.3 194.4,1285.6 194.6,1273.2 194.9,1281.2 195.1,1279.1 195.3,1274.1 195.5,1304.2 195.7,1275.5 196.0,1276.4 196.2,1294.7 196.4,1273.9 196.6,1267.3 196.8,1272.1 197.1,1292.4 197.3,1291.0 197.5,1290.1 197.7,1278.9 197.9,1272.3 198.2,1300.0 198.4,1264.8 198.6,1283.6 198.8,1267.0 199.0,1281.1 199.3,1285.1 199.5,1306.2 199.7,1244.7 199.9,1308.7 200.1,1275.0 200.4,1293.0 200.6,1300.9 200.8,1277.4 201.0,1287.8 201.2,1296.8 201.5,1287.7 201.7,1278.6 201.9,1292.7 202.1,1291.7 202.3,1267.6 202.6,1310.9 202.8,1294.0 203.0,1254.2 203.2,1278.4 203.4,1317.0 203.7,1315.1 203.9,1295.4 204.1,1266.0 204.3,1288.0 204.5,1307.7 204.8,1297.7 205.0,1284.2 205.2,1280.9 205.4,1304.5 205.6,1289.0 205.9,1297.1 206.1,1299.7 206.3,1317.1 206.5,1295.2 206.7,1296.4 207.0,1265.5 207.2,1309.4 207.4,1306.0 207.6,1292.4 207.8,1258.3 208.1,1284.1 208.3,1293.8 208.5,1324.3 208.7,1301.5 208.9,1304.6 209.2,1305.0 209.4,1312.7 209.6,1275.3 209.8,1279.5 210.0,1274.5 210.3,1288.0 210.5,1286.8 210.7,1293.7 210.9,1276.5 211.1,1293.3 211.4,1278.9 211.6,1323.8 211.8,1283.6 212.0,1330.1 212.2,1316.2 212.5,1273.2 212.7,1305.7 212.9,1306.1 213.1,1267.7 213.3,1300.1 213.6,1289.4 213.8,1299.3 214.0,1277.6 214.2,1289.4 214.4,1296.5 214.7,1287.3 214.9,1280.7 215.1,1287.4 215.3,1274.8 215.5,1294.7 215.8,1250.6 216.0,1312.1 216.2,1290.0 216.4,1296.1 216.6,1301.7 216.9,1269.8 217.1,1323.0 217.3,1271.3 217.5,1295.2 217.7,1292.9 218.0,1307.8 218.2,1287.5 218.4,1266.1 218.6,1292.3 218.8,1249.8 219.1,1284.0 219.3,1279.9 219.5,1310.4 219.7,1282.3 219.9,1279.6 220.2,1274.7 220.4,1273.1 220.6,1272.6 220.8,1294.8 221.0,1265.6 221.3,1282.3 221.5,1263.1 221.7,1282.6 221.9,1287.5 222.1,1266.1 222.4,1276.0 222.6,1286.1 222.8,1296.1 223.0,1298.7 223.2,1282.4 223.5,1268.8 223.7,1259.1 223.9,1295.5 224.1,1304.7 224.3,1288.9 224.6,1307.0 224.8,1276.2 225.0,1277.0 225.2,1306.7 225.4,1267.3 225.7,1291.7 225.9,1288.3 226.1,1284.6 226.3,1308.4 226.5,1268.6 226.8,1275.3 227.0,1249.8 227.2,1265.5 227.4,1273.5 227.6,1275.3 227.9,1277.9 228.1,1285.4 228.3,1270.5 228.5,1250.3 228.7,1282.7 229.0,1286.6 229.2,1262.3 229.4,1260.7 229.6,1306.6 229.8,1295.2 230.1,1296.0 230.3,1289.5 230.5,1281.3 230.7,1266.4 230.9,1287.5 231.2,1275.5 231.4,1271.7 231.6,1278.1 231.8,1276.9 232.0,1291.5 232.3,1263.1 232.5,1315.7 232.7,1262.0 232.9,1270.7 233.1,1291.5 233.4,1264.2 233.6,1269.4 233.8,1277.1 234.0,1231.1 234.2,1268.6 234.5,1261.4 234.7,1272.2 234.9,1288.1 235.1,1285.5 235.3,1298.5 235.6,1297.5 235.8,1291.1 236.0,1274.5 236.2,1291.0 236.4,1259.6 236.7,1273.2 236.9,1296.6 237.1,1286.5 237.3,1252.9 237.5,1265.1 237.8,1287.9 238.0,1283.3 238.2,1290.3 238.4,1246.6 238.6,1254.1 238.9,1269.6 239.1,1258.4 239.3,1272.7 239.5,1273.3 239.7,1278.3 240.0,1270.9 240.2,1281.4 240.4,1284.7 240.6,1275.0 240.8,1253.8 241.1,1292.3 241.3,1275.7 241.5,1278.8 241.7,1274.8 241.9,1247.4 242.2,1280.9 242.4,1261.9 242.6,1253.1 242.8,1291.5 243.0,1267.0 243.3,1276.0 243.5,1285.2 243.7,1296.3 243.9,1243.6 244.1,1259.9 244.4,1281.7 244.6,1261.0 244.8,1221.1 245.0,1273.4 245.2,1274.6 245.5,1283.3 245.7,1274.6 245.9,1264.2 246.1,1274.3 246.3,1270.4 246.6,1263.2 246.8,1274.8 247.0,1276.3 247.2,1255.3 247.4,1286.6 247.7,1291.4 247.9,1282.9 248.1,1228.6 248.3,1272.6 248.5,1268.9 248.8,1255.4 249.0,1279.7 249.2,1247.7 249.4,1289.7 249.6,1276.7 249.9,1263.0 250.1,1292.7 250.3,1277.9 250.5,1276.0 250.7,1250.8 251.0,1278.9 251.2,1292.5 251.4,1287.8 251.6,1251.1 251.8,1292.3 252.1,1295.6 252.3,1283.9 252.5,1265.0 252.7,1247.9 252.9,1257.0 253.2,1262.1 253.4,1275.2 253.6,1279.5 253.8,1259.6 254.0,1245.8 254.3,1264.7 254.5,1250.6 254.7,1291.5 254.9,1252.1 255.1,1278.4 255.4,1283.7 255.6,1255.9 255.8,1286.5 256.0,1268.9 256.2,1258.9 256.5,1256.5 256.7,1272.8 256.9,1287.7 257.1,1242.0 257.3,1280.7 257.6,1269.0 257.8,1259.7 258.0,1269.8 258.2,1270.8 258.4,1270.7 258.7,1284.2 258.9,1257.9 259.1,1302.3 259.3,1285.7 259.5,1262.9 259.8,1242.4 260.0,1271.9 260.2,1266.1 260.4,1284.0 260.6,1283.8 260.9,1302.3 261.1,1270.9 261.3,1285.3 261.5,1266.6 261.7,1267.6 262.0,1297.1 262.2,1271.5 262.4,1272.1 262.6,1268.4 262.8,1279.1 263.1,1288.8 263.3,1272.5 263.5,1256.8 263.7,1279.9 263.9,1262.1 264.2,1269.5 264.4,1278.5 264.6,1279.2 264.8,1239.6 265.0,1301.9 265.3,1288.1 265.5,1305.9 265.7,1315.0 265.9,1261.7 266.1,1267.6 266.4,1280.3 266.6,1291.1 266.8,1268.8 267.0,1272.0 267.2,1293.6 267.5,1263.4 267.7,1280.5 267.9,1294.1 268.1,1270.8 268.3,1289.7 268.6,1276.0 268.8,1253.3 269.0,1269.6 269.2,1272.7 269.4,1273.0 269.7,1278.7 269.9,1287.7 270.1,1283.0 270.3,1281.4 270.5,1272.1 270.8,1275.5 271.0,1273.2 271.2,1270.0 271.4,1300.5 271.6,1250.0 271.9,1283.1 272.1,1254.3 272.3,1270.4 272.5,1292.1 272.7,1271.7 273.0,1301.6 273.2,1265.4 273.4,1275.6 273.6,1270.5 273.8,1280.5 274.1,1275.6 274.3,1274.7 274.5,1282.0 274.7,1297.8 274.9,1283.1 275.2,1281.7 275.4,1276.4 275.6,1270.1 275.8,1243.5 276.0,1265.0 276.3,1281.8 276.5,1251.9 276.7,1291.6 276.9,1275.1 277.1,1267.2 277.4,1273.4 277.6,1292.2 277.8,1287.9 278.0,1286.5 278.2,1309.9 278.5,1319.3 278.7,1263.8 278.9,1297.6 279.1,1272.5 279.3,1263.5 279.6,1277.0 279.8,1301.2 280.0,1281.2 280.2,1279.0 280.4,1308.5 280.7,1295.1 280.9,1286.4 281.1,1316.1 281.3,1296.0 281.5,1277.6 281.8,1272.4 282.0,1283.0 282.2,1292.4 282.4,1304.7 282.6,1303.5 282.9,1292.5 283.1,1272.8 283.3,1305.6 283.5,1292.8 283.7,1274.7 284.0,1272.6 284.2,1295.3 284.4,1297.4 284.6,1304.8 284.8,1273.5 285.1,1322.3 285.3,1264.6 285.5,1292.3 285.7,1313.9 285.9,1318.9 286.2,1278.6 286.4,1303.1 286.6,1312.9 286.8,1305.5 287.0,1278.9 287.3,1320.2 287.5,1269.3 287.7,1295.3 287.9,1278.2 288.1,1288.3 288.4,1290.0 288.6,1303.0 288.8,1275.8 289.0,1299.0 289.2,1315.9 289.5,1297.2 289.7,1304.6 289.9,1303.0 290.1,1284.9 290.3,1290.9 290.6,1297.6 290.8,1304.5 291.0,1328.8 291.2,1322.8 291.4,1290.4 291.7,1291.1 291.9,1272.1 292.1,1262.1 292.3,1318.7 292.5,1306.7 292.8,1268.3 293.0,1299.0 293.2,1335.7 293.4,1306.8 293.6,1307.3 293.9,1302.8 294.1,1287.9 294.3,1281.7 294.5,1287.2 294.7,1302.6 295.0,1296.8 295.2,1311.6 295.4,1328.3 295.6,1310.4 295.8,1314.4 296.1,1296.0 296.3,1281.4 296.5,1335.6 296.7,1313.3 296.9,1320.6 297.2,1296.4 297.4,1275.9 297.6,1323.2 297.8,1269.0 298.0,1300.2 298.3,1294.6 298.5,1306.5 298.7,1315.9 298.9,1316.2 299.1,1270.6 299.4,1319.0 299.6,1273.8 299.8,1314.3 300.0,1292.5 300.2,1286.2 300.5,1295.8 300.7,1283.5 300.9,1304.1 301.1,1319.2 301.3,1317.1 301.6,1305.3 301.8,1322.0 302.0,1312.8 302.2,1338.8 302.4,1313.2 302.7,1295.9 302.9,1300.7 303.1,1293.5 303.3,1300.9 303.5,1303.3 303.8,1316.4 304.0,1318.0 304.2,1306.7 304.4,1312.6 304.6,1294.5 304.9,1297.5 305.1,1267.5 305.3,1294.1 305.5,1298.6 305.7,1346.9 306.0,1285.3 306.2,1307.7 306.4,1301.5 306.6,1282.0 306.8,1311.0 307.1,1307.2 307.3,1284.1 307.5,1270.4 307.7,1306.3 307.9,1284.8 308.2,1318.0 308.4,1303.1 308.6,1316.0 308.8,1302.9 309.0,1346.4 309.3,1318.8 309.5,1332.1 309.7,1310.0 309.9,1292.2 310.1,1286.1 310.4,1300.6 310.6,1313.2 310.8,1298.8 311.0,1347.5 311.2,1307.9 311.5,1316.3 311.7,1311.3 311.9,1289.4 312.1,1326.1 312.3,1319.7 312.6,1323.3 312.8,1295.0 313.0,1310.1 313.2,1309.3 313.4,1328.6 313.7,1288.3 313.9,1320.9 314.1,1330.5 314.3,1303.9 314.5,1297.7 314.8,1331.7 315.0,1314.7 315.2,1328.8 315.4,1323.0 315.6,1328.1 315.9,1308.4 316.1,1258.0 316.3,1320.9 316.5,1300.7 316.7,1321.4 317.0,1303.4 317.2,1337.6 317.4,1306.1 317.6,1325.2 317.8,1329.7 318.1,1310.9 318.3,1317.4 318.5,1312.1 318.7,1297.7 318.9,1335.9 319.2,1298.0 319.4,1287.7 319.6,1304.6 319.8,1314.7 320.0,1313.8 320.3,1307.4 320.5,1305.7 320.7,1278.8 320.9,1322.9 321.1,1340.6 321.4,1301.5 321.6,1284.5 321.8,1325.1 322.0,1310.6 322.2,1249.9 322.5,1301.4 322.7,1290.3 322.9,1294.9 323.1,1345.5 323.3,1329.6 323.6,1311.4 323.8,1314.4 324.0,1339.4 324.2,1296.8 324.4,1326.3 324.7,1304.4 324.9,1328.1 325.1,1318.4 325.3,1303.0 325.5,1332.1 325.8,1323.8 326.0,1344.7 326.2,1308.8 326.4,1317.6 326.6,1304.4 326.9,1335.2 327.1,1303.5 327.3,1315.5 327.5,1336.8 327.7,1324.4 328.0,1320.7 328.2,1320.4 328.4,1321.6 328.6,1326.7 328.8,1311.4 329.1,1284.4 329.3,1337.9 329.5,1299.5 329.7,1346.3 329.9,1321.3 330.2,1368.0 330.4,1335.9 330.6,1323.8 330.8,1341.2 331.0,1294.7 331.3,1320.1 331.5,1311.4 331.7,1317.6 331.9,1284.4 332.1,1282.0 332.4,1329.1 332.6,1318.3 332.8,1310.4 333.0,1316.1 333.2,1307.1 333.5,1309.9 333.7,1328.8 333.9,1314.0 334.1,1329.2 334.3,1306.5 334.6,1288.8 334.8,1307.4 335.0,1315.8 335.2,1300.1 335.4,1308.2 335.7,1310.1 335.9,1333.4 336.1,1332.0 336.3,1346.8 336.5,1306.2 336.8,1324.1 337.0,1339.6 337.2,1321.7 337.4,1317.8 337.6,1306.6 337.9,1332.6 338.1,1322.0 338.3,1335.5 338.5,1316.9 338.7,1352.8 339.0,1319.1 339.2,1299.8 339.4,1323.0 339.6,1327.6 339.8,1340.7 340.1,1312.3 340.3,1311.3 340.5,1315.8 340.7,1313.9 340.9,1286.1 341.2,1332.0 341.4,1340.7 341.6,1308.3 341.8,1304.7 342.0,1318.5 342.3,1307.7 342.5,1333.8 342.7,1311.0 342.9,1331.1 343.1,1301.2 343.4,1298.6 343.6,1296.4 343.8,1298.6 344.0,1328.6 344.2,1335.4 344.5,1324.2 344.7,1325.4 344.9,1286.4 345.1,1340.1 345.3,1290.3 345.6,1343.4 345.8,1361.4 346.0,1323.5 346.2,1332.6 346.4,1332.7 346.7,1301.5 346.9,1304.6 347.1,1311.8 347.3,1325.5 347.5,1336.6 347.8,1325.0 348.0,1341.0 348.2,1315.1 348.4,1300.6 348.6,1324.0 348.9,1322.1 349.1,1300.8 349.3,1340.3 349.5,1308.4 349.7,1312.2 350.0,1327.6 350.2,1306.7 350.4,1334.1 350.6,1330.5 350.8,1331.7 351.1,1324.4 351.3,1316.8 351.5,1312.3 351.7,1329.6 351.9,1346.8 352.2,1337.6 352.4,1331.0 352.6,1341.3 352.8,1346.7 353.0,1305.1 353.3,1324.8 353.5,1345.2 353.7,1315.2 353.9,1318.2 354.1,1335.8 354.4,1322.4 354.6,1345.5 354.8,1321.2 355.0,1335.9 355.2,1366.8 355.5,1344.9 355.7,1304.7 355.9,1309.8 356.1,1310.4 356.3,1325.9 356.6,1304.2 356.8,1335.8 357.0,1354.6 357.2,1352.1 357.4,1314.8 357.7,1322.5 357.9,1322.2 358.1,1313.8 358.3,1354.5 358.5,1316.1 358.8,1309.3 359.0,1333.1 359.2,1332.7 359.4,1351.9 359.6,1352.1 359.9,1324.5 360.1,1293.8 360.3,1338.4 360.5,1340.6 360.7,1356.5 361.0,1302.4 361.2,1309.0 361.4,1352.7 361.6,1353.9 361.8,1348.7 362.1,1327.5 362.3,1348.6 362.5,1319.0 362.7,1307.9 362.9,1326.9 363.2,1329.6 363.4,1340.9 363.6,1345.6 363.8,1299.7 364.0,1332.6 364.3,1335.9 364.5,1307.8 364.7,1323.9 364.9,1329.1 365.1,1335.4 365.4,1314.5 365.6,1318.6 365.8,1310.6 366.0,1333.9 366.2,1323.1 366.5,1319.0 366.7,1338.8 366.9,1325.9 367.1,1309.4 367.3,1346.9 367.6,1353.4 367.8,1340.2 368.0,1312.2 368.2,1346.7 368.4,1319.5 368.7,1299.0 368.9,1327.0 369.1,1358.0 369.3,1322.0 369.5,1338.7 369.8,1351.2 370.0,1332.3 370.2,1324.4 370.4,1329.7 370.6,1338.9 370.9,1321.5 371.1,1335.3 371.3,1338.6 371.5,1323.8 371.7,1341.4 372.0,1338.9 372.2,1324.8 372.4,1327.1 372.6,1331.9 372.8,1327.8 373.1,1327.0 373.3,1314.1 373.5,1332.1 373.7,1342.2 373.9,1340.7 374.2,1317.6 374.4,1339.6 374.6,1340.5 374.8,1316.2 375.0,1339.2 375.3,1328.2 375.5,1325.2 375.7,1334.8 375.9,1327.9 376.1,1296.0 376.4,1334.7 376.6,1313.7 376.8,1330.0 377.0,1342.3 377.2,1327.9 377.5,1324.6 377.7,1333.8 377.9,1339.6 378.1,1318.6 378.3,1321.9 378.6,1339.8 378.8,1357.2 379.0,1332.0 379.2,1345.9 379.4,1320.5 379.7,1332.4 379.9,1333.4 380.1,1312.1 380.3,1332.1 380.5,1329.5 380.8,1292.3 381.0,1331.1 381.2,1337.1 381.4,1336.3 381.6,1337.6 381.9,1315.1 382.1,1321.0 382.3,1329.6 382.5,1319.0 382.7,1325.4 383.0,1351.9 383.2,1319.0 383.4,1327.5 383.6,1361.7 383.8,1331.0 384.1,1317.5 384.3,1337.3 384.5,1337.3 384.7,1335.7 384.9,1307.7 385.2,1338.3 385.4,1343.0 385.6,1366.4 385.8,1345.0 386.0,1327.7 386.3,1339.6 386.5,1345.3 386.7,1332.7 386.9,1334.5 387.1,1356.7 387.4,1343.1 387.6,1343.6 387.8,1320.7 388.0,1342.6 388.2,1306.4 388.5,1367.2 388.7,1329.1 388.9,1346.4 389.1,1358.5 389.3,1319.9 389.6,1355.0 389.8,1340.6 390.0,1355.2 390.2,1331.7 390.4,1326.7 390.7,1357.7 390.9,1344.2 391.1,1338.5 391.3,1320.0 391.5,1358.5 391.8,1332.8 392.0,1334.7 392.2,1327.4 392.4,1338.4 392.6,1347.5 392.9,1337.5 393.1,1337.0 393.3,1329.8 393.5,1361.7 393.7,1363.8 394.0,1334.0 394.2,1324.9 394.4,1342.7 394.6,1313.5 394.8,1342.5 395.1,1343.0 395.3,1341.3 395.5,1363.6 395.7,1367.5 395.9,1345.9 396.2,1333.4 396.4,1355.1 396.6,1356.9 396.8,1320.6 397.0,1327.9 397.3,1335.3 397.5,1313.5 397.7,1322.1 397.9,1364.9 398.1,1319.9 398.4,1352.7 398.6,1327.1 398.8,1355.1 399.0,1344.8 399.2,1353.8 399.5,1318.3 399.7,1344.4 399.9,1331.1 400.1,1351.9 400.3,1351.2 400.6,1342.8 400.8,1338.2 401.0,1340.0 401.2,1347.0 401.4,1332.4 401.7,1333.5 401.9,1330.4 402.1,1324.0 402.3,1366.9 402.5,1319.9 402.8,1360.7 403.0,1351.6 403.2,1314.0 403.4,1312.1 403.6,1341.0 403.9,1324.1 404.1,1342.9 404.3,1355.5 404.5,1346.3 404.7,1337.4 405.0,1338.0 405.2,1363.8 405.4,1335.3 405.6,1368.0 405.8,1372.8 406.1,1335.5 406.3,1345.8 406.5,1368.0 406.7,1330.5 406.9,1348.1 407.2,1357.9 407.4,1325.4 407.6,1347.4 407.8,1343.7 408.0,1333.5 408.3,1365.8 408.5,1339.7 408.7,1377.4 408.9,1353.1 409.1,1331.0 409.4,1346.1 409.6,1330.1 409.8,1354.8 410.0,1352.3 410.2,1323.6 410.5,1335.6 410.7,1349.5 410.9,1344.5 411.1,1326.9 411.3,1359.1 411.6,1363.3 411.8,1319.0 412.0,1365.0 412.2,1310.2 412.4,1339.8 412.7,1331.5 412.9,1333.2 413.1,1344.6 413.3,1323.7 413.5,1340.2 413.8,1367.9 414.0,1348.8 414.2,1364.9 414.4,1355.2 414.6,1316.5 414.9,1369.4 415.1,1355.1 415.3,1352.0 415.5,1335.9 415.7,1333.7 416.0,1325.5 416.2,1339.5 416.4,1343.6 416.6,1339.4 416.8,1339.5 417.1,1311.6 417.3,1330.1 417.5,1329.5 417.7,1346.4 417.9,1334.8 418.2,1334.8 418.4,1343.1 418.6,1334.4 418.8,1337.3 419.0,1358.7 419.3,1339.2 419.5,1327.7 419.7,1351.0 419.9,1354.1 420.1,1351.5 420.4,1321.3 420.6,1356.4 420.8,1342.5 421.0,1343.8 421.2,1343.2 421.5,1349.0 421.7,1349.5 421.9,1364.7 422.1,1345.8 422.3,1340.7 422.6,1352.0 422.8,1340.5 423.0,1359.0 423.2,1344.6 423.4,1353.7 423.7,1334.3 423.9,1357.6 424.1,1352.0 424.3,1329.3 424.5,1336.6 424.8,1343.8 425.0,1322.2 425.2,1325.8 425.4,1355.1 425.6,1350.3 425.9,1363.3 426.1,1322.8 426.3,1337.0 426.5,1311.5 426.7,1369.6 427.0,1322.4 427.2,1339.0 427.4,1372.5 427.6,1364.8 427.8,1329.6 428.1,1377.7 428.3,1349.9 428.5,1327.1 428.7,1347.0 428.9,1352.9 429.2,1352.8 429.4,1310.4 429.6,1371.5 429.8,1318.5 430.0,1339.9 430.3,1365.4 430.5,1349.4 430.7,1342.9 430.9,1334.1 431.1,1352.4 431.4,1364.9 431.6,1335.2 431.8,1350.3 432.0,1338.2 432.2,1337.5 432.5,1312.1 432.7,1348.2 432.9,1358.8 433.1,1342.1 433.3,1360.8 433.6,1347.4 433.8,1363.8 434.0,1347.3 434.2,1339.5 434.4,1337.6 434.7,1346.8 434.9,1350.0 435.1,1333.5 435.3,1343.4 435.5,1325.3 435.8,1325.2 436.0,1356.0 436.2,1351.8 436.4,1359.9 436.6,1348.5 436.9,1350.3 437.1,1374.8 437.3,1333.8 437.5,1351.2 437.7,1371.1 438.0,1378.2 438.2,1355.7 438.4,1345.5 438.6,1331.1 438.8,1344.9 439.1,1349.7 439.3,1347.8 439.5,1355.3 439.7,1356.4 439.9,1340.5 440.2,1334.1 440.4,1343.5 440.6,1354.7 440.8,1373.2 441.0,1323.2 441.3,1364.7 441.5,1344.0 441.7,1365.3 441.9,1377.4 442.1,1356.3 442.4,1331.3 442.6,1342.5 442.8,1358.3 443.0,1344.0 443.2,1348.1 443.5,1330.7 443.7,1346.0 443.9,1339.9 444.1,1362.7 444.3,1354.4 444.6,1361.1 444.8,1310.4 445.0,1343.1 445.2,1338.8 445.4,1343.7 445.7,1337.0 445.9,1339.4 446.1,1389.5 446.3,1346.6 446.5,1331.7 446.8,1346.5 447.0,1385.5 447.2,1362.0 447.4,1337.1 447.6,1347.6 447.9,1350.5 448.1,1352.2 448.3,1323.5 448.5,1337.5 448.7,1349.5 449.0,1325.8 449.2,1349.5 449.4,1353.5 449.6,1364.4 449.8,1368.9 450.1,1350.0 450.3,1356.4 450.5,1363.4 450.7,1368.7 450.9,1354.5 451.2,1342.0 451.4,1362.6 451.6,1366.7 451.8,1356.1 452.0,1362.8 452.3,1378.4 452.5,1346.7 452.7,1343.8 452.9,1338.2 453.1,1360.1 453.4,1369.3 453.6,1347.4 453.8,1382.6 454.0,1346.6 454.2,1359.6 454.5,1353.3 454.7,1389.7 454.9,1346.5 455.1,1381.0 455.3,1353.7 455.6,1336.2 455.8,1348.0 456.0,1354.3 456.2,1382.2 456.4,1349.8 456.7,1357.0 456.9,1388.5 457.1,1359.8 457.3,1348.1 457.5,1346.6 457.8,1334.4 458.0,1363.3 458.2,1387.4 458.4,1349.8 458.6,1342.5 458.9,1362.5 459.1,1358.6 459.3,1356.5 459.5,1365.5 459.7,1359.3 460.0,1353.5 460.2,1374.0 460.4,1331.6 460.6,1342.5 460.8,1355.3 461.1,1339.4 461.3,1382.2 461.5,1327.2 461.7,1370.4 461.9,1368.5 462.2,1365.3 462.4,1366.7 462.6,1352.1 462.8,1350.0 463.0,1381.9 463.3,1358.8 463.5,1339.4 463.7,1343.0 463.9,1338.6 464.1,1365.6 464.4,1378.7 464.6,1354.4 464.8,1364.2 465.0,1354.8 465.2,1375.7 465.5,1375.7 465.7,1376.7 465.9,1389.8 466.1,1345.3 466.3,1375.5 466.6,1341.1 466.8,1374.8 467.0,1376.4 467.2,1375.3 467.4,1376.7 467.7,1363.3 467.9,1356.1 468.1,1376.9 468.3,1356.7 468.5,1376.5 468.8,1353.9 469.0,1371.4 469.2,1370.9 469.4,1354.7 469.6,1362.5 469.9,1380.6 470.1,1368.0 470.3,1375.3 470.5,1360.0 470.7,1369.7 471.0,1347.0 471.2,1357.3 471.4,1386.7 471.6,1376.7 471.8,1369.2 472.1,1371.2 472.3,1350.0 472.5,1375.6 472.7,1352.1 472.9,1359.4 473.2,1380.0 473.4,1359.6 473.6,1362.9 473.8,1369.2 474.0,1372.0 474.3,1401.8 474.5,1346.5 474.7,1365.2 474.9,1379.6 475.1,1364.4 475.4,1365.9 475.6,1360.0 475.8,1367.4 476.0,1381.2 476.2,1389.9 476.5,1377.3 476.7,1392.1 476.9,1374.2 477.1,1349.4 477.3,1383.8 477.6,1344.7 477.8,1372.6 478.0,1373.6 478.2,1348.2 478.4,1371.1 478.7,1366.5 478.9,1376.4 479.1,1370.3 479.3,1383.4 479.5,1369.6 479.8,1383.8 480.0,1375.4 480.2,1379.0 480.4,1377.5 480.6,1365.4 480.9,1391.8 481.1,1384.6 481.3,1344.8 481.5,1359.7 481.7,1400.8 482.0,1373.3 482.2,1416.6 482.4,1383.6 482.6,1384.1 482.8,1371.5 483.1,1375.1 483.3,1380.6 483.5,1391.3 483.7,1380.2 483.9,1378.4 484.2,1365.5 484.4,1372.9 484.6,1373.6 484.8,1377.8 485.0,1369.6 485.3,1364.8 485.5,1375.8 485.7,1346.2 485.9,1359.5 486.1,1369.1 486.4,1385.9 486.6,1371.0 486.8,1365.7 487.0,1390.2 487.2,1379.2 487.5,1399.8 487.7,1378.3 487.9,1371.7 488.1,1376.5 488.3,1406.0 488.6,1403.0 488.8,1384.3 489.0,1396.6 489.2,1363.6 489.4,1399.9 489.7,1387.6 489.9,1382.0 490.1,1383.7 490.3,1387.0 490.5,1377.6 490.8,1374.4 491.0,1367.6 491.2,1416.8 491.4,1372.2 491.6,1382.3 491.9,1398.5 492.1,1401.2 492.3,1404.2 492.5,1377.0 492.7,1379.0 493.0,1384.2 493.2,1343.5 493.4,1402.4 493.6,1363.6 493.8,1384.0 494.1,1398.1 494.3,1397.4 494.5,1380.3 494.7,1398.7 494.9,1401.1 495.2,1364.2 495.4,1383.6 495.6,1396.1 495.8,1393.4 496.0,1384.9 496.3,1386.5 496.5,1419.2 496.7,1383.6 496.9,1402.9 497.1,1373.1 497.4,1396.3 497.6,1403.5 497.8,1384.4 498.0,1382.0 498.2,1415.4 498.5,1388.4 498.7,1405.1 498.9,1372.6 499.1,1414.8 499.3,1366.2 499.6,1380.7 499.8,1385.4 500.0,1392.9 500.2,1396.6 500.4,1427.3 500.7,1422.4 500.9,1420.0 501.1,1406.4 501.3,1398.6 501.5,1368.7 501.8,1395.2 502.0,1388.9 502.2,1405.1 502.4,1383.8 502.6,1386.3 502.9,1387.8 503.1,1406.3 503.3,1400.3 503.5,1384.7 503.7,1375.7 504.0,1391.2 504.2,1390.5 504.4,1391.9 504.6,1400.4 504.8,1409.0 505.1,1410.0 505.3,1391.1 505.5,1390.1 505.7,1420.2 505.9,1397.4 506.2,1410.3 506.4,1403.6 506.6,1406.3 506.8,1422.4 507.0,1398.7 507.3,1416.4 507.5,1413.1 507.7,1400.6 507.9,1396.6 508.1,1396.0 508.4,1418.2 508.6,1416.2 508.8,1392.5 509.0,1408.9 509.2,1380.3 509.5,1404.8 509.7,1430.9 509.9,1388.9 510.1,1408.5 510.3,1396.8 510.6,1406.0 510.8,1391.3 511.0,1407.7 511.2,1375.1 511.4,1402.2 511.7,1401.5 511.9,1404.6 512.1,1432.0 512.3,1391.0 512.5,1397.2 512.8,1388.6 513.0,1412.8 513.2,1406.6 513.4,1391.4 513.6,1418.7 513.9,1410.3 514.1,1425.4 514.3,1416.8 514.5,1408.2 514.7,1397.2 515.0,1379.6 515.2,1394.7 515.4,1422.1 515.6,1404.6 515.8,1396.9 516.1,1411.0 516.3,1417.4 516.5,1443.9 516.7,1395.5 516.9,1403.8 517.2,1393.8 517.4,1393.0 517.6,1420.3 517.8,1407.3 518.0,1390.0 518.3,1426.0 518.5,1431.7 518.7,1419.3 518.9,1396.5 519.1,1395.6 519.4,1425.9 519.6,1396.6 519.8,1402.4 520.0,1391.1 520.2,1434.3 520.5,1401.4 520.7,1405.9 520.9,1400.6 521.1,1401.6 521.3,1395.5 521.6,1424.6 521.8,1401.8 522.0,1429.2 522.2,1394.4 522.4,1416.9 522.7,1423.2 522.9,1396.3 523.1,1414.2 523.3,1404.0 523.5,1388.0 523.8,1406.0 524.0,1387.7 524.2,1407.9 524.4,1392.1 524.6,1420.2 524.9,1431.2 525.1,1429.8 525.3,1402.9 525.5,1410.6 525.7,1437.5 526.0,1428.8 526.2,1420.8 526.4,1385.9 526.6,1408.8 526.8,1441.3 527.1,1419.3 527.3,1407.9 527.5,1414.7 527.7,1444.2 527.9,1439.2 528.2,1397.9 528.4,1399.9 528.6,1414.9 528.8,1431.0 529.0,1405.1 529.3,1407.6 529.5,1382.6 529.7,1407.2 529.9,1422.7 530.1,1422.9 530.4,1396.8 530.6,1425.4 530.8,1405.0 531.0,1397.6 531.2,1421.9 531.5,1395.0 531.7,1409.7 531.9,1404.7 532.1,1413.9 532.3,1418.6 532.6,1410.4 532.8,1405.5 533.0,1409.7 533.2,1386.2 533.4,1415.0 533.7,1442.7 533.9,1421.6 534.1,1432.0 534.3,1418.0 534.5,1418.4 534.8,1424.1 535.0,1427.1 535.2,1426.9 535.4,1408.6 535.6,1419.6 535.9,1400.8 536.1,1432.7 536.3,1419.5 536.5,1416.5 536.7,1404.4 537.0,1426.3 537.2,1433.1 537.4,1427.1 537.6,1434.8 537.8,1411.5 538.1,1432.9 538.3,1420.9 538.5,1388.5 538.7,1425.5 538.9,1409.7 539.2,1420.6 539.4,1414.3 539.6,1411.9 539.8,1436.2 540.0,1416.4 540.3,1425.7 540.5,1432.4 540.7,1419.2 540.9,1408.7 541.1,1425.2 541.4,1422.5 541.6,1413.6 541.8,1426.5 542.0,1441.1 542.2,1437.5 542.5,1444.9 542.7,1453.4 542.9,1428.7 543.1,1426.6 543.3,1413.2 543.6,1441.4 543.8,1420.0 544.0,1434.3 544.2,1447.8 544.4,1429.0 544.7,1409.4 544.9,1415.1 545.1,1423.7 545.3,1444.5 545.5,1424.3 545.8,1426.7 546.0,1415.3 546.2,1432.9 546.4,1430.0 546.6,1438.8 546.9,1410.5 547.1,1436.6 547.3,1412.0 547.5,1421.2 547.7,1422.8 548.0,1427.1 548.2,1434.6 548.4,1401.4 548.6,1428.9 548.8,1422.1 549.1,1414.0 549.3,1426.6 549.5,1435.9 549.7,1425.1 549.9,1424.8 550.2,1439.2 550.4,1422.0 550.6,1444.1 550.8,1436.1 551.0,1436.9 551.3,1439.0 551.5,1447.1 551.7,1423.6 551.9,1446.2 552.1,1421.9 552.4,1437.2 552.6,1440.2 552.8,1434.8 553.0,1419.8 553.2,1418.7 553.5,1420.2 553.7,1433.1 553.9,1435.8 554.1,1440.6 554.3,1415.8 554.6,1438.0 554.8,1446.6 555.0,1436.4 555.2,1434.5 555.4,1444.5 555.7,1453.8 555.9,1452.8 556.1,1453.5 556.3,1420.3 556.5,1452.8 556.8,1432.1 557.0,1446.0 557.2,1429.0 557.4,1440.7 557.6,1429.6 557.9,1433.1 558.1,1459.5 558.3,1422.7 558.5,1448.5 558.7,1437.9 559.0,1424.2 559.2,1452.8 559.4,1437.9 559.6,1431.1 559.8,1441.7 560.1,1428.5 560.3,1457.6 560.5,1420.7 560.7,1429.1 560.9,1414.9 561.2,1441.4 561.4,1448.2 561.6,1449.6 561.8,1457.0 562.0,1439.0 562.3,1433.9 562.5,1450.1 562.7,1432.5 562.9,1443.6 563.1,1434.3 563.4,1431.5 563.6,1439.4 563.8,1453.2 564.0,1450.8 564.2,1442.1 564.5,1410.2 564.7,1440.9 564.9,1445.3 565.1,1447.3 565.3,1432.9 565.6,1452.9 565.8,1445.2 566.0,1419.6 566.2,1450.3 566.4,1460.6 566.7,1445.0 566.9,1432.9 567.1,1463.0 567.3,1453.8 567.5,1421.3 567.8,1454.6 568.0,1447.2 568.2,1445.9 568.4,1422.5 568.6,1423.5 568.9,1444.8 569.1,1464.9 569.3,1444.9 569.5,1444.0 569.7,1436.0 570.0,1438.6 570.2,1454.9 570.4,1434.4 570.6,1464.6 570.8,1448.7 571.1,1446.9 571.3,1441.8 571.5,1435.1 571.7,1440.4 571.9,1426.8 572.2,1444.0 572.4,1421.7 572.6,1468.2 572.8,1442.5 573.0,1425.9 573.3,1446.1 573.5,1444.5 573.7,1437.0 573.9,1446.1 574.1,1434.2 574.4,1441.9 574.6,1441.4 574.8,1449.0 575.0,1437.4 575.2,1446.9 575.5,1412.1 575.7,1456.0 575.9,1446.1 576.1,1450.3 576.3,1441.6 576.6,1454.3 576.8,1444.2 577.0,1447.0 577.2,1445.8 577.4,1439.0 577.7,1435.0 577.9,1451.3 578.1,1452.5 578.3,1445.0 578.5,1459.7 578.8,1447.4 579.0,1451.5 579.2,1465.6 579.4,1454.2 579.6,1444.4 579.9,1427.2 580.1,1438.2 580.3,1435.1 580.5,1455.6 580.7,1407.6 581.0,1469.2 581.2,1437.3 581.4,1459.2 581.6,1450.7 581.8,1453.4 582.1,1433.3 582.3,1459.1 582.5,1446.8 582.7,1454.8 582.9,1437.8 583.2,1447.8 583.4,1440.5 583.6,1451.8 583.8,1456.0 584.0,1446.1 584.3,1453.5 584.5,1454.4 584.7,1448.2 584.9,1446.0 585.1,1428.0 585.4,1460.6 585.6,1451.1 585.8,1446.6 586.0,1453.1 586.2,1443.8 586.5,1446.2 586.7,1455.1 586.9,1433.4 587.1,1446.5 587.3,1452.6 587.6,1433.2 587.8,1438.5 588.0,1463.8 588.2,1473.9 588.4,1453.8 588.7,1457.8 588.9,1441.6 589.1,1465.4 589.3,1450.4 589.5,1452.1 589.8,1455.6 590.0,1445.3 590.2,1444.0 590.4,1451.2 590.6,1440.3 590.9,1445.4 591.1,1424.3 591.3,1441.0 591.5,1456.7 591.7,1463.6 592.0,1458.4 592.2,1443.2 592.4,1452.9 592.6,1442.2 592.8,1441.0 593.1,1462.7 593.3,1448.5 593.5,1449.1 593.7,1454.6 593.9,1462.5 594.2,1454.1 594.4,1450.4 594.6,1456.6 594.8,1452.4 595.0,1450.1 595.3,1430.4 595.5,1444.5 595.7,1452.4 595.9,1443.3 596.1,1473.3 596.4,1478.1 596.6,1472.1 596.8,1445.2 597.0,1459.8 597.2,1459.2 597.5,1458.6 597.7,1438.6 597.9,1464.8 598.1,1472.9 598.3,1463.9 598.6,1477.5 598.8,1452.7 599.0,1463.0 599.2,1469.3 599.4,1446.6 599.7,1455.0 599.9,1448.7 600.1,1465.5 600.3,1445.0 600.5,1459.8 600.8,1451.3 601.0,1466.0 601.2,1451.7 601.4,1455.4 601.6,1459.7 601.9,1449.5 602.1,1452.9 602.3,1454.9 602.5,1452.3 602.7,1460.1 603.0,1449.7 603.2,1458.3 603.4,1454.4 603.6,1451.0 603.8,1446.2 604.1,1438.4 604.3,1450.2 604.5,1462.7 604.7,1453.8 604.9,1472.3 605.2,1447.4 605.4,1453.3 605.6,1441.3 605.8,1468.5 606.0,1443.8 606.3,1461.7 606.5,1460.2 606.7,1483.3 606.9,1470.8 607.1,1465.5 607.4,1459.1 607.6,1476.5 607.8,1454.4 608.0,1445.9 608.2,1466.9 608.5,1457.7 608.7,1451.5 608.9,1464.1 609.1,1463.7 609.3,1443.5 609.6,1468.4 609.8,1478.5 610.0,1455.2 610.2,1444.4 610.4,1461.8 610.7,1458.2 610.9,1467.1 611.1,1468.6 611.3,1458.5 611.5,1474.7 611.8,1441.0 612.0,1453.1 612.2,1461.9 612.4,1464.0 612.6,1459.4 612.9,1467.7 613.1,1447.8 613.3,1438.0 613.5,1468.7 613.7,1473.9 614.0,1461.0 614.2,1449.7 614.4,1454.3 614.6,1467.2 614.8,1463.4 615.1,1474.3 615.3,1477.6 615.5,1473.7 615.7,1459.6 615.9,1472.1 616.2,1466.9 616.4,1464.1 616.6,1463.9 616.8,1461.4 617.0,1452.5 617.3,1465.9 617.5,1455.0 617.7,1462.0 617.9,1470.2 618.1,1470.1 618.4,1444.9 618.6,1456.2 618.8,1452.3 619.0,1465.4 619.2,1455.8 619.5,1471.9 619.7,1458.7 619.9,1467.5 620.1,1453.9 620.3,1456.2 620.6,1460.6 620.8,1467.5 621.0,1432.1 621.2,1464.2 621.4,1449.7 621.7,1465.2 621.9,1446.6 622.1,1459.6 622.3,1475.0 622.5,1477.5 622.8,1454.3 623.0,1479.9 623.2,1459.9 623.4,1464.3 623.6,1468.8 623.9,1465.1 624.1,1467.5 624.3,1466.0 624.5,1472.4 624.7,1467.4 625.0,1460.3 625.2,1455.1 625.4,1454.8 625.6,1463.8 625.8,1471.3 626.1,1467.6 626.3,1461.9 626.5,1468.8 626.7,1459.6 626.9,1466.1 627.2,1469.2 627.4,1461.7 627.6,1477.5 627.8,1475.6 628.0,1462.7 628.3,1471.2 628.5,1467.3 628.7,1468.6 628.9,1468.7 629.1,1477.9 629.4,1469.0 629.6,1468.9 629.8,1474.8 630.0,1474.5 630.2,1482.1 630.5,1459.3 630.7,1472.9 630.9,1450.3 631.1,1467.3 631.3,1455.6 631.6,1455.4 631.8,1466.2 632.0,1457.7 632.2,1464.8 632.4,1443.1 632.7,1479.9 632.9,1443.7 633.1,1461.7 633.3,1482.9 633.5,1455.7 633.8,1483.1 634.0,1477.9 634.2,1467.4 634.4,1465.0 634.6,1465.8 634.9,1470.8 635.1,1477.1 635.3,1480.3 635.5,1438.7 635.7,1476.4 636.0,1474.3 636.2,1458.0 636.4,1476.8 636.6,1477.2 636.8,1477.2 637.1,1468.6 637.3,1476.2 637.5,1480.0 637.7,1463.6 637.9,1465.1 638.2,1464.4 638.4,1479.9 638.6,1469.8 638.8,1463.3 639.0,1460.8 639.3,1458.7 639.5,1471.8 639.7,1477.3 639.9,1487.8 640.1,1461.4 640.4,1461.7 640.6,1461.9 640.8,1462.7 641.0,1457.1 641.2,1483.5 641.5,1474.3 641.7,1465.9 641.9,1448.3 642.1,1482.2 642.3,1477.1 642.6,1471.5 642.8,1476.7 643.0,1464.7 643.2,1476.2 643.4,1466.0 643.7,1474.7 643.9,1469.5 644.1,1459.6 644.3,1461.7 644.5,1480.2 644.8,1479.6 645.0,1469.5 645.2,1465.1 645.4,1467.3 645.6,1474.5 645.9,1459.6 646.1,1479.6 646.3,1464.5 646.5,1461.9 646.7,1471.3 647.0,1487.8 647.2,1465.7 647.4,1468.5 647.6,1461.9 647.8,1474.0 648.1,1474.2 648.3,1471.9 648.5,1468.8 648.7,1475.2 648.9,1478.9 649.2,1468.4 649.4,1470.2 649.6,1466.9 649.8,1467.7 650.0,1482.4 650.3,1464.0 650.5,1473.9 650.7,1481.2 650.9,1468.3 651.1,1477.4 651.4,1478.8 651.6,1460.5 651.8,1480.8 652.0,1464.3 652.2,1473.8 652.5,1460.0 652.7,1459.3 652.9,1470.8 653.1,1486.5 653.3,1494.5 653.6,1496.2 653.8,1484.7 654.0,1483.3 654.2,1479.9 654.4,1479.2 654.7,1470.6 654.9,1469.9 655.1,1477.4 655.3,1477.8 655.5,1468.7 655.8,1464.0 656.0,1467.9 656.2,1502.3 656.4,1468.3 656.6,1486.4 656.9,1484.6 657.1,1483.4 657.3,1469.3 657.5,1491.5 657.7,1477.0 658.0,1469.5 658.2,1468.6 658.4,1473.5 658.6,1492.6 658.8,1463.9 659.1,1469.1 659.3,1475.0 659.5,1479.0 659.7,1465.9 659.9,1466.6 660.2,1470.3 660.4,1480.7 660.6,1473.6 660.8,1473.2 661.0,1476.8 661.3,1476.1 661.5,1483.2 661.7,1469.1 661.9,1475.3 662.1,1469.9 662.4,1481.5 662.6,1482.4 662.8,1473.5 663.0,1485.5 663.2,1474.0 663.5,1487.5 663.7,1472.5 663.9,1472.1 664.1,1463.3 664.3,1467.3 664.6,1472.6 664.8,1458.0 665.0,1475.8 665.2,1483.2 665.4,1480.6 665.7,1478.5 665.9,1481.8 666.1,1471.4 666.3,1472.2 666.5,1483.3 666.8,1475.1 667.0,1484.7 667.2,1472.3 667.4,1482.2 667.6,1486.9 667.9,1475.8 668.1,1490.9 668.3,1489.8 668.5,1456.2 668.7,1499.1 669.0,1463.1 669.2,1497.6 669.4,1469.3 669.6,1459.0 669.8,1465.4 670.1,1480.8 670.3,1468.3 670.5,1472.2 670.7,1487.3 670.9,1468.5 671.2,1481.3 671.4,1487.9 671.6,1461.5 671.8,1467.3 672.0,1479.1 672.3,1477.3 672.5,1479.8 672.7,1460.4 672.9,1470.3 673.1,1480.9 673.4,1482.6 673.6,1488.4 673.8,1474.4 674.0,1471.6 674.2,1469.5 674.5,1469.9 674.7,1460.4 674.9,1492.2 675.1,1474.1 675.3,1471.9 675.6,1472.5 675.8,1482.6 676.0,1478.8 676.2,1471.3 676.4,1486.5 676.7,1480.2 676.9,1476.4 677.1,1478.0 677.3,1488.1 677.5,1484.0 677.8,1477.3 678.0,1487.0 678.2,1459.8 678.4,1484.3 678.6,1471.1 678.9,1473.0 679.1,1476.3 679.3,1494.4 679.5,1477.1 679.7,1477.3 680.0,1483.6 680.2,1461.5 680.4,1476.7 680.6,1484.5 680.8,1470.3 681.1,1483.7 681.3,1472.4 681.5,1466.1 681.7,1486.4 681.9,1479.7 682.2,1485.5 682.4,1480.6 682.6,1470.1 682.8,1487.9 683.0,1483.0 683.3,1483.0 683.5,1476.3 683.7,1470.3 683.9,1491.9 684.1,1486.5 684.4,1481.5 684.6,1475.0 684.8,1491.4 685.0,1473.0 685.2,1473.7 685.5,1498.4 685.7,1485.5 685.9,1488.2 686.1,1486.5 686.3,1498.4 686.6,1484.0 686.8,1484.9 687.0,1473.3 687.2,1481.1 687.4,1467.8 687.7,1477.6 687.9,1480.7 688.1,1487.0 688.3,1492.4 688.5,1475.1 688.8,1466.5 689.0,1483.3 689.2,1473.6 689.4,1495.5 689.6,1491.8 689.9,1472.9 690.1,1483.1 690.3,1492.1 690.5,1473.5 690.7,1477.2 691.0,1480.7 691.2,1493.0 691.4,1485.5 691.6,1479.4 691.8,1484.3 692.1,1481.9 692.3,1483.1 692.5,1485.7 692.7,1483.6 692.9,1487.2 693.2,1481.8 693.4,1479.3 693.6,1479.1 693.8,1468.2 694.0,1477.6 694.3,1496.9 694.5,1481.3 694.7,1486.1 694.9,1489.1 695.1,1477.7 695.4,1479.0 695.6,1486.2 695.8,1474.1 696.0,1489.5 696.2,1487.7 696.5,1484.0 696.7,1484.2 696.9,1488.3 697.1,1483.3 697.3,1461.2 697.6,1486.6 697.8,1474.4 698.0,1478.2 698.2,1478.9 698.4,1479.0 698.7,1468.4 698.9,1466.6 699.1,1482.0 699.3,1483.1 699.5,1486.4 699.8,1472.2 700.0,1480.4 700.2,1489.7 700.4,1480.0 700.6,1478.3 700.9,1500.4 701.1,1469.3 701.3,1472.5 701.5,1474.2 701.7,1479.3 702.0,1510.3 702.2,1474.8 702.4,1481.3 702.6,1479.2 702.8,1477.3 703.1,1490.8 703.3,1480.1 703.5,1493.1 703.7,1496.1 703.9,1480.1 704.2,1496.2 704.4,1474.3 704.6,1487.2 704.8,1493.2 705.0,1475.9 705.3,1484.2 705.5,1488.8 705.7,1489.7 705.9,1487.8 706.1,1501.8 706.4,1483.8 706.6,1495.3 706.8,1503.1 707.0,1480.0 707.2,1481.7 707.5,1476.5 707.7,1491.4 707.9,1497.4 708.1,1470.6 708.3,1477.6 708.6,1480.4 708.8,1504.5 709.0,1482.5 709.2,1489.0 709.4,1475.6 709.7,1493.3 709.9,1477.0 710.1,1485.4 710.3,1477.3 710.5,1485.3 710.8,1484.9 711.0,1488.1 711.2,1488.0 711.4,1501.6 711.6,1480.1 711.9,1497.7 712.1,1489.2 712.3,1485.1 712.5,1489.2 712.7,1488.8 713.0,1493.9 713.2,1493.7 713.4,1492.0 713.6,1489.1 713.8,1473.5 714.1,1494.2 714.3,1496.5 714.5,1490.3 714.7,1489.8 714.9,1480.1 715.2,1489.6 715.4,1494.7 715.6,1476.3 715.8,1483.5 716.0,1483.0 716.3,1497.9 716.5,1483.7 716.7,1463.4 716.9,1488.7 717.1,1498.7 717.4,1486.2 717.6,1483.9 717.8,1489.4 718.0,1501.9 718.2,1485.5 718.5,1485.5 718.7,1491.3 718.9,1481.3 719.1,1473.6 719.3,1489.2 719.6,1484.9 719.8,1491.0 720.0,1489.2 720.2,1492.5 720.4,1479.0 720.7,1490.9 720.9,1480.5 721.1,1491.2 721.3,1484.6 721.5,1502.5 721.8,1480.9 722.0,1469.3 722.2,1489.5 722.4,1484.5 722.6,1480.7 722.9,1490.2 723.1,1502.3 723.3,1487.1 723.5,1482.6 723.7,1500.4 724.0,1498.0 724.2,1488.7 724.4,1483.9 724.6,1494.6 724.8,1482.7 725.1,1483.3 725.3,1481.7 725.5,1493.1 725.7,1501.2 725.9,1489.1 726.2,1503.5 726.4,1472.1 726.6,1488.2 726.8,1474.3 727.0,1496.1 727.3,1499.4 727.5,1473.7 727.7,1482.2 727.9,1489.1 728.1,1476.1 728.4,1481.2 728.6,1480.1 728.8,1489.0 729.0,1477.9 729.2,1478.7 729.5,1481.6 729.7,1487.3 729.9,1488.8 730.1,1486.5 730.3,1498.2 730.6,1485.1 730.8,1489.0 731.0,1493.2 731.2,1485.3 731.4,1499.5 731.7,1494.7 731.9,1495.0 732.1,1481.1 732.3,1487.4 732.5,1493.3 732.8,1497.4 733.0,1483.4 733.2,1484.4 733.4,1477.8 733.6,1476.3 733.9,1497.9 734.1,1488.8 734.3,1493.5 734.5,1498.1 734.7,1488.9 735.0,1490.1 735.2,1480.6 735.4,1484.3 735.6,1492.9 735.8,1500.9 736.1,1497.9 736.3,1483.7 736.5,1483.1 736.7,1495.3 736.9,1493.6 737.2,1494.1 737.4,1491.8 737.6,1500.3 737.8,1492.1 738.0,1501.8 738.3,1494.4 738.5,1490.1 738.7,1480.7 738.9,1492.7 739.1,1497.5 739.4,1491.6 739.6,1482.1 739.8,1474.8 740.0,1487.8 740.2,1504.8 740.5,1480.9 740.7,1486.4 740.9,1491.6 741.1,1498.2 741.3,1482.2 741.6,1490.6 741.8,1492.7 742.0,1480.6 742.2,1493.7 742.4,1481.9 742.7,1491.7 742.9,1495.5 743.1,1491.1 743.3,1480.1 743.5,1496.1 743.8,1496.4 744.0,1492.5 744.2,1497.2 744.4,1486.7 744.6,1479.6 744.9,1489.0 745.1,1494.5 745.3,1497.9 745.5,1484.8 745.7,1492.3 746.0,1491.9 746.2,1486.5 746.4,1473.9 746.6,1476.4 746.8,1502.9 747.1,1478.0 747.3,1475.6 747.5,1478.5 747.7,1487.6 747.9,1500.9 748.2,1493.4 748.4,1486.4 748.6,1487.8 748.8,1494.0 749.0,1490.8 749.3,1475.9 749.5,1500.4 749.7,1498.0 749.9,1481.7 750.1,1488.5 750.4,1494.1 750.6,1492.9 750.8,1487.8 751.0,1491.2 751.2,1505.6 751.5,1488.2 751.7,1498.8 751.9,1492.9 752.1,1481.3 752.3,1496.2 752.6,1493.8 752.8,1500.6 753.0,1504.2 753.2,1499.7 753.4,1493.7 753.7,1495.5 753.9,1498.1 754.1,1484.6 754.3,1482.9 754.5,1497.6 754.8,1482.0 755.0,1488.9 755.2,1505.9 755.4,1498.7 755.6,1501.4 755.9,1490.9 756.1,1500.7 756.3,1484.3 756.5,1484.5 756.7,1489.7 757.0,1485.4 757.2,1501.8 757.4,1489.8 757.6,1481.5 757.8,1498.4 758.1,1497.0 758.3,1500.8 758.5,1481.3 758.7,1484.0 758.9,1472.4 759.2,1494.1 759.4,1490.3 759.6,1486.3 759.8,1502.0 760.0,1484.7 760.3,1486.7 760.5,1483.6 760.7,1482.4 760.9,1490.4 761.1,1489.2 761.4,1487.7 761.6,1481.5 761.8,1479.5 762.0,1485.6 762.2,1490.0 762.5,1483.3 762.7,1486.9 762.9,1487.5 763.1,1482.7 763.3,1478.0 763.6,1489.2 763.8,1503.6 764.0,1494.5 764.2,1489.6 764.4,1484.8 764.7,1485.4 764.9,1499.5 765.1,1481.3 765.3,1505.6 765.5,1491.4 765.8,1493.7 766.0,1488.3 766.2,1499.2 766.4,1499.1 766.6,1485.3 766.9,1506.6 767.1,1493.1 767.3,1479.2 767.5,1495.6 767.7,1494.3 768.0,1493.1 768.2,1498.8 768.4,1500.7 768.6,1481.8 768.8,1489.9 769.1,1490.5 769.3,1492.0 769.5,1476.8 769.7,1493.7 769.9,1492.2 770.2,1507.6 770.4,1484.6 770.6,1487.6 770.8,1495.4 771.0,1491.6 771.3,1499.0 771.5,1501.7 771.7,1484.4 771.9,1492.6 772.1,1497.1 772.4,1482.0 772.6,1510.2 772.8,1494.2 773.0,1493.1 773.2,1479.1 773.5,1486.1 773.7,1475.1 773.9,1497.3 774.1,1485.0 774.3,1492.2 774.6,1494.7 774.8,1493.2 775.0,1488.2 775.2,1497.7 775.4,1482.2 775.7,1475.9 775.9,1479.2 776.1,1497.6 776.3,1503.1 776.5,1485.7 776.8,1486.7 777.0,1494.6 777.2,1480.1 777.4,1487.0 777.6,1479.2 777.9,1491.5 778.1,1466.7 778.3,1478.3 778.5,1476.4 778.7,1490.3 779.0,1494.9 779.2,1490.6 779.4,1508.1 779.6,1491.2 779.8,1482.8 780.1,1487.0 780.3,1496.4 780.5,1494.7 780.7,1508.9 780.9,1492.6 781.2,1483.1 781.4,1481.8 781.6,1497.7 781.8,1467.6 782.0,1494.3 782.3,1498.0 782.5,1487.3 782.7,1493.0 782.9,1502.0 783.1,1503.5 783.4,1502.6 783.6,1499.3 783.8,1489.7 784.0,1481.1 784.2,1473.4 784.5,1506.1 784.7,1499.9 784.9,1480.4 785.1,1500.3 785.3,1487.5 785.6,1486.8 785.8,1481.0 786.0,1508.6 786.2,1479.6 786.4,1481.7 786.7,1497.1 786.9,1498.2 787.1,1495.6 787.3,1482.5 787.5,1489.5 787.8,1483.9 788.0,1487.1 788.2,1506.5 788.4,1493.7 788.6,1498.0 788.9,1483.7 789.1,1486.8 789.3,1495.2 789.5,1501.6 789.7,1489.1 790.0,1504.1 790.2,1511.7 790.4,1476.3 790.6,1491.5 790.8,1497.0 791.1,1489.6 791.3,1505.6 791.5,1492.5 791.7,1494.3 791.9,1477.9 792.2,1499.9 792.4,1488.7 792.6,1495.1 792.8,1489.2 793.0,1485.5 793.3,1489.9 793.5,1480.6 793.7,1489.2 793.9,1500.7 794.1,1499.3 794.4,1483.1 794.6,1498.4 794.8,1488.0 795.0,1485.8 795.2,1496.3 795.5,1497.4 795.7,1486.0 795.9,1499.2 796.1,1491.2 796.3,1509.5 796.6,1478.7 796.8,1489.3 797.0,1487.3 797.2,1484.1 797.4,1479.8 797.7,1501.8 797.9,1493.8 798.1,1472.5 798.3,1486.7 798.5,1488.1 798.8,1494.1 799.0,1483.0 799.2,1503.9 799.4,1491.6 799.6,1503.5 799.9,1496.1 800.1,1489.3 800.3,1490.1 800.5,1494.9 800.7,1492.9 801.0,1493.8 801.2,1502.0 801.4,1502.0 801.6,1483.0 801.8,1477.8 802.1,1483.8 802.3,1502.0 802.5,1490.0 802.7,1486.2 802.9,1494.5 803.2,1497.8 803.4,1482.1 803.6,1483.2 803.8,1491.2 804.0,1490.7 804.3,1485.3 804.5,1510.7 804.7,1502.1 804.9,1490.2 805.1,1497.2 805.4,1481.3 805.6,1499.4 805.8,1489.9 806.0,1485.6 806.2,1479.9 806.5,1498.5 806.7,1492.1 806.9,1486.6 807.1,1500.1 807.3,1489.4 807.6,1493.7 807.8,1487.5 808.0,1495.0 808.2,1481.7 808.4,1485.9 808.7,1491.9 808.9,1484.5 809.1,1486.8 809.3,1497.6 809.5,1487.3 809.8,1500.4 810.0,1495.1 810.2,1491.7 810.4,1478.8 810.6,1504.2 810.9,1503.9 811.1,1494.0 811.3,1492.8 811.5,1492.2 811.7,1488.1 812.0,1489.5 812.2,1495.0 812.4,1478.9 812.6,1491.2 812.8,1495.1 813.1,1476.7 813.3,1485.9 813.5,1478.3 813.7,1479.3 813.9,1496.0 814.2,1481.4 814.4,1513.6 814.6,1489.7 814.8,1484.2 815.0,1488.7 815.3,1491.0 815.5,1493.6 815.7,1493.8 815.9,1493.7 816.1,1500.3 816.4,1501.3 816.6,1491.8 816.8,1494.3 817.0,1484.9 817.2,1486.1 817.5,1488.1 817.7,1502.6 817.9,1485.3 818.1,1493.0 818.3,1492.3 818.6,1498.1 818.8,1486.3 819.0,1488.1 819.2,1500.5 819.4,1493.6 819.7,1486.9 819.9,1501.4 820.1,1492.5 820.3,1487.2 820.5,1499.3 820.8,1506.5 821.0,1488.2 821.2,1483.2 821.4,1471.7 821.6,1507.0 821.9,1487.0 822.1,1489.0 822.3,1483.2 822.5,1490.1 822.7,1477.5 823.0,1504.5 823.2,1497.5 823.4,1487.1 823.6,1481.3 823.8,1496.6 824.1,1484.6 824.3,1502.5 824.5,1494.0 824.7,1491.4 824.9,1481.6 825.2,1493.8 825.4,1480.5 825.6,1501.5 825.8,1475.0 826.0,1488.6 826.3,1511.6 826.5,1487.5 826.7,1497.9 826.9,1500.6 827.1,1494.7 827.4,1490.7 827.6,1500.5 827.8,1500.8 828.0,1487.1 828.2,1505.2 828.5,1503.0 828.7,1483.4 828.9,1496.4 829.1,1496.8 829.3,1493.3 829.6,1486.8 829.8,1481.9 830.0,1496.3 830.2,1478.6 830.4,1487.3 830.7,1475.7 830.9,1486.1 831.1,1493.4 831.3,1480.1 831.5,1498.6 831.8,1500.0 832.0,1495.6 832.2,1497.7 832.4,1504.5 832.6,1498.4 832.9,1477.9 833.1,1490.9 833.3,1485.1 833.5,1492.4 833.7,1478.0 834.0,1492.6 834.2,1490.0 834.4,1496.7 834.6,1484.1 834.8,1489.9 835.1,1474.3 835.3,1490.7 835.5,1491.7 835.7,1480.8 835.9,1492.0 836.2,1480.5 836.4,1495.9 836.6,1485.0 836.8,1488.4 837.0,1505.8 837.3,1496.7 837.5,1504.7 837.7,1500.6 837.9,1491.1 838.1,1505.1 838.4,1494.3 838.6,1492.0 838.8,1488.4 839.0,1482.1 839.2,1496.7 839.5,1490.3 839.7,1495.9 839.9,1491.3 840.1,1497.3 840.3,1487.3 840.6,1494.4 840.8,1500.9 841.0,1503.3 841.2,1492.5 841.4,1484.7 841.7,1505.0 841.9,1510.0 842.1,1487.3 842.3,1503.7 842.5,1497.4 842.8,1485.3 843.0,1494.2 843.2,1482.7 843.4,1490.0 843.6,1489.7 843.9,1492.5 844.1,1502.3 844.3,1480.8 844.5,1467.4 844.7,1498.8 845.0,1490.5 845.2,1500.8 845.4,1500.0 845.6,1506.9 845.8,1476.4 846.1,1506.0 846.3,1492.6 846.5,1488.9 846.7,1506.1 846.9,1503.3 847.2,1481.5 847.4,1487.8 847.6,1505.1 847.8,1481.3 848.0,1496.2 848.3,1497.4 848.5,1491.6 848.7,1488.7 848.9,1499.8 849.1,1491.3 849.4,1484.9 849.6,1498.4 849.8,1480.5 850.0,1489.2 850.2,1496.7 850.5,1481.1 850.7,1505.3 850.9,1495.9 851.1,1492.4 851.3,1484.2 851.6,1494.5 851.8,1490.1 852.0,1496.0 852.2,1488.1 852.4,1495.1 852.7,1480.2 852.9,1479.7 853.1,1486.0 853.3,1466.0 853.5,1489.9 853.8,1492.5 854.0,1477.6 854.2,1490.1 854.4,1486.1 854.6,1485.7 854.9,1502.1 855.1,1488.2 855.3,1491.1 855.5,1486.2 855.7,1487.0 856.0,1490.3 856.2,1491.7 856.4,1489.3 856.6,1500.1 856.8,1489.3 857.1,1490.6 857.3,1505.9 857.5,1493.4 857.7,1498.6 857.9,1497.4 858.2,1488.4 858.4,1502.6 858.6,1493.9 858.8,1493.1 859.0,1492.6 859.3,1495.1 859.5,1498.8 859.7,1474.0 859.9,1503.2 860.1,1474.6 860.4,1481.4 860.6,1497.0 860.8,1490.2 861.0,1497.4 861.2,1481.6 861.5,1492.0 861.7,1496.4 861.9,1484.6 862.1,1485.5 862.3,1492.8 862.6,1495.8 862.8,1470.7 863.0,1488.6 863.2,1494.0 863.4,1503.8 863.7,1482.0 863.9,1492.5 864.1,1482.4 864.3,1483.5 864.5,1486.2 864.8,1505.5 865.0,1496.2 865.2,1499.8 865.4,1490.7 865.6,1500.9 865.9,1492.1 866.1,1498.0 866.3,1472.5 866.5,1484.5 866.7,1497.7 867.0,1510.3 867.2,1508.2 867.4,1483.5 867.6,1490.4 867.8,1489.8 868.1,1513.7 868.3,1485.8 868.5,1493.9 868.7,1502.2 868.9,1497.9 869.2,1481.3 869.4,1509.0 869.6,1474.1 869.8,1494.0 870.0,1488.3 870.3,1479.7 870.5,1488.5 870.7,1488.3 870.9,1481.8 871.1,1487.0 871.4,1489.7 871.6,1493.0 871.8,1472.9 872.0,1486.8 872.2,1492.4 872.5,1500.1 872.7,1501.1 872.9,1476.4 873.1,1486.4 873.3,1493.7 873.6,1498.0 873.8,1506.3 874.0,1488.9 874.2,1480.9 874.4,1492.1 874.7,1493.8 874.9,1486.1 875.1,1483.8 875.3,1497.0 875.5,1480.6 875.8,1486.9 876.0,1494.2 876.2,1493.1 876.4,1492.3 876.6,1483.6 876.9,1461.3 877.1,1479.7 877.3,1500.5 877.5,1499.2 877.7,1504.8 878.0,1496.2 878.2,1503.7 878.4,1491.3 878.6,1495.5 878.8,1509.8 879.1,1485.9 879.3,1487.2 879.5,1502.1 879.7,1499.4 879.9,1477.7 880.2,1503.2 880.4,1485.4 880.6,1486.0 880.8,1500.8 881.0,1496.2 881.3,1496.7 881.5,1504.3 881.7,1500.5 881.9,1470.2 882.1,1494.6 882.4,1498.2 882.6,1492.1 882.8,1489.9 883.0,1494.3 883.2,1494.1 883.5,1491.7 883.7,1491.0 883.9,1482.9 884.1,1493.0 884.3,1486.0 884.6,1499.0 884.8,1487.5 885.0,1488.6 885.2,1480.8 885.4,1489.7 885.7,1496.6 885.9,1481.9 886.1,1501.6 886.3,1492.5 886.5,1489.8 886.8,1498.0 887.0,1494.5 887.2,1465.1 887.4,1500.2 887.6,1496.9 887.9,1491.3 888.1,1464.8 888.3,1458.7 888.5,1476.0 888.7,1498.5 889.0,1499.7 889.2,1492.5 889.4,1491.2 889.6,1472.2 889.8,1491.1 890.1,1483.4 890.3,1490.0 890.5,1482.6 890.7,1498.2 890.9,1488.9 891.2,1494.6 891.4,1491.2 891.6,1485.4 891.8,1478.7 892.0,1480.7 892.3,1478.9 892.5,1492.4 892.7,1508.9 892.9,1495.2 893.1,1490.9 893.4,1499.5 893.6,1482.3 893.8,1494.4 894.0,1494.5 894.2,1473.0 894.5,1494.5 894.7,1486.9 894.9,1491.1 895.1,1489.7 895.3,1493.1 895.6,1485.3 895.8,1499.4 896.0,1500.5 896.2,1483.6 896.4,1494.1 896.7,1490.1 896.9,1503.2 897.1,1485.5 897.3,1493.4 897.5,1490.6 897.8,1480.0 898.0,1501.4 898.2,1494.6 898.4,1481.7 898.6,1499.4 898.9,1500.7 899.1,1479.0 899.3,1490.2 899.5,1489.8 899.7,1490.5 900.0,1491.4 900.2,1488.6 900.4,1477.2 900.6,1492.5 900.8,1480.9 901.1,1487.2 901.3,1496.7 901.5,1508.4 901.7,1504.4 901.9,1486.7 902.2,1491.0 902.4,1504.6 902.6,1497.7 902.8,1500.6 903.0,1486.2 903.3,1498.1 903.5,1499.0 903.7,1505.3 903.9,1508.8 904.1,1488.1 904.4,1505.9 904.6,1491.5 904.8,1494.6 905.0,1506.3 905.2,1495.8 905.5,1498.8 905.7,1508.4 905.9,1513.6 906.1,1500.3 906.3,1485.7 906.6,1495.9 906.8,1489.2 907.0,1490.8 907.2,1496.9 907.4,1491.4 907.7,1493.6 907.9,1492.5 908.1,1492.0 908.3,1477.0 908.5,1490.9 908.8,1491.5 909.0,1506.2 909.2,1499.9 909.4,1495.3 909.6,1487.9 909.9,1497.1 910.1,1480.4 910.3,1498.5 910.5,1486.8 910.7,1487.1 911.0,1502.7 911.2,1493.0 911.4,1491.6 911.6,1482.8 911.8,1504.3 912.1,1471.1 912.3,1497.2 912.5,1495.5 912.7,1497.0 912.9,1487.9 913.2,1484.3 913.4,1508.4 913.6,1497.3 913.8,1501.3 914.0,1479.3 914.3,1502.0 914.5,1506.3 914.7,1500.7 914.9,1479.0 915.1,1483.5 915.4,1471.0 915.6,1495.7 915.8,1501.9 916.0,1495.9 916.2,1489.1 916.5,1485.2 916.7,1500.3 916.9,1484.4 917.1,1509.6 917.3,1498.1 917.6,1505.7 917.8,1495.0 918.0,1491.6 918.2,1498.2 918.4,1486.9 918.7,1491.9 918.9,1491.9 919.1,1485.6 919.3,1498.0 919.5,1484.1 919.8,1477.1 920.0,1490.8 920.2,1492.3 920.4,1490.6 920.6,1493.0 920.9,1494.4 921.1,1496.5 921.3,1493.5 921.5,1492.9 921.7,1479.6 922.0,1497.5 922.2,1502.2 922.4,1490.0 922.6,1486.6 922.8,1501.4 923.1,1488.5 923.3,1495.7 923.5,1498.4 923.7,1503.9 923.9,1521.1 924.2,1492.9 924.4,1466.4 924.6,1496.6 924.8,1488.1 925.0,1500.5 925.3,1498.1 925.5,1502.9 925.7,1494.7 925.9,1502.8 926.1,1490.7 926.4,1501.5 926.6,1485.4 926.8,1487.0 927.0,1493.9 927.2,1500.4 927.5,1486.5 927.7,1494.8 927.9,1500.3 928.1,1500.8 928.3,1484.9 928.6,1510.9 928.8,1491.6 929.0,1498.4 929.2,1508.0 929.4,1488.3 929.7,1478.3 929.9,1505.4 930.1,1482.5 930.3,1496.3 930.5,1487.4 930.8,1511.7 931.0,1498.3 931.2,1510.4 931.4,1499.8 931.6,1490.5 931.9,1503.1 932.1,1486.4 932.3,1490.3 932.5,1503.2 932.7,1501.9 933.0,1487.0 933.2,1493.9 933.4,1493.5 933.6,1484.2 933.8,1505.2 934.1,1484.3 934.3,1494.3 934.5,1495.0 934.7,1495.9 934.9,1468.0 935.2,1496.7 935.4,1489.9 935.6,1506.7 935.8,1482.4 936.0,1503.8 936.3,1500.2 936.5,1488.3 936.7,1497.3 936.9,1504.6 937.1,1484.1 937.4,1480.1 937.6,1492.4 937.8,1501.2 938.0,1498.7 938.2,1496.3 938.5,1490.5 938.7,1491.4 938.9,1503.4 939.1,1500.4 939.3,1510.4 939.6,1501.6 939.8,1497.4 940.0,1492.9 940.2,1496.0 940.4,1509.4 940.7,1492.2 940.9,1493.6 941.1,1498.7 941.3,1500.7 941.5,1508.2 941.8,1495.4 942.0,1515.5 942.2,1497.3 942.4,1498.7 942.6,1499.2 942.9,1516.5 943.1,1510.2 943.3,1498.7 943.5,1487.9 943.7,1485.4 944.0,1499.3 944.2,1499.3 944.4,1495.6 944.6,1498.8 944.8,1490.8 945.1,1499.0 945.3,1508.2 945.5,1500.8 945.7,1497.6 945.9,1498.5 946.2,1505.4 946.4,1491.4 946.6,1493.2 946.8,1490.2 947.0,1481.7 947.3,1508.1 947.5,1503.0 947.7,1490.0 947.9,1512.7 948.1,1490.6 948.4,1500.5 948.6,1490.4 948.8,1508.7 949.0,1501.3 949.2,1503.0 949.5,1502.6 949.7,1516.9 949.9,1477.4 950.1,1493.6 950.3,1498.3" fill="none" stroke="#ff0000" stroke-width="1.5"/>
<rect x="78.7" y="845.6" width="872.90" height="703.40" fill="none" stroke="#111" stroke-width="2.6"/>
<line x1="130.30" y1="1549.00" x2="130.30" y2="1564.00" stroke="#111" stroke-width="2.4"/>
<text transform="translate(112.03 1598.40) scale(0.9538 1)" font-size="34.60" font-family='"Liberation Sans", Arial, Helvetica, sans-serif' fill="#000">10</text>
<line x1="232.96" y1="1549.00" x2="232.96" y2="1564.00" stroke="#111" stroke-width="2.4"/>
<text transform="translate(215.12 1598.40) scale(0.9538 1)" font-size="34.60" font-family='"Liberation Sans", Arial, Helvetica, sans-serif' fill="#000">20</text>
<line x1="335.62" y1="1549.00" x2="335.62" y2="1564.00" stroke="#111" stroke-width="2.4"/>
<text transform="translate(317.98 1598.40) scale(0.9538 1)" font-size="34.60" font-family='"Liberation Sans", Arial, Helvetica, sans-serif' fill="#000">30</text>
<line x1="438.28" y1="1549.00" x2="438.28" y2="1564.00" stroke="#111" stroke-width="2.4"/>
<text transform="translate(420.89 1598.40) scale(0.9538 1)" font-size="34.60" font-family='"Liberation Sans", Arial, Helvetica, sans-serif' fill="#000">40</text>
<line x1="540.94" y1="1549.00" x2="540.94" y2="1564.00" stroke="#111" stroke-width="2.4"/>
<text transform="translate(523.27 1598.40) scale(0.9538 1)" font-size="34.60" font-family='"Liberation Sans", Arial, Helvetica, sans-serif' fill="#000">50</text>
<line x1="643.60" y1="1549.00" x2="643.60" y2="1564.00" stroke="#111" stroke-width="2.4"/>
<text transform="translate(625.75 1598.40) scale(0.9538 1)" font-size="34.60" font-family='"Liberation Sans", Arial, Helvetica, sans-serif' fill="#000">60</text>
<line x1="746.26" y1="1549.00" x2="746.26" y2="1564.00" stroke="#111" stroke-width="2.4"/>
<text transform="translate(728.41 1598.40) scale(0.9538 1)" font-size="34.60" font-family='"Liberation Sans", Arial, Helvetica, sans-serif' fill="#000">70</text>
<line x1="848.92" y1="1549.00" x2="848.92" y2="1564.00" stroke="#111" stroke-width="2.4"/>
<text transform="translate(831.19 1598.40) scale(0.9538 1)" font-size="34.60" font-family='"Liberation Sans", Arial, Helvetica, sans-serif' fill="#000">80</text>
<line x1="951.58" y1="1549.00" x2="951.58" y2="1564.00" stroke="#111" stroke-width="2.4"/>
<text transform="translate(933.80 1598.40) scale(0.9538 1)" font-size="34.60" font-family='"Liberation Sans", Arial, Helvetica, sans-serif' fill="#000">90</text>
<line x1="78.97" y1="1549.00" x2="78.97" y2="1557.00" stroke="#111" stroke-width="2.4"/>
<line x1="181.63" y1="1549.00" x2="181.63" y2="1557.00" stroke="#111" stroke-width="2.4"/>
<line x1="284.29" y1="1549.00" x2="284.29" y2="1557.00" stroke="#111" stroke-width="2.4"/>
<line x1="386.95" y1="1549.00" x2="386.95" y2="1557.00" stroke="#111" stroke-width="2.4"/>
<line x1="489.61" y1="1549.00" x2="489.61" y2="1557.00" stroke="#111" stroke-width="2.4"/>
<line x1="592.27" y1="1549.00" x2="592.27" y2="1557.00" stroke="#111" stroke-width="2.4"/>
<line x1="694.93" y1="1549.00" x2="694.93" y2="1557.00" stroke="#111" stroke-width="2.4"/>
<line x1="797.59" y1="1549.00" x2="797.59" y2="1557.00" stroke="#111" stroke-width="2.4"/>
<line x1="900.25" y1="1549.00" x2="900.25" y2="1557.00" stroke="#111" stroke-width="2.4"/>
<text transform="translate(435.07 1662.60)" font-size="50.30" font-family='"Liberation Sans", Arial, Helvetica, sans-serif' fill="#000">2θ (deg)</text>
<text transform="translate(39.80 1323.12) rotate(-90) scale(0.9728 1)" font-size="51.50" font-family='"Liberation Sans", Arial, Helvetica, sans-serif'>Intensity (a.u.)</text>
<line x1="705.90" y1="1286.30" x2="788.70" y2="1286.30" stroke="#4a4aee" stroke-width="2.4"/>
<line x1="705.90" y1="1331.70" x2="788.70" y2="1331.70" stroke="#e85a5a" stroke-width="2.4"/>
<line x1="705.90" y1="1376.50" x2="788.70" y2="1376.50" stroke="#666" stroke-width="1.6"/>
<text transform="translate(797.74 1298.80) scale(0.9711 1)" font-size="38.10" font-family='"Liberation Sans", Arial, Helvetica, sans-serif' fill="#000">GO</text>
<text transform="translate(797.92 1344.00) scale(0.9711 1)" font-size="38.10" font-family='"Liberation Sans", Arial, Helvetica, sans-serif' fill="#000">SA</text>
<text transform="translate(797.74 1388.70) scale(0.9711 1)" font-size="38.10" font-family='"Liberation Sans", Arial, Helvetica, sans-serif' fill="#000">GAD</text>
<text transform="translate(103.73 914.70) scale(0.9460 1)" font-size="31.50" font-family='"Liberation Sans", Arial, Helvetica, sans-serif' fill="#000">10.3°</text>
<text transform="translate(146.03 1189.30) scale(0.9460 1)" font-size="31.50" font-family='"Liberation Sans", Arial, Helvetica, sans-serif' fill="#000">13.5°</text>
<text transform="translate(218.80 1229.30) scale(0.9460 1)" font-size="31.50" font-family='"Liberation Sans", Arial, Helvetica, sans-serif' fill="#000">21.5°</text>
<text transform="translate(872.41 878.30) scale(1.0116 1)" font-size="51.60" font-family='"Liberation Serif", "Times New Roman", serif' fill="#000">(c)</text>
<polyline points="1070.8,1408.0 1072.0,1402.6 1073.1,1403.9 1074.3,1409.4 1075.4,1413.7 1076.6,1412.0 1077.7,1405.4 1078.9,1401.6 1080.0,1405.5 1081.2,1413.4 1082.3,1411.1 1083.5,1400.3 1084.6,1395.2 1085.8,1404.4 1086.9,1412.8 1088.1,1395.1 1089.2,1388.0 1090.4,1394.2 1091.5,1391.2 1092.7,1392.5 1093.8,1391.0 1095.0,1393.5 1096.1,1394.6 1097.3,1389.3 1098.4,1389.7 1099.6,1393.5 1100.7,1385.0 1101.9,1379.9 1103.0,1381.1 1104.2,1380.3 1105.3,1378.1 1106.5,1377.7 1107.6,1381.2 1108.8,1379.0 1109.9,1374.5 1111.1,1373.2 1112.2,1368.0 1113.4,1360.9 1114.5,1371.6 1115.7,1371.6 1116.8,1374.1 1118.0,1379.6 1119.1,1367.5 1120.3,1365.1 1121.4,1367.3 1122.6,1365.6 1123.7,1368.7 1124.9,1360.6 1126.0,1358.7 1127.2,1362.5 1128.3,1367.1 1129.5,1362.9 1130.6,1359.8 1131.8,1360.4 1132.9,1355.7 1134.1,1355.6 1135.2,1361.0 1136.4,1365.1 1137.5,1367.7 1138.7,1367.1 1139.8,1360.7 1141.0,1360.6 1142.1,1354.8 1143.3,1351.0 1144.4,1357.4 1145.6,1355.7 1146.7,1351.2 1147.9,1352.1 1149.0,1353.1 1150.2,1351.5 1151.3,1348.2 1152.5,1349.8 1153.6,1350.0 1154.8,1345.1 1155.9,1346.7 1157.1,1343.4 1158.2,1333.5 1159.4,1330.7 1160.5,1335.6 1161.7,1336.6 1162.8,1328.2 1164.0,1318.5 1165.1,1328.6 1166.3,1328.4 1167.4,1322.0 1168.6,1327.5 1169.7,1327.5 1170.9,1324.0 1172.0,1328.0 1173.2,1327.4 1174.3,1327.0 1175.5,1333.2 1176.6,1331.4 1177.8,1317.0 1178.9,1317.2 1180.1,1320.7 1181.2,1325.8 1182.4,1327.3 1183.5,1326.9 1184.7,1324.2 1185.8,1323.2 1187.0,1322.8 1188.1,1325.7 1189.3,1325.8 1190.4,1325.0 1191.6,1332.3 1192.7,1332.8 1193.9,1319.6 1195.0,1323.0 1196.2,1328.6 1197.3,1318.0 1198.5,1318.7 1199.6,1320.8 1200.8,1314.1 1201.9,1310.4 1203.1,1307.7 1204.2,1308.8 1205.4,1314.8 1206.5,1312.1 1207.7,1308.4 1208.8,1314.7 1210.0,1307.5 1211.1,1300.3 1212.3,1301.9 1213.4,1295.7 1214.6,1291.6 1215.7,1293.7 1216.9,1297.2 1218.0,1293.8 1219.2,1290.8 1220.3,1293.6 1221.5,1292.8 1222.6,1291.7 1223.8,1290.6 1224.9,1287.5 1226.1,1290.6 1227.2,1289.3 1228.4,1281.6 1229.5,1280.1 1230.7,1274.6 1231.8,1269.2 1233.0,1273.5 1234.1,1275.1 1235.3,1276.1 1236.4,1272.2 1237.6,1259.8 1238.7,1265.0 1239.9,1272.4 1241.0,1260.1 1242.2,1259.5 1243.3,1261.6 1244.5,1248.7 1245.6,1245.4 1246.8,1248.2 1247.9,1253.5 1249.1,1250.7 1250.2,1242.2 1251.4,1242.1 1252.5,1239.6 1253.7,1235.3 1254.8,1235.3 1256.0,1240.1 1257.1,1239.3 1258.3,1229.1 1259.4,1221.3 1260.6,1222.6 1261.7,1221.7 1262.9,1216.5 1264.0,1210.4 1265.2,1216.8 1266.3,1231.1 1267.5,1209.5 1268.6,1206.2 1269.8,1217.4 1270.9,1195.9 1272.1,1185.8 1273.2,1189.5 1274.4,1191.2 1275.5,1188.2 1276.7,1182.2 1277.8,1179.7 1279.0,1184.5 1280.1,1189.8 1281.3,1179.0 1282.4,1165.7 1283.6,1179.6 1284.7,1171.8 1285.9,1157.5 1287.0,1158.0 1288.2,1158.4 1289.3,1158.2 1290.5,1153.9 1291.6,1143.2 1292.8,1139.5 1293.9,1139.5 1295.1,1140.6 1296.2,1136.2 1297.4,1121.6 1298.5,1114.8 1299.7,1121.6 1300.8,1120.5 1302.0,1097.6 1303.1,1102.1 1304.3,1106.8 1305.4,1110.5 1306.6,1104.3 1307.7,1099.1 1308.9,1104.4 1310.0,1097.8 1311.2,1092.0 1312.3,1103.0 1313.5,1102.6 1314.6,1095.8 1315.8,1084.6 1316.9,1078.2 1318.1,1072.1 1319.2,1065.1 1320.4,1060.8 1321.5,1059.7 1322.7,1061.2 1323.8,1069.8 1325.0,1068.3 1326.1,1061.7 1327.3,1065.7 1328.4,1058.9 1329.6,1056.1 1330.7,1045.6 1331.9,1037.2 1333.0,1043.3 1334.2,1031.2 1335.3,1022.0 1336.5,1032.5 1337.6,1034.4 1338.8,1025.6 1339.9,1024.1 1341.1,1025.0 1342.2,1027.9 1343.4,1030.5 1344.5,1026.0 1345.7,1021.0 1346.8,1020.8 1348.0,1027.0 1349.1,1028.0 1350.3,1025.6 1351.4,1024.3 1352.6,1018.3 1353.7,1017.5 1354.9,1025.8 1356.0,1030.3 1357.2,1026.6 1358.3,1022.4 1359.5,1028.2 1360.6,1036.1 1361.8,1039.0 1362.9,1043.9 1364.1,1050.0 1365.2,1054.8 1366.4,1058.8 1367.5,1061.9 1368.7,1063.6 1369.8,1063.4 1371.0,1057.7 1372.1,1054.9 1373.3,1058.3 1374.4,1058.1 1375.6,1059.8 1376.7,1067.5 1377.9,1066.6 1379.0,1062.2 1380.2,1076.8 1381.3,1090.1 1382.5,1093.3 1383.6,1091.9 1384.8,1097.8 1385.9,1107.0 1387.1,1103.8 1388.2,1099.7 1389.4,1102.0 1390.5,1103.9 1391.7,1104.3 1392.8,1102.6 1394.0,1110.2 1395.1,1116.9 1396.3,1116.3 1397.4,1120.7 1398.6,1115.6 1399.7,1120.0 1400.9,1129.2 1402.0,1127.9 1403.2,1130.6 1404.3,1126.7 1405.5,1132.9 1406.6,1134.8 1407.8,1129.5 1408.9,1129.7 1410.1,1134.4 1411.2,1141.0 1412.4,1139.8 1413.5,1132.6 1414.7,1140.0 1415.8,1143.6 1417.0,1146.4 1418.1,1151.9 1419.3,1146.6 1420.4,1145.6 1421.6,1150.3 1422.7,1156.2 1423.9,1154.3 1425.0,1154.8 1426.2,1163.2 1427.3,1159.4 1428.5,1148.2 1429.6,1145.6 1430.8,1145.1 1431.9,1147.0 1433.1,1150.0 1434.2,1148.3 1435.4,1153.7 1436.5,1150.3 1437.7,1145.1 1438.8,1162.9 1440.0,1172.6 1441.1,1168.8 1442.3,1168.0 1443.4,1173.6 1444.6,1174.8 1445.7,1169.6 1446.9,1164.0 1448.0,1163.9 1449.2,1166.0 1450.3,1164.1 1451.5,1164.4 1452.6,1166.9 1453.8,1168.4 1454.9,1171.7 1456.1,1168.3 1457.2,1164.7 1458.4,1176.0 1459.5,1176.7 1460.7,1174.4 1461.8,1178.3 1463.0,1178.7 1464.1,1177.3 1465.3,1167.8 1466.4,1164.3 1467.6,1167.8 1468.7,1163.3 1469.9,1163.0 1471.0,1164.1 1472.2,1159.8 1473.3,1164.9 1474.5,1170.6 1475.6,1167.4 1476.8,1164.2 1477.9,1164.7 1479.1,1166.7 1480.2,1167.2 1481.4,1168.5 1482.5,1168.5 1483.7,1170.2 1484.8,1173.8 1486.0,1173.8 1487.1,1169.8 1488.3,1166.6 1489.4,1170.7 1490.6,1173.0 1491.7,1170.8 1492.9,1162.9 1494.0,1138.9 1495.2,1157.0 1496.3,1176.4 1497.5,1178.3 1498.6,1185.6 1499.8,1175.4 1500.9,1172.7 1502.1,1166.6 1503.2,1167.9 1504.4,1172.0 1505.5,1170.3 1506.7,1172.7 1507.8,1171.4 1509.0,1173.3 1510.1,1169.9 1511.3,1164.5 1512.4,1162.2 1513.6,1160.9 1514.7,1168.0 1515.9,1165.7 1517.0,1161.5 1518.2,1163.2 1519.3,1159.5 1520.5,1157.8 1521.6,1150.3 1522.8,1145.6 1523.9,1155.4 1525.1,1150.5 1526.2,1143.8 1527.4,1142.9 1528.5,1143.3 1529.7,1141.2 1530.8,1145.2 1532.0,1147.1 1533.1,1135.4 1534.3,1142.6 1535.4,1150.9 1536.6,1145.9 1537.7,1143.9 1538.9,1140.2 1540.0,1136.9 1541.2,1140.1 1542.3,1143.5 1543.5,1148.8 1544.6,1140.4 1545.8,1134.7 1546.9,1132.6 1548.1,1137.5 1549.2,1142.5 1550.4,1136.7 1551.5,1129.3 1552.7,1134.2 1553.8,1137.8 1555.0,1135.2 1556.1,1127.5 1557.3,1123.2 1558.4,1125.5 1559.6,1127.0 1560.7,1122.4 1561.9,1125.6 1563.0,1132.1 1564.2,1128.6 1565.3,1122.8 1566.5,1120.5 1567.6,1128.8 1568.8,1122.6 1569.9,1118.1 1571.1,1125.3 1572.2,1120.7 1573.4,1120.0 1574.5,1120.0 1575.7,1120.1 1576.8,1121.7 1578.0,1116.5 1579.1,1120.0 1580.3,1120.4 1581.4,1116.1 1582.6,1107.1 1583.7,1098.2 1584.9,1103.5 1586.0,1107.2 1587.2,1102.2 1588.3,1100.0 1589.5,1094.9 1590.6,1091.3 1591.8,1089.6 1592.9,1088.7 1594.1,1089.8 1595.2,1085.1 1596.4,1085.8 1597.5,1093.4 1598.7,1088.4 1599.8,1078.6 1601.0,1084.7 1602.1,1084.0 1603.3,1085.1 1604.4,1091.5 1605.6,1078.1 1606.7,1076.6 1607.9,1079.9 1609.0,1077.9 1610.2,1069.9 1611.3,1064.4 1612.5,1053.0 1613.6,1045.4 1614.8,1053.2 1615.9,1056.9 1617.1,1051.5 1618.2,1049.4 1619.4,1044.5 1620.5,1042.5 1621.7,1040.3 1622.8,1039.6 1624.0,1039.3 1625.1,1036.3 1626.3,1039.4 1627.4,1037.9 1628.6,1038.1 1629.7,1038.2 1630.9,1034.6 1632.0,1033.9 1633.2,1021.5 1634.3,1003.2 1635.5,1003.8 1636.6,1008.4 1637.8,1010.3 1638.9,1007.4 1640.1,1001.3 1641.2,993.8 1642.4,992.0 1643.5,996.0 1644.7,988.2 1645.8,981.3 1647.0,983.2 1648.1,986.0 1649.3,966.9 1650.4,972.1 1651.6,981.6 1652.7,978.9 1653.9,977.3 1655.0,977.7 1656.2,971.3 1657.3,969.3 1658.5,970.1 1659.6,963.4 1660.8,963.2 1661.9,969.9 1663.1,962.1 1664.2,949.1 1665.4,946.1 1666.5,956.3 1667.7,958.8 1668.8,949.9 1670.0,947.1 1671.1,943.9 1672.3,939.8 1673.4,944.4 1674.6,953.3 1675.7,946.7 1676.9,943.3 1678.0,948.8 1679.2,953.7 1680.3,958.5 1681.5,964.0 1682.6,969.3 1683.8,970.6 1684.9,972.1 1686.1,966.4 1687.2,961.1 1688.4,971.2 1689.5,976.2 1690.7,974.3 1691.8,968.4 1693.0,963.9 1694.1,975.6 1695.3,985.5 1696.4,984.0 1697.6,983.4 1698.7,980.4 1699.9,985.3 1701.0,997.2 1702.2,1004.0 1703.3,1002.9 1704.5,999.0 1705.6,997.7 1706.8,1005.8 1707.9,1019.2 1709.1,1016.4 1710.2,1015.5 1711.4,1022.2 1712.5,1022.2 1713.7,1018.9 1714.8,1024.0 1716.0,1039.2 1717.1,1039.4 1718.3,1038.2 1719.4,1035.6 1720.6,1047.0 1721.7,1064.2 1722.9,1063.8 1724.0,1065.1 1725.2,1066.8 1726.3,1071.8 1727.5,1077.5 1728.6,1081.8 1729.8,1087.9 1730.9,1094.8 1732.1,1105.6 1733.2,1105.5 1734.4,1106.3 1735.5,1114.4 1736.7,1114.3 1737.8,1112.8 1739.0,1123.3 1740.1,1132.4 1741.3,1131.7 1742.4,1140.8 1743.6,1143.5 1744.7,1145.8 1745.9,1153.3 1747.0,1159.9 1748.2,1167.6 1749.3,1165.7 1750.5,1169.5 1751.6,1176.4 1752.8,1177.7 1753.9,1181.3 1755.1,1187.3 1756.2,1187.2 1757.4,1188.5 1758.5,1199.7 1759.7,1200.4 1760.8,1205.8 1762.0,1206.5 1763.1,1202.2 1764.3,1205.1 1765.4,1204.0 1766.6,1203.5 1767.7,1205.4 1768.9,1210.7 1770.0,1208.8 1771.2,1216.0 1772.3,1225.7 1773.5,1218.7 1774.6,1217.7 1775.8,1225.1 1776.9,1224.3 1778.1,1233.6 1779.2,1248.6 1780.4,1231.9 1781.5,1229.4 1782.7,1221.7 1783.8,1224.8 1785.0,1230.7 1786.1,1229.5 1787.3,1233.3 1788.4,1236.8 1789.6,1244.3 1790.7,1244.9 1791.9,1242.8 1793.0,1239.0 1794.2,1236.5 1795.3,1240.5 1796.5,1234.1 1797.6,1240.6 1798.8,1241.8 1799.9,1230.3 1801.1,1238.9 1802.2,1251.1 1803.4,1243.0 1804.5,1233.5 1805.7,1247.2 1806.8,1249.9 1808.0,1232.0 1809.1,1229.6 1810.3,1243.8 1811.4,1248.4 1812.6,1244.1 1813.7,1246.2 1814.9,1246.1 1816.0,1240.7 1817.2,1232.8 1818.3,1235.6 1819.5,1237.4 1820.6,1235.8 1821.8,1246.1 1822.9,1248.3 1824.1,1242.4 1825.2,1240.8 1826.4,1243.2 1827.5,1246.3 1828.7,1239.2 1829.8,1236.6 1831.0,1247.4 1832.1,1249.4 1833.3,1240.7 1834.4,1235.6 1835.6,1231.1 1836.7,1230.7 1837.9,1243.7 1839.0,1246.2 1840.2,1237.6 1841.3,1235.8 1842.5,1238.4 1843.6,1240.1 1844.8,1237.9 1845.9,1236.9 1847.1,1240.4 1848.2,1248.6 1849.4,1244.3 1850.5,1237.0 1851.7,1243.3 1852.8,1240.0 1854.0,1233.8 1855.1,1237.7 1856.3,1240.4 1857.4,1240.8 1858.6,1237.2 1859.7,1239.3 1860.9,1238.3 1862.0,1231.1 1863.2,1217.6 1864.3,1237.1 1865.5,1238.2 1866.6,1237.2 1867.8,1245.8 1868.9,1247.1 1870.1,1244.1 1871.2,1239.4 1872.4,1240.3 1873.5,1240.2 1874.7,1235.3 1875.8,1241.9 1877.0,1243.3 1878.1,1245.2 1879.3,1250.2 1880.4,1242.2 1881.6,1241.9 1882.7,1247.8 1883.9,1241.4 1885.0,1233.7 1886.2,1234.8 1887.3,1238.7 1888.5,1243.8 1889.6,1243.2 1890.8,1239.2 1891.9,1237.2 1893.1,1245.8 1894.2,1249.7 1895.4,1245.9 1896.5,1237.3 1897.7,1239.0 1898.8,1244.6 1900.0,1243.2 1901.1,1253.8 1902.3,1250.2 1903.4,1240.5 1904.6,1234.2 1905.7,1242.4 1906.9,1246.6 1908.0,1244.8 1909.2,1243.8 1910.3,1234.4 1911.5,1238.9 1912.6,1248.0 1913.8,1248.3 1914.9,1238.7 1916.1,1236.2 1917.2,1238.0 1918.4,1239.1 1919.5,1243.4 1920.7,1248.1 1921.8,1243.0 1923.0,1232.1 1924.1,1229.5 1925.3,1229.7 1926.4,1226.3 1927.6,1226.2 1928.7,1226.9 1929.9,1222.1 1931.0,1223.4 1932.2,1225.8 1933.3,1219.8 1934.5,1222.4 1935.6,1223.8 1936.8,1232.0 1937.9,1231.0 1939.1,1224.8 1940.2,1220.3 1941.4,1218.5 1942.5,1225.9 1943.7,1224.2 1944.8,1223.3 1946.0,1215.5 1947.1,1217.5 1948.3,1228.6 1949.4,1229.9 1950.6,1227.9 1951.7,1231.2 1952.9,1229.0 1954.0,1222.6 1955.2,1226.5 1956.3,1234.6 1957.5,1236.1 1958.6,1231.5 1959.8,1231.3 1960.9,1233.8 1962.1,1228.5 1963.2,1217.2 1964.4,1218.2 1965.5,1223.0 1966.7,1224.8 1967.8,1226.1 1969.0,1225.2" fill="none" stroke="#ff0000" stroke-width="2.1" stroke-linejoin="round"/>
<polyline points="1070.8,1515.4 1072.0,1519.4 1073.1,1508.7 1074.3,1502.5 1075.4,1511.1 1076.6,1514.1 1077.7,1512.3 1078.9,1512.0 1080.0,1510.6 1081.2,1507.9 1082.3,1507.7 1083.5,1503.8 1084.6,1501.7 1085.8,1506.5 1086.9,1508.3 1088.1,1511.7 1089.2,1517.8 1090.4,1520.3 1091.5,1517.7 1092.7,1517.4 1093.8,1515.7 1095.0,1510.3 1096.1,1513.2 1097.3,1516.2 1098.4,1511.8 1099.6,1506.3 1100.7,1511.5 1101.9,1513.6 1103.0,1515.6 1104.2,1518.7 1105.3,1516.0 1106.5,1515.1 1107.6,1516.3 1108.8,1514.8 1109.9,1514.9 1111.1,1513.3 1112.2,1509.2 1113.4,1508.1 1114.5,1509.6 1115.7,1510.7 1116.8,1506.0 1118.0,1510.4 1119.1,1510.9 1120.3,1504.3 1121.4,1505.5 1122.6,1509.6 1123.7,1507.3 1124.9,1503.6 1126.0,1503.5 1127.2,1494.0 1128.3,1498.0 1129.5,1504.0 1130.6,1500.6 1131.8,1497.2 1132.9,1493.3 1134.1,1488.8 1135.2,1491.3 1136.4,1496.7 1137.5,1496.0 1138.7,1494.7 1139.8,1498.2 1141.0,1497.3 1142.1,1495.8 1143.3,1499.0 1144.4,1493.7 1145.6,1491.3 1146.7,1489.1 1147.9,1487.8 1149.0,1492.8 1150.2,1489.6 1151.3,1485.6 1152.5,1486.3 1153.6,1487.5 1154.8,1487.3 1155.9,1485.4 1157.1,1486.0 1158.2,1485.0 1159.4,1482.1 1160.5,1483.1 1161.7,1486.7 1162.8,1483.1 1164.0,1477.9 1165.1,1484.4 1166.3,1483.0 1167.4,1475.8 1168.6,1477.6 1169.7,1479.4 1170.9,1480.1 1172.0,1477.7 1173.2,1475.2 1174.3,1478.6 1175.5,1480.0 1176.6,1474.4 1177.8,1474.6 1178.9,1474.2 1180.1,1465.4 1181.2,1464.3 1182.4,1467.8 1183.5,1468.6 1184.7,1468.3 1185.8,1469.5 1187.0,1468.2 1188.1,1465.2 1189.3,1471.6 1190.4,1462.0 1191.6,1451.4 1192.7,1455.0 1193.9,1455.3 1195.0,1448.8 1196.2,1449.0 1197.3,1452.8 1198.5,1447.3 1199.6,1450.5 1200.8,1459.5 1201.9,1459.5 1203.1,1453.5 1204.2,1448.8 1205.4,1446.8 1206.5,1445.9 1207.7,1446.0 1208.8,1445.5 1210.0,1445.3 1211.1,1445.8 1212.3,1447.8 1213.4,1447.1 1214.6,1439.3 1215.7,1429.7 1216.9,1433.6 1218.0,1435.3 1219.2,1433.6 1220.3,1434.2 1221.5,1431.8 1222.6,1431.7 1223.8,1431.0 1224.9,1430.3 1226.1,1422.7 1227.2,1424.7 1228.4,1426.2 1229.5,1423.5 1230.7,1423.1 1231.8,1422.7 1233.0,1421.4 1234.1,1417.8 1235.3,1416.9 1236.4,1413.6 1237.6,1410.8 1238.7,1411.4 1239.9,1411.5 1241.0,1408.1 1242.2,1413.4 1243.3,1412.0 1244.5,1403.4 1245.6,1411.0 1246.8,1408.4 1247.9,1402.2 1249.1,1404.0 1250.2,1399.6 1251.4,1392.2 1252.5,1386.7 1253.7,1388.7 1254.8,1392.0 1256.0,1384.2 1257.1,1381.4 1258.3,1383.3 1259.4,1383.1 1260.6,1385.4 1261.7,1376.4 1262.9,1372.7 1264.0,1373.0 1265.2,1375.8 1266.3,1382.1 1267.5,1377.7 1268.6,1368.2 1269.8,1367.5 1270.9,1365.7 1272.1,1364.1 1273.2,1363.7 1274.4,1360.5 1275.5,1355.8 1276.7,1353.7 1277.8,1357.7 1279.0,1355.9 1280.1,1356.0 1281.3,1356.8 1282.4,1350.9 1283.6,1355.4 1284.7,1347.3 1285.9,1344.3 1287.0,1350.7 1288.2,1345.3 1289.3,1338.3 1290.5,1339.6 1291.6,1341.4 1292.8,1337.0 1293.9,1330.3 1295.1,1328.7 1296.2,1326.6 1297.4,1319.0 1298.5,1316.0 1299.7,1317.5 1300.8,1312.3 1302.0,1311.8 1303.1,1312.3 1304.3,1311.7 1305.4,1308.3 1306.6,1302.4 1307.7,1301.1 1308.9,1305.6 1310.0,1311.7 1311.2,1311.0 1312.3,1310.3 1313.5,1307.7 1314.6,1305.0 1315.8,1296.9 1316.9,1294.3 1318.1,1296.4 1319.2,1293.6 1320.4,1290.5 1321.5,1293.8 1322.7,1296.3 1323.8,1287.5 1325.0,1287.2 1326.1,1289.7 1327.3,1284.3 1328.4,1279.9 1329.6,1281.9 1330.7,1275.4 1331.9,1272.3 1333.0,1278.8 1334.2,1282.9 1335.3,1281.3 1336.5,1276.2 1337.6,1272.9 1338.8,1275.4 1339.9,1278.0 1341.1,1274.8 1342.2,1269.3 1343.4,1274.0 1344.5,1276.5 1345.7,1271.9 1346.8,1269.4 1348.0,1268.4 1349.1,1274.5 1350.3,1278.8 1351.4,1273.5 1352.6,1267.6 1353.7,1274.4 1354.9,1281.3 1356.0,1280.4 1357.2,1278.8 1358.3,1270.9 1359.5,1265.6 1360.6,1272.7 1361.8,1275.9 1362.9,1275.6 1364.1,1275.4 1365.2,1273.5 1366.4,1276.9 1367.5,1278.4 1368.7,1277.2 1369.8,1279.6 1371.0,1280.9 1372.1,1284.0 1373.3,1287.8 1374.4,1281.7 1375.6,1278.1 1376.7,1280.8 1377.9,1284.2 1379.0,1283.8 1380.2,1284.5 1381.3,1289.9 1382.5,1289.8 1383.6,1285.7 1384.8,1283.9 1385.9,1284.0 1387.1,1285.9 1388.2,1291.8 1389.4,1287.1 1390.5,1283.0 1391.7,1285.4 1392.8,1289.8 1394.0,1296.4 1395.1,1300.1 1396.3,1299.7 1397.4,1299.4 1398.6,1304.7 1399.7,1309.4 1400.9,1308.4 1402.0,1309.1 1403.2,1302.2 1404.3,1298.4 1405.5,1301.4 1406.6,1305.9 1407.8,1310.5 1408.9,1311.2 1410.1,1314.2 1411.2,1314.8 1412.4,1317.6 1413.5,1318.8 1414.7,1313.4 1415.8,1312.7 1417.0,1323.2 1418.1,1323.8 1419.3,1324.5 1420.4,1333.1 1421.6,1329.0 1422.7,1326.5 1423.9,1325.2 1425.0,1327.2 1426.2,1329.6 1427.3,1324.8 1428.5,1326.5 1429.6,1329.5 1430.8,1329.6 1431.9,1332.1 1433.1,1333.9 1434.2,1332.3 1435.4,1336.1 1436.5,1345.2 1437.7,1343.7 1438.8,1336.2 1440.0,1334.3 1441.1,1338.7 1442.3,1341.7 1443.4,1341.1 1444.6,1337.4 1445.7,1335.3 1446.9,1338.5 1448.0,1345.1 1449.2,1348.5 1450.3,1340.2 1451.5,1343.1 1452.6,1353.8 1453.8,1356.9 1454.9,1344.1 1456.1,1345.2 1457.2,1355.9 1458.4,1358.1 1459.5,1356.2 1460.7,1350.6 1461.8,1351.0 1463.0,1355.7 1464.1,1359.2 1465.3,1362.4 1466.4,1360.8 1467.6,1361.9 1468.7,1360.1 1469.9,1356.3 1471.0,1359.2 1472.2,1362.8 1473.3,1362.1 1474.5,1364.0 1475.6,1366.1 1476.8,1360.4 1477.9,1359.6 1479.1,1360.0 1480.2,1357.4 1481.4,1356.3 1482.5,1363.2 1483.7,1370.0 1484.8,1362.8 1486.0,1364.2 1487.1,1372.0 1488.3,1369.0 1489.4,1368.8 1490.6,1376.7 1491.7,1376.9 1492.9,1372.7 1494.0,1375.4 1495.2,1371.9 1496.3,1365.7 1497.5,1364.9 1498.6,1368.3 1499.8,1374.5 1500.9,1372.4 1502.1,1366.4 1503.2,1369.3 1504.4,1372.0 1505.5,1373.0 1506.7,1373.6 1507.8,1371.4 1509.0,1371.4 1510.1,1371.9 1511.3,1369.4 1512.4,1366.1 1513.6,1372.8 1514.7,1383.9 1515.9,1382.4 1517.0,1369.4 1518.2,1366.2 1519.3,1373.5 1520.5,1368.7 1521.6,1363.8 1522.8,1366.7 1523.9,1365.2 1525.1,1363.7 1526.2,1368.5 1527.4,1369.1 1528.5,1365.4 1529.7,1370.9 1530.8,1368.8 1532.0,1358.6 1533.1,1362.3 1534.3,1372.4 1535.4,1370.8 1536.6,1365.8 1537.7,1361.3 1538.9,1357.5 1540.0,1365.8 1541.2,1369.9 1542.3,1367.1 1543.5,1361.6 1544.6,1356.3 1545.8,1354.8 1546.9,1354.5 1548.1,1358.5 1549.2,1359.2 1550.4,1355.9 1551.5,1359.6 1552.7,1362.4 1553.8,1360.4 1555.0,1359.6 1556.1,1359.2 1557.3,1352.4 1558.4,1351.9 1559.6,1355.7 1560.7,1354.6 1561.9,1356.1 1563.0,1355.1 1564.2,1357.4 1565.3,1357.9 1566.5,1354.5 1567.6,1355.2 1568.8,1353.6 1569.9,1354.6 1571.1,1355.1 1572.2,1353.9 1573.4,1348.7 1574.5,1343.3 1575.7,1342.2 1576.8,1343.3 1578.0,1338.5 1579.1,1334.9 1580.3,1335.6 1581.4,1334.9 1582.6,1334.4 1583.7,1337.5 1584.9,1340.3 1586.0,1339.8 1587.2,1335.2 1588.3,1329.7 1589.5,1330.9 1590.6,1336.7 1591.8,1341.3 1592.9,1334.4 1594.1,1330.8 1595.2,1337.5 1596.4,1332.2 1597.5,1325.1 1598.7,1330.4 1599.8,1331.8 1601.0,1324.4 1602.1,1325.3 1603.3,1329.2 1604.4,1325.4 1605.6,1317.7 1606.7,1313.6 1607.9,1318.5 1609.0,1318.3 1610.2,1314.8 1611.3,1310.5 1612.5,1312.6 1613.6,1307.6 1614.8,1303.4 1615.9,1302.3 1617.1,1294.5 1618.2,1294.9 1619.4,1291.4 1620.5,1282.7 1621.7,1283.8 1622.8,1279.4 1624.0,1271.4 1625.1,1272.1 1626.3,1273.0 1627.4,1269.7 1628.6,1269.4 1629.7,1273.5 1630.9,1268.3 1632.0,1266.3 1633.2,1265.5 1634.3,1256.1 1635.5,1245.7 1636.6,1239.4 1637.8,1244.9 1638.9,1248.2 1640.1,1243.1 1641.2,1240.3 1642.4,1243.0 1643.5,1238.8 1644.7,1230.3 1645.8,1227.6 1647.0,1229.6 1648.1,1231.3 1649.3,1232.9 1650.4,1228.2 1651.6,1224.8 1652.7,1225.2 1653.9,1223.7 1655.0,1225.9 1656.2,1227.8 1657.3,1222.0 1658.5,1215.3 1659.6,1212.9 1660.8,1211.2 1661.9,1209.7 1663.1,1208.4 1664.2,1205.8 1665.4,1201.0 1666.5,1197.0 1667.7,1197.9 1668.8,1205.8 1670.0,1205.6 1671.1,1199.5 1672.3,1198.0 1673.4,1195.2 1674.6,1199.2 1675.7,1198.5 1676.9,1190.4 1678.0,1187.9 1679.2,1191.1 1680.3,1192.0 1681.5,1185.2 1682.6,1190.1 1683.8,1189.4 1684.9,1192.8 1686.1,1192.6 1687.2,1199.2 1688.4,1197.5 1689.5,1189.0 1690.7,1195.1 1691.8,1204.6 1693.0,1205.2 1694.1,1206.7 1695.3,1209.9 1696.4,1211.3 1697.6,1214.1 1698.7,1216.0 1699.9,1215.7 1701.0,1216.2 1702.2,1220.3 1703.3,1221.7 1704.5,1222.5 1705.6,1229.0 1706.8,1230.4 1707.9,1231.6 1709.1,1232.3 1710.2,1233.7 1711.4,1241.8 1712.5,1249.2 1713.7,1256.7 1714.8,1266.4 1716.0,1270.7 1717.1,1270.6 1718.3,1277.6 1719.4,1280.6 1720.6,1284.8 1721.7,1296.8 1722.9,1301.6 1724.0,1305.8 1725.2,1310.2 1726.3,1316.4 1727.5,1320.9 1728.6,1322.2 1729.8,1315.6 1730.9,1317.2 1732.1,1331.6 1733.2,1336.2 1734.4,1335.8 1735.5,1342.2 1736.7,1345.6 1737.8,1346.3 1739.0,1355.3 1740.1,1360.1 1741.3,1363.5 1742.4,1368.8 1743.6,1368.5 1744.7,1370.4 1745.9,1375.7 1747.0,1378.3 1748.2,1385.1 1749.3,1389.5 1750.5,1387.5 1751.6,1386.4 1752.8,1389.7 1753.9,1399.4 1755.1,1401.8 1756.2,1402.5 1757.4,1406.7 1758.5,1405.4 1759.7,1403.7 1760.8,1408.5 1762.0,1408.4 1763.1,1410.3 1764.3,1413.4 1765.4,1415.8 1766.6,1419.5 1767.7,1418.5 1768.9,1423.9 1770.0,1422.9 1771.2,1421.6 1772.3,1424.9 1773.5,1427.5 1774.6,1431.7 1775.8,1432.5 1776.9,1432.5 1778.1,1431.9 1779.2,1434.3 1780.4,1436.0 1781.5,1435.9 1782.7,1438.3 1783.8,1435.4 1785.0,1433.0 1786.1,1438.4 1787.3,1442.4 1788.4,1446.2 1789.6,1440.7 1790.7,1438.8 1791.9,1449.1 1793.0,1449.6 1794.2,1449.5 1795.3,1450.1 1796.5,1448.5 1797.6,1451.4 1798.8,1448.6 1799.9,1440.7 1801.1,1445.8 1802.2,1452.5 1803.4,1451.9 1804.5,1452.7 1805.7,1454.3 1806.8,1452.6 1808.0,1452.4 1809.1,1454.8 1810.3,1450.7 1811.4,1449.7 1812.6,1453.7 1813.7,1452.2 1814.9,1454.5 1816.0,1456.1 1817.2,1455.8 1818.3,1460.8 1819.5,1455.0 1820.6,1441.9 1821.8,1453.9 1822.9,1457.3 1824.1,1457.6 1825.2,1463.2 1826.4,1461.1 1827.5,1459.3 1828.7,1460.4 1829.8,1457.0 1831.0,1459.5 1832.1,1462.5 1833.3,1464.7 1834.4,1465.4 1835.6,1465.4 1836.7,1466.5 1837.9,1460.1 1839.0,1458.2 1840.2,1462.4 1841.3,1466.2 1842.5,1464.6 1843.6,1463.1 1844.8,1465.1 1845.9,1460.0 1847.1,1460.9 1848.2,1467.7 1849.4,1467.2 1850.5,1468.1 1851.7,1470.1 1852.8,1468.5 1854.0,1466.0 1855.1,1464.7 1856.3,1467.2 1857.4,1467.6 1858.6,1462.9 1859.7,1462.2 1860.9,1466.4 1862.0,1469.7 1863.2,1470.7 1864.3,1464.8 1865.5,1464.2 1866.6,1462.3 1867.8,1458.5 1868.9,1460.5 1870.1,1466.1 1871.2,1470.0 1872.4,1466.5 1873.5,1462.9 1874.7,1465.3 1875.8,1466.2 1877.0,1464.0 1878.1,1467.5 1879.3,1465.3 1880.4,1463.7 1881.6,1459.0 1882.7,1459.0 1883.9,1459.7 1885.0,1459.1 1886.2,1464.3 1887.3,1464.3 1888.5,1469.6 1889.6,1461.6 1890.8,1456.5 1891.9,1462.0 1893.1,1462.7 1894.2,1464.5 1895.4,1462.6 1896.5,1460.4 1897.7,1455.6 1898.8,1460.3 1900.0,1458.1 1901.1,1460.0 1902.3,1462.4 1903.4,1460.8 1904.6,1459.1 1905.7,1457.6 1906.9,1461.6 1908.0,1462.4 1909.2,1466.3 1910.3,1464.3 1911.5,1459.7 1912.6,1461.8 1913.8,1465.4 1914.9,1461.3 1916.1,1459.0 1917.2,1462.4 1918.4,1457.6 1919.5,1456.8 1920.7,1458.3 1921.8,1462.2 1923.0,1461.5 1924.1,1461.4 1925.3,1462.7 1926.4,1461.9 1927.6,1458.6 1928.7,1454.8 1929.9,1459.9 1931.0,1459.6 1932.2,1455.1 1933.3,1457.8 1934.5,1464.2 1935.6,1464.3 1936.8,1461.7 1937.9,1462.9 1939.1,1462.5 1940.2,1464.0 1941.4,1468.3 1942.5,1462.5 1943.7,1462.5 1944.8,1467.9 1946.0,1466.0 1947.1,1466.2 1948.3,1469.5 1949.4,1472.9 1950.6,1473.6 1951.7,1468.0 1952.9,1467.4 1954.0,1463.7 1955.2,1462.7 1956.3,1469.3 1957.5,1469.7 1958.6,1465.5 1959.8,1466.9 1960.9,1472.9 1962.1,1473.2 1963.2,1462.7 1964.4,1463.2 1965.5,1464.9 1966.7,1455.0 1967.8,1460.4 1969.0,1471.0" fill="none" stroke="#000" stroke-width="2.1" stroke-linejoin="round"/>
<rect x="1070.4" y="841.1" width="899.90" height="724.20" fill="none" stroke="#111" stroke-width="2.5"/>
<text transform="translate(1101.78 1618.00) scale(0.9366 1)" font-size="36.30" font-family='"Liberation Sans", Arial, Helvetica, sans-serif' fill="#000">1200</text>
<text transform="translate(1240.24 1618.00) scale(0.9366 1)" font-size="36.30" font-family='"Liberation Sans", Arial, Helvetica, sans-serif' fill="#000">1300</text>
<text transform="translate(1378.70 1618.00) scale(0.9366 1)" font-size="36.30" font-family='"Liberation Sans", Arial, Helvetica, sans-serif' fill="#000">1400</text>
<text transform="translate(1517.16 1618.00) scale(0.9366 1)" font-size="36.30" font-family='"Liberation Sans", Arial, Helvetica, sans-serif' fill="#000">1500</text>
<text transform="translate(1655.62 1618.00) scale(0.9366 1)" font-size="36.30" font-family='"Liberation Sans", Arial, Helvetica, sans-serif' fill="#000">1600</text>
<text transform="translate(1794.08 1618.00) scale(0.9366 1)" font-size="36.30" font-family='"Liberation Sans", Arial, Helvetica, sans-serif' fill="#000">1700</text>
<text transform="translate(1932.54 1618.00) scale(0.9366 1)" font-size="36.30" font-family='"Liberation Sans", Arial, Helvetica, sans-serif' fill="#000">1800</text>
<text transform="translate(1305.37 1694.90) scale(1.0078 1)" font-size="51.20" font-family='"Liberation Sans", Arial, Helvetica, sans-serif' fill="#000">Raman Shift (cm</text>
<text transform="translate(1687.12 1673.60)" font-size="31.00" font-family='"Liberation Sans", Arial, Helvetica, sans-serif' fill="#000">-1</text>
<text transform="translate(1718.50 1694.90) scale(1.0078 1)" font-size="51.20" font-family='"Liberation Sans", Arial, Helvetica, sans-serif' fill="#000">)</text>
<text transform="translate(1035.10 1358.04) rotate(-90) scale(0.9753 1)" font-size="52.70" font-family='"Liberation Sans", Arial, Helvetica, sans-serif'>Intensity (a.u)</text>
<line x1="1086.50" y1="986.00" x2="1171.70" y2="986.00" stroke="#000" stroke-width="2.6"/>
<line x1="1086.50" y1="1029.80" x2="1173.20" y2="1029.80" stroke="#ff0000" stroke-width="2.6"/>
<text transform="translate(1180.69 998.00) scale(1.0133 1)" font-size="37.50" font-family='"Liberation Sans", Arial, Helvetica, sans-serif' fill="#000">GO</text>
<text transform="translate(1181.39 1042.10) scale(0.9870 1)" font-size="38.50" font-family='"Liberation Sans", Arial, Helvetica, sans-serif' fill="#000">GAD</text>
<text transform="translate(1328.30 997.60) scale(0.9818 1)" font-size="38.50" font-family='"Liberation Sans", Arial, Helvetica, sans-serif' fill="#000">D</text>
<text transform="translate(1656.66 919.30) scale(1.0267 1)" font-size="37.50" font-family='"Liberation Sans", Arial, Helvetica, sans-serif' fill="#000">G</text>
<text x="1802.5" y="1201.5" font-size="31" font-family='"Liberation Serif", "Times New Roman", serif' fill="#333">I<tspan font-size="21" dy="9">D</tspan><tspan dy="-9">/I</tspan><tspan font-size="21" dy="9">G</tspan><tspan dy="-9">=0.92</tspan></text>
<text x="1799.3" y="1423.0" font-size="31" font-family='"Liberation Serif", "Times New Roman", serif' fill="#333">I<tspan font-size="21" dy="9">D</tspan><tspan dy="-9">/I</tspan><tspan font-size="21" dy="9">G</tspan><tspan dy="-9">=0.89</tspan></text>
<text transform="translate(1875.65 880.80) scale(1.0389 1)" font-size="51.40" font-family='"Liberation Serif", "Times New Roman", serif' fill="#000">(d)</text>
</svg></body></html>
